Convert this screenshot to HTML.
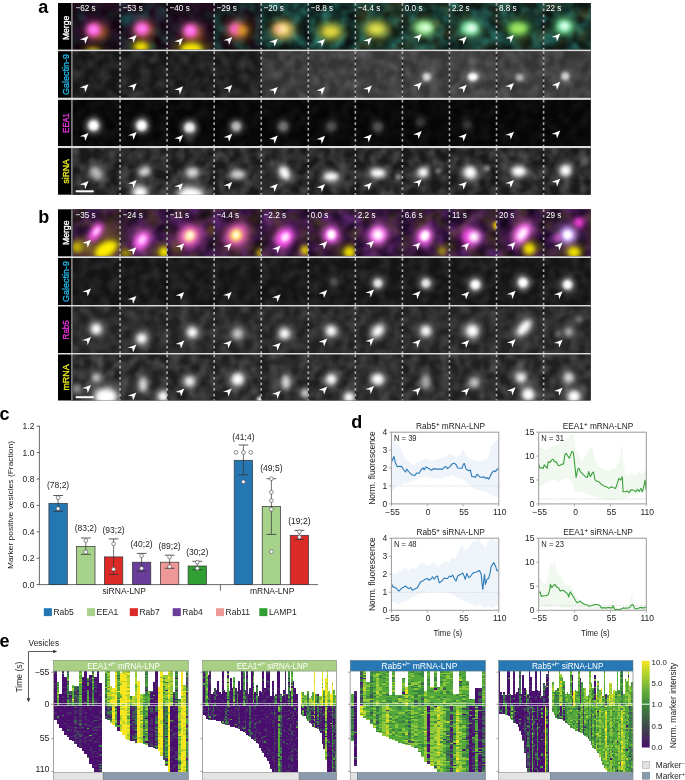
<!DOCTYPE html>
<html><head><meta charset="utf-8"><style>
html,body{margin:0;padding:0;background:#fff;width:685px;height:780px;overflow:hidden}
svg{display:block;font-family:"Liberation Sans",sans-serif;will-change:transform}
</style></head><body>
<svg width="685" height="780" viewBox="0 0 685 780">
<defs>
<filter id="mteal" x="0" y="0" width="100%" height="100%" color-interpolation-filters="sRGB"><feTurbulence type="fractalNoise" baseFrequency="0.09" numOctaves="2" seed="3"/><feGaussianBlur stdDeviation="1.0"/><feColorMatrix type="matrix" values="0 0 0 0 0.176 0 0 0 0 0.471 0 0 0 0 0.431 2.4 0 0 0 -0.75"/></filter>
<filter id="molive" x="0" y="0" width="100%" height="100%" color-interpolation-filters="sRGB"><feTurbulence type="fractalNoise" baseFrequency="0.07" numOctaves="2" seed="7"/><feGaussianBlur stdDeviation="1.0"/><feColorMatrix type="matrix" values="0 0 0 0 0.353 0 0 0 0 0.314 0 0 0 0 0.118 2.0 0 0 0 -0.8"/></filter>
<filter id="mpurp" x="0" y="0" width="100%" height="100%" color-interpolation-filters="sRGB"><feTurbulence type="fractalNoise" baseFrequency="0.08" numOctaves="2" seed="5"/><feGaussianBlur stdDeviation="1.0"/><feColorMatrix type="matrix" values="0 0 0 0 0.235 0 0 0 0 0.078 0 0 0 0 0.235 2.0 0 0 0 -0.7"/></filter>
<filter id="mpurp2" x="0" y="0" width="100%" height="100%" color-interpolation-filters="sRGB"><feTurbulence type="fractalNoise" baseFrequency="0.08" numOctaves="2" seed="4"/><feGaussianBlur stdDeviation="1.0"/><feColorMatrix type="matrix" values="0 0 0 0 0.392 0 0 0 0 0.165 0 0 0 0 0.463 2.2 0 0 0 -0.6"/></filter>
<filter id="mgray" x="0" y="0" width="100%" height="100%" color-interpolation-filters="sRGB"><feTurbulence type="fractalNoise" baseFrequency="0.1" numOctaves="2" seed="9"/><feGaussianBlur stdDeviation="0.8"/><feColorMatrix type="matrix" values="0 0 0 0 0.431 0 0 0 0 0.431 0 0 0 0 0.431 1.6 0 0 0 -0.55"/></filter>
<filter id="mdark" x="0" y="0" width="100%" height="100%" color-interpolation-filters="sRGB"><feTurbulence type="fractalNoise" baseFrequency="0.08" numOctaves="2" seed="11"/><feGaussianBlur stdDeviation="1.0"/><feColorMatrix type="matrix" values="0 0 0 0 0.000 0 0 0 0 0.000 0 0 0 0 0.000 2.0 0 0 0 -0.7"/></filter>
<filter id="bl8" x="-100%" y="-100%" width="300%" height="300%"><feGaussianBlur stdDeviation="0.8"/></filter>
<filter id="bl9" x="-100%" y="-100%" width="300%" height="300%"><feGaussianBlur stdDeviation="0.9"/></filter>
<filter id="bl10" x="-100%" y="-100%" width="300%" height="300%"><feGaussianBlur stdDeviation="1.0"/></filter>
<filter id="bl11" x="-100%" y="-100%" width="300%" height="300%"><feGaussianBlur stdDeviation="1.1"/></filter>
<filter id="bl12" x="-100%" y="-100%" width="300%" height="300%"><feGaussianBlur stdDeviation="1.2"/></filter>
<filter id="bl13" x="-100%" y="-100%" width="300%" height="300%"><feGaussianBlur stdDeviation="1.3"/></filter>
<filter id="bl14" x="-100%" y="-100%" width="300%" height="300%"><feGaussianBlur stdDeviation="1.4"/></filter>
<filter id="bl15" x="-100%" y="-100%" width="300%" height="300%"><feGaussianBlur stdDeviation="1.5"/></filter>
<filter id="bl16" x="-100%" y="-100%" width="300%" height="300%"><feGaussianBlur stdDeviation="1.6"/></filter>
<filter id="bl17" x="-100%" y="-100%" width="300%" height="300%"><feGaussianBlur stdDeviation="1.7"/></filter>
<filter id="bl18" x="-100%" y="-100%" width="300%" height="300%"><feGaussianBlur stdDeviation="1.8"/></filter>
<filter id="bl19" x="-100%" y="-100%" width="300%" height="300%"><feGaussianBlur stdDeviation="1.9"/></filter>
<filter id="bl20" x="-100%" y="-100%" width="300%" height="300%"><feGaussianBlur stdDeviation="2.0"/></filter>
<filter id="bl21" x="-100%" y="-100%" width="300%" height="300%"><feGaussianBlur stdDeviation="2.1"/></filter>
<filter id="bl22" x="-100%" y="-100%" width="300%" height="300%"><feGaussianBlur stdDeviation="2.2"/></filter>
<filter id="bl23" x="-100%" y="-100%" width="300%" height="300%"><feGaussianBlur stdDeviation="2.3"/></filter>
<filter id="bl24" x="-100%" y="-100%" width="300%" height="300%"><feGaussianBlur stdDeviation="2.4"/></filter>
<filter id="bl25" x="-100%" y="-100%" width="300%" height="300%"><feGaussianBlur stdDeviation="2.5"/></filter>
<filter id="bl26" x="-100%" y="-100%" width="300%" height="300%"><feGaussianBlur stdDeviation="2.6"/></filter>
<filter id="bl27" x="-100%" y="-100%" width="300%" height="300%"><feGaussianBlur stdDeviation="2.7"/></filter>
<filter id="bl28" x="-100%" y="-100%" width="300%" height="300%"><feGaussianBlur stdDeviation="2.8"/></filter>
<filter id="bl29" x="-100%" y="-100%" width="300%" height="300%"><feGaussianBlur stdDeviation="2.9"/></filter>
<filter id="bl30" x="-100%" y="-100%" width="300%" height="300%"><feGaussianBlur stdDeviation="3.0"/></filter>
<filter id="bl31" x="-100%" y="-100%" width="300%" height="300%"><feGaussianBlur stdDeviation="3.1"/></filter>
<filter id="bl32" x="-100%" y="-100%" width="300%" height="300%"><feGaussianBlur stdDeviation="3.2"/></filter>
<filter id="bl33" x="-100%" y="-100%" width="300%" height="300%"><feGaussianBlur stdDeviation="3.3"/></filter>
<filter id="bl34" x="-100%" y="-100%" width="300%" height="300%"><feGaussianBlur stdDeviation="3.4"/></filter>
<filter id="bl35" x="-100%" y="-100%" width="300%" height="300%"><feGaussianBlur stdDeviation="3.5"/></filter>
<filter id="bl36" x="-100%" y="-100%" width="300%" height="300%"><feGaussianBlur stdDeviation="3.6"/></filter>
<filter id="bl37" x="-100%" y="-100%" width="300%" height="300%"><feGaussianBlur stdDeviation="3.7"/></filter>
<filter id="bl38" x="-100%" y="-100%" width="300%" height="300%"><feGaussianBlur stdDeviation="3.8"/></filter>
<filter id="bl39" x="-100%" y="-100%" width="300%" height="300%"><feGaussianBlur stdDeviation="3.9"/></filter>
<filter id="bl40" x="-100%" y="-100%" width="300%" height="300%"><feGaussianBlur stdDeviation="4.0"/></filter>
<filter id="bl41" x="-100%" y="-100%" width="300%" height="300%"><feGaussianBlur stdDeviation="4.1"/></filter>
<filter id="bl42" x="-100%" y="-100%" width="300%" height="300%"><feGaussianBlur stdDeviation="4.2"/></filter>
<filter id="bl43" x="-100%" y="-100%" width="300%" height="300%"><feGaussianBlur stdDeviation="4.3"/></filter>
<filter id="bl44" x="-100%" y="-100%" width="300%" height="300%"><feGaussianBlur stdDeviation="4.4"/></filter>
<filter id="bl45" x="-100%" y="-100%" width="300%" height="300%"><feGaussianBlur stdDeviation="4.5"/></filter>
<filter id="bl46" x="-100%" y="-100%" width="300%" height="300%"><feGaussianBlur stdDeviation="4.6"/></filter>
<filter id="bl47" x="-100%" y="-100%" width="300%" height="300%"><feGaussianBlur stdDeviation="4.7"/></filter>
<filter id="bl48" x="-100%" y="-100%" width="300%" height="300%"><feGaussianBlur stdDeviation="4.8"/></filter>
<filter id="bl49" x="-100%" y="-100%" width="300%" height="300%"><feGaussianBlur stdDeviation="4.9"/></filter>
<filter id="bl50" x="-100%" y="-100%" width="300%" height="300%"><feGaussianBlur stdDeviation="5.0"/></filter>
</defs>

<text x="38.3" y="12.9" font-size="18" font-weight="bold">a</text>
<text x="38.3" y="222.7" font-size="18" font-weight="bold">b</text>
<text x="-0.6" y="420.4" font-size="18" font-weight="bold">c</text>
<text x="351.2" y="427.7" font-size="18" font-weight="bold">d</text>
<text x="-0.4" y="646.8" font-size="18" font-weight="bold">e</text>

<rect x="58.0" y="3.0" width="532.7" height="191.7" fill="#000"/>
<clipPath id="ca00"><rect x="73.00" y="3.00" width="47.06" height="46.60"/></clipPath>
<g clip-path="url(#ca00)">
<rect x="73.00" y="3.00" width="47.06" height="46.60" fill="#14060f"/>
<rect x="73.00" y="3.00" width="47.06" height="46.60" filter="url(#mteal)" opacity="0.18"/>
<rect x="73.00" y="3.00" width="47.06" height="46.60" filter="url(#mpurp)" opacity="0.60"/>
<ellipse cx="93.6" cy="29.8" rx="11.9" ry="11.049999999999999" fill="#ff5ae0" opacity="0.28" filter="url(#bl48)"/>
<ellipse cx="93.0" cy="52.0" rx="11.9" ry="6.8" fill="#d8c800" opacity="0.28" filter="url(#bl37)"/>
<ellipse cx="98.0" cy="32.0" rx="10" ry="8" fill="#b86a20" opacity="0.75" filter="url(#bl35)"/>
<ellipse cx="93.6" cy="29.8" rx="7" ry="6.5" fill="#ff5ae0" opacity="1" filter="url(#bl28)"/>
<ellipse cx="93.6" cy="29.5" rx="3.5" ry="3" fill="#ff9cff" opacity="0.8" filter="url(#bl20)"/>
<ellipse cx="93.0" cy="52.0" rx="7" ry="4" fill="#d8c800" opacity="0.9" filter="url(#bl22)"/>
<ellipse cx="81.0" cy="17.0" rx="4" ry="4" fill="#1a5a5a" opacity="0.5" filter="url(#bl25)"/>
<polygon points="88.5,36.0 79.8,39.4 84.4,39.9 85.2,44.1" fill="#fff"/>
</g>
<clipPath id="ca01"><rect x="120.06" y="3.00" width="47.06" height="46.60"/></clipPath>
<g clip-path="url(#ca01)">
<rect x="120.06" y="3.00" width="47.06" height="46.60" fill="#14060f"/>
<rect x="120.06" y="3.00" width="47.06" height="46.60" filter="url(#mteal)" opacity="0.45"/>
<rect x="120.06" y="3.00" width="47.06" height="46.60" filter="url(#mpurp)" opacity="0.50"/>
<ellipse cx="142.0" cy="28.7" rx="11.9" ry="11.049999999999999" fill="#ff5ae0" opacity="0.28" filter="url(#bl48)"/>
<ellipse cx="141.1" cy="47.0" rx="11.9" ry="8.5" fill="#f0e000" opacity="0.28" filter="url(#bl41)"/>
<ellipse cx="144.1" cy="30.0" rx="10" ry="8" fill="#b86a20" opacity="0.7" filter="url(#bl35)"/>
<ellipse cx="142.0" cy="28.7" rx="7" ry="6.5" fill="#ff5ae0" opacity="1" filter="url(#bl28)"/>
<ellipse cx="142.1" cy="28.5" rx="3.5" ry="3" fill="#ff9cff" opacity="0.8" filter="url(#bl20)"/>
<ellipse cx="141.1" cy="47.0" rx="7" ry="5" fill="#f0e000" opacity="1" filter="url(#bl24)"/>
<ellipse cx="126.7" cy="19.5" rx="6" ry="7" fill="#1a6060" opacity="0.7" filter="url(#bl30)"/>
<polygon points="136.7,35.0 128.0,38.4 132.6,38.9 133.4,43.1" fill="#fff"/>
</g>
<clipPath id="ca02"><rect x="167.12" y="3.00" width="47.06" height="46.60"/></clipPath>
<g clip-path="url(#ca02)">
<rect x="167.12" y="3.00" width="47.06" height="46.60" fill="#14060f"/>
<rect x="167.12" y="3.00" width="47.06" height="46.60" filter="url(#mteal)" opacity="0.22"/>
<rect x="167.12" y="3.00" width="47.06" height="46.60" filter="url(#mpurp)" opacity="0.50"/>
<ellipse cx="190.4" cy="30.8" rx="11.9" ry="11.049999999999999" fill="#ff5ae0" opacity="0.28" filter="url(#bl48)"/>
<ellipse cx="191.4" cy="49.0" rx="18.7" ry="10.2" fill="#f8e800" opacity="0.28" filter="url(#bl48)"/>
<ellipse cx="193.1" cy="33.0" rx="10" ry="8" fill="#b86a20" opacity="0.7" filter="url(#bl35)"/>
<ellipse cx="190.4" cy="30.8" rx="7" ry="6.5" fill="#ff5ae0" opacity="1" filter="url(#bl28)"/>
<ellipse cx="190.4" cy="30.5" rx="3.5" ry="3" fill="#ff9cff" opacity="0.8" filter="url(#bl20)"/>
<ellipse cx="191.4" cy="49.0" rx="11" ry="6" fill="#f8e800" opacity="1" filter="url(#bl28)"/>
<polygon points="183.1,38.1 174.4,41.5 179.0,42.0 179.8,46.2" fill="#fff"/>
</g>
<clipPath id="ca03"><rect x="214.18" y="3.00" width="47.06" height="46.60"/></clipPath>
<g clip-path="url(#ca03)">
<rect x="214.18" y="3.00" width="47.06" height="46.60" fill="#0e0a0c"/>
<rect x="214.18" y="3.00" width="47.06" height="46.60" filter="url(#mteal)" opacity="0.50"/>
<rect x="214.18" y="3.00" width="47.06" height="46.60" filter="url(#mpurp)" opacity="0.35"/>
<ellipse cx="239.2" cy="30.5" rx="15.299999999999999" ry="11.9" fill="#c07820" opacity="0.28" filter="url(#bl50)"/>
<ellipse cx="235.2" cy="29.0" rx="9.35" ry="9.35" fill="#ff60d0" opacity="0.28" filter="url(#bl42)"/>
<ellipse cx="239.2" cy="30.5" rx="9" ry="7" fill="#c07820" opacity="0.85" filter="url(#bl30)"/>
<ellipse cx="235.2" cy="29.0" rx="5.5" ry="5.5" fill="#ff60d0" opacity="1" filter="url(#bl25)"/>
<ellipse cx="241.6" cy="30.4" rx="4.5" ry="4.5" fill="#e0a020" opacity="0.8" filter="url(#bl22)"/>
<polygon points="232.3,36.9 223.6,40.3 228.2,40.8 229.0,45.0" fill="#fff"/>
</g>
<clipPath id="ca04"><rect x="261.24" y="3.00" width="47.06" height="46.60"/></clipPath>
<g clip-path="url(#ca04)">
<rect x="261.24" y="3.00" width="47.06" height="46.60" fill="#10201e"/>
<rect x="261.24" y="3.00" width="47.06" height="46.60" filter="url(#mteal)" opacity="0.90"/>
<rect x="261.24" y="3.00" width="47.06" height="46.60" filter="url(#mdark)" opacity="0.60"/>
<ellipse cx="282.7" cy="29.5" rx="14.45" ry="11.049999999999999" fill="#f8d870" opacity="0.28" filter="url(#bl50)"/>
<ellipse cx="283.2" cy="30.0" rx="11" ry="9" fill="#a08030" opacity="0.7" filter="url(#bl35)"/>
<ellipse cx="282.7" cy="29.5" rx="8.5" ry="6.5" fill="#f8d870" opacity="1" filter="url(#bl30)"/>
<ellipse cx="282.2" cy="29.0" rx="4" ry="3.5" fill="#fff0c0" opacity="0.8" filter="url(#bl20)"/>
<ellipse cx="278.2" cy="29.0" rx="4" ry="4" fill="#ffa0a0" opacity="0.5" filter="url(#bl22)"/>
<polygon points="277.8,38.7 269.1,42.1 273.7,42.6 274.5,46.8" fill="#fff"/>
</g>
<clipPath id="ca05"><rect x="308.30" y="3.00" width="47.06" height="46.60"/></clipPath>
<g clip-path="url(#ca05)">
<rect x="308.30" y="3.00" width="47.06" height="46.60" fill="#10201e"/>
<rect x="308.30" y="3.00" width="47.06" height="46.60" filter="url(#mteal)" opacity="0.90"/>
<rect x="308.30" y="3.00" width="47.06" height="46.60" filter="url(#mdark)" opacity="0.60"/>
<ellipse cx="330.8" cy="31.5" rx="15.299999999999999" ry="9.35" fill="#f0e040" opacity="0.28" filter="url(#bl50)"/>
<ellipse cx="330.8" cy="31.5" rx="12" ry="8" fill="#708a30" opacity="0.7" filter="url(#bl35)"/>
<ellipse cx="330.8" cy="31.5" rx="9" ry="5.5" fill="#f0e040" opacity="1" filter="url(#bl30)"/>
<polygon points="325.1,38.9 316.4,42.3 321.0,42.8 321.8,47.0" fill="#fff"/>
</g>
<clipPath id="ca06"><rect x="355.36" y="3.00" width="47.06" height="46.60"/></clipPath>
<g clip-path="url(#ca06)">
<rect x="355.36" y="3.00" width="47.06" height="46.60" fill="#14221a"/>
<rect x="355.36" y="3.00" width="47.06" height="46.60" filter="url(#mteal)" opacity="0.80"/>
<rect x="355.36" y="3.00" width="47.06" height="46.60" filter="url(#molive)" opacity="0.60"/>
<rect x="355.36" y="3.00" width="47.06" height="46.60" filter="url(#mdark)" opacity="0.50"/>
<ellipse cx="376.1" cy="29.0" rx="15.299999999999999" ry="9.35" fill="#e8e850" opacity="0.28" filter="url(#bl50)"/>
<ellipse cx="376.4" cy="29.0" rx="12" ry="8" fill="#809030" opacity="0.7" filter="url(#bl35)"/>
<ellipse cx="376.1" cy="29.0" rx="9" ry="5.5" fill="#e8e850" opacity="1" filter="url(#bl30)"/>
<polygon points="371.9,37.4 363.2,40.8 367.8,41.3 368.6,45.5" fill="#fff"/>
</g>
<clipPath id="ca07"><rect x="402.42" y="3.00" width="47.06" height="46.60"/></clipPath>
<g clip-path="url(#ca07)">
<rect x="402.42" y="3.00" width="47.06" height="46.60" fill="#10201e"/>
<rect x="402.42" y="3.00" width="47.06" height="46.60" filter="url(#mteal)" opacity="0.90"/>
<rect x="402.42" y="3.00" width="47.06" height="46.60" filter="url(#molive)" opacity="0.50"/>
<rect x="402.42" y="3.00" width="47.06" height="46.60" filter="url(#mdark)" opacity="0.50"/>
<ellipse cx="424.4" cy="27.8" rx="15.299999999999999" ry="10.2" fill="#a8f0a0" opacity="0.28" filter="url(#bl48)"/>
<ellipse cx="425.4" cy="27.5" rx="7.6499999999999995" ry="5.1" fill="#e8fff0" opacity="0.28" filter="url(#bl34)"/>
<ellipse cx="424.4" cy="28.0" rx="11" ry="8" fill="#50a040" opacity="0.7" filter="url(#bl35)"/>
<ellipse cx="424.4" cy="27.8" rx="9" ry="6" fill="#a8f0a0" opacity="1" filter="url(#bl28)"/>
<ellipse cx="425.4" cy="27.5" rx="4.5" ry="3" fill="#e8fff0" opacity="0.9" filter="url(#bl20)"/>
<ellipse cx="436.4" cy="23.0" rx="3" ry="3" fill="#807020" opacity="0.5" filter="url(#bl20)"/>
<polygon points="421.8,34.1 413.1,37.5 417.7,38.0 418.5,42.2" fill="#fff"/>
</g>
<clipPath id="ca08"><rect x="449.48" y="3.00" width="47.06" height="46.60"/></clipPath>
<g clip-path="url(#ca08)">
<rect x="449.48" y="3.00" width="47.06" height="46.60" fill="#10201e"/>
<rect x="449.48" y="3.00" width="47.06" height="46.60" filter="url(#mteal)" opacity="0.90"/>
<rect x="449.48" y="3.00" width="47.06" height="46.60" filter="url(#molive)" opacity="0.40"/>
<rect x="449.48" y="3.00" width="47.06" height="46.60" filter="url(#mdark)" opacity="0.50"/>
<ellipse cx="470.1" cy="28.4" rx="13.6" ry="10.2" fill="#90f0b0" opacity="0.28" filter="url(#bl48)"/>
<ellipse cx="471.5" cy="28.0" rx="7.6499999999999995" ry="5.95" fill="#f0fffc" opacity="0.28" filter="url(#bl34)"/>
<ellipse cx="470.1" cy="28.4" rx="11" ry="8" fill="#40a060" opacity="0.7" filter="url(#bl35)"/>
<ellipse cx="470.1" cy="28.4" rx="8" ry="6" fill="#90f0b0" opacity="1" filter="url(#bl28)"/>
<ellipse cx="471.5" cy="28.0" rx="4.5" ry="3.5" fill="#f0fffc" opacity="1" filter="url(#bl20)"/>
<polygon points="466.8,36.6 458.1,40.0 462.7,40.5 463.5,44.7" fill="#fff"/>
</g>
<clipPath id="ca09"><rect x="496.54" y="3.00" width="47.06" height="46.60"/></clipPath>
<g clip-path="url(#ca09)">
<rect x="496.54" y="3.00" width="47.06" height="46.60" fill="#10201e"/>
<rect x="496.54" y="3.00" width="47.06" height="46.60" filter="url(#mteal)" opacity="0.90"/>
<rect x="496.54" y="3.00" width="47.06" height="46.60" filter="url(#molive)" opacity="0.50"/>
<rect x="496.54" y="3.00" width="47.06" height="46.60" filter="url(#mdark)" opacity="0.50"/>
<ellipse cx="518.3" cy="28.4" rx="14.45" ry="9.35" fill="#a0e860" opacity="0.28" filter="url(#bl48)"/>
<ellipse cx="518.3" cy="28.4" rx="11" ry="7" fill="#40a040" opacity="0.7" filter="url(#bl35)"/>
<ellipse cx="518.3" cy="28.4" rx="8.5" ry="5.5" fill="#a0e860" opacity="1" filter="url(#bl28)"/>
<polygon points="514.0,34.8 505.3,38.2 509.9,38.7 510.7,42.9" fill="#fff"/>
</g>
<clipPath id="ca010"><rect x="543.60" y="3.00" width="47.06" height="46.60"/></clipPath>
<g clip-path="url(#ca010)">
<rect x="543.60" y="3.00" width="47.06" height="46.60" fill="#10201e"/>
<rect x="543.60" y="3.00" width="47.06" height="46.60" filter="url(#mteal)" opacity="0.90"/>
<rect x="543.60" y="3.00" width="47.06" height="46.60" filter="url(#molive)" opacity="0.50"/>
<rect x="543.60" y="3.00" width="47.06" height="46.60" filter="url(#mdark)" opacity="0.50"/>
<ellipse cx="563.9" cy="26.5" rx="11.9" ry="10.2" fill="#80f0b0" opacity="0.28" filter="url(#bl44)"/>
<ellipse cx="564.6" cy="26.0" rx="6.8" ry="5.95" fill="#f0fffc" opacity="0.28" filter="url(#bl34)"/>
<ellipse cx="563.9" cy="26.5" rx="10" ry="8" fill="#40a050" opacity="0.7" filter="url(#bl35)"/>
<ellipse cx="563.9" cy="26.5" rx="7" ry="6" fill="#80f0b0" opacity="1" filter="url(#bl26)"/>
<ellipse cx="564.6" cy="26.0" rx="4" ry="3.5" fill="#f0fffc" opacity="1" filter="url(#bl20)"/>
<ellipse cx="583.6" cy="15.0" rx="4" ry="4" fill="#806020" opacity="0.5" filter="url(#bl25)"/>
<polygon points="560.3,33.6 551.6,37.0 556.2,37.5 557.0,41.7" fill="#fff"/>
</g>
<text transform="translate(68.8 27.9) rotate(-90)" text-anchor="middle" font-size="9.6" fill="#ffffff" stroke="#ffffff" stroke-width="0.35" textLength="24.3" lengthAdjust="spacingAndGlyphs">Merge</text>
<clipPath id="ca10"><rect x="73.00" y="51.20" width="47.06" height="46.50"/></clipPath>
<g clip-path="url(#ca10)">
<rect x="73.00" y="51.20" width="47.06" height="46.50" fill="#161616"/>
<rect x="73.00" y="51.20" width="47.06" height="46.50" filter="url(#mgray)" opacity="0.47"/>
<polygon points="88.5,84.2 79.8,87.6 84.4,88.1 85.2,92.3" fill="#fff"/>
</g>
<clipPath id="ca11"><rect x="120.06" y="51.20" width="47.06" height="46.50"/></clipPath>
<g clip-path="url(#ca11)">
<rect x="120.06" y="51.20" width="47.06" height="46.50" fill="#181818"/>
<rect x="120.06" y="51.20" width="47.06" height="46.50" filter="url(#mgray)" opacity="0.50"/>
<polygon points="136.7,83.2 128.0,86.6 132.6,87.1 133.4,91.3" fill="#fff"/>
</g>
<clipPath id="ca12"><rect x="167.12" y="51.20" width="47.06" height="46.50"/></clipPath>
<g clip-path="url(#ca12)">
<rect x="167.12" y="51.20" width="47.06" height="46.50" fill="#171717"/>
<rect x="167.12" y="51.20" width="47.06" height="46.50" filter="url(#mgray)" opacity="0.49"/>
<polygon points="183.1,86.3 174.4,89.7 179.0,90.2 179.8,94.4" fill="#fff"/>
</g>
<clipPath id="ca13"><rect x="214.18" y="51.20" width="47.06" height="46.50"/></clipPath>
<g clip-path="url(#ca13)">
<rect x="214.18" y="51.20" width="47.06" height="46.50" fill="#181818"/>
<rect x="214.18" y="51.20" width="47.06" height="46.50" filter="url(#mgray)" opacity="0.50"/>
<polygon points="232.3,85.1 223.6,88.5 228.2,89.0 229.0,93.2" fill="#fff"/>
</g>
<clipPath id="ca14"><rect x="261.24" y="51.20" width="47.06" height="46.50"/></clipPath>
<g clip-path="url(#ca14)">
<rect x="261.24" y="51.20" width="47.06" height="46.50" fill="#323232"/>
<rect x="261.24" y="51.20" width="47.06" height="46.50" filter="url(#mgray)" opacity="0.77"/>
<polygon points="277.8,86.9 269.1,90.3 273.7,90.8 274.5,95.0" fill="#fff"/>
</g>
<clipPath id="ca15"><rect x="308.30" y="51.20" width="47.06" height="46.50"/></clipPath>
<g clip-path="url(#ca15)">
<rect x="308.30" y="51.20" width="47.06" height="46.50" fill="#353535"/>
<rect x="308.30" y="51.20" width="47.06" height="46.50" filter="url(#mgray)" opacity="0.80"/>
<polygon points="325.1,87.1 316.4,90.5 321.0,91.0 321.8,95.2" fill="#fff"/>
</g>
<clipPath id="ca16"><rect x="355.36" y="51.20" width="47.06" height="46.50"/></clipPath>
<g clip-path="url(#ca16)">
<rect x="355.36" y="51.20" width="47.06" height="46.50" fill="#373737"/>
<rect x="355.36" y="51.20" width="47.06" height="46.50" filter="url(#mgray)" opacity="0.82"/>
<polygon points="371.9,85.6 363.2,89.0 367.8,89.5 368.6,93.7" fill="#fff"/>
</g>
<clipPath id="ca17"><rect x="402.42" y="51.20" width="47.06" height="46.50"/></clipPath>
<g clip-path="url(#ca17)">
<rect x="402.42" y="51.20" width="47.06" height="46.50" fill="#373737"/>
<rect x="402.42" y="51.20" width="47.06" height="46.50" filter="url(#mgray)" opacity="0.82"/>
<ellipse cx="426.7" cy="76.9" rx="6.8" ry="6.8" fill="#d8d8d8" opacity="0.28" filter="url(#bl31)"/>
<ellipse cx="426.7" cy="76.9" rx="4" ry="4" fill="#d8d8d8" opacity="1" filter="url(#bl18)"/>
<polygon points="421.8,82.3 413.1,85.7 417.7,86.2 418.5,90.4" fill="#fff"/>
</g>
<clipPath id="ca18"><rect x="449.48" y="51.20" width="47.06" height="46.50"/></clipPath>
<g clip-path="url(#ca18)">
<rect x="449.48" y="51.20" width="47.06" height="46.50" fill="#373737"/>
<rect x="449.48" y="51.20" width="47.06" height="46.50" filter="url(#mgray)" opacity="0.82"/>
<ellipse cx="472.8" cy="76.9" rx="8.5" ry="6.8" fill="#ffffff" opacity="0.28" filter="url(#bl31)"/>
<ellipse cx="472.8" cy="76.9" rx="5" ry="4" fill="#ffffff" opacity="1" filter="url(#bl18)"/>
<ellipse cx="471.4" cy="61.2" rx="3" ry="3" fill="#888" opacity="0.7" filter="url(#bl20)"/>
<polygon points="466.8,84.8 458.1,88.2 462.7,88.7 463.5,92.9" fill="#fff"/>
</g>
<clipPath id="ca19"><rect x="496.54" y="51.20" width="47.06" height="46.50"/></clipPath>
<g clip-path="url(#ca19)">
<rect x="496.54" y="51.20" width="47.06" height="46.50" fill="#363636"/>
<rect x="496.54" y="51.20" width="47.06" height="46.50" filter="url(#mgray)" opacity="0.81"/>
<ellipse cx="519.7" cy="77.4" rx="6.8" ry="5.95" fill="#b0b0b0" opacity="0.28" filter="url(#bl31)"/>
<ellipse cx="519.7" cy="77.4" rx="4" ry="3.5" fill="#b0b0b0" opacity="1" filter="url(#bl18)"/>
<polygon points="514.0,83.0 505.3,86.4 509.9,86.9 510.7,91.1" fill="#fff"/>
</g>
<clipPath id="ca110"><rect x="543.60" y="51.20" width="47.06" height="46.50"/></clipPath>
<g clip-path="url(#ca110)">
<rect x="543.60" y="51.20" width="47.06" height="46.50" fill="#353535"/>
<rect x="543.60" y="51.20" width="47.06" height="46.50" filter="url(#mgray)" opacity="0.80"/>
<ellipse cx="565.3" cy="76.2" rx="6.8" ry="6.8" fill="#d0d0d0" opacity="0.28" filter="url(#bl31)"/>
<ellipse cx="565.3" cy="76.2" rx="4" ry="4" fill="#d0d0d0" opacity="1" filter="url(#bl18)"/>
<polygon points="560.3,81.8 551.6,85.2 556.2,85.7 557.0,89.9" fill="#fff"/>
</g>
<text transform="translate(68.8 74.5) rotate(-90)" text-anchor="middle" font-size="9.6" fill="#22b8e8" stroke="#22b8e8" stroke-width="0.35" textLength="41" lengthAdjust="spacingAndGlyphs">Galectin-9</text>
<clipPath id="ca20"><rect x="73.00" y="99.90" width="47.06" height="46.10"/></clipPath>
<g clip-path="url(#ca20)">
<rect x="73.00" y="99.90" width="47.06" height="46.10" fill="#060606"/>
<rect x="73.00" y="99.90" width="47.06" height="46.10" filter="url(#mgray)" opacity="0.18"/>
<ellipse cx="93.6" cy="125.6" rx="8.5" ry="8.5" fill="#ffffff" opacity="0.28" filter="url(#bl31)"/>
<ellipse cx="93.6" cy="125.6" rx="7" ry="7" fill="#ffffff" opacity="0.35" filter="url(#bl25)"/>
<ellipse cx="93.6" cy="125.6" rx="5" ry="5" fill="#ffffff" opacity="1" filter="url(#bl18)"/>
<polygon points="88.5,132.9 79.8,136.3 84.4,136.8 85.2,141.0" fill="#fff"/>
</g>
<clipPath id="ca21"><rect x="120.06" y="99.90" width="47.06" height="46.10"/></clipPath>
<g clip-path="url(#ca21)">
<rect x="120.06" y="99.90" width="47.06" height="46.10" fill="#060606"/>
<rect x="120.06" y="99.90" width="47.06" height="46.10" filter="url(#mgray)" opacity="0.18"/>
<ellipse cx="141.6" cy="125.6" rx="8.5" ry="8.5" fill="#ffffff" opacity="0.28" filter="url(#bl31)"/>
<ellipse cx="141.6" cy="125.6" rx="7" ry="7" fill="#ffffff" opacity="0.35" filter="url(#bl25)"/>
<ellipse cx="141.6" cy="125.6" rx="5" ry="5" fill="#ffffff" opacity="1" filter="url(#bl18)"/>
<polygon points="136.7,131.9 128.0,135.3 132.6,135.8 133.4,140.0" fill="#fff"/>
</g>
<clipPath id="ca22"><rect x="167.12" y="99.90" width="47.06" height="46.10"/></clipPath>
<g clip-path="url(#ca22)">
<rect x="167.12" y="99.90" width="47.06" height="46.10" fill="#060606"/>
<rect x="167.12" y="99.90" width="47.06" height="46.10" filter="url(#mgray)" opacity="0.18"/>
<ellipse cx="189.6" cy="127.8" rx="8.5" ry="8.5" fill="#f0f0f0" opacity="0.28" filter="url(#bl31)"/>
<ellipse cx="189.6" cy="127.8" rx="7" ry="7" fill="#f0f0f0" opacity="0.35" filter="url(#bl25)"/>
<ellipse cx="189.6" cy="127.8" rx="5" ry="5" fill="#f0f0f0" opacity="1" filter="url(#bl18)"/>
<ellipse cx="189.1" cy="137.9" rx="3" ry="5" fill="#505050" opacity="0.8" filter="url(#bl25)"/>
<polygon points="183.1,135.0 174.4,138.4 179.0,138.9 179.8,143.1" fill="#fff"/>
</g>
<clipPath id="ca23"><rect x="214.18" y="99.90" width="47.06" height="46.10"/></clipPath>
<g clip-path="url(#ca23)">
<rect x="214.18" y="99.90" width="47.06" height="46.10" fill="#060606"/>
<rect x="214.18" y="99.90" width="47.06" height="46.10" filter="url(#mgray)" opacity="0.18"/>
<ellipse cx="236.3" cy="126.4" rx="7.6499999999999995" ry="7.6499999999999995" fill="#b8b8b8" opacity="0.28" filter="url(#bl31)"/>
<ellipse cx="236.3" cy="126.4" rx="6.5" ry="6.5" fill="#b8b8b8" opacity="0.35" filter="url(#bl25)"/>
<ellipse cx="236.3" cy="126.4" rx="4.5" ry="4.5" fill="#b8b8b8" opacity="1" filter="url(#bl18)"/>
<polygon points="232.3,133.8 223.6,137.2 228.2,137.7 229.0,141.9" fill="#fff"/>
</g>
<clipPath id="ca24"><rect x="261.24" y="99.90" width="47.06" height="46.10"/></clipPath>
<g clip-path="url(#ca24)">
<rect x="261.24" y="99.90" width="47.06" height="46.10" fill="#060606"/>
<rect x="261.24" y="99.90" width="47.06" height="46.10" filter="url(#mgray)" opacity="0.18"/>
<ellipse cx="283.2" cy="126.4" rx="7.6499999999999995" ry="7.6499999999999995" fill="#707070" opacity="0.28" filter="url(#bl31)"/>
<ellipse cx="283.2" cy="126.4" rx="6.5" ry="6.5" fill="#707070" opacity="0.35" filter="url(#bl25)"/>
<ellipse cx="283.2" cy="126.4" rx="4.5" ry="4.5" fill="#707070" opacity="1" filter="url(#bl18)"/>
<polygon points="277.8,135.6 269.1,139.0 273.7,139.5 274.5,143.7" fill="#fff"/>
</g>
<clipPath id="ca25"><rect x="308.30" y="99.90" width="47.06" height="46.10"/></clipPath>
<g clip-path="url(#ca25)">
<rect x="308.30" y="99.90" width="47.06" height="46.10" fill="#060606"/>
<rect x="308.30" y="99.90" width="47.06" height="46.10" filter="url(#mgray)" opacity="0.18"/>
<ellipse cx="331.3" cy="126.4" rx="7.6499999999999995" ry="7.6499999999999995" fill="#505050" opacity="0.28" filter="url(#bl31)"/>
<ellipse cx="331.3" cy="126.4" rx="6.5" ry="6.5" fill="#505050" opacity="0.35" filter="url(#bl25)"/>
<ellipse cx="331.3" cy="126.4" rx="4.5" ry="4.5" fill="#505050" opacity="1" filter="url(#bl18)"/>
<polygon points="325.1,135.8 316.4,139.2 321.0,139.7 321.8,143.9" fill="#fff"/>
</g>
<clipPath id="ca26"><rect x="355.36" y="99.90" width="47.06" height="46.10"/></clipPath>
<g clip-path="url(#ca26)">
<rect x="355.36" y="99.90" width="47.06" height="46.10" fill="#060606"/>
<rect x="355.36" y="99.90" width="47.06" height="46.10" filter="url(#mgray)" opacity="0.18"/>
<ellipse cx="377.9" cy="126.9" rx="7.6499999999999995" ry="7.6499999999999995" fill="#505050" opacity="0.28" filter="url(#bl31)"/>
<ellipse cx="377.9" cy="126.9" rx="6.5" ry="6.5" fill="#505050" opacity="0.35" filter="url(#bl25)"/>
<ellipse cx="377.9" cy="126.9" rx="4.5" ry="4.5" fill="#505050" opacity="1" filter="url(#bl18)"/>
<polygon points="371.9,134.3 363.2,137.7 367.8,138.2 368.6,142.4" fill="#fff"/>
</g>
<clipPath id="ca27"><rect x="402.42" y="99.90" width="47.06" height="46.10"/></clipPath>
<g clip-path="url(#ca27)">
<rect x="402.42" y="99.90" width="47.06" height="46.10" fill="#060606"/>
<rect x="402.42" y="99.90" width="47.06" height="46.10" filter="url(#mgray)" opacity="0.18"/>
<ellipse cx="420.4" cy="122.3" rx="6.8" ry="6.8" fill="#363636" opacity="0.28" filter="url(#bl31)"/>
<ellipse cx="420.4" cy="122.3" rx="6" ry="6" fill="#363636" opacity="0.35" filter="url(#bl25)"/>
<ellipse cx="420.4" cy="122.3" rx="4" ry="4" fill="#363636" opacity="1" filter="url(#bl18)"/>
<polygon points="421.8,131.0 413.1,134.4 417.7,134.9 418.5,139.1" fill="#fff"/>
</g>
<clipPath id="ca28"><rect x="449.48" y="99.90" width="47.06" height="46.10"/></clipPath>
<g clip-path="url(#ca28)">
<rect x="449.48" y="99.90" width="47.06" height="46.10" fill="#060606"/>
<rect x="449.48" y="99.90" width="47.06" height="46.10" filter="url(#mgray)" opacity="0.18"/>
<ellipse cx="467.1" cy="124.9" rx="6.8" ry="6.8" fill="#363636" opacity="0.28" filter="url(#bl31)"/>
<ellipse cx="467.1" cy="124.9" rx="6" ry="6" fill="#363636" opacity="0.35" filter="url(#bl25)"/>
<ellipse cx="467.1" cy="124.9" rx="4" ry="4" fill="#363636" opacity="1" filter="url(#bl18)"/>
<polygon points="466.8,133.5 458.1,136.9 462.7,137.4 463.5,141.6" fill="#fff"/>
</g>
<clipPath id="ca29"><rect x="496.54" y="99.90" width="47.06" height="46.10"/></clipPath>
<g clip-path="url(#ca29)">
<rect x="496.54" y="99.90" width="47.06" height="46.10" fill="#060606"/>
<rect x="496.54" y="99.90" width="47.06" height="46.10" filter="url(#mgray)" opacity="0.18"/>
<polygon points="514.0,131.7 505.3,135.1 509.9,135.6 510.7,139.8" fill="#fff"/>
</g>
<clipPath id="ca210"><rect x="543.60" y="99.90" width="47.06" height="46.10"/></clipPath>
<g clip-path="url(#ca210)">
<rect x="543.60" y="99.90" width="47.06" height="46.10" fill="#060606"/>
<rect x="543.60" y="99.90" width="47.06" height="46.10" filter="url(#mgray)" opacity="0.18"/>
<polygon points="560.3,130.5 551.6,133.9 556.2,134.4 557.0,138.6" fill="#fff"/>
</g>
<text transform="translate(68.8 123.0) rotate(-90)" text-anchor="middle" font-size="9.6" fill="#ec34e4" stroke="#ec34e4" stroke-width="0.35" textLength="19.3" lengthAdjust="spacingAndGlyphs">EEA1</text>
<clipPath id="ca30"><rect x="73.00" y="148.10" width="47.06" height="46.60"/></clipPath>
<g clip-path="url(#ca30)">
<rect x="73.00" y="148.10" width="47.06" height="46.60" fill="#1a1a1a"/>
<rect x="73.00" y="148.10" width="47.06" height="46.60" filter="url(#mgray)" opacity="0.80"/>
<ellipse cx="96.3" cy="173.1" rx="8.5" ry="11.9" fill="#b8b8b8" opacity="0.28" filter="url(#bl39)" transform="rotate(-35 96.3 173.1)"/>
<ellipse cx="96.3" cy="173.1" rx="5" ry="7" fill="#b8b8b8" opacity="1" filter="url(#bl23)" transform="rotate(-35 96.3 173.1)"/>
<ellipse cx="79.0" cy="178.1" rx="4" ry="4" fill="#555" opacity="0.7" filter="url(#bl25)"/>
<ellipse cx="103.0" cy="158.1" rx="5" ry="4" fill="#404040" opacity="0.6" filter="url(#bl30)"/>
<polygon points="88.5,181.1 79.8,184.5 84.4,185.0 85.2,189.2" fill="#fff"/>
</g>
<clipPath id="ca31"><rect x="120.06" y="148.10" width="47.06" height="46.60"/></clipPath>
<g clip-path="url(#ca31)">
<rect x="120.06" y="148.10" width="47.06" height="46.60" fill="#1a1a1a"/>
<rect x="120.06" y="148.10" width="47.06" height="46.60" filter="url(#mgray)" opacity="0.80"/>
<ellipse cx="144.4" cy="171.7" rx="10.2" ry="6.8" fill="#d8d8d8" opacity="0.28" filter="url(#bl37)" transform="rotate(-20 144.4 171.7)"/>
<ellipse cx="140.3" cy="192.6" rx="11.9" ry="10.2" fill="#ffffff" opacity="0.28" filter="url(#bl41)"/>
<ellipse cx="144.4" cy="171.7" rx="6" ry="4" fill="#d8d8d8" opacity="1" filter="url(#bl22)" transform="rotate(-20 144.4 171.7)"/>
<ellipse cx="140.3" cy="192.6" rx="7" ry="6" fill="#ffffff" opacity="1" filter="url(#bl24)"/>
<ellipse cx="128.1" cy="158.1" rx="5" ry="4" fill="#3a3a3a" opacity="0.6" filter="url(#bl30)"/>
<polygon points="136.7,180.1 128.0,183.5 132.6,184.0 133.4,188.2" fill="#fff"/>
</g>
<clipPath id="ca32"><rect x="167.12" y="148.10" width="47.06" height="46.60"/></clipPath>
<g clip-path="url(#ca32)">
<rect x="167.12" y="148.10" width="47.06" height="46.60" fill="#1a1a1a"/>
<rect x="167.12" y="148.10" width="47.06" height="46.60" filter="url(#mgray)" opacity="0.80"/>
<ellipse cx="192.3" cy="172.5" rx="10.2" ry="7.6499999999999995" fill="#d8d8d8" opacity="0.28" filter="url(#bl37)"/>
<ellipse cx="190.6" cy="195.6" rx="20.4" ry="13.6" fill="#ffffff" opacity="0.28" filter="url(#bl44)"/>
<ellipse cx="192.3" cy="172.5" rx="6" ry="4.5" fill="#d8d8d8" opacity="1" filter="url(#bl22)"/>
<ellipse cx="190.6" cy="195.6" rx="12" ry="8" fill="#ffffff" opacity="1" filter="url(#bl26)"/>
<polygon points="183.1,183.2 174.4,186.6 179.0,187.1 179.8,191.3" fill="#fff"/>
</g>
<clipPath id="ca33"><rect x="214.18" y="148.10" width="47.06" height="46.60"/></clipPath>
<g clip-path="url(#ca33)">
<rect x="214.18" y="148.10" width="47.06" height="46.60" fill="#1a1a1a"/>
<rect x="214.18" y="148.10" width="47.06" height="46.60" filter="url(#mgray)" opacity="0.80"/>
<ellipse cx="237.7" cy="174.4" rx="11.9" ry="6.8" fill="#d0d0d0" opacity="0.28" filter="url(#bl37)"/>
<ellipse cx="237.7" cy="174.4" rx="7" ry="4" fill="#d0d0d0" opacity="1" filter="url(#bl22)"/>
<polygon points="232.3,182.0 223.6,185.4 228.2,185.9 229.0,190.1" fill="#fff"/>
</g>
<clipPath id="ca34"><rect x="261.24" y="148.10" width="47.06" height="46.60"/></clipPath>
<g clip-path="url(#ca34)">
<rect x="261.24" y="148.10" width="47.06" height="46.60" fill="#1a1a1a"/>
<rect x="261.24" y="148.10" width="47.06" height="46.60" filter="url(#mgray)" opacity="0.80"/>
<ellipse cx="284.5" cy="173.1" rx="7.6499999999999995" ry="11.9" fill="#ffffff" opacity="0.28" filter="url(#bl37)" transform="rotate(-30 284.5 173.1)"/>
<ellipse cx="284.5" cy="173.1" rx="4.5" ry="7" fill="#ffffff" opacity="1" filter="url(#bl22)" transform="rotate(-30 284.5 173.1)"/>
<ellipse cx="296.2" cy="160.1" rx="4" ry="4" fill="#404040" opacity="0.6" filter="url(#bl30)"/>
<polygon points="277.8,183.8 269.1,187.2 273.7,187.7 274.5,191.9" fill="#fff"/>
</g>
<clipPath id="ca35"><rect x="308.30" y="148.10" width="47.06" height="46.60"/></clipPath>
<g clip-path="url(#ca35)">
<rect x="308.30" y="148.10" width="47.06" height="46.60" fill="#1a1a1a"/>
<rect x="308.30" y="148.10" width="47.06" height="46.60" filter="url(#mgray)" opacity="0.80"/>
<ellipse cx="331.2" cy="176.6" rx="12.75" ry="6.8" fill="#ffffff" opacity="0.28" filter="url(#bl37)"/>
<ellipse cx="331.2" cy="176.6" rx="7.5" ry="4" fill="#ffffff" opacity="1" filter="url(#bl22)"/>
<ellipse cx="338.3" cy="156.1" rx="5" ry="4" fill="#404040" opacity="0.6" filter="url(#bl30)"/>
<polygon points="325.1,184.0 316.4,187.4 321.0,187.9 321.8,192.1" fill="#fff"/>
</g>
<clipPath id="ca36"><rect x="355.36" y="148.10" width="47.06" height="46.60"/></clipPath>
<g clip-path="url(#ca36)">
<rect x="355.36" y="148.10" width="47.06" height="46.60" fill="#1a1a1a"/>
<rect x="355.36" y="148.10" width="47.06" height="46.60" filter="url(#mgray)" opacity="0.80"/>
<ellipse cx="377.9" cy="173.1" rx="12.75" ry="6.8" fill="#ffffff" opacity="0.28" filter="url(#bl37)"/>
<ellipse cx="377.9" cy="173.1" rx="7.5" ry="4" fill="#ffffff" opacity="1" filter="url(#bl22)"/>
<ellipse cx="398.4" cy="177.1" rx="3" ry="3" fill="#888888" opacity="1" filter="url(#bl18)"/>
<polygon points="371.9,182.5 363.2,185.9 367.8,186.4 368.6,190.6" fill="#fff"/>
</g>
<clipPath id="ca37"><rect x="402.42" y="148.10" width="47.06" height="46.60"/></clipPath>
<g clip-path="url(#ca37)">
<rect x="402.42" y="148.10" width="47.06" height="46.60" fill="#1a1a1a"/>
<rect x="402.42" y="148.10" width="47.06" height="46.60" filter="url(#mgray)" opacity="0.80"/>
<ellipse cx="423.1" cy="172.5" rx="8.5" ry="7.6499999999999995" fill="#ffffff" opacity="0.28" filter="url(#bl37)"/>
<ellipse cx="423.1" cy="172.5" rx="5" ry="4.5" fill="#ffffff" opacity="1" filter="url(#bl22)"/>
<ellipse cx="438.2" cy="170.9" rx="3" ry="3" fill="#777777" opacity="1" filter="url(#bl18)"/>
<polygon points="421.8,179.2 413.1,182.6 417.7,183.1 418.5,187.3" fill="#fff"/>
</g>
<clipPath id="ca38"><rect x="449.48" y="148.10" width="47.06" height="46.60"/></clipPath>
<g clip-path="url(#ca38)">
<rect x="449.48" y="148.10" width="47.06" height="46.60" fill="#1a1a1a"/>
<rect x="449.48" y="148.10" width="47.06" height="46.60" filter="url(#mgray)" opacity="0.80"/>
<ellipse cx="470.2" cy="172.6" rx="10.2" ry="10.2" fill="#ffffff" opacity="0.28" filter="url(#bl39)"/>
<ellipse cx="470.2" cy="172.6" rx="6" ry="6" fill="#ffffff" opacity="1" filter="url(#bl23)"/>
<ellipse cx="486.8" cy="168.4" rx="3" ry="3" fill="#888888" opacity="1" filter="url(#bl18)"/>
<polygon points="466.8,181.7 458.1,185.1 462.7,185.6 463.5,189.8" fill="#fff"/>
</g>
<clipPath id="ca39"><rect x="496.54" y="148.10" width="47.06" height="46.60"/></clipPath>
<g clip-path="url(#ca39)">
<rect x="496.54" y="148.10" width="47.06" height="46.60" fill="#1a1a1a"/>
<rect x="496.54" y="148.10" width="47.06" height="46.60" filter="url(#mgray)" opacity="0.80"/>
<ellipse cx="518.9" cy="171.5" rx="11.9" ry="8.5" fill="#ffffff" opacity="0.28" filter="url(#bl39)"/>
<ellipse cx="518.9" cy="171.5" rx="7" ry="5" fill="#ffffff" opacity="1" filter="url(#bl23)"/>
<polygon points="514.0,179.9 505.3,183.3 509.9,183.8 510.7,188.0" fill="#fff"/>
</g>
<clipPath id="ca310"><rect x="543.60" y="148.10" width="47.06" height="46.60"/></clipPath>
<g clip-path="url(#ca310)">
<rect x="543.60" y="148.10" width="47.06" height="46.60" fill="#1a1a1a"/>
<rect x="543.60" y="148.10" width="47.06" height="46.60" filter="url(#mgray)" opacity="0.80"/>
<ellipse cx="565.6" cy="170.5" rx="9.35" ry="9.35" fill="#ffffff" opacity="0.28" filter="url(#bl37)"/>
<ellipse cx="584.2" cy="161.1" rx="5.95" ry="5.95" fill="#666666" opacity="0.28" filter="url(#bl34)"/>
<ellipse cx="565.6" cy="170.5" rx="5.5" ry="5.5" fill="#ffffff" opacity="1" filter="url(#bl22)"/>
<ellipse cx="584.2" cy="161.1" rx="3.5" ry="3.5" fill="#666666" opacity="1" filter="url(#bl20)"/>
<polygon points="560.3,178.7 551.6,182.1 556.2,182.6 557.0,186.8" fill="#fff"/>
</g>
<text transform="translate(68.8 171.4) rotate(-90)" text-anchor="middle" font-size="9.6" fill="#e6e61e" stroke="#e6e61e" stroke-width="0.35" textLength="24.4" lengthAdjust="spacingAndGlyphs">siRNA</text>
<line x1="120.06" y1="3.0" x2="120.06" y2="49.6" stroke="#aaaaaa" stroke-width="1.6" stroke-dasharray="2.7 2.9"/>
<line x1="120.06" y1="51.2" x2="120.06" y2="97.7" stroke="#aaaaaa" stroke-width="1.6" stroke-dasharray="2.7 2.9"/>
<line x1="120.06" y1="99.9" x2="120.06" y2="146.0" stroke="#aaaaaa" stroke-width="1.6" stroke-dasharray="2.7 2.9"/>
<line x1="120.06" y1="148.1" x2="120.06" y2="194.7" stroke="#aaaaaa" stroke-width="1.6" stroke-dasharray="2.7 2.9"/>
<line x1="167.12" y1="3.0" x2="167.12" y2="49.6" stroke="#aaaaaa" stroke-width="1.6" stroke-dasharray="2.7 2.9"/>
<line x1="167.12" y1="51.2" x2="167.12" y2="97.7" stroke="#aaaaaa" stroke-width="1.6" stroke-dasharray="2.7 2.9"/>
<line x1="167.12" y1="99.9" x2="167.12" y2="146.0" stroke="#aaaaaa" stroke-width="1.6" stroke-dasharray="2.7 2.9"/>
<line x1="167.12" y1="148.1" x2="167.12" y2="194.7" stroke="#aaaaaa" stroke-width="1.6" stroke-dasharray="2.7 2.9"/>
<line x1="214.18" y1="3.0" x2="214.18" y2="49.6" stroke="#aaaaaa" stroke-width="1.6" stroke-dasharray="2.7 2.9"/>
<line x1="214.18" y1="51.2" x2="214.18" y2="97.7" stroke="#aaaaaa" stroke-width="1.6" stroke-dasharray="2.7 2.9"/>
<line x1="214.18" y1="99.9" x2="214.18" y2="146.0" stroke="#aaaaaa" stroke-width="1.6" stroke-dasharray="2.7 2.9"/>
<line x1="214.18" y1="148.1" x2="214.18" y2="194.7" stroke="#aaaaaa" stroke-width="1.6" stroke-dasharray="2.7 2.9"/>
<line x1="261.24" y1="3.0" x2="261.24" y2="49.6" stroke="#aaaaaa" stroke-width="1.6" stroke-dasharray="2.7 2.9"/>
<line x1="261.24" y1="51.2" x2="261.24" y2="97.7" stroke="#aaaaaa" stroke-width="1.6" stroke-dasharray="2.7 2.9"/>
<line x1="261.24" y1="99.9" x2="261.24" y2="146.0" stroke="#aaaaaa" stroke-width="1.6" stroke-dasharray="2.7 2.9"/>
<line x1="261.24" y1="148.1" x2="261.24" y2="194.7" stroke="#aaaaaa" stroke-width="1.6" stroke-dasharray="2.7 2.9"/>
<line x1="308.30" y1="3.0" x2="308.30" y2="49.6" stroke="#aaaaaa" stroke-width="1.6" stroke-dasharray="2.7 2.9"/>
<line x1="308.30" y1="51.2" x2="308.30" y2="97.7" stroke="#aaaaaa" stroke-width="1.6" stroke-dasharray="2.7 2.9"/>
<line x1="308.30" y1="99.9" x2="308.30" y2="146.0" stroke="#aaaaaa" stroke-width="1.6" stroke-dasharray="2.7 2.9"/>
<line x1="308.30" y1="148.1" x2="308.30" y2="194.7" stroke="#aaaaaa" stroke-width="1.6" stroke-dasharray="2.7 2.9"/>
<line x1="355.36" y1="3.0" x2="355.36" y2="49.6" stroke="#aaaaaa" stroke-width="1.6" stroke-dasharray="2.7 2.9"/>
<line x1="355.36" y1="51.2" x2="355.36" y2="97.7" stroke="#aaaaaa" stroke-width="1.6" stroke-dasharray="2.7 2.9"/>
<line x1="355.36" y1="99.9" x2="355.36" y2="146.0" stroke="#aaaaaa" stroke-width="1.6" stroke-dasharray="2.7 2.9"/>
<line x1="355.36" y1="148.1" x2="355.36" y2="194.7" stroke="#aaaaaa" stroke-width="1.6" stroke-dasharray="2.7 2.9"/>
<line x1="402.42" y1="3.0" x2="402.42" y2="49.6" stroke="#aaaaaa" stroke-width="1.6" stroke-dasharray="2.7 2.9"/>
<line x1="402.42" y1="51.2" x2="402.42" y2="97.7" stroke="#aaaaaa" stroke-width="1.6" stroke-dasharray="2.7 2.9"/>
<line x1="402.42" y1="99.9" x2="402.42" y2="146.0" stroke="#aaaaaa" stroke-width="1.6" stroke-dasharray="2.7 2.9"/>
<line x1="402.42" y1="148.1" x2="402.42" y2="194.7" stroke="#aaaaaa" stroke-width="1.6" stroke-dasharray="2.7 2.9"/>
<line x1="449.48" y1="3.0" x2="449.48" y2="49.6" stroke="#aaaaaa" stroke-width="1.6" stroke-dasharray="2.7 2.9"/>
<line x1="449.48" y1="51.2" x2="449.48" y2="97.7" stroke="#aaaaaa" stroke-width="1.6" stroke-dasharray="2.7 2.9"/>
<line x1="449.48" y1="99.9" x2="449.48" y2="146.0" stroke="#aaaaaa" stroke-width="1.6" stroke-dasharray="2.7 2.9"/>
<line x1="449.48" y1="148.1" x2="449.48" y2="194.7" stroke="#aaaaaa" stroke-width="1.6" stroke-dasharray="2.7 2.9"/>
<line x1="496.54" y1="3.0" x2="496.54" y2="49.6" stroke="#aaaaaa" stroke-width="1.6" stroke-dasharray="2.7 2.9"/>
<line x1="496.54" y1="51.2" x2="496.54" y2="97.7" stroke="#aaaaaa" stroke-width="1.6" stroke-dasharray="2.7 2.9"/>
<line x1="496.54" y1="99.9" x2="496.54" y2="146.0" stroke="#aaaaaa" stroke-width="1.6" stroke-dasharray="2.7 2.9"/>
<line x1="496.54" y1="148.1" x2="496.54" y2="194.7" stroke="#aaaaaa" stroke-width="1.6" stroke-dasharray="2.7 2.9"/>
<line x1="543.60" y1="3.0" x2="543.60" y2="49.6" stroke="#aaaaaa" stroke-width="1.6" stroke-dasharray="2.7 2.9"/>
<line x1="543.60" y1="51.2" x2="543.60" y2="97.7" stroke="#aaaaaa" stroke-width="1.6" stroke-dasharray="2.7 2.9"/>
<line x1="543.60" y1="99.9" x2="543.60" y2="146.0" stroke="#aaaaaa" stroke-width="1.6" stroke-dasharray="2.7 2.9"/>
<line x1="543.60" y1="148.1" x2="543.60" y2="194.7" stroke="#aaaaaa" stroke-width="1.6" stroke-dasharray="2.7 2.9"/>
<rect x="71" y="3.0" width="1.8" height="191.7" fill="#7a7a7a"/>
<rect x="58.0" y="49.60" width="532.7" height="1.60" fill="#dedede"/>
<rect x="58.0" y="97.70" width="532.7" height="2.20" fill="#dedede"/>
<rect x="58.0" y="146.00" width="532.7" height="2.10" fill="#dedede"/>
<text transform="translate(75.4 11.4) scale(0.9 1)" font-size="9.1" fill="#fff">−62 s</text>
<text transform="translate(122.5 11.4) scale(0.9 1)" font-size="9.1" fill="#fff">−53 s</text>
<text transform="translate(169.5 11.4) scale(0.9 1)" font-size="9.1" fill="#fff">−40 s</text>
<text transform="translate(216.6 11.4) scale(0.9 1)" font-size="9.1" fill="#fff">−29 s</text>
<text transform="translate(263.6 11.4) scale(0.9 1)" font-size="9.1" fill="#fff">−20 s</text>
<text transform="translate(310.7 11.4) scale(0.9 1)" font-size="9.1" fill="#fff">−8.8 s</text>
<text transform="translate(357.8 11.4) scale(0.9 1)" font-size="9.1" fill="#fff">−4.4 s</text>
<text transform="translate(404.8 11.4) scale(0.9 1)" font-size="9.1" fill="#fff">0.0 s</text>
<text transform="translate(451.9 11.4) scale(0.9 1)" font-size="9.1" fill="#fff">2.2 s</text>
<text transform="translate(498.9 11.4) scale(0.9 1)" font-size="9.1" fill="#fff">8.8 s</text>
<text transform="translate(546.0 11.4) scale(0.9 1)" font-size="9.1" fill="#fff">22 s</text>
<rect x="58.0" y="209.3" width="532.7" height="191.2" fill="#000"/>
<clipPath id="cb00"><rect x="73.00" y="209.30" width="47.06" height="47.00"/></clipPath>
<g clip-path="url(#cb00)">
<rect x="73.00" y="209.30" width="47.06" height="47.00" fill="#1e0c2a"/>
<rect x="73.00" y="209.30" width="47.06" height="47.00" filter="url(#mpurp2)" opacity="0.90"/>
<rect x="73.00" y="209.30" width="47.06" height="47.00" filter="url(#molive)" opacity="0.75"/>
<rect x="73.00" y="209.30" width="47.06" height="47.00" filter="url(#mdark)" opacity="0.50"/>
<ellipse cx="95.7" cy="232.2" rx="8.5" ry="17.0" fill="#ff60f0" opacity="0.28" filter="url(#bl44)" transform="rotate(35 95.7 232.2)"/>
<ellipse cx="106.0" cy="249.3" rx="20.4" ry="11.9" fill="#ffee00" opacity="0.28" filter="url(#bl48)" transform="rotate(-30 106.0 249.3)"/>
<ellipse cx="82.0" cy="246.3" rx="12" ry="8" fill="#a09010" opacity="0.6" filter="url(#bl40)"/>
<ellipse cx="109.0" cy="227.3" rx="6" ry="14" fill="#706010" opacity="0.5" filter="url(#bl40)" transform="rotate(30 109.0 227.3)"/>
<ellipse cx="95.7" cy="232.2" rx="5" ry="10" fill="#ff60f0" opacity="1" filter="url(#bl26)" transform="rotate(35 95.7 232.2)"/>
<ellipse cx="96.5" cy="231.3" rx="2.5" ry="4.5" fill="#ffc8ff" opacity="0.9" filter="url(#bl18)" transform="rotate(35 96.5 231.3)"/>
<ellipse cx="106.0" cy="249.3" rx="12" ry="7" fill="#ffee00" opacity="1" filter="url(#bl28)" transform="rotate(-30 106.0 249.3)"/>
<ellipse cx="77.0" cy="247.3" rx="5" ry="5" fill="#e0d000" opacity="0.8" filter="url(#bl25)"/>
<polygon points="91.0,239.7 82.3,243.1 86.9,243.6 87.7,247.8" fill="#fff"/>
</g>
<clipPath id="cb01"><rect x="120.06" y="209.30" width="47.06" height="47.00"/></clipPath>
<g clip-path="url(#cb01)">
<rect x="120.06" y="209.30" width="47.06" height="47.00" fill="#1e0c2a"/>
<rect x="120.06" y="209.30" width="47.06" height="47.00" filter="url(#mpurp2)" opacity="0.90"/>
<rect x="120.06" y="209.30" width="47.06" height="47.00" filter="url(#molive)" opacity="0.75"/>
<rect x="120.06" y="209.30" width="47.06" height="47.00" filter="url(#mdark)" opacity="0.50"/>
<ellipse cx="141.6" cy="240.6" rx="11.9" ry="17.0" fill="#ff60f0" opacity="0.28" filter="url(#bl48)" transform="rotate(35 141.6 240.6)"/>
<ellipse cx="142.1" cy="239.8" rx="5.95" ry="8.5" fill="#ffc8ff" opacity="0.28" filter="url(#bl31)" transform="rotate(35 142.1 239.8)"/>
<ellipse cx="164.1" cy="252.3" rx="8.5" ry="8.5" fill="#f0e000" opacity="0.28" filter="url(#bl37)"/>
<ellipse cx="141.6" cy="240.6" rx="7" ry="10" fill="#ff60f0" opacity="1" filter="url(#bl28)" transform="rotate(35 141.6 240.6)"/>
<ellipse cx="142.1" cy="239.8" rx="3.5" ry="5" fill="#ffc8ff" opacity="0.95" filter="url(#bl18)" transform="rotate(35 142.1 239.8)"/>
<ellipse cx="164.1" cy="252.3" rx="5" ry="5" fill="#f0e000" opacity="1" filter="url(#bl22)"/>
<ellipse cx="126.1" cy="253.3" rx="6" ry="4" fill="#c0b000" opacity="0.8" filter="url(#bl25)"/>
<ellipse cx="150.1" cy="221.3" rx="6" ry="5" fill="#504010" opacity="0.5" filter="url(#bl30)"/>
<polygon points="136.4,247.2 127.7,250.6 132.3,251.1 133.1,255.3" fill="#fff"/>
</g>
<clipPath id="cb02"><rect x="167.12" y="209.30" width="47.06" height="47.00"/></clipPath>
<g clip-path="url(#cb02)">
<rect x="167.12" y="209.30" width="47.06" height="47.00" fill="#1e0c2a"/>
<rect x="167.12" y="209.30" width="47.06" height="47.00" filter="url(#mpurp2)" opacity="0.90"/>
<rect x="167.12" y="209.30" width="47.06" height="47.00" filter="url(#molive)" opacity="0.75"/>
<rect x="167.12" y="209.30" width="47.06" height="47.00" filter="url(#mdark)" opacity="0.50"/>
<ellipse cx="189.6" cy="235.9" rx="15.299999999999999" ry="17.849999999999998" fill="#ff50e0" opacity="0.28" filter="url(#bl50)" transform="rotate(40 189.6 235.9)"/>
<ellipse cx="189.6" cy="235.9" rx="9.35" ry="11.049999999999999" fill="#ffe090" opacity="0.28" filter="url(#bl37)" transform="rotate(40 189.6 235.9)"/>
<ellipse cx="189.6" cy="235.9" rx="9" ry="10.5" fill="#ff50e0" opacity="0.9" filter="url(#bl30)" transform="rotate(40 189.6 235.9)"/>
<ellipse cx="189.6" cy="235.9" rx="5.5" ry="6.5" fill="#ffe090" opacity="1" filter="url(#bl22)" transform="rotate(40 189.6 235.9)"/>
<ellipse cx="190.1" cy="235.3" rx="3" ry="3.5" fill="#fffae0" opacity="1" filter="url(#bl16)"/>
<ellipse cx="211.1" cy="229.3" rx="3" ry="6" fill="#806010" opacity="0.6" filter="url(#bl25)"/>
<ellipse cx="177.1" cy="249.3" rx="6" ry="5" fill="#706010" opacity="0.6" filter="url(#bl30)"/>
<polygon points="184.3,243.3 175.6,246.7 180.2,247.2 181.0,251.4" fill="#fff"/>
</g>
<clipPath id="cb03"><rect x="214.18" y="209.30" width="47.06" height="47.00"/></clipPath>
<g clip-path="url(#cb03)">
<rect x="214.18" y="209.30" width="47.06" height="47.00" fill="#1e0c2a"/>
<rect x="214.18" y="209.30" width="47.06" height="47.00" filter="url(#mpurp2)" opacity="0.90"/>
<rect x="214.18" y="209.30" width="47.06" height="47.00" filter="url(#molive)" opacity="0.75"/>
<rect x="214.18" y="209.30" width="47.06" height="47.00" filter="url(#mdark)" opacity="0.50"/>
<ellipse cx="236.2" cy="235.1" rx="15.299999999999999" ry="17.849999999999998" fill="#ff50e0" opacity="0.28" filter="url(#bl50)" transform="rotate(40 236.2 235.1)"/>
<ellipse cx="236.2" cy="235.1" rx="10.2" ry="11.049999999999999" fill="#ffe850" opacity="0.28" filter="url(#bl37)" transform="rotate(40 236.2 235.1)"/>
<ellipse cx="236.2" cy="235.1" rx="9" ry="10.5" fill="#ff50e0" opacity="0.85" filter="url(#bl30)" transform="rotate(40 236.2 235.1)"/>
<ellipse cx="236.2" cy="235.1" rx="6" ry="6.5" fill="#ffe850" opacity="1" filter="url(#bl22)" transform="rotate(40 236.2 235.1)"/>
<ellipse cx="236.2" cy="234.8" rx="3" ry="3.5" fill="#fffae0" opacity="1" filter="url(#bl16)"/>
<ellipse cx="260.2" cy="253.3" rx="4" ry="4" fill="#d0c000" opacity="0.8" filter="url(#bl20)"/>
<ellipse cx="254.2" cy="219.3" rx="5" ry="5" fill="#605010" opacity="0.5" filter="url(#bl30)"/>
<polygon points="231.7,243.2 223.0,246.6 227.6,247.1 228.4,251.3" fill="#fff"/>
</g>
<clipPath id="cb04"><rect x="261.24" y="209.30" width="47.06" height="47.00"/></clipPath>
<g clip-path="url(#cb04)">
<rect x="261.24" y="209.30" width="47.06" height="47.00" fill="#1e0c2a"/>
<rect x="261.24" y="209.30" width="47.06" height="47.00" filter="url(#mpurp2)" opacity="0.90"/>
<rect x="261.24" y="209.30" width="47.06" height="47.00" filter="url(#molive)" opacity="0.75"/>
<rect x="261.24" y="209.30" width="47.06" height="47.00" filter="url(#mdark)" opacity="0.50"/>
<ellipse cx="284.5" cy="237.8" rx="13.6" ry="17.0" fill="#ff50f0" opacity="0.28" filter="url(#bl48)" transform="rotate(35 284.5 237.8)"/>
<ellipse cx="285.2" cy="237.3" rx="6.8" ry="8.5" fill="#ffe8ff" opacity="0.28" filter="url(#bl31)" transform="rotate(35 285.2 237.3)"/>
<ellipse cx="305.2" cy="250.3" rx="6.8" ry="6.8" fill="#e0d000" opacity="0.28" filter="url(#bl34)"/>
<ellipse cx="284.5" cy="237.8" rx="8" ry="10" fill="#ff50f0" opacity="1" filter="url(#bl28)" transform="rotate(35 284.5 237.8)"/>
<ellipse cx="285.2" cy="237.3" rx="4" ry="5" fill="#ffe8ff" opacity="0.95" filter="url(#bl18)" transform="rotate(35 285.2 237.3)"/>
<ellipse cx="305.2" cy="250.3" rx="4" ry="4" fill="#e0d000" opacity="1" filter="url(#bl20)"/>
<polygon points="280.7,245.5 272.0,248.9 276.6,249.4 277.4,253.6" fill="#fff"/>
</g>
<clipPath id="cb05"><rect x="308.30" y="209.30" width="47.06" height="47.00"/></clipPath>
<g clip-path="url(#cb05)">
<rect x="308.30" y="209.30" width="47.06" height="47.00" fill="#1e0c2a"/>
<rect x="308.30" y="209.30" width="47.06" height="47.00" filter="url(#mpurp2)" opacity="0.90"/>
<rect x="308.30" y="209.30" width="47.06" height="47.00" filter="url(#molive)" opacity="0.75"/>
<rect x="308.30" y="209.30" width="47.06" height="47.00" filter="url(#mdark)" opacity="0.50"/>
<ellipse cx="331.2" cy="235.1" rx="11.9" ry="12.75" fill="#ff50f0" opacity="0.28" filter="url(#bl44)" transform="rotate(35 331.2 235.1)"/>
<ellipse cx="331.3" cy="234.8" rx="7.6499999999999995" ry="8.5" fill="#ffffff" opacity="0.28" filter="url(#bl31)"/>
<ellipse cx="349.3" cy="252.3" rx="8.5" ry="8.5" fill="#f0e000" opacity="0.28" filter="url(#bl34)"/>
<ellipse cx="331.2" cy="235.1" rx="7" ry="7.5" fill="#ff50f0" opacity="1" filter="url(#bl26)" transform="rotate(35 331.2 235.1)"/>
<ellipse cx="331.3" cy="234.8" rx="4.5" ry="5" fill="#ffffff" opacity="1" filter="url(#bl18)"/>
<ellipse cx="349.3" cy="252.3" rx="5" ry="5" fill="#f0e000" opacity="1" filter="url(#bl20)"/>
<polygon points="327.3,241.3 318.6,244.7 323.2,245.2 324.0,249.4" fill="#fff"/>
</g>
<clipPath id="cb06"><rect x="355.36" y="209.30" width="47.06" height="47.00"/></clipPath>
<g clip-path="url(#cb06)">
<rect x="355.36" y="209.30" width="47.06" height="47.00" fill="#1e0c2a"/>
<rect x="355.36" y="209.30" width="47.06" height="47.00" filter="url(#mpurp2)" opacity="0.90"/>
<rect x="355.36" y="209.30" width="47.06" height="47.00" filter="url(#molive)" opacity="0.75"/>
<rect x="355.36" y="209.30" width="47.06" height="47.00" filter="url(#mdark)" opacity="0.50"/>
<ellipse cx="377.9" cy="235.1" rx="14.45" ry="14.45" fill="#ff50f0" opacity="0.28" filter="url(#bl44)"/>
<ellipse cx="377.9" cy="234.8" rx="9.35" ry="9.35" fill="#ffffff" opacity="0.28" filter="url(#bl32)"/>
<ellipse cx="377.9" cy="235.1" rx="8.5" ry="8.5" fill="#ff50f0" opacity="1" filter="url(#bl26)"/>
<ellipse cx="377.9" cy="234.8" rx="5.5" ry="5.5" fill="#ffffff" opacity="1" filter="url(#bl19)"/>
<polygon points="374.0,240.7 365.3,244.1 369.9,244.6 370.7,248.8" fill="#fff"/>
</g>
<clipPath id="cb07"><rect x="402.42" y="209.30" width="47.06" height="47.00"/></clipPath>
<g clip-path="url(#cb07)">
<rect x="402.42" y="209.30" width="47.06" height="47.00" fill="#1e0c2a"/>
<rect x="402.42" y="209.30" width="47.06" height="47.00" filter="url(#mpurp2)" opacity="0.90"/>
<rect x="402.42" y="209.30" width="47.06" height="47.00" filter="url(#molive)" opacity="0.75"/>
<rect x="402.42" y="209.30" width="47.06" height="47.00" filter="url(#mdark)" opacity="0.50"/>
<ellipse cx="424.5" cy="236.4" rx="11.9" ry="13.6" fill="#ff50f0" opacity="0.28" filter="url(#bl44)" transform="rotate(30 424.5 236.4)"/>
<ellipse cx="424.9" cy="235.8" rx="7.6499999999999995" ry="9.35" fill="#ffffff" opacity="0.28" filter="url(#bl31)" transform="rotate(30 424.9 235.8)"/>
<ellipse cx="424.5" cy="236.4" rx="7" ry="8" fill="#ff50f0" opacity="1" filter="url(#bl26)" transform="rotate(30 424.5 236.4)"/>
<ellipse cx="424.9" cy="235.8" rx="4.5" ry="5.5" fill="#ffffff" opacity="1" filter="url(#bl18)" transform="rotate(30 424.9 235.8)"/>
<ellipse cx="442.4" cy="251.3" rx="4" ry="4" fill="#c0b000" opacity="0.7" filter="url(#bl22)"/>
<polygon points="420.6,242.4 411.9,245.8 416.5,246.3 417.3,250.5" fill="#fff"/>
</g>
<clipPath id="cb08"><rect x="449.48" y="209.30" width="47.06" height="47.00"/></clipPath>
<g clip-path="url(#cb08)">
<rect x="449.48" y="209.30" width="47.06" height="47.00" fill="#1e0c2a"/>
<rect x="449.48" y="209.30" width="47.06" height="47.00" filter="url(#mpurp2)" opacity="0.90"/>
<rect x="449.48" y="209.30" width="47.06" height="47.00" filter="url(#molive)" opacity="0.75"/>
<rect x="449.48" y="209.30" width="47.06" height="47.00" filter="url(#mdark)" opacity="0.50"/>
<ellipse cx="470.5" cy="237.0" rx="13.6" ry="13.6" fill="#ff40f0" opacity="0.28" filter="url(#bl44)"/>
<ellipse cx="473.8" cy="237.0" rx="8.5" ry="8.5" fill="#ffffff" opacity="0.28" filter="url(#bl32)"/>
<ellipse cx="470.5" cy="237.0" rx="8" ry="8" fill="#ff40f0" opacity="0.9" filter="url(#bl26)"/>
<ellipse cx="473.8" cy="237.0" rx="5" ry="5" fill="#ffffff" opacity="1" filter="url(#bl19)"/>
<ellipse cx="496.1" cy="225.6" rx="3" ry="4" fill="#e0c000" opacity="1" filter="url(#bl18)"/>
<polygon points="469.3,242.8 460.6,246.2 465.2,246.7 466.0,250.9" fill="#fff"/>
</g>
<clipPath id="cb09"><rect x="496.54" y="209.30" width="47.06" height="47.00"/></clipPath>
<g clip-path="url(#cb09)">
<rect x="496.54" y="209.30" width="47.06" height="47.00" fill="#1e0c2a"/>
<rect x="496.54" y="209.30" width="47.06" height="47.00" filter="url(#mpurp2)" opacity="0.90"/>
<rect x="496.54" y="209.30" width="47.06" height="47.00" filter="url(#molive)" opacity="0.75"/>
<rect x="496.54" y="209.30" width="47.06" height="47.00" filter="url(#mdark)" opacity="0.50"/>
<ellipse cx="522.0" cy="233.3" rx="18.7" ry="11.049999999999999" fill="#ff50f0" opacity="0.28" filter="url(#bl48)" transform="rotate(-55 522.0 233.3)"/>
<ellipse cx="522.3" cy="233.8" rx="12.75" ry="6.8" fill="#ffffff" opacity="0.28" filter="url(#bl34)" transform="rotate(-55 522.3 233.8)"/>
<ellipse cx="529.3" cy="248.8" rx="9.35" ry="9.35" fill="#f0e000" opacity="0.28" filter="url(#bl34)"/>
<ellipse cx="522.0" cy="233.3" rx="11" ry="6.5" fill="#ff50f0" opacity="1" filter="url(#bl28)" transform="rotate(-55 522.0 233.3)"/>
<ellipse cx="522.3" cy="233.8" rx="7.5" ry="4" fill="#ffffff" opacity="1" filter="url(#bl20)" transform="rotate(-55 522.3 233.8)"/>
<ellipse cx="529.3" cy="248.8" rx="5.5" ry="5.5" fill="#f0e000" opacity="1" filter="url(#bl20)"/>
<polygon points="515.6,242.1 506.9,245.5 511.5,246.0 512.3,250.2" fill="#fff"/>
</g>
<clipPath id="cb010"><rect x="543.60" y="209.30" width="47.06" height="47.00"/></clipPath>
<g clip-path="url(#cb010)">
<rect x="543.60" y="209.30" width="47.06" height="47.00" fill="#1e0c2a"/>
<rect x="543.60" y="209.30" width="47.06" height="47.00" filter="url(#mpurp2)" opacity="0.90"/>
<rect x="543.60" y="209.30" width="47.06" height="47.00" filter="url(#molive)" opacity="0.75"/>
<rect x="543.60" y="209.30" width="47.06" height="47.00" filter="url(#mdark)" opacity="0.50"/>
<ellipse cx="567.6" cy="234.9" rx="12.75" ry="12.75" fill="#d0a0ff" opacity="0.28" filter="url(#bl41)"/>
<ellipse cx="567.6" cy="234.9" rx="7.6499999999999995" ry="7.6499999999999995" fill="#ffffff" opacity="0.28" filter="url(#bl31)"/>
<ellipse cx="579.0" cy="222.5" rx="7.6499999999999995" ry="7.6499999999999995" fill="#ff40e0" opacity="0.28" filter="url(#bl37)"/>
<ellipse cx="573.9" cy="252.3" rx="10.2" ry="8.5" fill="#f0e000" opacity="0.28" filter="url(#bl34)"/>
<ellipse cx="567.6" cy="234.9" rx="7.5" ry="7.5" fill="#d0a0ff" opacity="1" filter="url(#bl24)"/>
<ellipse cx="567.6" cy="234.9" rx="4.5" ry="4.5" fill="#ffffff" opacity="1" filter="url(#bl18)"/>
<ellipse cx="579.0" cy="222.5" rx="4.5" ry="4.5" fill="#ff40e0" opacity="0.9" filter="url(#bl22)"/>
<ellipse cx="573.9" cy="252.3" rx="6" ry="5" fill="#f0e000" opacity="1" filter="url(#bl20)"/>
<ellipse cx="557.3" cy="238.0" rx="3.5" ry="3.5" fill="#ff60f0" opacity="0.7" filter="url(#bl20)"/>
<polygon points="562.6,242.5 553.9,245.9 558.5,246.4 559.3,250.6" fill="#fff"/>
</g>
<text transform="translate(68.8 232.8) rotate(-90)" text-anchor="middle" font-size="9.6" fill="#ffffff" stroke="#ffffff" stroke-width="0.35" textLength="24.5" lengthAdjust="spacingAndGlyphs">Merge</text>
<clipPath id="cb10"><rect x="73.00" y="258.00" width="47.06" height="47.00"/></clipPath>
<g clip-path="url(#cb10)">
<rect x="73.00" y="258.00" width="47.06" height="47.00" fill="#141414"/>
<rect x="73.00" y="258.00" width="47.06" height="47.00" filter="url(#mgray)" opacity="0.35"/>
<polygon points="91.0,288.4 82.3,291.8 86.9,292.3 87.7,296.5" fill="#fff"/>
</g>
<clipPath id="cb11"><rect x="120.06" y="258.00" width="47.06" height="47.00"/></clipPath>
<g clip-path="url(#cb11)">
<rect x="120.06" y="258.00" width="47.06" height="47.00" fill="#141414"/>
<rect x="120.06" y="258.00" width="47.06" height="47.00" filter="url(#mgray)" opacity="0.35"/>
<polygon points="136.4,295.9 127.7,299.3 132.3,299.8 133.1,304.0" fill="#fff"/>
</g>
<clipPath id="cb12"><rect x="167.12" y="258.00" width="47.06" height="47.00"/></clipPath>
<g clip-path="url(#cb12)">
<rect x="167.12" y="258.00" width="47.06" height="47.00" fill="#141414"/>
<rect x="167.12" y="258.00" width="47.06" height="47.00" filter="url(#mgray)" opacity="0.35"/>
<polygon points="184.3,292.0 175.6,295.4 180.2,295.9 181.0,300.1" fill="#fff"/>
</g>
<clipPath id="cb13"><rect x="214.18" y="258.00" width="47.06" height="47.00"/></clipPath>
<g clip-path="url(#cb13)">
<rect x="214.18" y="258.00" width="47.06" height="47.00" fill="#141414"/>
<rect x="214.18" y="258.00" width="47.06" height="47.00" filter="url(#mgray)" opacity="0.35"/>
<polygon points="231.7,291.9 223.0,295.3 227.6,295.8 228.4,300.0" fill="#fff"/>
</g>
<clipPath id="cb14"><rect x="261.24" y="258.00" width="47.06" height="47.00"/></clipPath>
<g clip-path="url(#cb14)">
<rect x="261.24" y="258.00" width="47.06" height="47.00" fill="#141414"/>
<rect x="261.24" y="258.00" width="47.06" height="47.00" filter="url(#mgray)" opacity="0.35"/>
<polygon points="280.7,294.2 272.0,297.6 276.6,298.1 277.4,302.3" fill="#fff"/>
</g>
<clipPath id="cb15"><rect x="308.30" y="258.00" width="47.06" height="47.00"/></clipPath>
<g clip-path="url(#cb15)">
<rect x="308.30" y="258.00" width="47.06" height="47.00" fill="#141414"/>
<rect x="308.30" y="258.00" width="47.06" height="47.00" filter="url(#mgray)" opacity="0.35"/>
<ellipse cx="334.0" cy="281.9" rx="6.46" ry="6.46" fill="#505050" opacity="0.28" filter="url(#bl31)"/>
<ellipse cx="334.0" cy="281.9" rx="6.3" ry="6.3" fill="#505050" opacity="0.25" filter="url(#bl25)"/>
<ellipse cx="334.0" cy="281.9" rx="3.8" ry="3.8" fill="#505050" opacity="1" filter="url(#bl18)"/>
<polygon points="327.3,290.0 318.6,293.4 323.2,293.9 324.0,298.1" fill="#fff"/>
</g>
<clipPath id="cb16"><rect x="355.36" y="258.00" width="47.06" height="47.00"/></clipPath>
<g clip-path="url(#cb16)">
<rect x="355.36" y="258.00" width="47.06" height="47.00" fill="#141414"/>
<rect x="355.36" y="258.00" width="47.06" height="47.00" filter="url(#mgray)" opacity="0.35"/>
<ellipse cx="377.9" cy="283.2" rx="7.31" ry="7.31" fill="#e8e8e8" opacity="0.28" filter="url(#bl31)"/>
<ellipse cx="377.9" cy="283.2" rx="6.8" ry="6.8" fill="#e8e8e8" opacity="0.25" filter="url(#bl25)"/>
<ellipse cx="377.9" cy="283.2" rx="4.3" ry="4.3" fill="#e8e8e8" opacity="1" filter="url(#bl18)"/>
<polygon points="374.0,289.4 365.3,292.8 369.9,293.3 370.7,297.5" fill="#fff"/>
</g>
<clipPath id="cb17"><rect x="402.42" y="258.00" width="47.06" height="47.00"/></clipPath>
<g clip-path="url(#cb17)">
<rect x="402.42" y="258.00" width="47.06" height="47.00" fill="#141414"/>
<rect x="402.42" y="258.00" width="47.06" height="47.00" filter="url(#mgray)" opacity="0.35"/>
<ellipse cx="425.9" cy="283.2" rx="7.31" ry="7.31" fill="#e8e8e8" opacity="0.28" filter="url(#bl31)"/>
<ellipse cx="425.9" cy="283.2" rx="6.8" ry="6.8" fill="#e8e8e8" opacity="0.25" filter="url(#bl25)"/>
<ellipse cx="425.9" cy="283.2" rx="4.3" ry="4.3" fill="#e8e8e8" opacity="1" filter="url(#bl18)"/>
<polygon points="420.6,291.1 411.9,294.5 416.5,295.0 417.3,299.2" fill="#fff"/>
</g>
<clipPath id="cb18"><rect x="449.48" y="258.00" width="47.06" height="47.00"/></clipPath>
<g clip-path="url(#cb18)">
<rect x="449.48" y="258.00" width="47.06" height="47.00" fill="#141414"/>
<rect x="449.48" y="258.00" width="47.06" height="47.00" filter="url(#mgray)" opacity="0.35"/>
<ellipse cx="475.4" cy="284.7" rx="8.16" ry="8.16" fill="#ffffff" opacity="0.28" filter="url(#bl31)"/>
<ellipse cx="475.4" cy="284.7" rx="7.3" ry="7.3" fill="#ffffff" opacity="0.25" filter="url(#bl25)"/>
<ellipse cx="475.4" cy="284.7" rx="4.8" ry="4.8" fill="#ffffff" opacity="1" filter="url(#bl18)"/>
<polygon points="469.3,291.5 460.6,294.9 465.2,295.4 466.0,299.6" fill="#fff"/>
</g>
<clipPath id="cb19"><rect x="496.54" y="258.00" width="47.06" height="47.00"/></clipPath>
<g clip-path="url(#cb19)">
<rect x="496.54" y="258.00" width="47.06" height="47.00" fill="#141414"/>
<rect x="496.54" y="258.00" width="47.06" height="47.00" filter="url(#mgray)" opacity="0.35"/>
<ellipse cx="523.0" cy="282.7" rx="8.16" ry="8.16" fill="#ffffff" opacity="0.28" filter="url(#bl31)"/>
<ellipse cx="523.0" cy="282.7" rx="7.3" ry="7.3" fill="#ffffff" opacity="0.25" filter="url(#bl25)"/>
<ellipse cx="523.0" cy="282.7" rx="4.8" ry="4.8" fill="#ffffff" opacity="1" filter="url(#bl18)"/>
<polygon points="515.6,290.8 506.9,294.2 511.5,294.7 512.3,298.9" fill="#fff"/>
</g>
<clipPath id="cb110"><rect x="543.60" y="258.00" width="47.06" height="47.00"/></clipPath>
<g clip-path="url(#cb110)">
<rect x="543.60" y="258.00" width="47.06" height="47.00" fill="#141414"/>
<rect x="543.60" y="258.00" width="47.06" height="47.00" filter="url(#mgray)" opacity="0.35"/>
<ellipse cx="567.6" cy="284.7" rx="7.819999999999999" ry="7.819999999999999" fill="#ffffff" opacity="0.28" filter="url(#bl31)"/>
<ellipse cx="567.6" cy="284.7" rx="7.1" ry="7.1" fill="#ffffff" opacity="0.25" filter="url(#bl25)"/>
<ellipse cx="567.6" cy="284.7" rx="4.6" ry="4.6" fill="#ffffff" opacity="1" filter="url(#bl18)"/>
<polygon points="562.6,291.2 553.9,294.6 558.5,295.1 559.3,299.3" fill="#fff"/>
</g>
<text transform="translate(68.8 281.5) rotate(-90)" text-anchor="middle" font-size="9.6" fill="#22b8e8" stroke="#22b8e8" stroke-width="0.35" textLength="41" lengthAdjust="spacingAndGlyphs">Galectin-9</text>
<clipPath id="cb20"><rect x="73.00" y="306.50" width="47.06" height="46.50"/></clipPath>
<g clip-path="url(#cb20)">
<rect x="73.00" y="306.50" width="47.06" height="46.50" fill="#222222"/>
<rect x="73.00" y="306.50" width="47.06" height="46.50" filter="url(#mgray)" opacity="0.60"/>
<ellipse cx="96.3" cy="329.1" rx="8.5" ry="8.5" fill="#ffffff" opacity="0.28" filter="url(#bl34)"/>
<ellipse cx="96.3" cy="329.1" rx="8" ry="8" fill="#666" opacity="0.5" filter="url(#bl30)"/>
<ellipse cx="96.3" cy="329.1" rx="5" ry="5" fill="#ffffff" opacity="1" filter="url(#bl20)"/>
<polygon points="91.0,336.9 82.3,340.3 86.9,340.8 87.7,345.0" fill="#fff"/>
</g>
<clipPath id="cb21"><rect x="120.06" y="306.50" width="47.06" height="46.50"/></clipPath>
<g clip-path="url(#cb21)">
<rect x="120.06" y="306.50" width="47.06" height="46.50" fill="#222222"/>
<rect x="120.06" y="306.50" width="47.06" height="46.50" filter="url(#mgray)" opacity="0.60"/>
<ellipse cx="141.6" cy="338.5" rx="8.5" ry="8.5" fill="#ffffff" opacity="0.28" filter="url(#bl34)"/>
<ellipse cx="141.6" cy="338.5" rx="8" ry="8" fill="#666" opacity="0.5" filter="url(#bl30)"/>
<ellipse cx="141.6" cy="338.5" rx="5" ry="5" fill="#ffffff" opacity="1" filter="url(#bl20)"/>
<polygon points="136.4,344.4 127.7,347.8 132.3,348.3 133.1,352.5" fill="#fff"/>
</g>
<clipPath id="cb22"><rect x="167.12" y="306.50" width="47.06" height="46.50"/></clipPath>
<g clip-path="url(#cb22)">
<rect x="167.12" y="306.50" width="47.06" height="46.50" fill="#222222"/>
<rect x="167.12" y="306.50" width="47.06" height="46.50" filter="url(#mgray)" opacity="0.60"/>
<ellipse cx="192.3" cy="332.4" rx="8.5" ry="8.5" fill="#ffffff" opacity="0.28" filter="url(#bl34)"/>
<ellipse cx="192.3" cy="332.4" rx="8" ry="8" fill="#666" opacity="0.5" filter="url(#bl30)"/>
<ellipse cx="192.3" cy="332.4" rx="5" ry="5" fill="#ffffff" opacity="1" filter="url(#bl20)"/>
<polygon points="184.3,340.5 175.6,343.9 180.2,344.4 181.0,348.6" fill="#fff"/>
</g>
<clipPath id="cb23"><rect x="214.18" y="306.50" width="47.06" height="46.50"/></clipPath>
<g clip-path="url(#cb23)">
<rect x="214.18" y="306.50" width="47.06" height="46.50" fill="#222222"/>
<rect x="214.18" y="306.50" width="47.06" height="46.50" filter="url(#mgray)" opacity="0.60"/>
<ellipse cx="237.7" cy="333.8" rx="8.5" ry="8.5" fill="#c8c8c8" opacity="0.28" filter="url(#bl34)"/>
<ellipse cx="237.7" cy="333.8" rx="8" ry="8" fill="#666" opacity="0.5" filter="url(#bl30)"/>
<ellipse cx="237.7" cy="333.8" rx="5" ry="5" fill="#c8c8c8" opacity="1" filter="url(#bl20)"/>
<polygon points="231.7,340.4 223.0,343.8 227.6,344.3 228.4,348.5" fill="#fff"/>
</g>
<clipPath id="cb24"><rect x="261.24" y="306.50" width="47.06" height="46.50"/></clipPath>
<g clip-path="url(#cb24)">
<rect x="261.24" y="306.50" width="47.06" height="46.50" fill="#222222"/>
<rect x="261.24" y="306.50" width="47.06" height="46.50" filter="url(#mgray)" opacity="0.60"/>
<ellipse cx="284.5" cy="333.8" rx="8.5" ry="8.5" fill="#ffffff" opacity="0.28" filter="url(#bl34)"/>
<ellipse cx="284.5" cy="333.8" rx="8" ry="8" fill="#666" opacity="0.5" filter="url(#bl30)"/>
<ellipse cx="284.5" cy="333.8" rx="5" ry="5" fill="#ffffff" opacity="1" filter="url(#bl20)"/>
<polygon points="280.7,342.7 272.0,346.1 276.6,346.6 277.4,350.8" fill="#fff"/>
</g>
<clipPath id="cb25"><rect x="308.30" y="306.50" width="47.06" height="46.50"/></clipPath>
<g clip-path="url(#cb25)">
<rect x="308.30" y="306.50" width="47.06" height="46.50" fill="#222222"/>
<rect x="308.30" y="306.50" width="47.06" height="46.50" filter="url(#mgray)" opacity="0.60"/>
<ellipse cx="331.2" cy="331.1" rx="8.5" ry="8.5" fill="#ffffff" opacity="0.28" filter="url(#bl34)"/>
<ellipse cx="331.2" cy="331.1" rx="8" ry="8" fill="#666" opacity="0.5" filter="url(#bl30)"/>
<ellipse cx="331.2" cy="331.1" rx="5" ry="5" fill="#ffffff" opacity="1" filter="url(#bl20)"/>
<polygon points="327.3,338.5 318.6,341.9 323.2,342.4 324.0,346.6" fill="#fff"/>
</g>
<clipPath id="cb26"><rect x="355.36" y="306.50" width="47.06" height="46.50"/></clipPath>
<g clip-path="url(#cb26)">
<rect x="355.36" y="306.50" width="47.06" height="46.50" fill="#222222"/>
<rect x="355.36" y="306.50" width="47.06" height="46.50" filter="url(#mgray)" opacity="0.60"/>
<ellipse cx="377.9" cy="331.1" rx="7.6499999999999995" ry="11.049999999999999" fill="#ffffff" opacity="0.28" filter="url(#bl34)" transform="rotate(45 377.9 331.1)"/>
<ellipse cx="377.9" cy="331.1" rx="8" ry="8" fill="#666" opacity="0.5" filter="url(#bl30)"/>
<ellipse cx="377.9" cy="331.1" rx="4.5" ry="6.5" fill="#ffffff" opacity="1" filter="url(#bl20)" transform="rotate(45 377.9 331.1)"/>
<polygon points="374.0,337.9 365.3,341.3 369.9,341.8 370.7,346.0" fill="#fff"/>
</g>
<clipPath id="cb27"><rect x="402.42" y="306.50" width="47.06" height="46.50"/></clipPath>
<g clip-path="url(#cb27)">
<rect x="402.42" y="306.50" width="47.06" height="46.50" fill="#222222"/>
<rect x="402.42" y="306.50" width="47.06" height="46.50" filter="url(#mgray)" opacity="0.60"/>
<ellipse cx="425.9" cy="331.1" rx="8.5" ry="8.5" fill="#ffffff" opacity="0.28" filter="url(#bl34)"/>
<ellipse cx="425.9" cy="331.1" rx="8" ry="8" fill="#666" opacity="0.5" filter="url(#bl30)"/>
<ellipse cx="425.9" cy="331.1" rx="5" ry="5" fill="#ffffff" opacity="1" filter="url(#bl20)"/>
<polygon points="420.6,339.6 411.9,343.0 416.5,343.5 417.3,347.7" fill="#fff"/>
</g>
<clipPath id="cb28"><rect x="449.48" y="306.50" width="47.06" height="46.50"/></clipPath>
<g clip-path="url(#cb28)">
<rect x="449.48" y="306.50" width="47.06" height="46.50" fill="#222222"/>
<rect x="449.48" y="306.50" width="47.06" height="46.50" filter="url(#mgray)" opacity="0.60"/>
<ellipse cx="472.3" cy="330.9" rx="10.2" ry="10.2" fill="#ffffff" opacity="0.28" filter="url(#bl34)"/>
<ellipse cx="472.3" cy="330.9" rx="9" ry="9" fill="#666" opacity="0.5" filter="url(#bl30)"/>
<ellipse cx="472.3" cy="330.9" rx="6" ry="6" fill="#ffffff" opacity="1" filter="url(#bl20)"/>
<polygon points="469.3,340.0 460.6,343.4 465.2,343.9 466.0,348.1" fill="#fff"/>
</g>
<clipPath id="cb29"><rect x="496.54" y="306.50" width="47.06" height="46.50"/></clipPath>
<g clip-path="url(#cb29)">
<rect x="496.54" y="306.50" width="47.06" height="46.50" fill="#222222"/>
<rect x="496.54" y="306.50" width="47.06" height="46.50" filter="url(#mgray)" opacity="0.60"/>
<ellipse cx="524.1" cy="327.8" rx="7.6499999999999995" ry="15.299999999999999" fill="#ffffff" opacity="0.28" filter="url(#bl34)" transform="rotate(40 524.1 327.8)"/>
<ellipse cx="524.1" cy="327.8" rx="9" ry="9" fill="#666" opacity="0.5" filter="url(#bl30)"/>
<ellipse cx="524.1" cy="327.8" rx="4.5" ry="9" fill="#ffffff" opacity="1" filter="url(#bl20)" transform="rotate(40 524.1 327.8)"/>
<polygon points="515.6,339.3 506.9,342.7 511.5,343.2 512.3,347.4" fill="#fff"/>
</g>
<clipPath id="cb210"><rect x="543.60" y="306.50" width="47.06" height="46.50"/></clipPath>
<g clip-path="url(#cb210)">
<rect x="543.60" y="306.50" width="47.06" height="46.50" fill="#222222"/>
<rect x="543.60" y="306.50" width="47.06" height="46.50" filter="url(#mgray)" opacity="0.60"/>
<ellipse cx="568.7" cy="332.0" rx="6.8" ry="6.8" fill="#b0b0b0" opacity="0.28" filter="url(#bl34)"/>
<ellipse cx="568.6" cy="326.5" rx="6" ry="14" fill="#505050" opacity="0.6" filter="url(#bl30)" transform="rotate(45 568.6 326.5)"/>
<ellipse cx="568.7" cy="332.0" rx="4" ry="4" fill="#b0b0b0" opacity="1" filter="url(#bl20)"/>
<ellipse cx="579.0" cy="319.5" rx="3" ry="3" fill="#909090" opacity="1" filter="url(#bl20)"/>
<ellipse cx="558.3" cy="334.0" rx="3" ry="3" fill="#808080" opacity="1" filter="url(#bl20)"/>
<polygon points="562.6,339.7 553.9,343.1 558.5,343.6 559.3,347.8" fill="#fff"/>
</g>
<text transform="translate(68.8 329.8) rotate(-90)" text-anchor="middle" font-size="9.6" fill="#ec34e4" stroke="#ec34e4" stroke-width="0.35" textLength="19.2" lengthAdjust="spacingAndGlyphs">Rab5</text>
<clipPath id="cb30"><rect x="73.00" y="354.50" width="47.06" height="46.00"/></clipPath>
<g clip-path="url(#cb30)">
<rect x="73.00" y="354.50" width="47.06" height="46.00" fill="#202020"/>
<rect x="73.00" y="354.50" width="47.06" height="46.00" filter="url(#mgray)" opacity="0.75"/>
<ellipse cx="96.3" cy="377.8" rx="6.8" ry="6.8" fill="#c8c8c8" opacity="0.28" filter="url(#bl34)"/>
<ellipse cx="106.0" cy="396.5" rx="18.7" ry="13.6" fill="#ffffff" opacity="0.28" filter="url(#bl42)"/>
<ellipse cx="77.0" cy="388.5" rx="6.8" ry="6.8" fill="#909090" opacity="0.28" filter="url(#bl37)"/>
<ellipse cx="96.3" cy="377.8" rx="4" ry="4" fill="#c8c8c8" opacity="1" filter="url(#bl20)"/>
<ellipse cx="106.0" cy="396.5" rx="11" ry="8" fill="#ffffff" opacity="1" filter="url(#bl25)"/>
<ellipse cx="77.0" cy="388.5" rx="4" ry="4" fill="#909090" opacity="1" filter="url(#bl22)"/>
<ellipse cx="100.0" cy="362.5" rx="3" ry="7" fill="#707070" opacity="0.8" filter="url(#bl25)"/>
<polygon points="91.0,384.9 82.3,388.3 86.9,388.8 87.7,393.0" fill="#fff"/>
</g>
<clipPath id="cb31"><rect x="120.06" y="354.50" width="47.06" height="46.00"/></clipPath>
<g clip-path="url(#cb31)">
<rect x="120.06" y="354.50" width="47.06" height="46.00" fill="#202020"/>
<rect x="120.06" y="354.50" width="47.06" height="46.00" filter="url(#mgray)" opacity="0.75"/>
<ellipse cx="143.0" cy="384.7" rx="6.8" ry="11.9" fill="#d8d8d8" opacity="0.28" filter="url(#bl37)"/>
<ellipse cx="163.1" cy="396.5" rx="8.5" ry="8.5" fill="#ffffff" opacity="0.28" filter="url(#bl34)"/>
<ellipse cx="143.0" cy="384.7" rx="4" ry="7" fill="#d8d8d8" opacity="1" filter="url(#bl22)"/>
<ellipse cx="163.1" cy="396.5" rx="5" ry="5" fill="#ffffff" opacity="1" filter="url(#bl20)"/>
<polygon points="136.4,392.4 127.7,395.8 132.3,396.3 133.1,400.5" fill="#fff"/>
</g>
<clipPath id="cb32"><rect x="167.12" y="354.50" width="47.06" height="46.00"/></clipPath>
<g clip-path="url(#cb32)">
<rect x="167.12" y="354.50" width="47.06" height="46.00" fill="#202020"/>
<rect x="167.12" y="354.50" width="47.06" height="46.00" filter="url(#mgray)" opacity="0.75"/>
<ellipse cx="189.6" cy="381.4" rx="8.5" ry="8.5" fill="#eeeeee" opacity="0.28" filter="url(#bl34)"/>
<ellipse cx="189.6" cy="381.4" rx="8" ry="8" fill="#606060" opacity="0.6" filter="url(#bl30)"/>
<ellipse cx="189.6" cy="381.4" rx="5" ry="5" fill="#eeeeee" opacity="1" filter="url(#bl20)"/>
<polygon points="184.3,388.5 175.6,391.9 180.2,392.4 181.0,396.6" fill="#fff"/>
</g>
<clipPath id="cb33"><rect x="214.18" y="354.50" width="47.06" height="46.00"/></clipPath>
<g clip-path="url(#cb33)">
<rect x="214.18" y="354.50" width="47.06" height="46.00" fill="#202020"/>
<rect x="214.18" y="354.50" width="47.06" height="46.00" filter="url(#mgray)" opacity="0.75"/>
<ellipse cx="237.7" cy="379.2" rx="10.2" ry="10.2" fill="#ffffff" opacity="0.28" filter="url(#bl37)"/>
<ellipse cx="237.7" cy="379.2" rx="6" ry="6" fill="#ffffff" opacity="1" filter="url(#bl22)"/>
<ellipse cx="260.2" cy="399.5" rx="3" ry="3" fill="#ffffff" opacity="1" filter="url(#bl18)"/>
<polygon points="231.7,388.4 223.0,391.8 227.6,392.3 228.4,396.5" fill="#fff"/>
</g>
<clipPath id="cb34"><rect x="261.24" y="354.50" width="47.06" height="46.00"/></clipPath>
<g clip-path="url(#cb34)">
<rect x="261.24" y="354.50" width="47.06" height="46.00" fill="#202020"/>
<rect x="261.24" y="354.50" width="47.06" height="46.00" filter="url(#mgray)" opacity="0.75"/>
<ellipse cx="285.9" cy="381.9" rx="6.8" ry="11.9" fill="#d8d8d8" opacity="0.28" filter="url(#bl37)"/>
<ellipse cx="305.2" cy="392.9" rx="6.8" ry="6.8" fill="#d0d0d0" opacity="0.28" filter="url(#bl34)"/>
<ellipse cx="285.9" cy="381.9" rx="4" ry="7" fill="#d8d8d8" opacity="1" filter="url(#bl22)"/>
<ellipse cx="305.2" cy="392.9" rx="4" ry="4" fill="#d0d0d0" opacity="1" filter="url(#bl20)"/>
<polygon points="280.7,390.7 272.0,394.1 276.6,394.6 277.4,398.8" fill="#fff"/>
</g>
<clipPath id="cb35"><rect x="308.30" y="354.50" width="47.06" height="46.00"/></clipPath>
<g clip-path="url(#cb35)">
<rect x="308.30" y="354.50" width="47.06" height="46.00" fill="#202020"/>
<rect x="308.30" y="354.50" width="47.06" height="46.00" filter="url(#mgray)" opacity="0.75"/>
<ellipse cx="331.2" cy="379.2" rx="8.5" ry="8.5" fill="#ffffff" opacity="0.28" filter="url(#bl34)"/>
<ellipse cx="349.1" cy="397.5" rx="8.5" ry="8.5" fill="#ffffff" opacity="0.28" filter="url(#bl34)"/>
<ellipse cx="331.2" cy="379.2" rx="5" ry="5" fill="#ffffff" opacity="1" filter="url(#bl20)"/>
<ellipse cx="349.1" cy="397.5" rx="5" ry="5" fill="#ffffff" opacity="1" filter="url(#bl20)"/>
<polygon points="327.3,386.5 318.6,389.9 323.2,390.4 324.0,394.6" fill="#fff"/>
</g>
<clipPath id="cb36"><rect x="355.36" y="354.50" width="47.06" height="46.00"/></clipPath>
<g clip-path="url(#cb36)">
<rect x="355.36" y="354.50" width="47.06" height="46.00" fill="#202020"/>
<rect x="355.36" y="354.50" width="47.06" height="46.00" filter="url(#mgray)" opacity="0.75"/>
<ellipse cx="377.9" cy="379.2" rx="10.2" ry="9.35" fill="#ffffff" opacity="0.28" filter="url(#bl37)"/>
<ellipse cx="377.9" cy="379.2" rx="6" ry="5.5" fill="#ffffff" opacity="1" filter="url(#bl22)"/>
<polygon points="374.0,385.9 365.3,389.3 369.9,389.8 370.7,394.0" fill="#fff"/>
</g>
<clipPath id="cb37"><rect x="402.42" y="354.50" width="47.06" height="46.00"/></clipPath>
<g clip-path="url(#cb37)">
<rect x="402.42" y="354.50" width="47.06" height="46.00" fill="#202020"/>
<rect x="402.42" y="354.50" width="47.06" height="46.00" filter="url(#mgray)" opacity="0.75"/>
<ellipse cx="425.9" cy="381.9" rx="6.8" ry="11.9" fill="#a8a8a8" opacity="0.28" filter="url(#bl39)"/>
<ellipse cx="425.9" cy="381.9" rx="4" ry="7" fill="#a8a8a8" opacity="1" filter="url(#bl23)"/>
<polygon points="420.6,387.6 411.9,391.0 416.5,391.5 417.3,395.7" fill="#fff"/>
</g>
<clipPath id="cb38"><rect x="449.48" y="354.50" width="47.06" height="46.00"/></clipPath>
<g clip-path="url(#cb38)">
<rect x="449.48" y="354.50" width="47.06" height="46.00" fill="#202020"/>
<rect x="449.48" y="354.50" width="47.06" height="46.00" filter="url(#mgray)" opacity="0.75"/>
<ellipse cx="474.4" cy="382.7" rx="8.5" ry="8.5" fill="#c0c0c0" opacity="0.28" filter="url(#bl37)"/>
<ellipse cx="474.4" cy="382.7" rx="5" ry="5" fill="#c0c0c0" opacity="1" filter="url(#bl22)"/>
<ellipse cx="493.5" cy="369.5" rx="3" ry="4" fill="#606060" opacity="0.8" filter="url(#bl20)"/>
<polygon points="469.3,388.0 460.6,391.4 465.2,391.9 466.0,396.1" fill="#fff"/>
</g>
<clipPath id="cb39"><rect x="496.54" y="354.50" width="47.06" height="46.00"/></clipPath>
<g clip-path="url(#cb39)">
<rect x="496.54" y="354.50" width="47.06" height="46.00" fill="#202020"/>
<rect x="496.54" y="354.50" width="47.06" height="46.00" filter="url(#mgray)" opacity="0.75"/>
<ellipse cx="521.0" cy="377.5" rx="8.5" ry="8.5" fill="#eeeeee" opacity="0.28" filter="url(#bl34)"/>
<ellipse cx="528.2" cy="394.5" rx="10.2" ry="10.2" fill="#ffffff" opacity="0.28" filter="url(#bl37)"/>
<ellipse cx="521.0" cy="377.5" rx="5" ry="5" fill="#eeeeee" opacity="1" filter="url(#bl20)"/>
<ellipse cx="528.2" cy="394.5" rx="6" ry="6" fill="#ffffff" opacity="1" filter="url(#bl22)"/>
<ellipse cx="520.5" cy="366.5" rx="3" ry="6" fill="#707070" opacity="0.8" filter="url(#bl20)"/>
<polygon points="515.6,387.3 506.9,390.7 511.5,391.2 512.3,395.4" fill="#fff"/>
</g>
<clipPath id="cb310"><rect x="543.60" y="354.50" width="47.06" height="46.00"/></clipPath>
<g clip-path="url(#cb310)">
<rect x="543.60" y="354.50" width="47.06" height="46.00" fill="#202020"/>
<rect x="543.60" y="354.50" width="47.06" height="46.00" filter="url(#mgray)" opacity="0.75"/>
<ellipse cx="568.7" cy="377.5" rx="8.5" ry="8.5" fill="#d8d8d8" opacity="0.28" filter="url(#bl34)"/>
<ellipse cx="573.9" cy="396.5" rx="10.2" ry="10.2" fill="#ffffff" opacity="0.28" filter="url(#bl37)"/>
<ellipse cx="568.7" cy="377.5" rx="5" ry="5" fill="#d8d8d8" opacity="1" filter="url(#bl20)"/>
<ellipse cx="573.9" cy="396.5" rx="6" ry="6" fill="#ffffff" opacity="1" filter="url(#bl22)"/>
<polygon points="562.6,387.7 553.9,391.1 558.5,391.6 559.3,395.8" fill="#fff"/>
</g>
<text transform="translate(68.8 377.5) rotate(-90)" text-anchor="middle" font-size="9.6" fill="#e6e61e" stroke="#e6e61e" stroke-width="0.35" textLength="26.2" lengthAdjust="spacingAndGlyphs">mRNA</text>
<line x1="120.06" y1="209.3" x2="120.06" y2="256.3" stroke="#aaaaaa" stroke-width="1.6" stroke-dasharray="2.7 2.9"/>
<line x1="120.06" y1="258.0" x2="120.06" y2="305.0" stroke="#aaaaaa" stroke-width="1.6" stroke-dasharray="2.7 2.9"/>
<line x1="120.06" y1="306.5" x2="120.06" y2="353.0" stroke="#aaaaaa" stroke-width="1.6" stroke-dasharray="2.7 2.9"/>
<line x1="120.06" y1="354.5" x2="120.06" y2="400.5" stroke="#aaaaaa" stroke-width="1.6" stroke-dasharray="2.7 2.9"/>
<line x1="167.12" y1="209.3" x2="167.12" y2="256.3" stroke="#aaaaaa" stroke-width="1.6" stroke-dasharray="2.7 2.9"/>
<line x1="167.12" y1="258.0" x2="167.12" y2="305.0" stroke="#aaaaaa" stroke-width="1.6" stroke-dasharray="2.7 2.9"/>
<line x1="167.12" y1="306.5" x2="167.12" y2="353.0" stroke="#aaaaaa" stroke-width="1.6" stroke-dasharray="2.7 2.9"/>
<line x1="167.12" y1="354.5" x2="167.12" y2="400.5" stroke="#aaaaaa" stroke-width="1.6" stroke-dasharray="2.7 2.9"/>
<line x1="214.18" y1="209.3" x2="214.18" y2="256.3" stroke="#aaaaaa" stroke-width="1.6" stroke-dasharray="2.7 2.9"/>
<line x1="214.18" y1="258.0" x2="214.18" y2="305.0" stroke="#aaaaaa" stroke-width="1.6" stroke-dasharray="2.7 2.9"/>
<line x1="214.18" y1="306.5" x2="214.18" y2="353.0" stroke="#aaaaaa" stroke-width="1.6" stroke-dasharray="2.7 2.9"/>
<line x1="214.18" y1="354.5" x2="214.18" y2="400.5" stroke="#aaaaaa" stroke-width="1.6" stroke-dasharray="2.7 2.9"/>
<line x1="261.24" y1="209.3" x2="261.24" y2="256.3" stroke="#aaaaaa" stroke-width="1.6" stroke-dasharray="2.7 2.9"/>
<line x1="261.24" y1="258.0" x2="261.24" y2="305.0" stroke="#aaaaaa" stroke-width="1.6" stroke-dasharray="2.7 2.9"/>
<line x1="261.24" y1="306.5" x2="261.24" y2="353.0" stroke="#aaaaaa" stroke-width="1.6" stroke-dasharray="2.7 2.9"/>
<line x1="261.24" y1="354.5" x2="261.24" y2="400.5" stroke="#aaaaaa" stroke-width="1.6" stroke-dasharray="2.7 2.9"/>
<line x1="308.30" y1="209.3" x2="308.30" y2="256.3" stroke="#aaaaaa" stroke-width="1.6" stroke-dasharray="2.7 2.9"/>
<line x1="308.30" y1="258.0" x2="308.30" y2="305.0" stroke="#aaaaaa" stroke-width="1.6" stroke-dasharray="2.7 2.9"/>
<line x1="308.30" y1="306.5" x2="308.30" y2="353.0" stroke="#aaaaaa" stroke-width="1.6" stroke-dasharray="2.7 2.9"/>
<line x1="308.30" y1="354.5" x2="308.30" y2="400.5" stroke="#aaaaaa" stroke-width="1.6" stroke-dasharray="2.7 2.9"/>
<line x1="355.36" y1="209.3" x2="355.36" y2="256.3" stroke="#aaaaaa" stroke-width="1.6" stroke-dasharray="2.7 2.9"/>
<line x1="355.36" y1="258.0" x2="355.36" y2="305.0" stroke="#aaaaaa" stroke-width="1.6" stroke-dasharray="2.7 2.9"/>
<line x1="355.36" y1="306.5" x2="355.36" y2="353.0" stroke="#aaaaaa" stroke-width="1.6" stroke-dasharray="2.7 2.9"/>
<line x1="355.36" y1="354.5" x2="355.36" y2="400.5" stroke="#aaaaaa" stroke-width="1.6" stroke-dasharray="2.7 2.9"/>
<line x1="402.42" y1="209.3" x2="402.42" y2="256.3" stroke="#aaaaaa" stroke-width="1.6" stroke-dasharray="2.7 2.9"/>
<line x1="402.42" y1="258.0" x2="402.42" y2="305.0" stroke="#aaaaaa" stroke-width="1.6" stroke-dasharray="2.7 2.9"/>
<line x1="402.42" y1="306.5" x2="402.42" y2="353.0" stroke="#aaaaaa" stroke-width="1.6" stroke-dasharray="2.7 2.9"/>
<line x1="402.42" y1="354.5" x2="402.42" y2="400.5" stroke="#aaaaaa" stroke-width="1.6" stroke-dasharray="2.7 2.9"/>
<line x1="449.48" y1="209.3" x2="449.48" y2="256.3" stroke="#aaaaaa" stroke-width="1.6" stroke-dasharray="2.7 2.9"/>
<line x1="449.48" y1="258.0" x2="449.48" y2="305.0" stroke="#aaaaaa" stroke-width="1.6" stroke-dasharray="2.7 2.9"/>
<line x1="449.48" y1="306.5" x2="449.48" y2="353.0" stroke="#aaaaaa" stroke-width="1.6" stroke-dasharray="2.7 2.9"/>
<line x1="449.48" y1="354.5" x2="449.48" y2="400.5" stroke="#aaaaaa" stroke-width="1.6" stroke-dasharray="2.7 2.9"/>
<line x1="496.54" y1="209.3" x2="496.54" y2="256.3" stroke="#aaaaaa" stroke-width="1.6" stroke-dasharray="2.7 2.9"/>
<line x1="496.54" y1="258.0" x2="496.54" y2="305.0" stroke="#aaaaaa" stroke-width="1.6" stroke-dasharray="2.7 2.9"/>
<line x1="496.54" y1="306.5" x2="496.54" y2="353.0" stroke="#aaaaaa" stroke-width="1.6" stroke-dasharray="2.7 2.9"/>
<line x1="496.54" y1="354.5" x2="496.54" y2="400.5" stroke="#aaaaaa" stroke-width="1.6" stroke-dasharray="2.7 2.9"/>
<line x1="543.60" y1="209.3" x2="543.60" y2="256.3" stroke="#aaaaaa" stroke-width="1.6" stroke-dasharray="2.7 2.9"/>
<line x1="543.60" y1="258.0" x2="543.60" y2="305.0" stroke="#aaaaaa" stroke-width="1.6" stroke-dasharray="2.7 2.9"/>
<line x1="543.60" y1="306.5" x2="543.60" y2="353.0" stroke="#aaaaaa" stroke-width="1.6" stroke-dasharray="2.7 2.9"/>
<line x1="543.60" y1="354.5" x2="543.60" y2="400.5" stroke="#aaaaaa" stroke-width="1.6" stroke-dasharray="2.7 2.9"/>
<rect x="71" y="209.3" width="1.8" height="191.2" fill="#7a7a7a"/>
<rect x="58.0" y="256.30" width="532.7" height="1.70" fill="#dedede"/>
<rect x="58.0" y="305.00" width="532.7" height="1.50" fill="#dedede"/>
<rect x="58.0" y="353.00" width="532.7" height="1.50" fill="#dedede"/>
<text transform="translate(75.4 217.7) scale(0.9 1)" font-size="9.1" fill="#fff">−35 s</text>
<text transform="translate(122.5 217.7) scale(0.9 1)" font-size="9.1" fill="#fff">−24 s</text>
<text transform="translate(169.5 217.7) scale(0.9 1)" font-size="9.1" fill="#fff">−11 s</text>
<text transform="translate(216.6 217.7) scale(0.9 1)" font-size="9.1" fill="#fff">−4.4 s</text>
<text transform="translate(263.6 217.7) scale(0.9 1)" font-size="9.1" fill="#fff">−2.2 s</text>
<text transform="translate(310.7 217.7) scale(0.9 1)" font-size="9.1" fill="#fff">0.0 s</text>
<text transform="translate(357.8 217.7) scale(0.9 1)" font-size="9.1" fill="#fff">2.2 s</text>
<text transform="translate(404.8 217.7) scale(0.9 1)" font-size="9.1" fill="#fff">6.6 s</text>
<text transform="translate(451.9 217.7) scale(0.9 1)" font-size="9.1" fill="#fff">11 s</text>
<text transform="translate(498.9 217.7) scale(0.9 1)" font-size="9.1" fill="#fff">20 s</text>
<text transform="translate(546.0 217.7) scale(0.9 1)" font-size="9.1" fill="#fff">29 s</text>
<rect x="75.7" y="190.3" width="18" height="2" fill="#fff"/>
<rect x="75.7" y="396.2" width="18" height="2" fill="#fff"/>
<line x1="39.4" y1="425.6" x2="39.4" y2="584.6" stroke="#444" stroke-width="0.8"/>
<line x1="39.0" y1="584.6" x2="318.1" y2="584.6" stroke="#444" stroke-width="0.8"/>
<line x1="220.4" y1="584.6" x2="220.4" y2="590.6" stroke="#444" stroke-width="0.8"/>
<line x1="36.6" y1="584.6" x2="39.4" y2="584.6" stroke="#444" stroke-width="0.8"/>
<text x="34.4" y="587.6" font-size="8.5" text-anchor="end" fill="#222">0.0</text>
<line x1="36.6" y1="558.2" x2="39.4" y2="558.2" stroke="#444" stroke-width="0.8"/>
<text x="34.4" y="561.2" font-size="8.5" text-anchor="end" fill="#222">0.2</text>
<line x1="36.6" y1="531.8" x2="39.4" y2="531.8" stroke="#444" stroke-width="0.8"/>
<text x="34.4" y="534.8" font-size="8.5" text-anchor="end" fill="#222">0.4</text>
<line x1="36.6" y1="505.4" x2="39.4" y2="505.4" stroke="#444" stroke-width="0.8"/>
<text x="34.4" y="508.4" font-size="8.5" text-anchor="end" fill="#222">0.6</text>
<line x1="36.6" y1="479.0" x2="39.4" y2="479.0" stroke="#444" stroke-width="0.8"/>
<text x="34.4" y="482.0" font-size="8.5" text-anchor="end" fill="#222">0.8</text>
<line x1="36.6" y1="452.6" x2="39.4" y2="452.6" stroke="#444" stroke-width="0.8"/>
<text x="34.4" y="455.6" font-size="8.5" text-anchor="end" fill="#222">1.0</text>
<line x1="36.6" y1="426.2" x2="39.4" y2="426.2" stroke="#444" stroke-width="0.8"/>
<text x="34.4" y="429.2" font-size="8.5" text-anchor="end" fill="#222">1.2</text>
<text transform="translate(12.6 505) rotate(-90)" font-size="8" text-anchor="middle" fill="#222" textLength="128" lengthAdjust="spacingAndGlyphs">Marker positive vesicles (Fraction)</text>
<rect x="48.9" y="503.3" width="18.4" height="81.3" fill="#2477b3" stroke="#333" stroke-width="0.7"/>
<line x1="58.1" y1="495.5" x2="58.1" y2="511.4" stroke="#333" stroke-width="0.7"/>
<line x1="53.2" y1="495.5" x2="63.0" y2="495.5" stroke="#333" stroke-width="0.8"/>
<line x1="53.2" y1="511.4" x2="63.0" y2="511.4" stroke="#333" stroke-width="0.8"/>
<circle cx="58.1" cy="497.6" r="1.9" fill="#fff" stroke="#444" stroke-width="0.6"/>
<circle cx="58.1" cy="508.6" r="1.9" fill="#fff" stroke="#444" stroke-width="0.6"/>
<text x="58.1" y="488.0" font-size="8.5" text-anchor="middle" fill="#222">(78;2)</text>
<rect x="76.6" y="546.4" width="18.4" height="38.2" fill="#a6d28c" stroke="#333" stroke-width="0.7"/>
<line x1="85.8" y1="538.0" x2="85.8" y2="554.3" stroke="#333" stroke-width="0.7"/>
<line x1="80.9" y1="538.0" x2="90.7" y2="538.0" stroke="#333" stroke-width="0.8"/>
<line x1="80.9" y1="554.3" x2="90.7" y2="554.3" stroke="#333" stroke-width="0.8"/>
<circle cx="85.8" cy="540.5" r="1.9" fill="#fff" stroke="#444" stroke-width="0.6"/>
<circle cx="85.8" cy="552.0" r="1.9" fill="#fff" stroke="#444" stroke-width="0.6"/>
<text x="85.8" y="531.0" font-size="8.5" text-anchor="middle" fill="#222">(83;2)</text>
<rect x="104.4" y="556.9" width="18.4" height="27.7" fill="#dc2a28" stroke="#333" stroke-width="0.7"/>
<line x1="113.6" y1="538.9" x2="113.6" y2="574.5" stroke="#333" stroke-width="0.7"/>
<line x1="108.7" y1="538.9" x2="118.5" y2="538.9" stroke="#333" stroke-width="0.8"/>
<line x1="108.7" y1="574.5" x2="118.5" y2="574.5" stroke="#333" stroke-width="0.8"/>
<circle cx="113.6" cy="543.8" r="1.9" fill="#fff" stroke="#444" stroke-width="0.6"/>
<circle cx="113.6" cy="569.2" r="1.9" fill="#fff" stroke="#444" stroke-width="0.6"/>
<text x="113.6" y="532.8" font-size="8.5" text-anchor="middle" fill="#222">(93;2)</text>
<rect x="132.4" y="562.2" width="18.4" height="22.4" fill="#6a3d9a" stroke="#333" stroke-width="0.7"/>
<line x1="141.6" y1="553.4" x2="141.6" y2="571.3" stroke="#333" stroke-width="0.7"/>
<line x1="136.7" y1="553.4" x2="146.5" y2="553.4" stroke="#333" stroke-width="0.8"/>
<line x1="136.7" y1="571.3" x2="146.5" y2="571.3" stroke="#333" stroke-width="0.8"/>
<circle cx="141.6" cy="555.7" r="1.9" fill="#fff" stroke="#444" stroke-width="0.6"/>
<circle cx="141.6" cy="568.3" r="1.9" fill="#fff" stroke="#444" stroke-width="0.6"/>
<text x="141.6" y="546.8" font-size="8.5" text-anchor="middle" fill="#222">(40;2)</text>
<rect x="160.4" y="562.2" width="18.4" height="22.4" fill="#ee9898" stroke="#333" stroke-width="0.7"/>
<line x1="169.6" y1="555.2" x2="169.6" y2="568.3" stroke="#333" stroke-width="0.7"/>
<line x1="164.7" y1="555.2" x2="174.5" y2="555.2" stroke="#333" stroke-width="0.8"/>
<line x1="164.7" y1="568.3" x2="174.5" y2="568.3" stroke="#333" stroke-width="0.8"/>
<circle cx="169.6" cy="557.0" r="1.9" fill="#fff" stroke="#444" stroke-width="0.6"/>
<circle cx="169.6" cy="566.6" r="1.9" fill="#fff" stroke="#444" stroke-width="0.6"/>
<text x="169.6" y="549.4" font-size="8.5" text-anchor="middle" fill="#222">(89;2)</text>
<rect x="188.1" y="566.0" width="18.4" height="18.6" fill="#30a035" stroke="#333" stroke-width="0.7"/>
<line x1="197.3" y1="561.3" x2="197.3" y2="569.7" stroke="#333" stroke-width="0.7"/>
<line x1="192.4" y1="561.3" x2="202.2" y2="561.3" stroke="#333" stroke-width="0.8"/>
<line x1="192.4" y1="569.7" x2="202.2" y2="569.7" stroke="#333" stroke-width="0.8"/>
<circle cx="197.3" cy="562.2" r="1.9" fill="#fff" stroke="#444" stroke-width="0.6"/>
<circle cx="197.3" cy="568.3" r="1.9" fill="#fff" stroke="#444" stroke-width="0.6"/>
<text x="197.3" y="555.0" font-size="8.5" text-anchor="middle" fill="#222">(30;2)</text>
<rect x="234.2" y="460.3" width="18.4" height="124.3" fill="#2477b3" stroke="#333" stroke-width="0.7"/>
<line x1="243.4" y1="445.0" x2="243.4" y2="474.8" stroke="#333" stroke-width="0.7"/>
<line x1="238.5" y1="445.0" x2="248.3" y2="445.0" stroke="#333" stroke-width="0.8"/>
<line x1="238.5" y1="474.8" x2="248.3" y2="474.8" stroke="#333" stroke-width="0.8"/>
<circle cx="236.0" cy="452.4" r="1.9" fill="#fff" stroke="#444" stroke-width="0.6"/>
<circle cx="243.4" cy="452.4" r="1.9" fill="#fff" stroke="#444" stroke-width="0.6"/>
<circle cx="250.8" cy="452.4" r="1.9" fill="#fff" stroke="#444" stroke-width="0.6"/>
<circle cx="243.4" cy="481.8" r="1.9" fill="#fff" stroke="#444" stroke-width="0.6"/>
<text x="243.4" y="440.0" font-size="8.5" text-anchor="middle" fill="#222">(41;4)</text>
<rect x="262.2" y="506.4" width="18.4" height="78.2" fill="#a6d28c" stroke="#333" stroke-width="0.7"/>
<line x1="271.4" y1="478.7" x2="271.4" y2="534.4" stroke="#333" stroke-width="0.7"/>
<line x1="266.5" y1="478.7" x2="276.3" y2="478.7" stroke="#333" stroke-width="0.8"/>
<line x1="266.5" y1="534.4" x2="276.3" y2="534.4" stroke="#333" stroke-width="0.8"/>
<circle cx="271.4" cy="478.7" r="1.9" fill="#fff" stroke="#444" stroke-width="0.6"/>
<circle cx="271.4" cy="492.2" r="1.9" fill="#fff" stroke="#444" stroke-width="0.6"/>
<circle cx="271.4" cy="500.6" r="1.9" fill="#fff" stroke="#444" stroke-width="0.6"/>
<circle cx="271.4" cy="509.3" r="1.9" fill="#fff" stroke="#444" stroke-width="0.6"/>
<circle cx="271.4" cy="551.7" r="1.9" fill="#fff" stroke="#444" stroke-width="0.6"/>
<text x="271.4" y="470.7" font-size="8.5" text-anchor="middle" fill="#222">(49;5)</text>
<rect x="290.2" y="535.3" width="18.4" height="49.3" fill="#dc2a28" stroke="#333" stroke-width="0.7"/>
<line x1="299.4" y1="530.4" x2="299.4" y2="539.5" stroke="#333" stroke-width="0.7"/>
<line x1="294.5" y1="530.4" x2="304.3" y2="530.4" stroke="#333" stroke-width="0.8"/>
<line x1="294.5" y1="539.5" x2="304.3" y2="539.5" stroke="#333" stroke-width="0.8"/>
<circle cx="299.4" cy="531.8" r="1.9" fill="#fff" stroke="#444" stroke-width="0.6"/>
<circle cx="299.4" cy="537.0" r="1.9" fill="#fff" stroke="#444" stroke-width="0.6"/>
<text x="299.4" y="524.3" font-size="8.5" text-anchor="middle" fill="#222">(19;2)</text>
<text x="124.2" y="594.4" font-size="8.5" text-anchor="middle" fill="#222">siRNA-LNP</text>
<text x="272.2" y="593.5" font-size="8.5" text-anchor="middle" fill="#222">mRNA-LNP</text>
<rect x="43.8" y="608.2" width="8.1" height="7.9" fill="#2477b3"/>
<text x="53.4" y="615.4" font-size="8.5" fill="#222">Rab5</text>
<rect x="87.0" y="608.2" width="8.1" height="7.9" fill="#a6d28c"/>
<text x="96.6" y="615.4" font-size="8.5" fill="#222">EEA1</text>
<rect x="129.8" y="608.2" width="8.1" height="7.9" fill="#dc2a28"/>
<text x="139.4" y="615.4" font-size="8.5" fill="#222">Rab7</text>
<rect x="172.7" y="608.2" width="8.1" height="7.9" fill="#6a3d9a"/>
<text x="182.3" y="615.4" font-size="8.5" fill="#222">Rab4</text>
<rect x="216.0" y="608.2" width="8.1" height="7.9" fill="#ee9898"/>
<text x="225.6" y="615.4" font-size="8.5" fill="#222">Rab11</text>
<rect x="259.3" y="608.2" width="8.1" height="7.9" fill="#30a035"/>
<text x="268.9" y="615.4" font-size="8.5" fill="#222">LAMP1</text>
<clipPath id="cp391432"><rect x="391.4" y="432.2" width="107.4" height="71.7"/></clipPath>
<g clip-path="url(#cp391432)">
<polygon points="391.4,438.1 394.7,441.4 398.1,444.8 401.4,449.8 404.8,458.2 408.1,461.6 411.5,464.1 414.9,464.9 418.2,461.6 421.6,459.9 426.6,458.2 431.6,460.7 436.7,459.1 441.7,458.2 446.8,456.5 450.1,453.2 453.5,455.7 456.8,457.4 460.2,454.0 463.5,449.8 465.2,454.9 468.6,457.4 471.9,459.9 475.3,460.7 478.6,461.6 482.0,461.6 485.4,459.1 488.7,458.2 490.4,449.8 492.1,444.8 495.4,441.4 498.8,438.1 498.8,497.7 493.8,496.0 490.4,494.3 487.0,492.6 483.7,491.0 480.3,491.0 477.0,490.1 473.6,488.4 470.3,485.1 466.9,483.4 463.5,479.2 460.2,478.4 455.1,476.7 451.8,475.0 446.8,476.7 441.7,478.4 436.7,478.4 431.6,478.4 426.6,476.7 421.6,477.5 418.2,478.4 414.9,480.0 411.5,481.7 408.1,483.4 404.8,483.4 401.4,485.1 398.1,485.1 394.7,488.4 391.4,491.8" fill="#eef4fa"/>
<line x1="391.4" y1="486.0" x2="498.8" y2="486.0" stroke="#c8c8c8" stroke-width="0.7" stroke-dasharray="1.5 1.5"/>
<polyline points="391.4,462.4 393.9,456.5 395.6,463.3 397.2,466.6 401.4,466.3 403.9,470.0 405.6,472.0 406.8,469.1 409.0,472.0 411.5,474.7 414.9,475.5 416.5,473.0 419.1,473.3 421.6,469.1 423.3,468.0 424.1,470.0 425.8,466.9 428.3,468.3 431.6,470.3 433.3,468.6 436.7,469.1 440.0,469.1 442.6,469.1 444.2,467.4 445.9,466.6 447.6,468.6 450.1,466.6 451.8,464.1 454.3,463.3 456.0,464.6 457.7,468.0 460.2,468.3 461.9,468.3 463.5,464.1 464.4,463.6 466.1,469.1 468.6,470.8 470.3,470.0 471.9,476.7 474.5,476.7 475.3,477.5 477.0,474.2 479.5,476.7 482.0,477.5 483.7,476.7 485.4,478.4 487.0,477.5 488.7,479.2 490.4,475.8 492.1,472.5 493.8,470.8 495.4,471.6 497.1,469.1 498.8,469.1" fill="none" stroke="#2a7ab8" stroke-width="1.1" stroke-linejoin="round"/>
</g>
<rect x="391.4" y="432.2" width="107.4" height="71.7" fill="none" stroke="#9a9a9a" stroke-width="1"/>
<line x1="388.9" y1="503.9" x2="391.4" y2="503.9" stroke="#9a9a9a" stroke-width="0.8"/>
<text x="387.2" y="507.0" font-size="8.5" text-anchor="end" fill="#222">0</text>
<line x1="388.9" y1="486.0" x2="391.4" y2="486.0" stroke="#9a9a9a" stroke-width="0.8"/>
<text x="387.2" y="489.1" font-size="8.5" text-anchor="end" fill="#222">1</text>
<line x1="388.9" y1="468.0" x2="391.4" y2="468.0" stroke="#9a9a9a" stroke-width="0.8"/>
<text x="387.2" y="471.1" font-size="8.5" text-anchor="end" fill="#222">2</text>
<line x1="388.9" y1="450.1" x2="391.4" y2="450.1" stroke="#9a9a9a" stroke-width="0.8"/>
<text x="387.2" y="453.2" font-size="8.5" text-anchor="end" fill="#222">3</text>
<line x1="388.9" y1="432.2" x2="391.4" y2="432.2" stroke="#9a9a9a" stroke-width="0.8"/>
<text x="387.2" y="435.3" font-size="8.5" text-anchor="end" fill="#222">4</text>
<line x1="391.4" y1="503.9" x2="391.4" y2="506.4" stroke="#9a9a9a" stroke-width="0.8"/>
<text x="392.4" y="515.0" font-size="8.5" text-anchor="middle" fill="#222">−55</text>
<line x1="427.2" y1="503.9" x2="427.2" y2="506.4" stroke="#9a9a9a" stroke-width="0.8"/>
<text x="428.2" y="515.0" font-size="8.5" text-anchor="middle" fill="#222">0</text>
<line x1="463.0" y1="503.9" x2="463.0" y2="506.4" stroke="#9a9a9a" stroke-width="0.8"/>
<text x="464.0" y="515.0" font-size="8.5" text-anchor="middle" fill="#222">55</text>
<line x1="498.8" y1="503.9" x2="498.8" y2="506.4" stroke="#9a9a9a" stroke-width="0.8"/>
<text x="499.8" y="515.0" font-size="8.5" text-anchor="middle" fill="#222">110</text>
<text x="450.6" y="429.4" font-size="8.3" text-anchor="middle" fill="#222">Rab5<tspan dy="-3.2" font-size="6.2" font-weight="bold">+</tspan><tspan dy="3.2"> mRNA-LNP</tspan></text>
<text x="394.0" y="441.2" font-size="8.3" fill="#222" textLength="22.6" lengthAdjust="spacingAndGlyphs">N = 39</text>
<text transform="translate(374.9 468.0) rotate(-90)" font-size="8.5" text-anchor="middle" fill="#222">Norm. fluorescence</text>
<clipPath id="cp538432"><rect x="538.7" y="432.2" width="107.6" height="71.7"/></clipPath>
<g clip-path="url(#cp538432)">
<polygon points="538.7,444.8 541.7,448.1 545.1,449.8 548.4,449.8 551.8,446.5 556.8,444.8 561.9,441.4 566.9,438.1 570.3,434.7 573.6,434.7 575.3,446.5 578.6,454.9 582.0,461.6 585.4,454.9 588.7,449.8 592.1,446.5 595.4,461.6 598.8,466.6 602.1,468.3 605.5,470.0 608.9,471.6 612.2,468.3 615.6,468.3 618.9,461.6 620.6,453.2 622.3,441.4 623.1,461.6 625.6,475.0 629.0,475.0 632.4,473.3 635.7,475.0 639.1,471.6 642.4,475.0 646.3,466.6 646.3,491.8 642.4,492.6 635.7,495.1 629.0,496.8 622.3,498.5 615.6,500.2 608.9,500.2 602.1,498.5 595.4,496.8 588.7,494.3 585.4,493.5 582.0,491.8 578.6,491.0 575.3,491.8 571.9,481.7 568.6,478.4 565.2,478.4 561.9,480.0 558.5,481.7 555.1,480.0 551.8,480.0 548.4,481.7 545.1,483.4 541.7,485.1 538.7,486.8" fill="#f1f8ef"/>
<line x1="538.7" y1="499.1" x2="646.3" y2="499.1" stroke="#c8c8c8" stroke-width="0.7" stroke-dasharray="1.5 1.5"/>
<polyline points="538.7,464.1 540.0,468.3 541.7,467.4 543.4,468.3 544.2,464.9 545.9,466.6 547.1,468.3 548.4,461.6 550.1,462.4 551.8,459.9 553.1,459.1 554.3,461.6 556.0,461.6 558.5,465.8 560.2,465.3 561.9,464.1 563.5,464.1 564.9,454.9 566.1,453.2 567.7,455.7 569.4,458.2 570.6,454.9 571.9,451.5 573.3,452.3 574.4,461.6 576.1,477.5 577.8,469.1 579.0,468.3 580.3,471.6 582.8,474.2 585.4,476.7 587.4,477.5 588.7,471.6 589.6,475.0 590.4,476.7 592.1,473.3 593.4,472.0 595.1,480.0 597.1,481.4 598.8,481.7 601.3,484.2 603.8,485.9 606.3,486.8 608.9,488.4 611.4,486.8 613.1,487.6 615.6,488.4 617.3,483.4 618.9,478.4 620.6,480.0 622.3,476.7 623.1,491.8 625.6,491.8 627.3,491.0 629.0,492.6 630.7,490.1 632.4,489.8 634.0,490.4 635.7,491.8 637.4,489.3 639.1,491.5 640.8,488.4 642.4,491.8 644.1,485.1 645.1,480.0 646.3,490.1" fill="none" stroke="#3aa03a" stroke-width="1.1" stroke-linejoin="round"/>
</g>
<rect x="538.7" y="432.2" width="107.6" height="71.7" fill="none" stroke="#9a9a9a" stroke-width="1"/>
<line x1="536.2" y1="503.9" x2="538.7" y2="503.9" stroke="#9a9a9a" stroke-width="0.8"/>
<text x="534.5" y="507.0" font-size="8.5" text-anchor="end" fill="#222">0</text>
<line x1="536.2" y1="480.0" x2="538.7" y2="480.0" stroke="#9a9a9a" stroke-width="0.8"/>
<text x="534.5" y="483.1" font-size="8.5" text-anchor="end" fill="#222">5</text>
<line x1="536.2" y1="456.1" x2="538.7" y2="456.1" stroke="#9a9a9a" stroke-width="0.8"/>
<text x="534.5" y="459.2" font-size="8.5" text-anchor="end" fill="#222">10</text>
<line x1="536.2" y1="432.2" x2="538.7" y2="432.2" stroke="#9a9a9a" stroke-width="0.8"/>
<text x="534.5" y="435.3" font-size="8.5" text-anchor="end" fill="#222">15</text>
<line x1="538.7" y1="503.9" x2="538.7" y2="506.4" stroke="#9a9a9a" stroke-width="0.8"/>
<text x="539.7" y="515.0" font-size="8.5" text-anchor="middle" fill="#222">−55</text>
<line x1="574.6" y1="503.9" x2="574.6" y2="506.4" stroke="#9a9a9a" stroke-width="0.8"/>
<text x="575.6" y="515.0" font-size="8.5" text-anchor="middle" fill="#222">0</text>
<line x1="610.4" y1="503.9" x2="610.4" y2="506.4" stroke="#9a9a9a" stroke-width="0.8"/>
<text x="611.4" y="515.0" font-size="8.5" text-anchor="middle" fill="#222">55</text>
<line x1="646.3" y1="503.9" x2="646.3" y2="506.4" stroke="#9a9a9a" stroke-width="0.8"/>
<text x="647.3" y="515.0" font-size="8.5" text-anchor="middle" fill="#222">110</text>
<text x="598.0" y="429.4" font-size="8.3" text-anchor="middle" fill="#222">EEA1<tspan dy="-3.2" font-size="6.2" font-weight="bold">+</tspan><tspan dy="3.2"> mRNA-LNP</tspan></text>
<text x="541.3" y="441.2" font-size="8.3" fill="#222" textLength="22.6" lengthAdjust="spacingAndGlyphs">N = 31</text>
<clipPath id="cp391538"><rect x="391.4" y="538.2" width="107.4" height="72.1"/></clipPath>
<g clip-path="url(#cp391538)">
<polygon points="391.4,572.6 394.7,574.3 398.1,572.6 401.4,570.9 404.8,567.6 408.1,570.9 411.5,567.6 414.9,569.3 418.2,565.9 421.6,562.5 424.9,564.2 428.3,565.9 431.6,562.5 435.0,562.5 438.4,567.6 441.7,564.2 445.1,560.9 448.4,562.5 451.8,557.5 455.1,559.2 458.5,550.8 461.9,544.1 465.2,550.8 468.6,547.4 471.9,542.4 475.3,540.7 478.6,539.0 482.0,544.1 485.4,547.4 488.7,540.7 492.1,539.0 498.8,540.7 498.8,604.5 492.1,607.9 488.7,606.2 485.4,607.9 482.0,606.2 478.6,604.5 475.3,606.2 471.9,604.5 468.6,602.8 465.2,601.1 461.9,599.5 458.5,597.8 455.1,596.1 451.8,594.4 448.4,592.8 445.1,591.1 441.7,592.8 438.4,591.9 435.0,591.1 431.6,592.8 428.3,591.1 424.9,591.9 421.6,592.8 418.2,594.4 414.9,596.1 411.5,597.8 408.1,600.3 404.8,601.1 401.4,602.8 398.1,604.5 394.7,602.8 391.4,601.1" fill="#eef4fa"/>
<line x1="391.4" y1="592.3" x2="498.8" y2="592.3" stroke="#c8c8c8" stroke-width="0.7" stroke-dasharray="1.5 1.5"/>
<polyline points="391.4,583.5 393.0,586.9 395.6,587.7 397.2,589.4 398.9,591.1 400.6,589.4 402.3,587.7 403.9,586.9 405.6,586.0 407.3,587.7 409.0,588.6 410.7,587.4 412.3,590.2 414.0,589.4 415.7,588.6 417.4,587.7 419.1,584.4 420.7,581.8 423.3,580.7 424.9,579.3 427.4,578.5 429.1,580.2 430.8,579.3 432.5,576.8 434.2,579.3 435.8,576.8 437.5,576.0 439.2,582.7 440.9,581.8 442.6,580.2 444.2,578.0 445.9,578.5 447.6,578.5 449.3,576.0 451.0,576.8 452.6,575.1 454.3,578.5 456.0,581.0 457.7,576.0 459.3,575.1 461.0,574.3 462.7,572.9 464.4,576.8 465.2,579.3 466.9,573.4 468.6,577.6 470.3,576.8 471.9,574.3 473.6,572.6 475.3,572.3 477.0,571.8 479.5,570.6 481.2,574.3 482.0,582.7 482.8,589.4 484.5,574.3 485.4,584.4 487.0,579.3 488.7,578.5 490.1,572.6 491.2,566.7 492.1,565.1 493.8,562.5 495.4,565.9 497.1,570.9 498.8,570.1" fill="none" stroke="#2a7ab8" stroke-width="1.1" stroke-linejoin="round"/>
</g>
<rect x="391.4" y="538.2" width="107.4" height="72.1" fill="none" stroke="#9a9a9a" stroke-width="1"/>
<line x1="388.9" y1="610.3" x2="391.4" y2="610.3" stroke="#9a9a9a" stroke-width="0.8"/>
<text x="387.2" y="613.4" font-size="8.5" text-anchor="end" fill="#222">0</text>
<line x1="388.9" y1="592.3" x2="391.4" y2="592.3" stroke="#9a9a9a" stroke-width="0.8"/>
<text x="387.2" y="595.4" font-size="8.5" text-anchor="end" fill="#222">1</text>
<line x1="388.9" y1="574.2" x2="391.4" y2="574.2" stroke="#9a9a9a" stroke-width="0.8"/>
<text x="387.2" y="577.4" font-size="8.5" text-anchor="end" fill="#222">2</text>
<line x1="388.9" y1="556.2" x2="391.4" y2="556.2" stroke="#9a9a9a" stroke-width="0.8"/>
<text x="387.2" y="559.3" font-size="8.5" text-anchor="end" fill="#222">3</text>
<line x1="388.9" y1="538.2" x2="391.4" y2="538.2" stroke="#9a9a9a" stroke-width="0.8"/>
<text x="387.2" y="541.3" font-size="8.5" text-anchor="end" fill="#222">4</text>
<line x1="391.4" y1="610.3" x2="391.4" y2="612.8" stroke="#9a9a9a" stroke-width="0.8"/>
<text x="392.4" y="621.4" font-size="8.5" text-anchor="middle" fill="#222">−55</text>
<line x1="427.2" y1="610.3" x2="427.2" y2="612.8" stroke="#9a9a9a" stroke-width="0.8"/>
<text x="428.2" y="621.4" font-size="8.5" text-anchor="middle" fill="#222">0</text>
<line x1="463.0" y1="610.3" x2="463.0" y2="612.8" stroke="#9a9a9a" stroke-width="0.8"/>
<text x="464.0" y="621.4" font-size="8.5" text-anchor="middle" fill="#222">55</text>
<line x1="498.8" y1="610.3" x2="498.8" y2="612.8" stroke="#9a9a9a" stroke-width="0.8"/>
<text x="499.8" y="621.4" font-size="8.5" text-anchor="middle" fill="#222">110</text>
<text x="450.6" y="535.4" font-size="8.3" text-anchor="middle" fill="#222">Rab5<tspan dy="-3.2" font-size="6.2" font-weight="bold">+</tspan><tspan dy="3.2"> siRNA-LNP</tspan></text>
<text x="394.0" y="547.2" font-size="8.3" fill="#222" textLength="22.6" lengthAdjust="spacingAndGlyphs">N = 48</text>
<text transform="translate(374.9 574.2) rotate(-90)" font-size="8.5" text-anchor="middle" fill="#222">Norm. fluorescence</text>
<text x="447.9" y="636.3" font-size="8.5" text-anchor="middle" fill="#222" textLength="28.7" lengthAdjust="spacingAndGlyphs">Time (s)</text>
<clipPath id="cp538538"><rect x="538.7" y="538.2" width="107.6" height="72.1"/></clipPath>
<g clip-path="url(#cp538538)">
<polygon points="538.7,576.0 541.7,581.0 545.1,584.4 548.4,576.0 550.1,560.9 551.8,564.2 554.3,560.9 556.0,567.6 558.5,574.3 561.9,577.6 565.2,584.4 568.6,586.0 571.1,584.4 573.6,592.8 577.0,597.8 580.3,601.1 583.7,602.8 587.0,603.7 590.4,602.8 593.8,602.8 597.1,604.5 600.5,606.2 605.5,606.2 610.5,604.5 613.1,599.5 613.9,606.2 618.9,607.9 624.0,607.0 629.0,604.5 632.0,592.8 634.0,604.5 639.1,606.2 646.3,605.3 646.3,609.9 582.0,609.5 575.3,609.5 568.6,607.9 561.9,607.9 558.5,606.2 555.1,604.5 551.8,606.2 548.4,607.9 543.4,606.2 538.7,604.5" fill="#f1f8ef"/>
<line x1="538.7" y1="605.5" x2="646.3" y2="605.5" stroke="#c8c8c8" stroke-width="0.7" stroke-dasharray="1.5 1.5"/>
<polyline points="538.7,592.8 540.0,591.9 541.4,596.4 543.4,595.8 545.9,595.8 548.4,594.4 549.8,589.4 550.4,584.4 551.8,587.7 553.5,585.2 554.8,584.4 556.5,586.9 558.5,587.7 560.2,591.1 562.7,590.2 564.4,591.1 566.1,592.8 567.7,593.6 568.6,597.0 570.3,591.9 571.9,594.4 573.6,597.0 575.3,600.3 577.0,602.8 578.6,602.0 580.3,601.1 582.0,602.8 584.5,604.5 587.0,604.8 588.7,606.2 591.2,605.8 592.9,605.3 594.6,604.5 597.1,604.5 599.6,605.3 601.3,607.9 603.8,607.9 606.3,607.9 608.9,607.5 610.5,607.9 612.2,607.9 613.1,605.8 614.7,609.5 617.3,609.5 619.8,609.5 621.5,608.7 623.1,607.9 625.6,608.2 628.2,607.9 629.8,607.5 632.0,604.5 633.2,605.3 634.9,608.7 637.4,608.7 639.1,607.9 640.8,607.5 642.4,607.9 644.1,607.9 646.3,607.0" fill="none" stroke="#3aa03a" stroke-width="1.1" stroke-linejoin="round"/>
</g>
<rect x="538.7" y="538.2" width="107.6" height="72.1" fill="none" stroke="#9a9a9a" stroke-width="1"/>
<line x1="536.2" y1="610.3" x2="538.7" y2="610.3" stroke="#9a9a9a" stroke-width="0.8"/>
<text x="534.5" y="613.4" font-size="8.5" text-anchor="end" fill="#222">0</text>
<line x1="536.2" y1="586.3" x2="538.7" y2="586.3" stroke="#9a9a9a" stroke-width="0.8"/>
<text x="534.5" y="589.4" font-size="8.5" text-anchor="end" fill="#222">5</text>
<line x1="536.2" y1="562.2" x2="538.7" y2="562.2" stroke="#9a9a9a" stroke-width="0.8"/>
<text x="534.5" y="565.3" font-size="8.5" text-anchor="end" fill="#222">10</text>
<line x1="536.2" y1="538.2" x2="538.7" y2="538.2" stroke="#9a9a9a" stroke-width="0.8"/>
<text x="534.5" y="541.3" font-size="8.5" text-anchor="end" fill="#222">15</text>
<line x1="538.7" y1="610.3" x2="538.7" y2="612.8" stroke="#9a9a9a" stroke-width="0.8"/>
<text x="539.7" y="621.4" font-size="8.5" text-anchor="middle" fill="#222">−55</text>
<line x1="574.6" y1="610.3" x2="574.6" y2="612.8" stroke="#9a9a9a" stroke-width="0.8"/>
<text x="575.6" y="621.4" font-size="8.5" text-anchor="middle" fill="#222">0</text>
<line x1="610.4" y1="610.3" x2="610.4" y2="612.8" stroke="#9a9a9a" stroke-width="0.8"/>
<text x="611.4" y="621.4" font-size="8.5" text-anchor="middle" fill="#222">55</text>
<line x1="646.3" y1="610.3" x2="646.3" y2="612.8" stroke="#9a9a9a" stroke-width="0.8"/>
<text x="647.3" y="621.4" font-size="8.5" text-anchor="middle" fill="#222">110</text>
<text x="598.0" y="535.4" font-size="8.3" text-anchor="middle" fill="#222">EEA1<tspan dy="-3.2" font-size="6.2" font-weight="bold">+</tspan><tspan dy="3.2"> siRNA-LNP</tspan></text>
<text x="541.3" y="547.2" font-size="8.3" fill="#222" textLength="22.6" lengthAdjust="spacingAndGlyphs">N = 23</text>
<text x="595.3" y="636.3" font-size="8.5" text-anchor="middle" fill="#222" textLength="28.7" lengthAdjust="spacingAndGlyphs">Time (s)</text>
<path fill="#4a0f6e" d="M54.00 671.30h2.52v48.84h-2.52zM56.52 681.86h2.52v42.24h-2.52zM59.04 693.74h2.52v34.32h-2.52zM61.56 671.30h2.52v59.40h-2.52zM64.08 676.58h2.52v58.08h-2.52zM66.60 671.30h2.52v66.00h-2.52zM69.12 691.10h2.52v48.84h-2.52zM71.64 684.50h2.52v56.76h-2.52zM74.16 685.82h2.52v58.08h-2.52zM76.68 685.82h2.52v60.72h-2.52zM79.20 671.30h2.52v76.56h-2.52zM81.72 676.58h2.52v73.92h-2.52zM84.24 671.30h2.52v83.16h-2.52zM86.76 677.90h2.52v80.52h-2.52zM89.28 675.26h2.52v88.44h-2.52zM91.80 671.30h2.52v96.36h-2.52zM94.32 676.58h2.52v95.72h-2.52zM96.84 671.30h2.52v101.00h-2.52zM99.36 683.18h2.52v89.12h-2.52zM104.60 671.30h2.53v47.52h-2.53zM107.13 671.30h2.53v48.84h-2.53zM109.66 685.82h2.53v36.96h-2.53zM112.19 688.46h2.53v36.96h-2.53zM114.72 671.30h2.53v55.44h-2.53zM117.25 671.30h2.53v59.40h-2.53zM119.78 672.62h2.53v59.40h-2.53zM122.31 671.30h2.53v63.36h-2.53zM124.84 671.30h2.53v67.32h-2.53zM127.37 671.30h2.53v68.64h-2.53zM129.90 696.38h2.53v44.88h-2.53zM132.43 696.38h2.53v44.88h-2.53zM134.96 671.30h2.53v71.28h-2.53zM137.49 680.54h2.53v62.04h-2.53zM140.02 693.74h2.53v48.84h-2.53zM142.55 693.74h2.53v50.16h-2.53zM145.08 671.30h2.53v73.92h-2.53zM147.61 691.10h2.53v55.44h-2.53zM150.14 691.10h2.53v55.44h-2.53zM152.67 681.86h2.53v66.00h-2.53zM155.20 671.30h2.53v77.88h-2.53zM157.73 687.14h2.53v63.36h-2.53zM160.26 671.30h2.53v84.48h-2.53zM162.79 675.26h2.53v84.48h-2.53zM165.32 675.26h2.53v91.08h-2.53zM167.85 671.30h2.53v101.00h-2.53zM170.38 671.30h2.53v101.00h-2.53zM172.91 692.42h2.53v79.88h-2.53zM175.44 671.30h2.53v101.00h-2.53zM177.97 699.02h2.53v73.28h-2.53zM180.50 671.30h2.53v101.00h-2.53zM183.03 684.50h2.53v87.80h-2.53zM185.56 671.30h2.53v101.00h-2.53zM203.00 671.30h1.60v43.56h-1.60zM204.60 671.30h1.60v44.88h-1.60zM206.21 671.30h1.60v47.52h-1.60zM207.81 675.26h1.60v44.88h-1.60zM209.41 671.30h1.60v48.84h-1.60zM211.01 693.74h1.60v26.40h-1.60zM212.62 692.42h1.60v27.72h-1.60zM214.22 688.46h1.60v31.68h-1.60zM215.82 689.78h1.60v31.68h-1.60zM217.43 680.54h1.60v40.92h-1.60zM219.03 692.42h1.60v29.04h-1.60zM220.63 693.74h1.60v29.04h-1.60zM222.24 671.30h1.60v52.80h-1.60zM223.84 689.78h1.60v34.32h-1.60zM225.44 692.42h1.60v33.00h-1.60zM227.04 671.30h1.60v54.12h-1.60zM228.65 691.10h1.60v34.32h-1.60zM230.25 677.90h1.60v48.84h-1.60zM231.85 688.46h1.60v38.28h-1.60zM233.46 676.58h1.60v50.16h-1.60zM235.06 688.46h1.60v39.60h-1.60zM236.66 691.10h1.60v36.96h-1.60zM238.27 680.54h1.60v48.84h-1.60zM239.87 689.78h1.60v40.92h-1.60zM241.47 671.30h1.60v59.40h-1.60zM243.07 671.30h1.60v60.72h-1.60zM244.68 689.78h1.60v43.56h-1.60zM246.28 671.30h1.60v63.36h-1.60zM247.88 693.74h1.60v42.24h-1.60zM249.49 688.46h1.60v48.84h-1.60zM251.09 671.30h1.60v67.32h-1.60zM252.69 671.30h1.60v68.64h-1.60zM254.30 692.42h1.60v48.84h-1.60zM255.90 684.50h1.60v58.08h-1.60zM257.50 696.38h1.60v47.52h-1.60zM259.11 691.10h1.60v56.76h-1.60zM260.71 692.42h1.60v58.08h-1.60zM262.31 671.30h1.60v81.84h-1.60zM263.91 688.46h1.60v68.64h-1.60zM265.52 671.30h1.60v87.12h-1.60zM267.12 671.30h1.60v89.76h-1.60zM268.72 671.30h1.60v92.40h-1.60zM270.33 696.38h1.60v72.60h-1.60zM271.93 680.54h1.60v91.76h-1.60zM273.53 696.38h1.60v75.92h-1.60zM275.13 693.74h1.60v78.56h-1.60zM276.74 671.30h1.60v101.00h-1.60zM278.34 671.30h1.60v101.00h-1.60zM279.94 693.74h1.60v78.56h-1.60zM281.55 696.38h1.60v75.92h-1.60zM283.15 689.78h1.60v82.52h-1.60zM284.75 671.30h1.60v101.00h-1.60zM286.36 693.74h1.60v78.56h-1.60zM287.96 671.30h1.60v101.00h-1.60zM289.56 691.10h1.60v81.20h-1.60zM291.16 671.30h1.60v101.00h-1.60zM292.77 680.54h1.60v91.76h-1.60zM294.37 688.46h1.60v83.84h-1.60zM295.97 693.74h1.60v78.56h-1.60zM300.80 692.42h1.62v22.44h-1.62zM302.42 692.42h1.62v23.76h-1.62zM304.04 695.06h1.62v21.12h-1.62zM305.66 695.06h1.62v23.76h-1.62zM307.28 691.10h1.62v30.36h-1.62zM308.90 697.70h1.62v25.08h-1.62zM310.52 696.38h1.62v27.72h-1.62zM312.14 692.42h1.62v34.32h-1.62zM313.76 671.30h1.62v56.76h-1.62zM315.38 693.74h1.62v34.32h-1.62zM317.00 693.74h1.62v35.64h-1.62zM318.62 696.38h1.62v34.32h-1.62zM320.24 696.38h1.62v36.96h-1.62zM321.86 671.30h1.62v72.60h-1.62zM323.48 689.78h1.62v59.40h-1.62zM325.10 677.90h1.62v81.84h-1.62zM326.72 671.30h1.62v100.32h-1.62zM328.34 691.10h1.62v81.20h-1.62zM329.96 693.74h1.62v78.56h-1.62zM331.58 681.86h1.62v90.44h-1.62zM333.20 689.78h1.62v82.52h-1.62zM334.82 695.06h1.62v77.24h-1.62zM350.60 693.74h3.10v47.52h-3.10zM353.90 691.10h3.30v75.24h-3.30zM360.00 671.30h3.20v44.88h-3.20zM363.20 671.30h3.20v46.20h-3.20zM366.40 681.86h3.20v38.28h-3.20zM369.60 671.30h3.20v52.80h-3.20zM372.80 671.30h3.20v56.76h-3.20zM376.00 671.30h3.20v60.72h-3.20zM379.20 671.30h3.20v62.04h-3.20zM382.40 671.30h3.20v64.68h-3.20zM385.60 671.30h3.20v66.00h-3.20zM388.80 695.06h3.20v43.56h-3.20zM392.00 671.30h3.20v68.64h-3.20zM395.20 695.06h3.20v46.20h-3.20zM398.40 695.06h3.20v47.52h-3.20zM401.60 677.90h3.20v66.00h-3.20zM404.80 687.14h3.20v58.08h-3.20zM408.00 671.30h3.20v73.92h-3.20zM411.20 671.30h3.20v75.24h-3.20zM414.40 671.30h3.20v76.56h-3.20zM417.60 671.30h3.20v80.52h-3.20zM420.80 671.30h3.20v85.80h-3.20zM424.00 691.10h3.20v71.28h-3.20zM427.20 671.30h3.20v92.40h-3.20zM430.40 687.14h3.20v79.20h-3.20zM433.60 671.30h3.20v97.68h-3.20zM436.80 687.14h3.20v85.16h-3.20zM440.00 671.30h3.20v101.00h-3.20zM443.20 671.30h3.20v101.00h-3.20zM446.40 671.30h3.20v101.00h-3.20zM449.60 671.30h3.20v101.00h-3.20zM452.80 693.74h3.20v78.56h-3.20zM456.00 693.74h3.20v78.56h-3.20zM459.20 671.30h3.20v101.00h-3.20zM462.40 671.30h3.20v101.00h-3.20zM465.60 680.54h3.20v91.76h-3.20zM468.80 699.02h3.20v73.28h-3.20zM472.00 699.02h3.20v73.28h-3.20zM475.20 688.46h3.20v83.84h-3.20zM478.40 688.46h3.20v83.84h-3.20zM481.60 671.30h3.20v101.00h-3.20zM498.70 671.30h1.58v42.24h-1.58zM500.28 692.42h1.58v21.12h-1.58zM501.86 695.06h1.58v18.48h-1.58zM503.44 692.42h1.58v21.12h-1.58zM505.02 695.06h1.58v19.80h-1.58zM506.60 671.30h1.58v43.56h-1.58zM508.18 671.30h1.58v44.88h-1.58zM509.76 693.74h1.58v25.08h-1.58zM511.34 695.06h1.58v25.08h-1.58zM512.92 671.30h1.58v51.48h-1.58zM514.50 693.74h1.58v29.04h-1.58zM516.08 692.42h1.58v31.68h-1.58zM517.66 688.46h1.58v38.28h-1.58zM519.24 671.30h1.58v59.40h-1.58zM520.82 693.74h1.58v40.92h-1.58zM522.40 675.26h1.58v66.00h-1.58zM523.98 688.46h1.58v64.68h-1.58zM525.56 689.78h1.58v77.88h-1.58zM527.14 693.74h1.58v78.56h-1.58zM528.72 671.30h1.58v101.00h-1.58zM530.30 676.58h1.58v95.72h-1.58zM531.88 691.10h1.58v81.20h-1.58zM533.46 691.10h1.58v81.20h-1.58zM535.04 671.30h1.58v101.00h-1.58zM536.62 689.78h1.58v82.52h-1.58zM538.20 691.10h1.58v81.20h-1.58zM539.78 671.30h1.58v101.00h-1.58zM541.36 696.38h1.58v75.92h-1.58zM542.94 683.18h1.58v89.12h-1.58zM544.52 685.82h1.58v86.48h-1.58zM546.10 673.94h1.58v98.36h-1.58zM547.68 671.30h1.58v101.00h-1.58zM552.20 681.86h1.61v30.36h-1.61zM553.81 691.10h1.61v23.76h-1.61zM555.42 689.78h1.61v27.72h-1.61zM557.03 688.46h1.61v30.36h-1.61zM558.64 671.30h1.61v47.52h-1.61zM560.25 673.94h1.61v44.88h-1.61zM561.86 676.58h1.61v43.56h-1.61zM563.47 680.54h1.61v40.92h-1.61zM565.08 693.74h1.61v29.04h-1.61zM566.69 692.42h1.61v31.68h-1.61zM568.30 693.74h1.61v31.68h-1.61zM569.91 671.30h1.61v56.76h-1.61zM571.52 675.26h1.61v52.80h-1.61zM573.13 691.10h1.61v38.28h-1.61zM574.74 689.78h1.61v40.92h-1.61zM576.35 691.10h1.61v39.60h-1.61zM577.96 671.30h1.61v60.72h-1.61zM579.57 677.90h1.61v55.44h-1.61zM581.18 681.86h1.61v51.48h-1.61zM582.79 688.46h1.61v46.20h-1.61zM584.40 688.46h1.61v47.52h-1.61zM586.01 696.38h1.61v40.92h-1.61zM587.62 695.06h1.61v43.56h-1.61zM589.23 671.30h1.61v69.96h-1.61zM590.84 683.18h1.61v62.04h-1.61zM592.45 688.46h1.61v59.40h-1.61zM594.06 675.26h1.61v73.92h-1.61zM595.67 693.74h1.61v56.76h-1.61zM597.28 680.54h1.61v72.60h-1.61zM598.89 689.78h1.61v67.32h-1.61zM600.50 688.46h1.61v72.60h-1.61zM602.11 696.38h1.61v68.64h-1.61zM603.72 671.30h1.61v96.36h-1.61zM605.33 693.74h1.61v76.56h-1.61zM606.94 695.06h1.61v77.24h-1.61zM608.55 683.18h1.61v89.12h-1.61zM610.16 683.18h1.61v89.12h-1.61zM611.77 693.74h1.61v78.56h-1.61zM613.38 689.78h1.61v82.52h-1.61zM614.99 691.10h1.61v81.20h-1.61zM616.60 671.30h1.61v101.00h-1.61zM618.21 689.78h1.61v82.52h-1.61zM619.82 671.30h1.61v101.00h-1.61zM621.43 671.30h1.61v101.00h-1.61zM623.04 693.74h1.61v78.56h-1.61zM624.65 679.22h1.61v93.08h-1.61zM626.26 680.54h1.61v91.76h-1.61zM627.87 671.30h1.61v101.00h-1.61zM629.48 685.82h1.61v86.48h-1.61zM631.09 681.86h1.61v90.44h-1.61z" shape-rendering="crispEdges"/>
<path fill="#4c2c68" d="M54.00 671.30h2.52v2.64h-2.52zM54.00 683.18h2.52v1.32h-2.52zM54.00 687.14h2.52v1.32h-2.52zM54.00 695.06h2.52v1.32h-2.52zM54.00 699.02h2.52v1.32h-2.52zM54.00 702.98h2.52v1.32h-2.52zM54.00 705.62h2.52v1.32h-2.52zM54.00 712.22h2.52v1.32h-2.52zM54.00 717.50h2.52v1.32h-2.52zM59.04 702.98h2.52v2.64h-2.52zM59.04 709.58h2.52v1.32h-2.52zM61.56 681.86h2.52v1.32h-2.52zM61.56 687.14h2.52v1.32h-2.52zM61.56 696.38h2.52v1.32h-2.52zM61.56 700.34h2.52v1.32h-2.52zM64.08 676.58h2.52v1.32h-2.52zM64.08 687.14h2.52v1.32h-2.52zM64.08 691.10h2.52v2.64h-2.52zM64.08 699.02h2.52v1.32h-2.52zM64.08 705.62h2.52v1.32h-2.52zM64.08 722.78h2.52v1.32h-2.52zM64.08 732.02h2.52v1.32h-2.52zM66.60 712.22h2.52v2.64h-2.52zM66.60 720.14h2.52v1.32h-2.52zM66.60 725.42h2.52v1.32h-2.52zM66.60 734.66h2.52v1.32h-2.52zM69.12 699.02h2.52v1.32h-2.52zM69.12 712.22h2.52v1.32h-2.52zM69.12 726.74h2.52v1.32h-2.52zM69.12 729.38h2.52v1.32h-2.52zM69.12 735.98h2.52v1.32h-2.52zM71.64 735.98h2.52v1.32h-2.52zM74.16 692.42h2.52v2.64h-2.52zM74.16 697.70h2.52v1.32h-2.52zM74.16 700.34h2.52v1.32h-2.52zM74.16 705.62h2.52v1.32h-2.52zM74.16 709.58h2.52v3.96h-2.52zM74.16 716.18h2.52v3.96h-2.52zM74.16 722.78h2.52v2.64h-2.52zM74.16 728.06h2.52v5.28h-2.52zM74.16 735.98h2.52v2.64h-2.52zM74.16 739.94h2.52v3.96h-2.52zM76.68 687.14h2.52v1.32h-2.52zM76.68 689.78h2.52v1.32h-2.52zM76.68 709.58h2.52v1.32h-2.52zM76.68 722.78h2.52v1.32h-2.52zM76.68 737.30h2.52v1.32h-2.52zM79.20 706.94h2.52v6.60h-2.52zM79.20 716.18h2.52v1.32h-2.52zM79.20 718.82h2.52v1.32h-2.52zM79.20 721.46h2.52v1.32h-2.52zM79.20 725.42h2.52v3.96h-2.52zM79.20 730.70h2.52v1.32h-2.52zM79.20 733.34h2.52v1.32h-2.52zM79.20 738.62h2.52v3.96h-2.52zM79.20 743.90h2.52v2.64h-2.52zM81.72 676.58h2.52v1.32h-2.52zM81.72 691.10h2.52v1.32h-2.52zM81.72 700.34h2.52v1.32h-2.52zM81.72 706.94h2.52v1.32h-2.52zM81.72 709.58h2.52v1.32h-2.52zM81.72 732.02h2.52v1.32h-2.52zM81.72 734.66h2.52v1.32h-2.52zM84.24 691.10h2.52v1.32h-2.52zM84.24 712.22h2.52v1.32h-2.52zM84.24 716.18h2.52v1.32h-2.52zM84.24 718.82h2.52v1.32h-2.52zM84.24 722.78h2.52v1.32h-2.52zM84.24 730.70h2.52v1.32h-2.52zM84.24 737.30h2.52v1.32h-2.52zM84.24 739.94h2.52v2.64h-2.52zM86.76 706.94h2.52v1.32h-2.52zM86.76 720.14h2.52v1.32h-2.52zM86.76 725.42h2.52v1.32h-2.52zM86.76 732.02h2.52v1.32h-2.52zM86.76 735.98h2.52v1.32h-2.52zM86.76 743.90h2.52v1.32h-2.52zM89.28 677.90h2.52v2.64h-2.52zM89.28 681.86h2.52v1.32h-2.52zM89.28 697.70h2.52v1.32h-2.52zM89.28 700.34h2.52v1.32h-2.52zM89.28 702.98h2.52v2.64h-2.52zM89.28 708.26h2.52v1.32h-2.52zM89.28 725.42h2.52v1.32h-2.52zM89.28 746.54h2.52v1.32h-2.52zM89.28 749.18h2.52v1.32h-2.52zM91.80 713.54h2.52v1.32h-2.52zM91.80 721.46h2.52v1.32h-2.52zM91.80 728.06h2.52v2.64h-2.52zM91.80 733.34h2.52v1.32h-2.52zM91.80 737.30h2.52v1.32h-2.52zM91.80 750.50h2.52v3.96h-2.52zM91.80 755.78h2.52v1.32h-2.52zM91.80 765.02h2.52v1.32h-2.52zM94.32 677.90h2.52v1.32h-2.52zM94.32 680.54h2.52v1.32h-2.52zM94.32 683.18h2.52v2.64h-2.52zM94.32 689.78h2.52v1.32h-2.52zM94.32 699.02h2.52v2.64h-2.52zM94.32 704.30h2.52v1.32h-2.52zM94.32 716.18h2.52v1.32h-2.52zM94.32 729.38h2.52v1.32h-2.52zM94.32 733.34h2.52v1.32h-2.52zM94.32 741.26h2.52v1.32h-2.52zM94.32 750.50h2.52v1.32h-2.52zM94.32 755.78h2.52v1.32h-2.52zM94.32 765.02h2.52v1.32h-2.52zM94.32 768.98h2.52v1.32h-2.52zM96.84 672.62h2.52v1.32h-2.52zM96.84 699.02h2.52v1.32h-2.52zM96.84 716.18h2.52v1.32h-2.52zM96.84 720.14h2.52v1.32h-2.52zM96.84 725.42h2.52v2.64h-2.52zM96.84 729.38h2.52v1.32h-2.52zM96.84 738.62h2.52v1.32h-2.52zM96.84 741.26h2.52v1.32h-2.52zM96.84 753.14h2.52v1.32h-2.52zM96.84 755.78h2.52v1.32h-2.52zM96.84 759.74h2.52v1.32h-2.52zM96.84 763.70h2.52v1.32h-2.52zM99.36 691.10h2.52v1.32h-2.52zM99.36 693.74h2.52v2.64h-2.52zM99.36 705.62h2.52v1.32h-2.52zM99.36 710.90h2.52v2.64h-2.52zM99.36 717.50h2.52v2.64h-2.52zM99.36 722.78h2.52v1.32h-2.52zM99.36 725.42h2.52v2.64h-2.52zM99.36 735.98h2.52v1.32h-2.52zM99.36 749.18h2.52v1.32h-2.52zM99.36 761.06h2.52v1.32h-2.52zM99.36 770.30h2.52v1.32h-2.52zM104.60 706.94h2.53v1.32h-2.53zM104.60 709.58h2.53v3.96h-2.53zM104.60 714.86h2.53v1.32h-2.53zM104.60 717.50h2.53v1.32h-2.53zM107.13 709.58h2.53v1.32h-2.53zM107.13 714.86h2.53v2.64h-2.53zM109.66 708.26h2.53v1.32h-2.53zM109.66 716.18h2.53v1.32h-2.53zM117.25 706.94h2.53v1.32h-2.53zM117.25 720.14h2.53v2.64h-2.53zM129.90 706.94h2.53v2.64h-2.53zM129.90 713.54h2.53v1.32h-2.53zM129.90 716.18h2.53v1.32h-2.53zM129.90 718.82h2.53v1.32h-2.53zM129.90 734.66h2.53v1.32h-2.53zM132.43 705.62h2.53v1.32h-2.53zM132.43 708.26h2.53v2.64h-2.53zM132.43 713.54h2.53v1.32h-2.53zM132.43 717.50h2.53v1.32h-2.53zM132.43 722.78h2.53v3.96h-2.53zM132.43 728.06h2.53v2.64h-2.53zM132.43 733.34h2.53v2.64h-2.53zM132.43 738.62h2.53v2.64h-2.53zM134.96 725.42h2.53v1.32h-2.53zM142.55 725.42h2.53v1.32h-2.53zM147.61 706.94h2.53v2.64h-2.53zM147.61 710.90h2.53v1.32h-2.53zM147.61 720.14h2.53v1.32h-2.53zM147.61 722.78h2.53v1.32h-2.53zM147.61 726.74h2.53v2.64h-2.53zM147.61 733.34h2.53v1.32h-2.53zM147.61 735.98h2.53v1.32h-2.53zM147.61 742.58h2.53v1.32h-2.53zM147.61 745.22h2.53v1.32h-2.53zM150.14 693.74h2.53v1.32h-2.53zM150.14 705.62h2.53v2.64h-2.53zM150.14 712.22h2.53v1.32h-2.53zM150.14 717.50h2.53v7.92h-2.53zM150.14 726.74h2.53v3.96h-2.53zM150.14 733.34h2.53v3.96h-2.53zM150.14 738.62h2.53v5.28h-2.53zM150.14 745.22h2.53v1.32h-2.53zM152.67 688.46h2.53v1.32h-2.53zM152.67 699.02h2.53v1.32h-2.53zM152.67 710.90h2.53v2.64h-2.53zM152.67 729.38h2.53v1.32h-2.53zM152.67 745.22h2.53v1.32h-2.53zM155.20 677.90h2.53v1.32h-2.53zM155.20 683.18h2.53v1.32h-2.53zM155.20 685.82h2.53v1.32h-2.53zM155.20 700.34h2.53v1.32h-2.53zM155.20 714.86h2.53v1.32h-2.53zM155.20 724.10h2.53v2.64h-2.53zM155.20 729.38h2.53v1.32h-2.53zM155.20 732.02h2.53v1.32h-2.53zM155.20 735.98h2.53v1.32h-2.53zM155.20 741.26h2.53v1.32h-2.53zM162.79 710.90h2.53v1.32h-2.53zM162.79 720.14h2.53v1.32h-2.53zM162.79 739.94h2.53v1.32h-2.53zM162.79 743.90h2.53v1.32h-2.53zM162.79 753.14h2.53v1.32h-2.53zM162.79 757.10h2.53v1.32h-2.53zM165.32 689.78h2.53v1.32h-2.53zM165.32 758.42h2.53v1.32h-2.53zM170.38 721.46h2.53v1.32h-2.53zM170.38 729.38h2.53v2.64h-2.53zM170.38 734.66h2.53v1.32h-2.53zM170.38 737.30h2.53v1.32h-2.53zM170.38 739.94h2.53v1.32h-2.53zM170.38 746.54h2.53v1.32h-2.53zM170.38 749.18h2.53v1.32h-2.53zM170.38 757.10h2.53v1.32h-2.53zM170.38 761.06h2.53v1.32h-2.53zM170.38 767.66h2.53v1.32h-2.53zM172.91 693.74h2.53v3.96h-2.53zM172.91 699.02h2.53v3.96h-2.53zM172.91 706.94h2.53v2.64h-2.53zM172.91 720.14h2.53v2.64h-2.53zM172.91 725.42h2.53v1.32h-2.53zM172.91 734.66h2.53v2.64h-2.53zM172.91 747.86h2.53v1.32h-2.53zM172.91 765.02h2.53v2.64h-2.53zM175.44 701.66h2.53v1.32h-2.53zM175.44 706.94h2.53v1.32h-2.53zM175.44 709.58h2.53v1.32h-2.53zM175.44 714.86h2.53v2.64h-2.53zM175.44 725.42h2.53v2.64h-2.53zM175.44 732.02h2.53v2.64h-2.53zM175.44 737.30h2.53v1.32h-2.53zM175.44 750.50h2.53v5.28h-2.53zM175.44 765.02h2.53v1.32h-2.53zM185.56 677.90h2.53v1.32h-2.53zM185.56 681.86h2.53v2.64h-2.53zM185.56 692.42h2.53v2.64h-2.53zM185.56 732.02h2.53v1.32h-2.53zM203.00 671.30h1.60v1.32h-1.60zM203.00 675.26h1.60v1.32h-1.60zM203.00 685.82h1.60v1.32h-1.60zM203.00 701.66h1.60v2.64h-1.60zM203.00 708.26h1.60v1.32h-1.60zM203.00 710.90h1.60v1.32h-1.60zM206.21 710.90h1.60v1.32h-1.60zM206.21 713.54h1.60v2.64h-1.60zM207.81 680.54h1.60v1.32h-1.60zM207.81 683.18h1.60v1.32h-1.60zM207.81 689.78h1.60v1.32h-1.60zM207.81 699.02h1.60v1.32h-1.60zM207.81 701.66h1.60v1.32h-1.60zM207.81 710.90h1.60v1.32h-1.60zM209.41 671.30h1.60v3.96h-1.60zM209.41 676.58h1.60v2.64h-1.60zM209.41 680.54h1.60v3.96h-1.60zM209.41 685.82h1.60v1.32h-1.60zM209.41 691.10h1.60v2.64h-1.60zM209.41 695.06h1.60v2.64h-1.60zM209.41 700.34h1.60v3.96h-1.60zM209.41 708.26h1.60v1.32h-1.60zM209.41 713.54h1.60v1.32h-1.60zM211.01 702.98h1.60v2.64h-1.60zM211.01 709.58h1.60v6.60h-1.60zM211.01 717.50h1.60v1.32h-1.60zM212.62 692.42h1.60v1.32h-1.60zM212.62 704.30h1.60v1.32h-1.60zM212.62 712.22h1.60v1.32h-1.60zM212.62 714.86h1.60v1.32h-1.60zM214.22 689.78h1.60v1.32h-1.60zM214.22 705.62h1.60v1.32h-1.60zM214.22 709.58h1.60v1.32h-1.60zM215.82 691.10h1.60v1.32h-1.60zM215.82 693.74h1.60v1.32h-1.60zM215.82 699.02h1.60v1.32h-1.60zM215.82 714.86h1.60v1.32h-1.60zM217.43 693.74h1.60v1.32h-1.60zM217.43 708.26h1.60v1.32h-1.60zM217.43 713.54h1.60v1.32h-1.60zM219.03 699.02h1.60v1.32h-1.60zM219.03 709.58h1.60v1.32h-1.60zM220.63 697.70h1.60v1.32h-1.60zM220.63 706.94h1.60v1.32h-1.60zM220.63 717.50h1.60v1.32h-1.60zM222.24 677.90h1.60v2.64h-1.60zM222.24 683.18h1.60v1.32h-1.60zM222.24 700.34h1.60v1.32h-1.60zM222.24 722.78h1.60v1.32h-1.60zM223.84 691.10h1.60v1.32h-1.60zM223.84 702.98h1.60v1.32h-1.60zM223.84 709.58h1.60v1.32h-1.60zM223.84 714.86h1.60v1.32h-1.60zM223.84 717.50h1.60v1.32h-1.60zM225.44 695.06h1.60v3.96h-1.60zM225.44 702.98h1.60v1.32h-1.60zM225.44 705.62h1.60v1.32h-1.60zM225.44 717.50h1.60v1.32h-1.60zM227.04 681.86h1.60v1.32h-1.60zM227.04 713.54h1.60v2.64h-1.60zM227.04 718.82h1.60v2.64h-1.60zM227.04 724.10h1.60v1.32h-1.60zM228.65 691.10h1.60v1.32h-1.60zM228.65 701.66h1.60v1.32h-1.60zM228.65 710.90h1.60v1.32h-1.60zM228.65 724.10h1.60v1.32h-1.60zM230.25 681.86h1.60v1.32h-1.60zM230.25 689.78h1.60v1.32h-1.60zM230.25 695.06h1.60v1.32h-1.60zM230.25 699.02h1.60v1.32h-1.60zM230.25 702.98h1.60v1.32h-1.60zM230.25 709.58h1.60v1.32h-1.60zM230.25 713.54h1.60v1.32h-1.60zM231.85 696.38h1.60v1.32h-1.60zM231.85 701.66h1.60v2.64h-1.60zM231.85 709.58h1.60v1.32h-1.60zM231.85 722.78h1.60v1.32h-1.60zM233.46 712.22h1.60v1.32h-1.60zM233.46 714.86h1.60v1.32h-1.60zM233.46 725.42h1.60v1.32h-1.60zM235.06 688.46h1.60v6.60h-1.60zM235.06 697.70h1.60v1.32h-1.60zM235.06 700.34h1.60v3.96h-1.60zM235.06 706.94h1.60v2.64h-1.60zM235.06 714.86h1.60v1.32h-1.60zM235.06 720.14h1.60v1.32h-1.60zM235.06 726.74h1.60v1.32h-1.60zM236.66 692.42h1.60v1.32h-1.60zM236.66 708.26h1.60v2.64h-1.60zM236.66 722.78h1.60v1.32h-1.60zM238.27 680.54h1.60v1.32h-1.60zM238.27 685.82h1.60v1.32h-1.60zM238.27 691.10h1.60v1.32h-1.60zM238.27 693.74h1.60v1.32h-1.60zM238.27 706.94h1.60v3.96h-1.60zM238.27 712.22h1.60v5.28h-1.60zM238.27 718.82h1.60v2.64h-1.60zM238.27 722.78h1.60v1.32h-1.60zM238.27 725.42h1.60v1.32h-1.60zM238.27 728.06h1.60v1.32h-1.60zM239.87 692.42h1.60v1.32h-1.60zM239.87 722.78h1.60v1.32h-1.60zM239.87 728.06h1.60v1.32h-1.60zM241.47 675.26h1.60v1.32h-1.60zM241.47 677.90h1.60v1.32h-1.60zM241.47 725.42h1.60v3.96h-1.60zM243.07 699.02h1.60v1.32h-1.60zM243.07 721.46h1.60v1.32h-1.60zM243.07 730.70h1.60v1.32h-1.60zM244.68 693.74h1.60v1.32h-1.60zM244.68 701.66h1.60v1.32h-1.60zM244.68 705.62h1.60v2.64h-1.60zM244.68 709.58h1.60v3.96h-1.60zM244.68 716.18h1.60v2.64h-1.60zM244.68 720.14h1.60v1.32h-1.60zM244.68 724.10h1.60v1.32h-1.60zM244.68 729.38h1.60v1.32h-1.60zM244.68 732.02h1.60v1.32h-1.60zM246.28 671.30h1.60v2.64h-1.60zM246.28 677.90h1.60v1.32h-1.60zM246.28 683.18h1.60v1.32h-1.60zM246.28 685.82h1.60v7.92h-1.60zM246.28 695.06h1.60v2.64h-1.60zM246.28 699.02h1.60v1.32h-1.60zM246.28 701.66h1.60v1.32h-1.60zM246.28 708.26h1.60v3.96h-1.60zM247.88 705.62h1.60v1.32h-1.60zM247.88 724.10h1.60v1.32h-1.60zM249.49 688.46h1.60v1.32h-1.60zM249.49 691.10h1.60v1.32h-1.60zM249.49 695.06h1.60v1.32h-1.60zM249.49 697.70h1.60v2.64h-1.60zM249.49 702.98h1.60v1.32h-1.60zM249.49 720.14h1.60v1.32h-1.60zM251.09 681.86h1.60v1.32h-1.60zM251.09 697.70h1.60v1.32h-1.60zM251.09 701.66h1.60v2.64h-1.60zM251.09 710.90h1.60v1.32h-1.60zM251.09 717.50h1.60v1.32h-1.60zM251.09 720.14h1.60v2.64h-1.60zM251.09 728.06h1.60v1.32h-1.60zM252.69 702.98h1.60v1.32h-1.60zM252.69 705.62h1.60v1.32h-1.60zM252.69 714.86h1.60v1.32h-1.60zM252.69 720.14h1.60v1.32h-1.60zM254.30 704.30h1.60v1.32h-1.60zM254.30 706.94h1.60v2.64h-1.60zM254.30 714.86h1.60v1.32h-1.60zM254.30 717.50h1.60v2.64h-1.60zM254.30 724.10h1.60v2.64h-1.60zM254.30 728.06h1.60v1.32h-1.60zM254.30 730.70h1.60v1.32h-1.60zM254.30 733.34h1.60v5.28h-1.60zM254.30 739.94h1.60v1.32h-1.60zM255.90 714.86h1.60v1.32h-1.60zM255.90 721.46h1.60v2.64h-1.60zM255.90 729.38h1.60v1.32h-1.60zM255.90 732.02h1.60v1.32h-1.60zM255.90 737.30h1.60v1.32h-1.60zM255.90 739.94h1.60v1.32h-1.60zM257.50 696.38h1.60v1.32h-1.60zM257.50 701.66h1.60v2.64h-1.60zM257.50 714.86h1.60v1.32h-1.60zM257.50 722.78h1.60v1.32h-1.60zM257.50 732.02h1.60v1.32h-1.60zM259.11 701.66h1.60v1.32h-1.60zM259.11 705.62h1.60v1.32h-1.60zM259.11 720.14h1.60v1.32h-1.60zM259.11 732.02h1.60v2.64h-1.60zM259.11 739.94h1.60v2.64h-1.60zM260.71 696.38h1.60v1.32h-1.60zM260.71 701.66h1.60v1.32h-1.60zM260.71 718.82h1.60v1.32h-1.60zM260.71 745.22h1.60v1.32h-1.60zM260.71 747.86h1.60v2.64h-1.60zM262.31 685.82h1.60v1.32h-1.60zM262.31 692.42h1.60v2.64h-1.60zM262.31 700.34h1.60v1.32h-1.60zM262.31 709.58h1.60v1.32h-1.60zM262.31 717.50h1.60v1.32h-1.60zM262.31 735.98h1.60v2.64h-1.60zM262.31 739.94h1.60v2.64h-1.60zM262.31 751.82h1.60v1.32h-1.60zM263.91 689.78h1.60v2.64h-1.60zM263.91 699.02h1.60v2.64h-1.60zM263.91 704.30h1.60v1.32h-1.60zM263.91 706.94h1.60v1.32h-1.60zM263.91 713.54h1.60v1.32h-1.60zM263.91 718.82h1.60v1.32h-1.60zM263.91 728.06h1.60v2.64h-1.60zM263.91 739.94h1.60v1.32h-1.60zM263.91 750.50h1.60v1.32h-1.60zM265.52 673.94h1.60v1.32h-1.60zM265.52 677.90h1.60v3.96h-1.60zM265.52 689.78h1.60v1.32h-1.60zM265.52 695.06h1.60v2.64h-1.60zM265.52 699.02h1.60v1.32h-1.60zM265.52 704.30h1.60v2.64h-1.60zM265.52 710.90h1.60v1.32h-1.60zM265.52 721.46h1.60v1.32h-1.60zM265.52 729.38h1.60v2.64h-1.60zM265.52 733.34h1.60v3.96h-1.60zM265.52 746.54h1.60v1.32h-1.60zM267.12 672.62h1.60v1.32h-1.60zM267.12 681.86h1.60v2.64h-1.60zM267.12 688.46h1.60v1.32h-1.60zM267.12 696.38h1.60v1.32h-1.60zM267.12 713.54h1.60v1.32h-1.60zM267.12 716.18h1.60v1.32h-1.60zM267.12 730.70h1.60v1.32h-1.60zM267.12 738.62h1.60v1.32h-1.60zM267.12 746.54h1.60v1.32h-1.60zM267.12 749.18h1.60v1.32h-1.60zM267.12 759.74h1.60v1.32h-1.60zM268.72 680.54h1.60v1.32h-1.60zM268.72 684.50h1.60v1.32h-1.60zM268.72 689.78h1.60v2.64h-1.60zM268.72 699.02h1.60v1.32h-1.60zM268.72 701.66h1.60v2.64h-1.60zM268.72 706.94h1.60v1.32h-1.60zM268.72 714.86h1.60v1.32h-1.60zM268.72 721.46h1.60v2.64h-1.60zM268.72 734.66h1.60v1.32h-1.60zM268.72 743.90h1.60v1.32h-1.60zM268.72 749.18h1.60v2.64h-1.60zM268.72 757.10h1.60v1.32h-1.60zM270.33 702.98h1.60v1.32h-1.60zM270.33 709.58h1.60v1.32h-1.60zM270.33 712.22h1.60v1.32h-1.60zM270.33 718.82h1.60v1.32h-1.60zM270.33 732.02h1.60v1.32h-1.60zM270.33 753.14h1.60v1.32h-1.60zM270.33 767.66h1.60v1.32h-1.60zM271.93 687.14h1.60v1.32h-1.60zM271.93 691.10h1.60v1.32h-1.60zM271.93 693.74h1.60v1.32h-1.60zM271.93 700.34h1.60v1.32h-1.60zM271.93 712.22h1.60v2.64h-1.60zM271.93 720.14h1.60v3.96h-1.60zM271.93 725.42h1.60v1.32h-1.60zM271.93 735.98h1.60v1.32h-1.60zM271.93 746.54h1.60v1.32h-1.60zM271.93 751.82h1.60v1.32h-1.60zM271.93 755.78h1.60v5.28h-1.60zM273.53 705.62h1.60v3.96h-1.60zM273.53 710.90h1.60v1.32h-1.60zM273.53 716.18h1.60v7.92h-1.60zM273.53 725.42h1.60v5.28h-1.60zM273.53 737.30h1.60v5.28h-1.60zM273.53 745.22h1.60v5.28h-1.60zM273.53 751.82h1.60v5.28h-1.60zM273.53 761.06h1.60v2.64h-1.60zM273.53 768.98h1.60v2.64h-1.60zM275.13 706.94h1.60v1.32h-1.60zM275.13 712.22h1.60v1.32h-1.60zM275.13 716.18h1.60v1.32h-1.60zM275.13 738.62h1.60v1.32h-1.60zM275.13 742.58h1.60v1.32h-1.60zM275.13 759.74h1.60v1.32h-1.60zM275.13 770.30h1.60v2.00h-1.60zM276.74 724.10h1.60v1.32h-1.60zM276.74 734.66h1.60v2.64h-1.60zM276.74 741.26h1.60v1.32h-1.60zM276.74 745.22h1.60v1.32h-1.60zM276.74 755.78h1.60v1.32h-1.60zM276.74 766.34h1.60v1.32h-1.60zM278.34 677.90h1.60v1.32h-1.60zM278.34 688.46h1.60v1.32h-1.60zM278.34 695.06h1.60v2.64h-1.60zM278.34 704.30h1.60v1.32h-1.60zM278.34 726.74h1.60v1.32h-1.60zM279.94 712.22h1.60v2.64h-1.60zM279.94 726.74h1.60v1.32h-1.60zM279.94 730.70h1.60v1.32h-1.60zM279.94 734.66h1.60v1.32h-1.60zM279.94 739.94h1.60v6.60h-1.60zM279.94 754.46h1.60v1.32h-1.60zM281.55 696.38h1.60v1.32h-1.60zM281.55 705.62h1.60v2.64h-1.60zM281.55 718.82h1.60v1.32h-1.60zM281.55 722.78h1.60v3.96h-1.60zM281.55 735.98h1.60v1.32h-1.60zM281.55 739.94h1.60v1.32h-1.60zM281.55 742.58h1.60v1.32h-1.60zM281.55 771.62h1.60v0.68h-1.60zM283.15 710.90h1.60v1.32h-1.60zM283.15 714.86h1.60v2.64h-1.60zM283.15 726.74h1.60v1.32h-1.60zM283.15 729.38h1.60v2.64h-1.60zM283.15 768.98h1.60v1.32h-1.60zM284.75 671.30h1.60v1.32h-1.60zM284.75 673.94h1.60v1.32h-1.60zM284.75 676.58h1.60v2.64h-1.60zM284.75 683.18h1.60v1.32h-1.60zM284.75 685.82h1.60v2.64h-1.60zM284.75 689.78h1.60v1.32h-1.60zM284.75 692.42h1.60v2.64h-1.60zM284.75 697.70h1.60v2.64h-1.60zM284.75 702.98h1.60v1.32h-1.60zM284.75 709.58h1.60v1.32h-1.60zM284.75 713.54h1.60v1.32h-1.60zM284.75 734.66h1.60v1.32h-1.60zM284.75 753.14h1.60v1.32h-1.60zM284.75 755.78h1.60v1.32h-1.60zM284.75 766.34h1.60v1.32h-1.60zM286.36 693.74h1.60v1.32h-1.60zM286.36 700.34h1.60v1.32h-1.60zM286.36 710.90h1.60v1.32h-1.60zM286.36 714.86h1.60v1.32h-1.60zM286.36 718.82h1.60v1.32h-1.60zM286.36 722.78h1.60v1.32h-1.60zM286.36 730.70h1.60v1.32h-1.60zM286.36 735.98h1.60v1.32h-1.60zM286.36 738.62h1.60v1.32h-1.60zM286.36 743.90h1.60v1.32h-1.60zM286.36 770.30h1.60v1.32h-1.60zM287.96 677.90h1.60v1.32h-1.60zM287.96 683.18h1.60v1.32h-1.60zM287.96 713.54h1.60v1.32h-1.60zM287.96 728.06h1.60v2.64h-1.60zM287.96 733.34h1.60v1.32h-1.60zM287.96 738.62h1.60v1.32h-1.60zM287.96 743.90h1.60v1.32h-1.60zM287.96 747.86h1.60v1.32h-1.60zM287.96 751.82h1.60v1.32h-1.60zM287.96 755.78h1.60v3.96h-1.60zM287.96 763.70h1.60v3.96h-1.60zM287.96 770.30h1.60v1.32h-1.60zM289.56 693.74h1.60v1.32h-1.60zM289.56 712.22h1.60v1.32h-1.60zM289.56 726.74h1.60v1.32h-1.60zM289.56 735.98h1.60v1.32h-1.60zM289.56 741.26h1.60v2.64h-1.60zM289.56 754.46h1.60v2.64h-1.60zM289.56 758.42h1.60v1.32h-1.60zM289.56 763.70h1.60v1.32h-1.60zM291.16 710.90h1.60v2.64h-1.60zM291.16 716.18h1.60v5.28h-1.60zM291.16 724.10h1.60v1.32h-1.60zM291.16 726.74h1.60v1.32h-1.60zM291.16 732.02h1.60v1.32h-1.60zM291.16 737.30h1.60v3.96h-1.60zM291.16 745.22h1.60v1.32h-1.60zM291.16 747.86h1.60v2.64h-1.60zM291.16 751.82h1.60v1.32h-1.60zM291.16 754.46h1.60v3.96h-1.60zM291.16 761.06h1.60v1.32h-1.60zM291.16 765.02h1.60v5.28h-1.60zM291.16 771.62h1.60v0.68h-1.60zM292.77 685.82h1.60v1.32h-1.60zM292.77 688.46h1.60v2.64h-1.60zM292.77 702.98h1.60v1.32h-1.60zM292.77 706.94h1.60v1.32h-1.60zM292.77 712.22h1.60v1.32h-1.60zM292.77 721.46h1.60v2.64h-1.60zM292.77 730.70h1.60v2.64h-1.60zM292.77 742.58h1.60v1.32h-1.60zM292.77 745.22h1.60v1.32h-1.60zM292.77 747.86h1.60v2.64h-1.60zM292.77 754.46h1.60v1.32h-1.60zM292.77 757.10h1.60v1.32h-1.60zM292.77 761.06h1.60v1.32h-1.60zM292.77 765.02h1.60v1.32h-1.60zM294.37 693.74h1.60v1.32h-1.60zM294.37 702.98h1.60v1.32h-1.60zM294.37 706.94h1.60v1.32h-1.60zM294.37 710.90h1.60v1.32h-1.60zM294.37 717.50h1.60v1.32h-1.60zM294.37 730.70h1.60v1.32h-1.60zM294.37 738.62h1.60v1.32h-1.60zM294.37 743.90h1.60v1.32h-1.60zM294.37 747.86h1.60v2.64h-1.60zM295.97 700.34h1.60v1.32h-1.60zM295.97 712.22h1.60v1.32h-1.60zM295.97 737.30h1.60v1.32h-1.60zM295.97 749.18h1.60v2.64h-1.60zM295.97 754.46h1.60v1.32h-1.60zM295.97 758.42h1.60v1.32h-1.60zM295.97 768.98h1.60v1.32h-1.60zM295.97 771.62h1.60v0.68h-1.60zM300.80 709.58h1.62v1.32h-1.62zM304.04 705.62h1.62v1.32h-1.62zM304.04 708.26h1.62v1.32h-1.62zM305.66 708.26h1.62v1.32h-1.62zM305.66 714.86h1.62v1.32h-1.62zM308.90 709.58h1.62v1.32h-1.62zM308.90 721.46h1.62v1.32h-1.62zM310.52 716.18h1.62v1.32h-1.62zM310.52 721.46h1.62v1.32h-1.62zM312.14 705.62h1.62v1.32h-1.62zM312.14 710.90h1.62v1.32h-1.62zM312.14 717.50h1.62v1.32h-1.62zM312.14 724.10h1.62v2.64h-1.62zM315.38 718.82h1.62v1.32h-1.62zM315.38 724.10h1.62v1.32h-1.62zM317.00 693.74h1.62v2.64h-1.62zM318.62 708.26h1.62v1.32h-1.62zM318.62 720.14h1.62v3.96h-1.62zM318.62 729.38h1.62v1.32h-1.62zM320.24 709.58h1.62v2.64h-1.62zM320.24 714.86h1.62v5.28h-1.62zM320.24 721.46h1.62v2.64h-1.62zM320.24 725.42h1.62v1.32h-1.62zM320.24 728.06h1.62v1.32h-1.62zM320.24 732.02h1.62v1.32h-1.62zM321.86 708.26h1.62v1.32h-1.62zM321.86 714.86h1.62v2.64h-1.62zM321.86 722.78h1.62v1.32h-1.62zM321.86 742.58h1.62v1.32h-1.62zM323.48 710.90h1.62v2.64h-1.62zM323.48 714.86h1.62v1.32h-1.62zM323.48 718.82h1.62v1.32h-1.62zM323.48 724.10h1.62v1.32h-1.62zM323.48 730.70h1.62v1.32h-1.62zM323.48 742.58h1.62v1.32h-1.62zM323.48 745.22h1.62v3.96h-1.62zM326.72 708.26h1.62v1.32h-1.62zM326.72 724.10h1.62v1.32h-1.62zM326.72 726.74h1.62v1.32h-1.62zM326.72 737.30h1.62v2.64h-1.62zM326.72 746.54h1.62v1.32h-1.62zM326.72 751.82h1.62v1.32h-1.62zM326.72 762.38h1.62v1.32h-1.62zM326.72 767.66h1.62v1.32h-1.62zM328.34 738.62h1.62v1.32h-1.62zM328.34 745.22h1.62v1.32h-1.62zM328.34 751.82h1.62v1.32h-1.62zM328.34 754.46h1.62v1.32h-1.62zM328.34 767.66h1.62v1.32h-1.62zM329.96 705.62h1.62v2.64h-1.62zM329.96 710.90h1.62v1.32h-1.62zM329.96 718.82h1.62v1.32h-1.62zM329.96 725.42h1.62v1.32h-1.62zM329.96 728.06h1.62v1.32h-1.62zM329.96 730.70h1.62v1.32h-1.62zM329.96 738.62h1.62v1.32h-1.62zM329.96 745.22h1.62v1.32h-1.62zM329.96 759.74h1.62v1.32h-1.62zM331.58 753.14h1.62v1.32h-1.62zM333.20 705.62h1.62v3.96h-1.62zM333.20 710.90h1.62v2.64h-1.62zM333.20 714.86h1.62v1.32h-1.62zM333.20 717.50h1.62v1.32h-1.62zM333.20 722.78h1.62v1.32h-1.62zM333.20 725.42h1.62v3.96h-1.62zM333.20 732.02h1.62v1.32h-1.62zM333.20 735.98h1.62v1.32h-1.62zM333.20 738.62h1.62v1.32h-1.62zM333.20 743.90h1.62v2.64h-1.62zM333.20 747.86h1.62v2.64h-1.62zM333.20 753.14h1.62v3.96h-1.62zM333.20 761.06h1.62v2.64h-1.62zM333.20 767.66h1.62v4.64h-1.62zM334.82 718.82h1.62v1.32h-1.62zM334.82 741.26h1.62v3.96h-1.62zM334.82 746.54h1.62v1.32h-1.62zM334.82 749.18h1.62v1.32h-1.62zM334.82 753.14h1.62v1.32h-1.62zM334.82 768.98h1.62v1.32h-1.62zM353.90 691.10h3.30v2.64h-3.30zM353.90 695.06h3.30v1.32h-3.30zM353.90 701.66h3.30v1.32h-3.30zM353.90 706.94h3.30v1.32h-3.30zM353.90 712.22h3.30v1.32h-3.30zM353.90 714.86h3.30v1.32h-3.30zM353.90 717.50h3.30v1.32h-3.30zM353.90 730.70h3.30v1.32h-3.30zM353.90 739.94h3.30v1.32h-3.30zM353.90 743.90h3.30v2.64h-3.30zM353.90 758.42h3.30v1.32h-3.30zM353.90 763.70h3.30v1.32h-3.30zM360.00 676.58h3.20v2.64h-3.20zM360.00 683.18h3.20v1.32h-3.20zM360.00 685.82h3.20v1.32h-3.20zM360.00 691.10h3.20v1.32h-3.20zM360.00 697.70h3.20v1.32h-3.20zM360.00 704.30h3.20v1.32h-3.20zM363.20 677.90h3.20v1.32h-3.20zM385.60 709.58h3.20v1.32h-3.20zM427.20 709.58h3.20v1.32h-3.20zM427.20 726.74h3.20v1.32h-3.20zM427.20 729.38h3.20v1.32h-3.20zM427.20 735.98h3.20v1.32h-3.20zM427.20 746.54h3.20v1.32h-3.20zM427.20 762.38h3.20v1.32h-3.20zM443.20 738.62h3.20v1.32h-3.20zM449.60 705.62h3.20v3.96h-3.20zM449.60 713.54h3.20v6.60h-3.20zM449.60 721.46h3.20v1.32h-3.20zM449.60 724.10h3.20v1.32h-3.20zM449.60 726.74h3.20v2.64h-3.20zM449.60 730.70h3.20v1.32h-3.20zM449.60 733.34h3.20v5.28h-3.20zM449.60 739.94h3.20v1.32h-3.20zM449.60 745.22h3.20v1.32h-3.20zM449.60 747.86h3.20v1.32h-3.20zM449.60 750.50h3.20v1.32h-3.20zM449.60 754.46h3.20v3.96h-3.20zM449.60 761.06h3.20v3.96h-3.20zM449.60 770.30h3.20v1.32h-3.20zM459.20 680.54h3.20v1.32h-3.20zM462.40 749.18h3.20v1.32h-3.20zM465.60 737.30h3.20v1.32h-3.20zM468.80 713.54h3.20v1.32h-3.20zM468.80 720.14h3.20v2.64h-3.20zM468.80 726.74h3.20v1.32h-3.20zM468.80 733.34h3.20v1.32h-3.20zM468.80 738.62h3.20v1.32h-3.20zM468.80 743.90h3.20v1.32h-3.20zM468.80 746.54h3.20v2.64h-3.20zM468.80 750.50h3.20v1.32h-3.20zM468.80 765.02h3.20v1.32h-3.20zM472.00 706.94h3.20v1.32h-3.20zM472.00 709.58h3.20v2.64h-3.20zM472.00 713.54h3.20v2.64h-3.20zM472.00 720.14h3.20v13.20h-3.20zM472.00 735.98h3.20v1.32h-3.20zM472.00 738.62h3.20v1.32h-3.20zM472.00 742.58h3.20v1.32h-3.20zM472.00 745.22h3.20v2.64h-3.20zM472.00 749.18h3.20v1.32h-3.20zM472.00 751.82h3.20v1.32h-3.20zM472.00 755.78h3.20v1.32h-3.20zM472.00 758.42h3.20v6.60h-3.20zM472.00 766.34h3.20v1.32h-3.20zM472.00 768.98h3.20v1.32h-3.20zM472.00 771.62h3.20v0.68h-3.20zM478.40 688.46h3.20v1.32h-3.20zM478.40 691.10h3.20v1.32h-3.20zM478.40 701.66h3.20v2.64h-3.20zM478.40 718.82h3.20v1.32h-3.20zM478.40 729.38h3.20v2.64h-3.20zM478.40 738.62h3.20v1.32h-3.20zM478.40 754.46h3.20v1.32h-3.20zM478.40 762.38h3.20v3.96h-3.20zM478.40 767.66h3.20v1.32h-3.20zM481.60 720.14h3.20v1.32h-3.20zM481.60 733.34h3.20v1.32h-3.20zM481.60 737.30h3.20v1.32h-3.20zM481.60 742.58h3.20v1.32h-3.20zM481.60 745.22h3.20v1.32h-3.20zM498.70 684.50h1.58v2.64h-1.58zM498.70 693.74h1.58v1.32h-1.58zM498.70 696.38h1.58v1.32h-1.58zM498.70 706.94h1.58v1.32h-1.58zM498.70 709.58h1.58v1.32h-1.58zM500.28 700.34h1.58v1.32h-1.58zM503.44 705.62h1.58v1.32h-1.58zM505.02 696.38h1.58v1.32h-1.58zM505.02 700.34h1.58v1.32h-1.58zM506.60 673.94h1.58v1.32h-1.58zM506.60 687.14h1.58v1.32h-1.58zM506.60 699.02h1.58v1.32h-1.58zM508.18 676.58h1.58v1.32h-1.58zM509.76 702.98h1.58v1.32h-1.58zM512.92 671.30h1.58v1.32h-1.58zM512.92 677.90h1.58v2.64h-1.58zM512.92 684.50h1.58v1.32h-1.58zM512.92 716.18h1.58v1.32h-1.58zM514.50 695.06h1.58v1.32h-1.58zM514.50 701.66h1.58v1.32h-1.58zM514.50 713.54h1.58v1.32h-1.58zM516.08 701.66h1.58v1.32h-1.58zM516.08 706.94h1.58v1.32h-1.58zM516.08 710.90h1.58v1.32h-1.58zM516.08 717.50h1.58v1.32h-1.58zM517.66 692.42h1.58v1.32h-1.58zM517.66 695.06h1.58v1.32h-1.58zM517.66 701.66h1.58v1.32h-1.58zM517.66 705.62h1.58v2.64h-1.58zM517.66 712.22h1.58v1.32h-1.58zM519.24 675.26h1.58v1.32h-1.58zM519.24 680.54h1.58v1.32h-1.58zM519.24 721.46h1.58v1.32h-1.58zM520.82 701.66h1.58v1.32h-1.58zM520.82 714.86h1.58v1.32h-1.58zM520.82 725.42h1.58v1.32h-1.58zM520.82 729.38h1.58v1.32h-1.58zM520.82 733.34h1.58v1.32h-1.58zM522.40 691.10h1.58v1.32h-1.58zM522.40 702.98h1.58v1.32h-1.58zM522.40 708.26h1.58v1.32h-1.58zM522.40 728.06h1.58v1.32h-1.58zM522.40 734.66h1.58v1.32h-1.58zM523.98 691.10h1.58v1.32h-1.58zM523.98 699.02h1.58v1.32h-1.58zM523.98 704.30h1.58v1.32h-1.58zM523.98 706.94h1.58v1.32h-1.58zM523.98 709.58h1.58v2.64h-1.58zM523.98 713.54h1.58v1.32h-1.58zM523.98 716.18h1.58v2.64h-1.58zM523.98 720.14h1.58v2.64h-1.58zM523.98 724.10h1.58v1.32h-1.58zM523.98 726.74h1.58v1.32h-1.58zM523.98 730.70h1.58v9.24h-1.58zM523.98 741.26h1.58v1.32h-1.58zM523.98 743.90h1.58v1.32h-1.58zM523.98 746.54h1.58v2.64h-1.58zM525.56 697.70h1.58v1.32h-1.58zM525.56 708.26h1.58v2.64h-1.58zM525.56 714.86h1.58v2.64h-1.58zM525.56 725.42h1.58v1.32h-1.58zM525.56 733.34h1.58v1.32h-1.58zM525.56 747.86h1.58v1.32h-1.58zM525.56 758.42h1.58v1.32h-1.58zM525.56 761.06h1.58v1.32h-1.58zM525.56 765.02h1.58v2.64h-1.58zM527.14 695.06h1.58v1.32h-1.58zM527.14 702.98h1.58v2.64h-1.58zM527.14 712.22h1.58v2.64h-1.58zM527.14 728.06h1.58v1.32h-1.58zM527.14 730.70h1.58v1.32h-1.58zM527.14 735.98h1.58v1.32h-1.58zM527.14 758.42h1.58v1.32h-1.58zM527.14 761.06h1.58v1.32h-1.58zM527.14 768.98h1.58v1.32h-1.58zM528.72 677.90h1.58v1.32h-1.58zM528.72 695.06h1.58v1.32h-1.58zM528.72 700.34h1.58v1.32h-1.58zM528.72 708.26h1.58v3.96h-1.58zM528.72 713.54h1.58v1.32h-1.58zM528.72 728.06h1.58v1.32h-1.58zM528.72 734.66h1.58v1.32h-1.58zM528.72 742.58h1.58v1.32h-1.58zM528.72 751.82h1.58v1.32h-1.58zM528.72 761.06h1.58v1.32h-1.58zM530.30 680.54h1.58v1.32h-1.58zM530.30 685.82h1.58v1.32h-1.58zM530.30 688.46h1.58v1.32h-1.58zM530.30 691.10h1.58v1.32h-1.58zM530.30 696.38h1.58v1.32h-1.58zM530.30 700.34h1.58v2.64h-1.58zM530.30 708.26h1.58v1.32h-1.58zM530.30 710.90h1.58v2.64h-1.58zM530.30 714.86h1.58v1.32h-1.58zM530.30 718.82h1.58v1.32h-1.58zM530.30 724.10h1.58v1.32h-1.58zM530.30 728.06h1.58v1.32h-1.58zM530.30 733.34h1.58v1.32h-1.58zM530.30 750.50h1.58v1.32h-1.58zM530.30 761.06h1.58v1.32h-1.58zM530.30 763.70h1.58v1.32h-1.58zM531.88 695.06h1.58v1.32h-1.58zM531.88 721.46h1.58v1.32h-1.58zM533.46 702.98h1.58v1.32h-1.58zM533.46 714.86h1.58v2.64h-1.58zM533.46 718.82h1.58v2.64h-1.58zM533.46 722.78h1.58v1.32h-1.58zM533.46 726.74h1.58v5.28h-1.58zM533.46 734.66h1.58v1.32h-1.58zM533.46 738.62h1.58v2.64h-1.58zM533.46 742.58h1.58v1.32h-1.58zM533.46 747.86h1.58v6.60h-1.58zM533.46 757.10h1.58v1.32h-1.58zM533.46 759.74h1.58v7.92h-1.58zM533.46 768.98h1.58v1.32h-1.58zM535.04 673.94h1.58v1.32h-1.58zM535.04 679.22h1.58v1.32h-1.58zM535.04 681.86h1.58v1.32h-1.58zM535.04 684.50h1.58v1.32h-1.58zM535.04 688.46h1.58v1.32h-1.58zM535.04 696.38h1.58v3.96h-1.58zM535.04 710.90h1.58v1.32h-1.58zM535.04 728.06h1.58v2.64h-1.58zM535.04 738.62h1.58v1.32h-1.58zM535.04 743.90h1.58v1.32h-1.58zM535.04 751.82h1.58v2.64h-1.58zM535.04 758.42h1.58v1.32h-1.58zM535.04 771.62h1.58v0.68h-1.58zM536.62 695.06h1.58v1.32h-1.58zM538.20 692.42h1.58v1.32h-1.58zM538.20 695.06h1.58v1.32h-1.58zM538.20 701.66h1.58v1.32h-1.58zM538.20 708.26h1.58v1.32h-1.58zM538.20 712.22h1.58v1.32h-1.58zM538.20 718.82h1.58v2.64h-1.58zM538.20 728.06h1.58v1.32h-1.58zM538.20 730.70h1.58v1.32h-1.58zM538.20 739.94h1.58v2.64h-1.58zM538.20 747.86h1.58v1.32h-1.58zM538.20 755.78h1.58v1.32h-1.58zM538.20 771.62h1.58v0.68h-1.58zM539.78 675.26h1.58v2.64h-1.58zM539.78 679.22h1.58v1.32h-1.58zM539.78 695.06h1.58v1.32h-1.58zM539.78 709.58h1.58v1.32h-1.58zM539.78 718.82h1.58v1.32h-1.58zM539.78 724.10h1.58v1.32h-1.58zM539.78 729.38h1.58v1.32h-1.58zM539.78 735.98h1.58v1.32h-1.58zM539.78 742.58h1.58v3.96h-1.58zM539.78 753.14h1.58v1.32h-1.58zM539.78 755.78h1.58v1.32h-1.58zM539.78 767.66h1.58v1.32h-1.58zM539.78 771.62h1.58v0.68h-1.58zM541.36 696.38h1.58v1.32h-1.58zM541.36 699.02h1.58v1.32h-1.58zM541.36 702.98h1.58v1.32h-1.58zM541.36 733.34h1.58v2.64h-1.58zM541.36 747.86h1.58v1.32h-1.58zM541.36 771.62h1.58v0.68h-1.58zM542.94 701.66h1.58v1.32h-1.58zM542.94 729.38h1.58v1.32h-1.58zM542.94 738.62h1.58v1.32h-1.58zM542.94 741.26h1.58v1.32h-1.58zM542.94 743.90h1.58v1.32h-1.58zM542.94 754.46h1.58v1.32h-1.58zM542.94 757.10h1.58v1.32h-1.58zM542.94 763.70h1.58v1.32h-1.58zM542.94 767.66h1.58v1.32h-1.58zM544.52 688.46h1.58v1.32h-1.58zM544.52 702.98h1.58v2.64h-1.58zM546.10 677.90h1.58v1.32h-1.58zM546.10 684.50h1.58v1.32h-1.58zM546.10 697.70h1.58v1.32h-1.58zM546.10 701.66h1.58v2.64h-1.58zM546.10 706.94h1.58v1.32h-1.58zM546.10 726.74h1.58v1.32h-1.58zM547.68 675.26h1.58v2.64h-1.58zM547.68 679.22h1.58v1.32h-1.58zM547.68 681.86h1.58v7.92h-1.58zM547.68 691.10h1.58v2.64h-1.58zM547.68 695.06h1.58v1.32h-1.58zM547.68 697.70h1.58v5.28h-1.58zM547.68 704.30h1.58v1.32h-1.58zM547.68 709.58h1.58v2.64h-1.58zM547.68 713.54h1.58v1.32h-1.58zM547.68 717.50h1.58v1.32h-1.58zM547.68 739.94h1.58v1.32h-1.58zM547.68 746.54h1.58v1.32h-1.58zM547.68 750.50h1.58v2.64h-1.58zM547.68 754.46h1.58v1.32h-1.58zM547.68 758.42h1.58v1.32h-1.58zM547.68 763.70h1.58v1.32h-1.58zM547.68 770.30h1.58v1.32h-1.58zM560.25 706.94h1.61v1.32h-1.61zM560.25 712.22h1.61v2.64h-1.61zM563.47 709.58h1.61v3.96h-1.61zM563.47 714.86h1.61v2.64h-1.61zM571.52 689.78h1.61v1.32h-1.61zM571.52 695.06h1.61v1.32h-1.61zM571.52 702.98h1.61v1.32h-1.61zM577.96 708.26h1.61v1.32h-1.61zM577.96 713.54h1.61v1.32h-1.61zM577.96 722.78h1.61v1.32h-1.61zM577.96 729.38h1.61v1.32h-1.61zM579.57 677.90h1.61v1.32h-1.61zM579.57 680.54h1.61v1.32h-1.61zM579.57 683.18h1.61v5.28h-1.61zM579.57 692.42h1.61v1.32h-1.61zM579.57 695.06h1.61v2.64h-1.61zM579.57 699.02h1.61v3.96h-1.61zM582.79 705.62h1.61v2.64h-1.61zM582.79 710.90h1.61v1.32h-1.61zM582.79 713.54h1.61v2.64h-1.61zM582.79 717.50h1.61v1.32h-1.61zM582.79 720.14h1.61v3.96h-1.61zM582.79 725.42h1.61v2.64h-1.61zM582.79 729.38h1.61v1.32h-1.61zM582.79 732.02h1.61v1.32h-1.61zM590.84 713.54h1.61v1.32h-1.61zM590.84 720.14h1.61v1.32h-1.61zM590.84 728.06h1.61v1.32h-1.61zM590.84 730.70h1.61v1.32h-1.61zM594.06 677.90h1.61v1.32h-1.61zM594.06 684.50h1.61v1.32h-1.61zM594.06 689.78h1.61v1.32h-1.61zM594.06 695.06h1.61v2.64h-1.61zM594.06 699.02h1.61v1.32h-1.61zM605.33 695.06h1.61v2.64h-1.61zM605.33 701.66h1.61v1.32h-1.61zM611.77 726.74h1.61v1.32h-1.61zM611.77 741.26h1.61v1.32h-1.61zM616.60 770.30h1.61v1.32h-1.61zM619.82 763.70h1.61v1.32h-1.61zM626.26 749.18h1.61v1.32h-1.61z" shape-rendering="crispEdges"/>
<path fill="#3a8444" d="M56.52 681.86h2.52v1.32h-2.52zM56.52 684.50h2.52v1.32h-2.52zM56.52 687.14h2.52v1.32h-2.52zM56.52 691.10h2.52v1.32h-2.52zM56.52 716.18h2.52v1.32h-2.52zM61.56 714.86h2.52v1.32h-2.52zM66.60 675.26h2.52v1.32h-2.52zM66.60 681.86h2.52v1.32h-2.52zM66.60 685.82h2.52v6.60h-2.52zM66.60 696.38h2.52v1.32h-2.52zM66.60 699.02h2.52v1.32h-2.52zM66.60 701.66h2.52v1.32h-2.52zM66.60 704.30h2.52v1.32h-2.52zM69.12 693.74h2.52v1.32h-2.52zM69.12 702.98h2.52v1.32h-2.52zM74.16 685.82h2.52v1.32h-2.52zM74.16 695.06h2.52v1.32h-2.52zM74.16 702.98h2.52v1.32h-2.52zM76.68 685.82h2.52v1.32h-2.52zM79.20 693.74h2.52v1.32h-2.52zM79.20 724.10h2.52v1.32h-2.52zM84.24 701.66h2.52v1.32h-2.52zM86.76 679.22h2.52v1.32h-2.52zM86.76 691.10h2.52v1.32h-2.52zM86.76 693.74h2.52v1.32h-2.52zM86.76 701.66h2.52v1.32h-2.52zM91.80 672.62h2.52v1.32h-2.52zM91.80 676.58h2.52v1.32h-2.52zM91.80 679.22h2.52v1.32h-2.52zM91.80 683.18h2.52v1.32h-2.52zM91.80 685.82h2.52v1.32h-2.52zM91.80 692.42h2.52v5.28h-2.52zM91.80 699.02h2.52v1.32h-2.52zM91.80 701.66h2.52v1.32h-2.52zM91.80 704.30h2.52v1.32h-2.52zM99.36 745.22h2.52v1.32h-2.52zM99.36 763.70h2.52v1.32h-2.52zM99.36 768.98h2.52v1.32h-2.52zM104.60 672.62h2.53v11.88h-2.53zM104.60 685.82h2.53v1.32h-2.53zM104.60 691.10h2.53v1.32h-2.53zM104.60 695.06h2.53v1.32h-2.53zM104.60 700.34h2.53v1.32h-2.53zM104.60 704.30h2.53v1.32h-2.53zM107.13 712.22h2.53v1.32h-2.53zM109.66 705.62h2.53v1.32h-2.53zM109.66 712.22h2.53v1.32h-2.53zM109.66 720.14h2.53v1.32h-2.53zM114.72 709.58h2.53v1.32h-2.53zM114.72 722.78h2.53v2.64h-2.53zM117.25 675.26h2.53v1.32h-2.53zM117.25 684.50h2.53v1.32h-2.53zM117.25 700.34h2.53v2.64h-2.53zM129.90 696.38h2.53v1.32h-2.53zM129.90 724.10h2.53v1.32h-2.53zM134.96 709.58h2.53v1.32h-2.53zM134.96 717.50h2.53v1.32h-2.53zM134.96 720.14h2.53v1.32h-2.53zM134.96 722.78h2.53v1.32h-2.53zM134.96 729.38h2.53v1.32h-2.53zM134.96 737.30h2.53v1.32h-2.53zM142.55 699.02h2.53v1.32h-2.53zM142.55 701.66h2.53v1.32h-2.53zM142.55 704.30h2.53v10.56h-2.53zM142.55 716.18h2.53v9.24h-2.53zM142.55 726.74h2.53v1.32h-2.53zM142.55 730.70h2.53v3.96h-2.53zM142.55 739.94h2.53v3.96h-2.53zM145.08 671.30h2.53v2.64h-2.53zM145.08 679.22h2.53v1.32h-2.53zM145.08 681.86h2.53v1.32h-2.53zM145.08 685.82h2.53v1.32h-2.53zM145.08 691.10h2.53v5.28h-2.53zM145.08 699.02h2.53v1.32h-2.53zM145.08 701.66h2.53v3.96h-2.53zM145.08 710.90h2.53v1.32h-2.53zM145.08 716.18h2.53v1.32h-2.53zM145.08 733.34h2.53v1.32h-2.53zM145.08 735.98h2.53v1.32h-2.53zM147.61 693.74h2.53v1.32h-2.53zM150.14 691.10h2.53v1.32h-2.53zM150.14 697.70h2.53v1.32h-2.53zM155.20 705.62h2.53v1.32h-2.53zM155.20 708.26h2.53v1.32h-2.53zM155.20 721.46h2.53v2.64h-2.53zM155.20 726.74h2.53v2.64h-2.53zM155.20 730.70h2.53v1.32h-2.53zM155.20 745.22h2.53v1.32h-2.53zM162.79 677.90h2.53v1.32h-2.53zM162.79 680.54h2.53v1.32h-2.53zM162.79 685.82h2.53v1.32h-2.53zM162.79 692.42h2.53v1.32h-2.53zM162.79 697.70h2.53v1.32h-2.53zM162.79 702.98h2.53v1.32h-2.53zM162.79 716.18h2.53v1.32h-2.53zM162.79 722.78h2.53v2.64h-2.53zM162.79 732.02h2.53v1.32h-2.53zM162.79 734.66h2.53v1.32h-2.53zM162.79 738.62h2.53v1.32h-2.53zM162.79 750.50h2.53v1.32h-2.53zM165.32 681.86h2.53v1.32h-2.53zM165.32 705.62h2.53v1.32h-2.53zM165.32 708.26h2.53v1.32h-2.53zM165.32 710.90h2.53v2.64h-2.53zM165.32 717.50h2.53v5.28h-2.53zM165.32 724.10h2.53v3.96h-2.53zM165.32 729.38h2.53v5.28h-2.53zM165.32 737.30h2.53v2.64h-2.53zM165.32 741.26h2.53v2.64h-2.53zM165.32 747.86h2.53v2.64h-2.53zM165.32 753.14h2.53v1.32h-2.53zM165.32 761.06h2.53v1.32h-2.53zM175.44 671.30h2.53v1.32h-2.53zM175.44 675.26h2.53v2.64h-2.53zM175.44 680.54h2.53v5.28h-2.53zM175.44 687.14h2.53v2.64h-2.53zM175.44 691.10h2.53v7.92h-2.53zM175.44 700.34h2.53v1.32h-2.53zM177.97 699.02h2.53v1.32h-2.53zM177.97 761.06h2.53v1.32h-2.53zM177.97 768.98h2.53v1.32h-2.53zM185.56 688.46h2.53v1.32h-2.53zM185.56 705.62h2.53v2.64h-2.53zM185.56 709.58h2.53v3.96h-2.53zM185.56 722.78h2.53v2.64h-2.53zM185.56 729.38h2.53v2.64h-2.53zM185.56 734.66h2.53v3.96h-2.53zM185.56 743.90h2.53v1.32h-2.53zM185.56 746.54h2.53v1.32h-2.53zM185.56 749.18h2.53v1.32h-2.53zM185.56 751.82h2.53v5.28h-2.53zM185.56 761.06h2.53v6.60h-2.53zM185.56 768.98h2.53v3.32h-2.53zM203.00 676.58h1.60v1.32h-1.60zM204.60 672.62h1.60v1.32h-1.60zM204.60 677.90h1.60v1.32h-1.60zM204.60 680.54h1.60v5.28h-1.60zM204.60 687.14h1.60v2.64h-1.60zM204.60 691.10h1.60v6.60h-1.60zM204.60 699.02h1.60v6.60h-1.60zM206.21 676.58h1.60v1.32h-1.60zM206.21 680.54h1.60v1.32h-1.60zM206.21 684.50h1.60v1.32h-1.60zM206.21 693.74h1.60v1.32h-1.60zM206.21 699.02h1.60v2.64h-1.60zM207.81 708.26h1.60v1.32h-1.60zM209.41 718.82h1.60v1.32h-1.60zM212.62 708.26h1.60v1.32h-1.60zM214.22 704.30h1.60v1.32h-1.60zM223.84 718.82h1.60v1.32h-1.60zM225.44 710.90h1.60v1.32h-1.60zM225.44 716.18h1.60v1.32h-1.60zM225.44 721.46h1.60v2.64h-1.60zM227.04 672.62h1.60v1.32h-1.60zM227.04 696.38h1.60v1.32h-1.60zM227.04 709.58h1.60v1.32h-1.60zM228.65 702.98h1.60v1.32h-1.60zM233.46 695.06h1.60v1.32h-1.60zM236.66 693.74h1.60v7.92h-1.60zM236.66 702.98h1.60v2.64h-1.60zM243.07 672.62h1.60v3.96h-1.60zM243.07 677.90h1.60v1.32h-1.60zM243.07 681.86h1.60v2.64h-1.60zM243.07 685.82h1.60v1.32h-1.60zM243.07 688.46h1.60v1.32h-1.60zM243.07 693.74h1.60v1.32h-1.60zM243.07 697.70h1.60v1.32h-1.60zM243.07 702.98h1.60v1.32h-1.60zM244.68 689.78h1.60v1.32h-1.60zM244.68 696.38h1.60v2.64h-1.60zM244.68 704.30h1.60v1.32h-1.60zM246.28 680.54h1.60v1.32h-1.60zM247.88 729.38h1.60v1.32h-1.60zM249.49 705.62h1.60v1.32h-1.60zM249.49 713.54h1.60v1.32h-1.60zM249.49 722.78h1.60v1.32h-1.60zM249.49 730.70h1.60v1.32h-1.60zM252.69 671.30h1.60v1.32h-1.60zM252.69 683.18h1.60v1.32h-1.60zM252.69 691.10h1.60v1.32h-1.60zM252.69 693.74h1.60v1.32h-1.60zM252.69 696.38h1.60v2.64h-1.60zM252.69 701.66h1.60v1.32h-1.60zM254.30 722.78h1.60v1.32h-1.60zM255.90 684.50h1.60v1.32h-1.60zM255.90 687.14h1.60v6.60h-1.60zM255.90 695.06h1.60v1.32h-1.60zM255.90 697.70h1.60v3.96h-1.60zM255.90 702.98h1.60v1.32h-1.60zM263.91 741.26h1.60v1.32h-1.60zM267.12 680.54h1.60v1.32h-1.60zM268.72 704.30h1.60v1.32h-1.60zM273.53 702.98h1.60v1.32h-1.60zM273.53 713.54h1.60v1.32h-1.60zM275.13 693.74h1.60v1.32h-1.60zM275.13 700.34h1.60v1.32h-1.60zM275.13 702.98h1.60v1.32h-1.60zM278.34 705.62h1.60v1.32h-1.60zM278.34 722.78h1.60v1.32h-1.60zM278.34 751.82h1.60v1.32h-1.60zM278.34 759.74h1.60v1.32h-1.60zM278.34 766.34h1.60v2.64h-1.60zM279.94 696.38h1.60v3.96h-1.60zM279.94 704.30h1.60v1.32h-1.60zM279.94 708.26h1.60v1.32h-1.60zM279.94 714.86h1.60v2.64h-1.60zM279.94 733.34h1.60v1.32h-1.60zM279.94 747.86h1.60v1.32h-1.60zM279.94 750.50h1.60v2.64h-1.60zM279.94 757.10h1.60v2.64h-1.60zM279.94 765.02h1.60v1.32h-1.60zM287.96 671.30h1.60v6.60h-1.60zM287.96 679.22h1.60v2.64h-1.60zM287.96 684.50h1.60v1.32h-1.60zM287.96 687.14h1.60v2.64h-1.60zM287.96 692.42h1.60v2.64h-1.60zM287.96 697.70h1.60v1.32h-1.60zM287.96 700.34h1.60v1.32h-1.60zM287.96 717.50h1.60v1.32h-1.60zM289.56 724.10h1.60v1.32h-1.60zM291.16 672.62h1.60v1.32h-1.60zM291.16 681.86h1.60v1.32h-1.60zM291.16 696.38h1.60v2.64h-1.60zM291.16 701.66h1.60v2.64h-1.60zM291.16 705.62h1.60v1.32h-1.60zM294.37 708.26h1.60v1.32h-1.60zM300.80 713.54h1.62v1.32h-1.62zM302.42 697.70h1.62v1.32h-1.62zM302.42 702.98h1.62v1.32h-1.62zM302.42 714.86h1.62v1.32h-1.62zM305.66 705.62h1.62v1.32h-1.62zM305.66 709.58h1.62v1.32h-1.62zM305.66 712.22h1.62v1.32h-1.62zM305.66 716.18h1.62v1.32h-1.62zM307.28 695.06h1.62v2.64h-1.62zM307.28 699.02h1.62v2.64h-1.62zM307.28 704.30h1.62v6.60h-1.62zM307.28 713.54h1.62v1.32h-1.62zM307.28 716.18h1.62v3.96h-1.62zM308.90 710.90h1.62v5.28h-1.62zM308.90 717.50h1.62v2.64h-1.62zM310.52 708.26h1.62v1.32h-1.62zM315.38 695.06h1.62v1.32h-1.62zM315.38 700.34h1.62v1.32h-1.62zM317.00 696.38h1.62v1.32h-1.62zM317.00 699.02h1.62v1.32h-1.62zM317.00 701.66h1.62v1.32h-1.62zM317.00 706.94h1.62v5.28h-1.62zM317.00 713.54h1.62v1.32h-1.62zM317.00 716.18h1.62v1.32h-1.62zM317.00 718.82h1.62v1.32h-1.62zM317.00 721.46h1.62v1.32h-1.62zM317.00 724.10h1.62v1.32h-1.62zM317.00 726.74h1.62v2.64h-1.62zM321.86 687.14h1.62v1.32h-1.62zM323.48 696.38h1.62v1.32h-1.62zM323.48 700.34h1.62v1.32h-1.62zM323.48 702.98h1.62v1.32h-1.62zM323.48 713.54h1.62v1.32h-1.62zM325.10 705.62h1.62v1.32h-1.62zM325.10 757.10h1.62v1.32h-1.62zM326.72 728.06h1.62v1.32h-1.62zM328.34 741.26h1.62v1.32h-1.62zM331.58 705.62h1.62v1.32h-1.62zM331.58 709.58h1.62v1.32h-1.62zM331.58 713.54h1.62v2.64h-1.62zM331.58 721.46h1.62v1.32h-1.62zM331.58 728.06h1.62v1.32h-1.62zM331.58 730.70h1.62v1.32h-1.62zM331.58 734.66h1.62v3.96h-1.62zM331.58 739.94h1.62v1.32h-1.62zM331.58 743.90h1.62v3.96h-1.62zM331.58 754.46h1.62v3.96h-1.62zM331.58 759.74h1.62v2.64h-1.62zM331.58 763.70h1.62v2.64h-1.62zM331.58 768.98h1.62v2.64h-1.62zM334.82 709.58h1.62v1.32h-1.62zM334.82 714.86h1.62v1.32h-1.62zM334.82 717.50h1.62v1.32h-1.62zM334.82 724.10h1.62v2.64h-1.62zM334.82 728.06h1.62v1.32h-1.62zM334.82 734.66h1.62v2.64h-1.62zM334.82 747.86h1.62v1.32h-1.62zM334.82 751.82h1.62v1.32h-1.62zM334.82 754.46h1.62v1.32h-1.62zM334.82 757.10h1.62v1.32h-1.62zM334.82 762.38h1.62v2.64h-1.62zM334.82 767.66h1.62v1.32h-1.62zM350.60 708.26h3.10v6.60h-3.10zM350.60 721.46h3.10v1.32h-3.10zM350.60 724.10h3.10v5.28h-3.10zM350.60 732.02h3.10v1.32h-3.10zM350.60 734.66h3.10v1.32h-3.10zM350.60 737.30h3.10v2.64h-3.10zM360.00 675.26h3.20v1.32h-3.20zM360.00 679.22h3.20v2.64h-3.20zM360.00 688.46h3.20v2.64h-3.20zM360.00 702.98h3.20v1.32h-3.20zM363.20 675.26h3.20v1.32h-3.20zM363.20 701.66h3.20v1.32h-3.20zM366.40 696.38h3.20v1.32h-3.20zM366.40 706.94h3.20v1.32h-3.20zM366.40 714.86h3.20v1.32h-3.20zM369.60 671.30h3.20v2.64h-3.20zM369.60 675.26h3.20v1.32h-3.20zM369.60 677.90h3.20v2.64h-3.20zM369.60 681.86h3.20v1.32h-3.20zM369.60 684.50h3.20v1.32h-3.20zM369.60 688.46h3.20v5.28h-3.20zM369.60 697.70h3.20v1.32h-3.20zM369.60 702.98h3.20v2.64h-3.20zM369.60 709.58h3.20v2.64h-3.20zM369.60 713.54h3.20v2.64h-3.20zM369.60 718.82h3.20v1.32h-3.20zM369.60 721.46h3.20v1.32h-3.20zM372.80 671.30h3.20v1.32h-3.20zM372.80 680.54h3.20v1.32h-3.20zM372.80 687.14h3.20v1.32h-3.20zM372.80 692.42h3.20v1.32h-3.20zM372.80 696.38h3.20v1.32h-3.20zM372.80 709.58h3.20v1.32h-3.20zM372.80 724.10h3.20v1.32h-3.20zM376.00 671.30h3.20v1.32h-3.20zM376.00 705.62h3.20v1.32h-3.20zM376.00 708.26h3.20v3.96h-3.20zM376.00 713.54h3.20v1.32h-3.20zM376.00 716.18h3.20v1.32h-3.20zM376.00 720.14h3.20v1.32h-3.20zM376.00 724.10h3.20v1.32h-3.20zM376.00 726.74h3.20v2.64h-3.20zM376.00 730.70h3.20v1.32h-3.20zM379.20 675.26h3.20v2.64h-3.20zM379.20 691.10h3.20v1.32h-3.20zM379.20 705.62h3.20v1.32h-3.20zM379.20 713.54h3.20v1.32h-3.20zM379.20 730.70h3.20v1.32h-3.20zM382.40 673.94h3.20v1.32h-3.20zM382.40 677.90h3.20v1.32h-3.20zM382.40 681.86h3.20v1.32h-3.20zM382.40 693.74h3.20v1.32h-3.20zM382.40 701.66h3.20v1.32h-3.20zM385.60 671.30h3.20v1.32h-3.20zM385.60 687.14h3.20v1.32h-3.20zM385.60 695.06h3.20v1.32h-3.20zM385.60 697.70h3.20v1.32h-3.20zM385.60 700.34h3.20v1.32h-3.20zM385.60 722.78h3.20v1.32h-3.20zM388.80 697.70h3.20v1.32h-3.20zM388.80 700.34h3.20v2.64h-3.20zM388.80 705.62h3.20v1.32h-3.20zM388.80 713.54h3.20v1.32h-3.20zM388.80 717.50h3.20v2.64h-3.20zM388.80 722.78h3.20v1.32h-3.20zM388.80 726.74h3.20v1.32h-3.20zM388.80 732.02h3.20v1.32h-3.20zM392.00 676.58h3.20v2.64h-3.20zM392.00 680.54h3.20v1.32h-3.20zM392.00 695.06h3.20v1.32h-3.20zM392.00 722.78h3.20v1.32h-3.20zM392.00 729.38h3.20v1.32h-3.20zM392.00 734.66h3.20v1.32h-3.20zM395.20 700.34h3.20v1.32h-3.20zM395.20 706.94h3.20v1.32h-3.20zM395.20 713.54h3.20v1.32h-3.20zM395.20 718.82h3.20v2.64h-3.20zM395.20 732.02h3.20v1.32h-3.20zM398.40 696.38h3.20v1.32h-3.20zM398.40 701.66h3.20v1.32h-3.20zM398.40 705.62h3.20v3.96h-3.20zM398.40 717.50h3.20v1.32h-3.20zM398.40 721.46h3.20v1.32h-3.20zM398.40 729.38h3.20v1.32h-3.20zM401.60 677.90h3.20v1.32h-3.20zM401.60 691.10h3.20v1.32h-3.20zM401.60 716.18h3.20v1.32h-3.20zM401.60 720.14h3.20v2.64h-3.20zM401.60 733.34h3.20v2.64h-3.20zM404.80 693.74h3.20v1.32h-3.20zM404.80 697.70h3.20v1.32h-3.20zM404.80 712.22h3.20v1.32h-3.20zM404.80 717.50h3.20v1.32h-3.20zM404.80 725.42h3.20v1.32h-3.20zM404.80 738.62h3.20v1.32h-3.20zM404.80 742.58h3.20v1.32h-3.20zM408.00 683.18h3.20v1.32h-3.20zM408.00 705.62h3.20v3.96h-3.20zM408.00 710.90h3.20v1.32h-3.20zM408.00 713.54h3.20v2.64h-3.20zM408.00 717.50h3.20v2.64h-3.20zM408.00 722.78h3.20v1.32h-3.20zM408.00 726.74h3.20v1.32h-3.20zM408.00 729.38h3.20v3.96h-3.20zM408.00 734.66h3.20v3.96h-3.20zM411.20 671.30h3.20v1.32h-3.20zM411.20 680.54h3.20v1.32h-3.20zM411.20 685.82h3.20v2.64h-3.20zM411.20 691.10h3.20v1.32h-3.20zM411.20 714.86h3.20v1.32h-3.20zM411.20 717.50h3.20v1.32h-3.20zM414.40 672.62h3.20v1.32h-3.20zM414.40 684.50h3.20v1.32h-3.20zM414.40 687.14h3.20v1.32h-3.20zM414.40 689.78h3.20v2.64h-3.20zM414.40 693.74h3.20v3.96h-3.20zM414.40 702.98h3.20v1.32h-3.20zM414.40 713.54h3.20v1.32h-3.20zM414.40 717.50h3.20v1.32h-3.20zM414.40 735.98h3.20v1.32h-3.20zM414.40 746.54h3.20v1.32h-3.20zM417.60 672.62h3.20v2.64h-3.20zM417.60 689.78h3.20v5.28h-3.20zM417.60 702.98h3.20v1.32h-3.20zM417.60 705.62h3.20v1.32h-3.20zM417.60 716.18h3.20v1.32h-3.20zM417.60 722.78h3.20v1.32h-3.20zM417.60 728.06h3.20v1.32h-3.20zM417.60 741.26h3.20v1.32h-3.20zM417.60 743.90h3.20v1.32h-3.20zM417.60 750.50h3.20v1.32h-3.20zM420.80 671.30h3.20v5.28h-3.20zM420.80 681.86h3.20v1.32h-3.20zM420.80 685.82h3.20v1.32h-3.20zM420.80 688.46h3.20v5.28h-3.20zM420.80 696.38h3.20v1.32h-3.20zM420.80 700.34h3.20v2.64h-3.20zM420.80 712.22h3.20v1.32h-3.20zM420.80 732.02h3.20v1.32h-3.20zM420.80 743.90h3.20v2.64h-3.20zM427.20 679.22h3.20v1.32h-3.20zM427.20 683.18h3.20v1.32h-3.20zM427.20 689.78h3.20v1.32h-3.20zM427.20 712.22h3.20v1.32h-3.20zM427.20 758.42h3.20v1.32h-3.20zM430.40 691.10h3.20v1.32h-3.20zM430.40 701.66h3.20v1.32h-3.20zM430.40 704.30h3.20v1.32h-3.20zM430.40 708.26h3.20v1.32h-3.20zM433.60 672.62h3.20v1.32h-3.20zM433.60 676.58h3.20v3.96h-3.20zM433.60 721.46h3.20v1.32h-3.20zM436.80 687.14h3.20v1.32h-3.20zM436.80 696.38h3.20v1.32h-3.20zM436.80 720.14h3.20v1.32h-3.20zM440.00 671.30h3.20v1.32h-3.20zM440.00 676.58h3.20v1.32h-3.20zM440.00 680.54h3.20v2.64h-3.20zM440.00 692.42h3.20v1.32h-3.20zM440.00 699.02h3.20v1.32h-3.20zM440.00 741.26h3.20v1.32h-3.20zM443.20 673.94h3.20v1.32h-3.20zM443.20 677.90h3.20v1.32h-3.20zM443.20 687.14h3.20v1.32h-3.20zM443.20 696.38h3.20v1.32h-3.20zM443.20 704.30h3.20v1.32h-3.20zM443.20 706.94h3.20v1.32h-3.20zM443.20 709.58h3.20v1.32h-3.20zM443.20 730.70h3.20v1.32h-3.20zM443.20 742.58h3.20v1.32h-3.20zM443.20 751.82h3.20v1.32h-3.20zM443.20 771.62h3.20v0.68h-3.20zM446.40 691.10h3.20v2.64h-3.20zM446.40 701.66h3.20v1.32h-3.20zM446.40 705.62h3.20v1.32h-3.20zM446.40 710.90h3.20v10.56h-3.20zM446.40 722.78h3.20v1.32h-3.20zM446.40 725.42h3.20v2.64h-3.20zM446.40 732.02h3.20v1.32h-3.20zM446.40 737.30h3.20v1.32h-3.20zM446.40 742.58h3.20v2.64h-3.20zM446.40 746.54h3.20v3.96h-3.20zM446.40 751.82h3.20v1.32h-3.20zM446.40 755.78h3.20v3.96h-3.20zM446.40 766.34h3.20v1.32h-3.20zM446.40 770.30h3.20v1.32h-3.20zM449.60 681.86h3.20v1.32h-3.20zM449.60 693.74h3.20v1.32h-3.20zM449.60 753.14h3.20v1.32h-3.20zM449.60 766.34h3.20v1.32h-3.20zM452.80 700.34h3.20v1.32h-3.20zM452.80 709.58h3.20v2.64h-3.20zM452.80 714.86h3.20v1.32h-3.20zM452.80 717.50h3.20v1.32h-3.20zM452.80 721.46h3.20v1.32h-3.20zM452.80 738.62h3.20v1.32h-3.20zM452.80 743.90h3.20v1.32h-3.20zM452.80 753.14h3.20v1.32h-3.20zM452.80 758.42h3.20v1.32h-3.20zM452.80 767.66h3.20v1.32h-3.20zM456.00 695.06h3.20v1.32h-3.20zM459.20 673.94h3.20v1.32h-3.20zM459.20 681.86h3.20v2.64h-3.20zM459.20 689.78h3.20v1.32h-3.20zM459.20 693.74h3.20v1.32h-3.20zM459.20 697.70h3.20v1.32h-3.20zM459.20 724.10h3.20v1.32h-3.20zM462.40 676.58h3.20v1.32h-3.20zM462.40 693.74h3.20v1.32h-3.20zM462.40 696.38h3.20v1.32h-3.20zM462.40 700.34h3.20v1.32h-3.20zM462.40 714.86h3.20v2.64h-3.20zM462.40 718.82h3.20v1.32h-3.20zM462.40 724.10h3.20v1.32h-3.20zM462.40 730.70h3.20v1.32h-3.20zM462.40 754.46h3.20v2.64h-3.20zM462.40 765.02h3.20v1.32h-3.20zM462.40 771.62h3.20v0.68h-3.20zM465.60 683.18h3.20v1.32h-3.20zM465.60 695.06h3.20v1.32h-3.20zM465.60 702.98h3.20v2.64h-3.20zM465.60 706.94h3.20v1.32h-3.20zM465.60 709.58h3.20v2.64h-3.20zM465.60 713.54h3.20v1.32h-3.20zM465.60 716.18h3.20v1.32h-3.20zM465.60 718.82h3.20v3.96h-3.20zM465.60 724.10h3.20v1.32h-3.20zM465.60 728.06h3.20v1.32h-3.20zM465.60 732.02h3.20v2.64h-3.20zM465.60 741.26h3.20v1.32h-3.20zM465.60 743.90h3.20v1.32h-3.20zM465.60 750.50h3.20v1.32h-3.20zM465.60 753.14h3.20v5.28h-3.20zM465.60 759.74h3.20v6.60h-3.20zM465.60 770.30h3.20v1.32h-3.20zM468.80 699.02h3.20v1.32h-3.20zM468.80 704.30h3.20v1.32h-3.20zM472.00 739.94h3.20v1.32h-3.20zM472.00 750.50h3.20v1.32h-3.20zM475.20 705.62h3.20v1.32h-3.20zM475.20 721.46h3.20v1.32h-3.20zM475.20 733.34h3.20v1.32h-3.20zM475.20 762.38h3.20v1.32h-3.20zM475.20 766.34h3.20v1.32h-3.20zM478.40 704.30h3.20v1.32h-3.20zM481.60 676.58h3.20v1.32h-3.20zM481.60 685.82h3.20v2.64h-3.20zM481.60 705.62h3.20v1.32h-3.20zM481.60 709.58h3.20v1.32h-3.20zM481.60 738.62h3.20v3.96h-3.20zM481.60 747.86h3.20v2.64h-3.20zM481.60 754.46h3.20v1.32h-3.20zM481.60 758.42h3.20v1.32h-3.20zM481.60 761.06h3.20v1.32h-3.20zM481.60 770.30h3.20v1.32h-3.20zM498.70 705.62h1.58v1.32h-1.58zM500.28 709.58h1.58v2.64h-1.58zM501.86 705.62h1.58v1.32h-1.58zM501.86 708.26h1.58v1.32h-1.58zM503.44 693.74h1.58v5.28h-1.58zM503.44 700.34h1.58v2.64h-1.58zM503.44 704.30h1.58v1.32h-1.58zM505.02 701.66h1.58v1.32h-1.58zM505.02 709.58h1.58v1.32h-1.58zM508.18 693.74h1.58v1.32h-1.58zM509.76 697.70h1.58v2.64h-1.58zM509.76 704.30h1.58v2.64h-1.58zM509.76 709.58h1.58v3.96h-1.58zM509.76 714.86h1.58v2.64h-1.58zM511.34 717.50h1.58v1.32h-1.58zM512.92 697.70h1.58v1.32h-1.58zM512.92 702.98h1.58v1.32h-1.58zM512.92 710.90h1.58v1.32h-1.58zM519.24 679.22h1.58v1.32h-1.58zM519.24 685.82h1.58v1.32h-1.58zM519.24 689.78h1.58v3.96h-1.58zM519.24 696.38h1.58v2.64h-1.58zM519.24 700.34h1.58v1.32h-1.58zM520.82 700.34h1.58v1.32h-1.58zM523.98 695.06h1.58v1.32h-1.58zM525.56 699.02h1.58v3.96h-1.58zM525.56 704.30h1.58v1.32h-1.58zM525.56 730.70h1.58v1.32h-1.58zM525.56 745.22h1.58v1.32h-1.58zM527.14 693.74h1.58v1.32h-1.58zM527.14 708.26h1.58v1.32h-1.58zM527.14 710.90h1.58v1.32h-1.58zM527.14 725.42h1.58v1.32h-1.58zM527.14 732.02h1.58v2.64h-1.58zM527.14 737.30h1.58v1.32h-1.58zM527.14 741.26h1.58v5.28h-1.58zM527.14 755.78h1.58v2.64h-1.58zM527.14 767.66h1.58v1.32h-1.58zM528.72 712.22h1.58v1.32h-1.58zM528.72 718.82h1.58v1.32h-1.58zM528.72 726.74h1.58v1.32h-1.58zM528.72 730.70h1.58v1.32h-1.58zM528.72 745.22h1.58v1.32h-1.58zM528.72 755.78h1.58v1.32h-1.58zM528.72 762.38h1.58v1.32h-1.58zM528.72 767.66h1.58v1.32h-1.58zM531.88 708.26h1.58v1.32h-1.58zM531.88 712.22h1.58v1.32h-1.58zM531.88 720.14h1.58v1.32h-1.58zM531.88 726.74h1.58v1.32h-1.58zM531.88 729.38h1.58v1.32h-1.58zM531.88 734.66h1.58v1.32h-1.58zM531.88 747.86h1.58v1.32h-1.58zM531.88 753.14h1.58v1.32h-1.58zM531.88 755.78h1.58v1.32h-1.58zM531.88 759.74h1.58v1.32h-1.58zM531.88 770.30h1.58v2.00h-1.58zM533.46 721.46h1.58v1.32h-1.58zM535.04 718.82h1.58v1.32h-1.58zM535.04 754.46h1.58v1.32h-1.58zM535.04 757.10h1.58v1.32h-1.58zM535.04 767.66h1.58v1.32h-1.58zM536.62 705.62h1.58v6.60h-1.58zM536.62 713.54h1.58v3.96h-1.58zM536.62 718.82h1.58v1.32h-1.58zM536.62 724.10h1.58v2.64h-1.58zM536.62 729.38h1.58v1.32h-1.58zM536.62 737.30h1.58v5.28h-1.58zM536.62 743.90h1.58v5.28h-1.58zM536.62 751.82h1.58v1.32h-1.58zM536.62 754.46h1.58v3.96h-1.58zM536.62 761.06h1.58v2.64h-1.58zM536.62 765.02h1.58v1.32h-1.58zM536.62 768.98h1.58v2.64h-1.58zM538.20 726.74h1.58v1.32h-1.58zM539.78 684.50h1.58v1.32h-1.58zM539.78 766.34h1.58v1.32h-1.58zM541.36 753.14h1.58v1.32h-1.58zM542.94 688.46h1.58v2.64h-1.58zM542.94 730.70h1.58v1.32h-1.58zM546.10 681.86h1.58v1.32h-1.58zM546.10 708.26h1.58v2.64h-1.58zM546.10 712.22h1.58v3.96h-1.58zM546.10 728.06h1.58v2.64h-1.58zM546.10 732.02h1.58v1.32h-1.58zM546.10 735.98h1.58v3.96h-1.58zM546.10 742.58h1.58v9.24h-1.58zM546.10 757.10h1.58v1.32h-1.58zM546.10 759.74h1.58v2.64h-1.58zM546.10 763.70h1.58v6.60h-1.58zM546.10 771.62h1.58v0.68h-1.58zM547.68 673.94h1.58v1.32h-1.58zM552.20 705.62h1.61v1.32h-1.61zM552.20 708.26h1.61v1.32h-1.61zM553.81 692.42h1.61v2.64h-1.61zM553.81 697.70h1.61v10.56h-1.61zM555.42 689.78h1.61v1.32h-1.61zM555.42 692.42h1.61v2.64h-1.61zM555.42 696.38h1.61v9.24h-1.61zM555.42 713.54h1.61v1.32h-1.61zM555.42 716.18h1.61v1.32h-1.61zM557.03 688.46h1.61v1.32h-1.61zM557.03 692.42h1.61v1.32h-1.61zM557.03 696.38h1.61v6.60h-1.61zM557.03 705.62h1.61v6.60h-1.61zM557.03 713.54h1.61v1.32h-1.61zM557.03 717.50h1.61v1.32h-1.61zM558.64 705.62h1.61v5.28h-1.61zM558.64 716.18h1.61v1.32h-1.61zM560.25 701.66h1.61v1.32h-1.61zM561.86 687.14h1.61v1.32h-1.61zM561.86 691.10h1.61v2.64h-1.61zM561.86 699.02h1.61v1.32h-1.61zM561.86 704.30h1.61v1.32h-1.61zM561.86 706.94h1.61v1.32h-1.61zM561.86 712.22h1.61v1.32h-1.61zM561.86 714.86h1.61v1.32h-1.61zM563.47 684.50h1.61v2.64h-1.61zM563.47 688.46h1.61v1.32h-1.61zM563.47 692.42h1.61v6.60h-1.61zM563.47 700.34h1.61v1.32h-1.61zM563.47 702.98h1.61v1.32h-1.61zM565.08 701.66h1.61v1.32h-1.61zM565.08 705.62h1.61v14.52h-1.61zM566.69 701.66h1.61v3.96h-1.61zM566.69 714.86h1.61v1.32h-1.61zM566.69 717.50h1.61v1.32h-1.61zM568.30 708.26h1.61v1.32h-1.61zM568.30 724.10h1.61v1.32h-1.61zM569.91 675.26h1.61v1.32h-1.61zM569.91 683.18h1.61v2.64h-1.61zM569.91 691.10h1.61v1.32h-1.61zM569.91 696.38h1.61v1.32h-1.61zM569.91 704.30h1.61v1.32h-1.61zM569.91 712.22h1.61v1.32h-1.61zM569.91 725.42h1.61v1.32h-1.61zM571.52 699.02h1.61v2.64h-1.61zM571.52 710.90h1.61v1.32h-1.61zM571.52 714.86h1.61v1.32h-1.61zM571.52 721.46h1.61v1.32h-1.61zM571.52 726.74h1.61v1.32h-1.61zM573.13 708.26h1.61v1.32h-1.61zM573.13 717.50h1.61v1.32h-1.61zM573.13 720.14h1.61v1.32h-1.61zM573.13 722.78h1.61v2.64h-1.61zM574.74 689.78h1.61v1.32h-1.61zM574.74 697.70h1.61v1.32h-1.61zM574.74 705.62h1.61v1.32h-1.61zM574.74 708.26h1.61v1.32h-1.61zM574.74 721.46h1.61v1.32h-1.61zM576.35 695.06h1.61v1.32h-1.61zM576.35 705.62h1.61v1.32h-1.61zM576.35 708.26h1.61v1.32h-1.61zM576.35 722.78h1.61v1.32h-1.61zM576.35 726.74h1.61v1.32h-1.61zM577.96 680.54h1.61v1.32h-1.61zM577.96 684.50h1.61v1.32h-1.61zM577.96 692.42h1.61v3.96h-1.61zM577.96 704.30h1.61v1.32h-1.61zM577.96 709.58h1.61v2.64h-1.61zM577.96 714.86h1.61v1.32h-1.61zM577.96 730.70h1.61v1.32h-1.61zM579.57 706.94h1.61v2.64h-1.61zM579.57 716.18h1.61v1.32h-1.61zM579.57 728.06h1.61v1.32h-1.61zM581.18 683.18h1.61v1.32h-1.61zM581.18 685.82h1.61v1.32h-1.61zM581.18 689.78h1.61v1.32h-1.61zM581.18 695.06h1.61v1.32h-1.61zM581.18 706.94h1.61v1.32h-1.61zM581.18 714.86h1.61v1.32h-1.61zM582.79 693.74h1.61v1.32h-1.61zM582.79 699.02h1.61v1.32h-1.61zM582.79 702.98h1.61v2.64h-1.61zM582.79 718.82h1.61v1.32h-1.61zM584.40 713.54h1.61v1.32h-1.61zM584.40 725.42h1.61v1.32h-1.61zM584.40 729.38h1.61v1.32h-1.61zM584.40 733.34h1.61v1.32h-1.61zM586.01 720.14h1.61v1.32h-1.61zM586.01 724.10h1.61v5.28h-1.61zM586.01 733.34h1.61v1.32h-1.61zM587.62 699.02h1.61v1.32h-1.61zM587.62 705.62h1.61v3.96h-1.61zM587.62 710.90h1.61v1.32h-1.61zM587.62 713.54h1.61v1.32h-1.61zM587.62 717.50h1.61v2.64h-1.61zM587.62 724.10h1.61v3.96h-1.61zM587.62 732.02h1.61v1.32h-1.61zM587.62 734.66h1.61v1.32h-1.61zM589.23 718.82h1.61v1.32h-1.61zM589.23 724.10h1.61v1.32h-1.61zM589.23 728.06h1.61v1.32h-1.61zM589.23 739.94h1.61v1.32h-1.61zM590.84 684.50h1.61v1.32h-1.61zM590.84 700.34h1.61v1.32h-1.61zM590.84 702.98h1.61v1.32h-1.61zM590.84 705.62h1.61v1.32h-1.61zM590.84 708.26h1.61v1.32h-1.61zM590.84 718.82h1.61v1.32h-1.61zM590.84 738.62h1.61v1.32h-1.61zM590.84 742.58h1.61v2.64h-1.61zM592.45 689.78h1.61v5.28h-1.61zM592.45 702.98h1.61v1.32h-1.61zM592.45 709.58h1.61v3.96h-1.61zM592.45 737.30h1.61v1.32h-1.61zM594.06 693.74h1.61v1.32h-1.61zM594.06 705.62h1.61v1.32h-1.61zM594.06 708.26h1.61v1.32h-1.61zM594.06 713.54h1.61v2.64h-1.61zM594.06 720.14h1.61v2.64h-1.61zM594.06 724.10h1.61v1.32h-1.61zM594.06 726.74h1.61v1.32h-1.61zM594.06 729.38h1.61v3.96h-1.61zM594.06 734.66h1.61v1.32h-1.61zM594.06 737.30h1.61v5.28h-1.61zM594.06 743.90h1.61v1.32h-1.61zM594.06 746.54h1.61v2.64h-1.61zM597.28 689.78h1.61v1.32h-1.61zM597.28 712.22h1.61v1.32h-1.61zM597.28 714.86h1.61v1.32h-1.61zM597.28 722.78h1.61v1.32h-1.61zM597.28 729.38h1.61v1.32h-1.61zM597.28 739.94h1.61v2.64h-1.61zM597.28 745.22h1.61v2.64h-1.61zM597.28 751.82h1.61v1.32h-1.61zM600.50 706.94h1.61v1.32h-1.61zM600.50 713.54h1.61v1.32h-1.61zM600.50 737.30h1.61v1.32h-1.61zM600.50 741.26h1.61v1.32h-1.61zM600.50 745.22h1.61v1.32h-1.61zM600.50 758.42h1.61v2.64h-1.61zM602.11 696.38h1.61v1.32h-1.61zM602.11 699.02h1.61v1.32h-1.61zM602.11 714.86h1.61v1.32h-1.61zM602.11 729.38h1.61v1.32h-1.61zM602.11 732.02h1.61v1.32h-1.61zM602.11 734.66h1.61v1.32h-1.61zM602.11 738.62h1.61v1.32h-1.61zM602.11 741.26h1.61v1.32h-1.61zM603.72 671.30h1.61v1.32h-1.61zM603.72 685.82h1.61v1.32h-1.61zM603.72 695.06h1.61v1.32h-1.61zM603.72 702.98h1.61v2.64h-1.61zM603.72 709.58h1.61v1.32h-1.61zM603.72 722.78h1.61v1.32h-1.61zM603.72 726.74h1.61v1.32h-1.61zM603.72 737.30h1.61v1.32h-1.61zM603.72 742.58h1.61v1.32h-1.61zM603.72 751.82h1.61v1.32h-1.61zM603.72 754.46h1.61v1.32h-1.61zM605.33 699.02h1.61v2.64h-1.61zM605.33 706.94h1.61v1.32h-1.61zM606.94 702.98h1.61v1.32h-1.61zM606.94 710.90h1.61v1.32h-1.61zM606.94 722.78h1.61v2.64h-1.61zM606.94 729.38h1.61v2.64h-1.61zM606.94 738.62h1.61v3.96h-1.61zM606.94 743.90h1.61v1.32h-1.61zM606.94 765.02h1.61v1.32h-1.61zM608.55 713.54h1.61v1.32h-1.61zM608.55 721.46h1.61v1.32h-1.61zM608.55 728.06h1.61v1.32h-1.61zM608.55 730.70h1.61v1.32h-1.61zM608.55 735.98h1.61v2.64h-1.61zM608.55 741.26h1.61v1.32h-1.61zM608.55 746.54h1.61v1.32h-1.61zM608.55 749.18h1.61v2.64h-1.61zM608.55 755.78h1.61v1.32h-1.61zM608.55 762.38h1.61v1.32h-1.61zM611.77 705.62h1.61v1.32h-1.61zM611.77 710.90h1.61v1.32h-1.61zM611.77 716.18h1.61v1.32h-1.61zM611.77 718.82h1.61v1.32h-1.61zM611.77 730.70h1.61v1.32h-1.61zM611.77 738.62h1.61v1.32h-1.61zM611.77 747.86h1.61v1.32h-1.61zM611.77 754.46h1.61v1.32h-1.61zM611.77 767.66h1.61v2.64h-1.61zM613.38 710.90h1.61v1.32h-1.61zM613.38 728.06h1.61v3.96h-1.61zM613.38 737.30h1.61v1.32h-1.61zM613.38 746.54h1.61v1.32h-1.61zM613.38 754.46h1.61v2.64h-1.61zM613.38 765.02h1.61v1.32h-1.61zM614.99 693.74h1.61v1.32h-1.61zM614.99 696.38h1.61v1.32h-1.61zM614.99 702.98h1.61v1.32h-1.61zM614.99 713.54h1.61v1.32h-1.61zM614.99 720.14h1.61v1.32h-1.61zM614.99 724.10h1.61v2.64h-1.61zM614.99 732.02h1.61v1.32h-1.61zM614.99 751.82h1.61v1.32h-1.61zM614.99 757.10h1.61v1.32h-1.61zM614.99 761.06h1.61v1.32h-1.61zM614.99 766.34h1.61v2.64h-1.61zM614.99 770.30h1.61v1.32h-1.61zM616.60 684.50h1.61v1.32h-1.61zM616.60 693.74h1.61v1.32h-1.61zM616.60 704.30h1.61v1.32h-1.61zM616.60 720.14h1.61v1.32h-1.61zM616.60 726.74h1.61v1.32h-1.61zM616.60 743.90h1.61v1.32h-1.61zM616.60 761.06h1.61v2.64h-1.61zM616.60 771.62h1.61v0.68h-1.61zM618.21 691.10h1.61v2.64h-1.61zM619.82 675.26h1.61v1.32h-1.61zM619.82 687.14h1.61v2.64h-1.61zM619.82 710.90h1.61v1.32h-1.61zM619.82 721.46h1.61v1.32h-1.61zM619.82 730.70h1.61v1.32h-1.61zM619.82 734.66h1.61v1.32h-1.61zM619.82 745.22h1.61v2.64h-1.61zM619.82 770.30h1.61v1.32h-1.61zM621.43 672.62h1.61v2.64h-1.61zM621.43 677.90h1.61v2.64h-1.61zM621.43 681.86h1.61v1.32h-1.61zM621.43 688.46h1.61v1.32h-1.61zM621.43 695.06h1.61v3.96h-1.61zM621.43 700.34h1.61v3.96h-1.61zM621.43 708.26h1.61v1.32h-1.61zM621.43 770.30h1.61v1.32h-1.61zM623.04 704.30h1.61v1.32h-1.61zM623.04 710.90h1.61v1.32h-1.61zM624.65 706.94h1.61v1.32h-1.61zM624.65 717.50h1.61v1.32h-1.61zM624.65 734.66h1.61v1.32h-1.61zM624.65 737.30h1.61v1.32h-1.61zM624.65 749.18h1.61v2.64h-1.61zM624.65 759.74h1.61v1.32h-1.61zM624.65 768.98h1.61v1.32h-1.61zM626.26 702.98h1.61v1.32h-1.61zM626.26 710.90h1.61v1.32h-1.61zM626.26 721.46h1.61v1.32h-1.61zM626.26 726.74h1.61v1.32h-1.61zM626.26 757.10h1.61v1.32h-1.61zM626.26 762.38h1.61v1.32h-1.61zM626.26 766.34h1.61v1.32h-1.61zM627.87 706.94h1.61v1.32h-1.61zM627.87 712.22h1.61v2.64h-1.61zM627.87 718.82h1.61v1.32h-1.61zM627.87 724.10h1.61v2.64h-1.61zM627.87 733.34h1.61v1.32h-1.61zM627.87 738.62h1.61v1.32h-1.61zM627.87 742.58h1.61v1.32h-1.61zM627.87 745.22h1.61v1.32h-1.61zM627.87 747.86h1.61v1.32h-1.61zM627.87 754.46h1.61v2.64h-1.61zM627.87 761.06h1.61v1.32h-1.61zM627.87 766.34h1.61v1.32h-1.61zM627.87 770.30h1.61v1.32h-1.61zM629.48 706.94h1.61v1.32h-1.61zM629.48 709.58h1.61v2.64h-1.61zM629.48 713.54h1.61v3.96h-1.61zM629.48 718.82h1.61v1.32h-1.61zM629.48 721.46h1.61v6.60h-1.61zM629.48 730.70h1.61v5.28h-1.61zM629.48 737.30h1.61v2.64h-1.61zM629.48 741.26h1.61v1.32h-1.61zM629.48 747.86h1.61v5.28h-1.61zM629.48 754.46h1.61v1.32h-1.61zM629.48 761.06h1.61v3.96h-1.61zM629.48 766.34h1.61v3.96h-1.61zM629.48 771.62h1.61v0.68h-1.61zM631.09 683.18h1.61v1.32h-1.61zM631.09 685.82h1.61v1.32h-1.61zM631.09 696.38h1.61v1.32h-1.61zM631.09 700.34h1.61v2.64h-1.61zM631.09 706.94h1.61v3.96h-1.61zM631.09 713.54h1.61v3.96h-1.61zM631.09 718.82h1.61v5.28h-1.61zM631.09 725.42h1.61v1.32h-1.61zM631.09 729.38h1.61v1.32h-1.61zM631.09 733.34h1.61v2.64h-1.61zM631.09 737.30h1.61v1.32h-1.61zM631.09 739.94h1.61v3.96h-1.61zM631.09 746.54h1.61v1.32h-1.61zM631.09 750.50h1.61v2.64h-1.61zM631.09 754.46h1.61v3.96h-1.61zM631.09 759.74h1.61v1.32h-1.61zM631.09 763.70h1.61v1.32h-1.61zM631.09 767.66h1.61v2.64h-1.61zM631.09 771.62h1.61v0.68h-1.61z" shape-rendering="crispEdges"/>
<path fill="#52a83a" d="M56.52 683.18h2.52v1.32h-2.52zM56.52 688.46h2.52v1.32h-2.52zM56.52 693.74h2.52v2.64h-2.52zM56.52 697.70h2.52v5.28h-2.52zM56.52 704.30h2.52v1.32h-2.52zM61.56 672.62h2.52v1.32h-2.52zM66.60 672.62h2.52v1.32h-2.52zM66.60 676.58h2.52v2.64h-2.52zM66.60 684.50h2.52v1.32h-2.52zM66.60 693.74h2.52v1.32h-2.52zM66.60 700.34h2.52v1.32h-2.52zM71.64 685.82h2.52v2.64h-2.52zM71.64 691.10h2.52v7.92h-2.52zM71.64 701.66h2.52v3.96h-2.52zM79.20 671.30h2.52v1.32h-2.52zM79.20 675.26h2.52v3.96h-2.52zM79.20 680.54h2.52v1.32h-2.52zM79.20 683.18h2.52v10.56h-2.52zM79.20 696.38h2.52v1.32h-2.52zM79.20 699.02h2.52v6.60h-2.52zM86.76 677.90h2.52v1.32h-2.52zM86.76 681.86h2.52v3.96h-2.52zM86.76 689.78h2.52v1.32h-2.52zM86.76 692.42h2.52v1.32h-2.52zM86.76 695.06h2.52v6.60h-2.52zM86.76 702.98h2.52v2.64h-2.52zM86.76 728.06h2.52v1.32h-2.52zM86.76 757.10h2.52v1.32h-2.52zM89.28 734.66h2.52v1.32h-2.52zM91.80 680.54h2.52v1.32h-2.52zM91.80 684.50h2.52v1.32h-2.52zM91.80 687.14h2.52v2.64h-2.52zM91.80 697.70h2.52v1.32h-2.52zM91.80 700.34h2.52v1.32h-2.52zM91.80 702.98h2.52v1.32h-2.52zM104.60 689.78h2.53v1.32h-2.53zM104.60 692.42h2.53v1.32h-2.53zM104.60 697.70h2.53v1.32h-2.53zM104.60 701.66h2.53v1.32h-2.53zM107.13 671.30h2.53v1.32h-2.53zM107.13 676.58h2.53v1.32h-2.53zM107.13 679.22h2.53v1.32h-2.53zM107.13 687.14h2.53v1.32h-2.53zM107.13 689.78h2.53v2.64h-2.53zM107.13 699.02h2.53v1.32h-2.53zM107.13 701.66h2.53v1.32h-2.53zM109.66 710.90h2.53v1.32h-2.53zM114.72 705.62h2.53v1.32h-2.53zM114.72 708.26h2.53v1.32h-2.53zM114.72 710.90h2.53v1.32h-2.53zM114.72 713.54h2.53v6.60h-2.53zM114.72 725.42h2.53v1.32h-2.53zM117.25 671.30h2.53v3.96h-2.53zM117.25 676.58h2.53v1.32h-2.53zM117.25 679.22h2.53v1.32h-2.53zM117.25 681.86h2.53v2.64h-2.53zM117.25 687.14h2.53v3.96h-2.53zM117.25 692.42h2.53v5.28h-2.53zM117.25 702.98h2.53v2.64h-2.53zM117.25 725.42h2.53v1.32h-2.53zM119.78 696.38h2.53v1.32h-2.53zM127.37 702.98h2.53v1.32h-2.53zM127.37 716.18h2.53v2.64h-2.53zM129.90 697.70h2.53v2.64h-2.53zM129.90 701.66h2.53v3.96h-2.53zM134.96 684.50h2.53v1.32h-2.53zM134.96 687.14h2.53v1.32h-2.53zM140.02 702.98h2.53v1.32h-2.53zM140.02 710.90h2.53v1.32h-2.53zM140.02 720.14h2.53v1.32h-2.53zM142.55 693.74h2.53v3.96h-2.53zM142.55 702.98h2.53v1.32h-2.53zM142.55 714.86h2.53v1.32h-2.53zM142.55 729.38h2.53v1.32h-2.53zM142.55 734.66h2.53v1.32h-2.53zM142.55 738.62h2.53v1.32h-2.53zM145.08 675.26h2.53v1.32h-2.53zM145.08 677.90h2.53v1.32h-2.53zM145.08 680.54h2.53v1.32h-2.53zM145.08 683.18h2.53v2.64h-2.53zM145.08 696.38h2.53v2.64h-2.53zM145.08 700.34h2.53v1.32h-2.53zM145.08 706.94h2.53v1.32h-2.53zM145.08 709.58h2.53v1.32h-2.53zM145.08 712.22h2.53v3.96h-2.53zM145.08 718.82h2.53v2.64h-2.53zM145.08 722.78h2.53v6.60h-2.53zM145.08 734.66h2.53v1.32h-2.53zM145.08 737.30h2.53v1.32h-2.53zM145.08 739.94h2.53v1.32h-2.53zM145.08 742.58h2.53v1.32h-2.53zM147.61 691.10h2.53v1.32h-2.53zM147.61 695.06h2.53v3.96h-2.53zM147.61 700.34h2.53v3.96h-2.53zM152.67 695.06h2.53v1.32h-2.53zM162.79 681.86h2.53v1.32h-2.53zM162.79 687.14h2.53v3.96h-2.53zM162.79 695.06h2.53v1.32h-2.53zM162.79 700.34h2.53v2.64h-2.53zM162.79 704.30h2.53v1.32h-2.53zM165.32 693.74h2.53v1.32h-2.53zM165.32 697.70h2.53v2.64h-2.53zM165.32 713.54h2.53v1.32h-2.53zM165.32 734.66h2.53v1.32h-2.53zM165.32 739.94h2.53v1.32h-2.53zM165.32 743.90h2.53v2.64h-2.53zM165.32 750.50h2.53v2.64h-2.53zM165.32 754.46h2.53v1.32h-2.53zM165.32 757.10h2.53v1.32h-2.53zM165.32 762.38h2.53v1.32h-2.53zM165.32 765.02h2.53v1.32h-2.53zM170.38 680.54h2.53v1.32h-2.53zM170.38 693.74h2.53v1.32h-2.53zM170.38 697.70h2.53v1.32h-2.53zM170.38 700.34h2.53v1.32h-2.53zM170.38 720.14h2.53v1.32h-2.53zM175.44 673.94h2.53v1.32h-2.53zM175.44 679.22h2.53v1.32h-2.53zM175.44 704.30h2.53v1.32h-2.53zM177.97 700.34h2.53v1.32h-2.53zM177.97 704.30h2.53v1.32h-2.53zM177.97 710.90h2.53v1.32h-2.53zM177.97 721.46h2.53v1.32h-2.53zM177.97 729.38h2.53v1.32h-2.53zM177.97 735.98h2.53v1.32h-2.53zM177.97 738.62h2.53v1.32h-2.53zM177.97 743.90h2.53v1.32h-2.53zM177.97 753.14h2.53v1.32h-2.53zM177.97 759.74h2.53v1.32h-2.53zM177.97 763.70h2.53v1.32h-2.53zM185.56 671.30h2.53v1.32h-2.53zM185.56 675.26h2.53v1.32h-2.53zM185.56 708.26h2.53v1.32h-2.53zM185.56 713.54h2.53v2.64h-2.53zM185.56 717.50h2.53v5.28h-2.53zM185.56 728.06h2.53v1.32h-2.53zM185.56 741.26h2.53v2.64h-2.53zM185.56 745.22h2.53v1.32h-2.53zM185.56 747.86h2.53v1.32h-2.53zM185.56 750.50h2.53v1.32h-2.53zM185.56 757.10h2.53v1.32h-2.53zM185.56 767.66h2.53v1.32h-2.53zM203.00 683.18h1.60v1.32h-1.60zM204.60 671.30h1.60v1.32h-1.60zM204.60 676.58h1.60v1.32h-1.60zM204.60 685.82h1.60v1.32h-1.60zM204.60 697.70h1.60v1.32h-1.60zM206.21 671.30h1.60v2.64h-1.60zM206.21 677.90h1.60v1.32h-1.60zM206.21 683.18h1.60v1.32h-1.60zM206.21 685.82h1.60v2.64h-1.60zM206.21 691.10h1.60v2.64h-1.60zM206.21 695.06h1.60v1.32h-1.60zM206.21 697.70h1.60v1.32h-1.60zM206.21 701.66h1.60v2.64h-1.60zM207.81 697.70h1.60v1.32h-1.60zM207.81 704.30h1.60v1.32h-1.60zM209.41 716.18h1.60v1.32h-1.60zM214.22 714.86h1.60v1.32h-1.60zM215.82 695.06h1.60v1.32h-1.60zM222.24 721.46h1.60v1.32h-1.60zM227.04 677.90h1.60v1.32h-1.60zM227.04 685.82h1.60v1.32h-1.60zM227.04 688.46h1.60v7.92h-1.60zM227.04 697.70h1.60v1.32h-1.60zM227.04 700.34h1.60v1.32h-1.60zM227.04 702.98h1.60v2.64h-1.60zM228.65 705.62h1.60v1.32h-1.60zM230.25 718.82h1.60v1.32h-1.60zM233.46 676.58h1.60v3.96h-1.60zM233.46 681.86h1.60v5.28h-1.60zM233.46 688.46h1.60v1.32h-1.60zM233.46 691.10h1.60v3.96h-1.60zM233.46 696.38h1.60v2.64h-1.60zM233.46 702.98h1.60v2.64h-1.60zM235.06 724.10h1.60v1.32h-1.60zM236.66 701.66h1.60v1.32h-1.60zM243.07 671.30h1.60v1.32h-1.60zM243.07 679.22h1.60v2.64h-1.60zM243.07 684.50h1.60v1.32h-1.60zM243.07 687.14h1.60v1.32h-1.60zM243.07 692.42h1.60v1.32h-1.60zM243.07 696.38h1.60v1.32h-1.60zM243.07 700.34h1.60v2.64h-1.60zM243.07 704.30h1.60v1.32h-1.60zM243.07 728.06h1.60v1.32h-1.60zM249.49 735.98h1.60v1.32h-1.60zM252.69 672.62h1.60v1.32h-1.60zM252.69 675.26h1.60v1.32h-1.60zM252.69 677.90h1.60v1.32h-1.60zM252.69 681.86h1.60v1.32h-1.60zM252.69 684.50h1.60v2.64h-1.60zM252.69 688.46h1.60v2.64h-1.60zM252.69 695.06h1.60v1.32h-1.60zM252.69 699.02h1.60v1.32h-1.60zM254.30 738.62h1.60v1.32h-1.60zM255.90 696.38h1.60v1.32h-1.60zM275.13 696.38h1.60v1.32h-1.60zM275.13 701.66h1.60v1.32h-1.60zM278.34 709.58h1.60v2.64h-1.60zM278.34 714.86h1.60v5.28h-1.60zM278.34 725.42h1.60v1.32h-1.60zM278.34 728.06h1.60v3.96h-1.60zM278.34 733.34h1.60v18.48h-1.60zM278.34 753.14h1.60v3.96h-1.60zM278.34 758.42h1.60v1.32h-1.60zM278.34 761.06h1.60v2.64h-1.60zM278.34 765.02h1.60v1.32h-1.60zM278.34 768.98h1.60v3.32h-1.60zM279.94 695.06h1.60v1.32h-1.60zM279.94 700.34h1.60v1.32h-1.60zM279.94 755.78h1.60v1.32h-1.60zM283.15 693.74h1.60v1.32h-1.60zM287.96 696.38h1.60v1.32h-1.60zM287.96 702.98h1.60v1.32h-1.60zM291.16 671.30h1.60v1.32h-1.60zM291.16 673.94h1.60v2.64h-1.60zM291.16 679.22h1.60v2.64h-1.60zM291.16 689.78h1.60v3.96h-1.60zM291.16 699.02h1.60v1.32h-1.60zM291.16 704.30h1.60v1.32h-1.60zM292.77 714.86h1.60v1.32h-1.60zM295.97 726.74h1.60v1.32h-1.60zM302.42 692.42h1.62v3.96h-1.62zM302.42 700.34h1.62v2.64h-1.62zM302.42 705.62h1.62v2.64h-1.62zM302.42 709.58h1.62v1.32h-1.62zM302.42 712.22h1.62v2.64h-1.62zM304.04 696.38h1.62v1.32h-1.62zM304.04 699.02h1.62v1.32h-1.62zM304.04 702.98h1.62v2.64h-1.62zM305.66 697.70h1.62v1.32h-1.62zM307.28 691.10h1.62v2.64h-1.62zM307.28 701.66h1.62v1.32h-1.62zM307.28 714.86h1.62v1.32h-1.62zM307.28 720.14h1.62v1.32h-1.62zM310.52 696.38h1.62v1.32h-1.62zM312.14 692.42h1.62v7.92h-1.62zM312.14 714.86h1.62v1.32h-1.62zM313.76 706.94h1.62v1.32h-1.62zM313.76 722.78h1.62v2.64h-1.62zM315.38 693.74h1.62v1.32h-1.62zM315.38 696.38h1.62v3.96h-1.62zM315.38 701.66h1.62v1.32h-1.62zM315.38 704.30h1.62v1.32h-1.62zM317.00 714.86h1.62v1.32h-1.62zM318.62 699.02h1.62v1.32h-1.62zM318.62 701.66h1.62v1.32h-1.62zM320.24 697.70h1.62v1.32h-1.62zM323.48 691.10h1.62v5.28h-1.62zM323.48 699.02h1.62v1.32h-1.62zM323.48 701.66h1.62v1.32h-1.62zM323.48 704.30h1.62v1.32h-1.62zM325.10 717.50h1.62v1.32h-1.62zM325.10 722.78h1.62v2.64h-1.62zM325.10 729.38h1.62v1.32h-1.62zM325.10 733.34h1.62v1.32h-1.62zM325.10 742.58h1.62v1.32h-1.62zM325.10 751.82h1.62v1.32h-1.62zM326.72 706.94h1.62v1.32h-1.62zM326.72 739.94h1.62v1.32h-1.62zM328.34 700.34h1.62v1.32h-1.62zM328.34 704.30h1.62v1.32h-1.62zM331.58 706.94h1.62v1.32h-1.62zM331.58 710.90h1.62v1.32h-1.62zM331.58 725.42h1.62v2.64h-1.62zM331.58 733.34h1.62v1.32h-1.62zM331.58 742.58h1.62v1.32h-1.62zM331.58 749.18h1.62v1.32h-1.62zM331.58 762.38h1.62v1.32h-1.62zM331.58 766.34h1.62v1.32h-1.62zM333.20 689.78h1.62v3.96h-1.62zM333.20 695.06h1.62v7.92h-1.62zM333.20 704.30h1.62v1.32h-1.62zM333.20 758.42h1.62v1.32h-1.62zM334.82 696.38h1.62v1.32h-1.62zM334.82 702.98h1.62v2.64h-1.62zM334.82 755.78h1.62v1.32h-1.62zM334.82 761.06h1.62v1.32h-1.62zM350.60 693.74h3.10v10.56h-3.10zM350.60 714.86h3.10v1.32h-3.10zM350.60 717.50h3.10v1.32h-3.10zM350.60 730.70h3.10v1.32h-3.10zM350.60 733.34h3.10v1.32h-3.10zM350.60 739.94h3.10v1.32h-3.10zM353.90 732.02h3.30v1.32h-3.30zM353.90 757.10h3.30v1.32h-3.30zM360.00 693.74h3.20v1.32h-3.20zM360.00 713.54h3.20v1.32h-3.20zM363.20 672.62h3.20v1.32h-3.20zM363.20 695.06h3.20v1.32h-3.20zM363.20 697.70h3.20v1.32h-3.20zM363.20 702.98h3.20v1.32h-3.20zM363.20 708.26h3.20v1.32h-3.20zM363.20 716.18h3.20v1.32h-3.20zM366.40 681.86h3.20v2.64h-3.20zM366.40 687.14h3.20v2.64h-3.20zM366.40 691.10h3.20v5.28h-3.20zM366.40 697.70h3.20v1.32h-3.20zM366.40 701.66h3.20v5.28h-3.20zM366.40 708.26h3.20v2.64h-3.20zM366.40 712.22h3.20v2.64h-3.20zM366.40 716.18h3.20v2.64h-3.20zM369.60 673.94h3.20v1.32h-3.20zM369.60 683.18h3.20v1.32h-3.20zM369.60 685.82h3.20v1.32h-3.20zM369.60 701.66h3.20v1.32h-3.20zM369.60 706.94h3.20v2.64h-3.20zM369.60 716.18h3.20v2.64h-3.20zM369.60 722.78h3.20v1.32h-3.20zM372.80 672.62h3.20v2.64h-3.20zM372.80 676.58h3.20v3.96h-3.20zM372.80 681.86h3.20v5.28h-3.20zM372.80 688.46h3.20v2.64h-3.20zM372.80 693.74h3.20v2.64h-3.20zM372.80 697.70h3.20v3.96h-3.20zM372.80 702.98h3.20v5.28h-3.20zM372.80 712.22h3.20v1.32h-3.20zM372.80 716.18h3.20v2.64h-3.20zM372.80 722.78h3.20v1.32h-3.20zM376.00 676.58h3.20v1.32h-3.20zM376.00 695.06h3.20v1.32h-3.20zM376.00 697.70h3.20v2.64h-3.20zM376.00 712.22h3.20v1.32h-3.20zM376.00 718.82h3.20v1.32h-3.20zM376.00 725.42h3.20v1.32h-3.20zM376.00 729.38h3.20v1.32h-3.20zM379.20 671.30h3.20v2.64h-3.20zM379.20 677.90h3.20v9.24h-3.20zM379.20 692.42h3.20v1.32h-3.20zM379.20 696.38h3.20v9.24h-3.20zM379.20 706.94h3.20v6.60h-3.20zM379.20 714.86h3.20v2.64h-3.20zM379.20 718.82h3.20v5.28h-3.20zM379.20 725.42h3.20v1.32h-3.20zM379.20 728.06h3.20v2.64h-3.20zM382.40 671.30h3.20v2.64h-3.20zM382.40 675.26h3.20v2.64h-3.20zM382.40 679.22h3.20v2.64h-3.20zM382.40 684.50h3.20v7.92h-3.20zM382.40 695.06h3.20v5.28h-3.20zM382.40 702.98h3.20v2.64h-3.20zM382.40 712.22h3.20v1.32h-3.20zM382.40 717.50h3.20v1.32h-3.20zM382.40 720.14h3.20v1.32h-3.20zM382.40 732.02h3.20v1.32h-3.20zM385.60 673.94h3.20v2.64h-3.20zM385.60 677.90h3.20v2.64h-3.20zM385.60 681.86h3.20v3.96h-3.20zM385.60 688.46h3.20v5.28h-3.20zM385.60 696.38h3.20v1.32h-3.20zM385.60 699.02h3.20v1.32h-3.20zM385.60 701.66h3.20v2.64h-3.20zM388.80 695.06h3.20v2.64h-3.20zM388.80 699.02h3.20v1.32h-3.20zM388.80 702.98h3.20v2.64h-3.20zM388.80 706.94h3.20v1.32h-3.20zM388.80 710.90h3.20v2.64h-3.20zM388.80 714.86h3.20v1.32h-3.20zM388.80 721.46h3.20v1.32h-3.20zM388.80 724.10h3.20v2.64h-3.20zM388.80 729.38h3.20v2.64h-3.20zM388.80 734.66h3.20v3.96h-3.20zM392.00 671.30h3.20v3.96h-3.20zM392.00 679.22h3.20v1.32h-3.20zM392.00 683.18h3.20v1.32h-3.20zM392.00 685.82h3.20v1.32h-3.20zM392.00 688.46h3.20v1.32h-3.20zM392.00 692.42h3.20v2.64h-3.20zM392.00 696.38h3.20v5.28h-3.20zM392.00 702.98h3.20v6.60h-3.20zM392.00 710.90h3.20v6.60h-3.20zM392.00 718.82h3.20v2.64h-3.20zM392.00 724.10h3.20v5.28h-3.20zM392.00 730.70h3.20v1.32h-3.20zM392.00 733.34h3.20v1.32h-3.20zM392.00 735.98h3.20v2.64h-3.20zM395.20 695.06h3.20v5.28h-3.20zM395.20 704.30h3.20v2.64h-3.20zM395.20 708.26h3.20v5.28h-3.20zM395.20 714.86h3.20v1.32h-3.20zM395.20 717.50h3.20v1.32h-3.20zM395.20 721.46h3.20v2.64h-3.20zM395.20 728.06h3.20v3.96h-3.20zM395.20 733.34h3.20v1.32h-3.20zM395.20 735.98h3.20v5.28h-3.20zM398.40 695.06h3.20v1.32h-3.20zM398.40 702.98h3.20v2.64h-3.20zM398.40 709.58h3.20v2.64h-3.20zM398.40 713.54h3.20v3.96h-3.20zM398.40 718.82h3.20v2.64h-3.20zM398.40 722.78h3.20v6.60h-3.20zM398.40 730.70h3.20v1.32h-3.20zM398.40 733.34h3.20v2.64h-3.20zM398.40 737.30h3.20v5.28h-3.20zM401.60 679.22h3.20v3.96h-3.20zM401.60 685.82h3.20v1.32h-3.20zM401.60 688.46h3.20v2.64h-3.20zM401.60 693.74h3.20v1.32h-3.20zM401.60 696.38h3.20v3.96h-3.20zM401.60 704.30h3.20v7.92h-3.20zM401.60 713.54h3.20v2.64h-3.20zM401.60 717.50h3.20v2.64h-3.20zM401.60 722.78h3.20v5.28h-3.20zM401.60 730.70h3.20v1.32h-3.20zM401.60 735.98h3.20v3.96h-3.20zM401.60 741.26h3.20v2.64h-3.20zM404.80 705.62h3.20v3.96h-3.20zM404.80 710.90h3.20v1.32h-3.20zM404.80 713.54h3.20v3.96h-3.20zM404.80 718.82h3.20v1.32h-3.20zM404.80 721.46h3.20v3.96h-3.20zM404.80 726.74h3.20v3.96h-3.20zM404.80 734.66h3.20v3.96h-3.20zM408.00 671.30h3.20v2.64h-3.20zM408.00 675.26h3.20v2.64h-3.20zM408.00 679.22h3.20v3.96h-3.20zM408.00 685.82h3.20v9.24h-3.20zM408.00 696.38h3.20v3.96h-3.20zM408.00 701.66h3.20v3.96h-3.20zM408.00 712.22h3.20v1.32h-3.20zM408.00 716.18h3.20v1.32h-3.20zM408.00 720.14h3.20v1.32h-3.20zM408.00 724.10h3.20v1.32h-3.20zM408.00 728.06h3.20v1.32h-3.20zM408.00 738.62h3.20v1.32h-3.20zM408.00 743.90h3.20v1.32h-3.20zM411.20 673.94h3.20v1.32h-3.20zM411.20 676.58h3.20v3.96h-3.20zM411.20 688.46h3.20v2.64h-3.20zM411.20 692.42h3.20v3.96h-3.20zM411.20 697.70h3.20v3.96h-3.20zM411.20 702.98h3.20v2.64h-3.20zM411.20 708.26h3.20v1.32h-3.20zM411.20 720.14h3.20v3.96h-3.20zM411.20 726.74h3.20v1.32h-3.20zM411.20 729.38h3.20v1.32h-3.20zM411.20 733.34h3.20v2.64h-3.20zM411.20 737.30h3.20v1.32h-3.20zM414.40 671.30h3.20v1.32h-3.20zM414.40 673.94h3.20v7.92h-3.20zM414.40 685.82h3.20v1.32h-3.20zM414.40 692.42h3.20v1.32h-3.20zM414.40 697.70h3.20v2.64h-3.20zM414.40 706.94h3.20v5.28h-3.20zM414.40 714.86h3.20v2.64h-3.20zM414.40 721.46h3.20v1.32h-3.20zM414.40 724.10h3.20v1.32h-3.20zM414.40 728.06h3.20v1.32h-3.20zM414.40 730.70h3.20v2.64h-3.20zM414.40 737.30h3.20v2.64h-3.20zM414.40 741.26h3.20v1.32h-3.20zM414.40 745.22h3.20v1.32h-3.20zM417.60 671.30h3.20v1.32h-3.20zM417.60 675.26h3.20v5.28h-3.20zM417.60 683.18h3.20v1.32h-3.20zM417.60 687.14h3.20v2.64h-3.20zM417.60 696.38h3.20v6.60h-3.20zM417.60 704.30h3.20v1.32h-3.20zM417.60 706.94h3.20v1.32h-3.20zM417.60 709.58h3.20v6.60h-3.20zM417.60 717.50h3.20v5.28h-3.20zM417.60 724.10h3.20v3.96h-3.20zM417.60 729.38h3.20v2.64h-3.20zM417.60 733.34h3.20v6.60h-3.20zM417.60 745.22h3.20v3.96h-3.20zM420.80 676.58h3.20v5.28h-3.20zM420.80 684.50h3.20v1.32h-3.20zM420.80 687.14h3.20v1.32h-3.20zM420.80 693.74h3.20v2.64h-3.20zM420.80 705.62h3.20v6.60h-3.20zM420.80 714.86h3.20v11.88h-3.20zM420.80 728.06h3.20v2.64h-3.20zM420.80 733.34h3.20v10.56h-3.20zM420.80 746.54h3.20v9.24h-3.20zM424.00 696.38h3.20v2.64h-3.20zM424.00 702.98h3.20v3.96h-3.20zM424.00 709.58h3.20v1.32h-3.20zM424.00 729.38h3.20v1.32h-3.20zM424.00 735.98h3.20v1.32h-3.20zM424.00 739.94h3.20v1.32h-3.20zM424.00 743.90h3.20v2.64h-3.20zM427.20 671.30h3.20v2.64h-3.20zM427.20 675.26h3.20v3.96h-3.20zM427.20 680.54h3.20v2.64h-3.20zM427.20 684.50h3.20v5.28h-3.20zM427.20 691.10h3.20v9.24h-3.20zM427.20 701.66h3.20v3.96h-3.20zM427.20 742.58h3.20v1.32h-3.20zM427.20 751.82h3.20v2.64h-3.20zM427.20 759.74h3.20v1.32h-3.20zM430.40 688.46h3.20v2.64h-3.20zM430.40 692.42h3.20v3.96h-3.20zM430.40 697.70h3.20v3.96h-3.20zM430.40 702.98h3.20v1.32h-3.20zM430.40 706.94h3.20v1.32h-3.20zM430.40 710.90h3.20v1.32h-3.20zM430.40 716.18h3.20v1.32h-3.20zM430.40 721.46h3.20v1.32h-3.20zM430.40 725.42h3.20v1.32h-3.20zM430.40 733.34h3.20v1.32h-3.20zM430.40 737.30h3.20v1.32h-3.20zM430.40 745.22h3.20v1.32h-3.20zM430.40 751.82h3.20v1.32h-3.20zM430.40 755.78h3.20v1.32h-3.20zM430.40 761.06h3.20v1.32h-3.20zM433.60 673.94h3.20v2.64h-3.20zM433.60 680.54h3.20v1.32h-3.20zM433.60 683.18h3.20v5.28h-3.20zM433.60 692.42h3.20v13.20h-3.20zM433.60 706.94h3.20v1.32h-3.20zM433.60 714.86h3.20v3.96h-3.20zM433.60 732.02h3.20v1.32h-3.20zM433.60 741.26h3.20v1.32h-3.20zM433.60 743.90h3.20v1.32h-3.20zM433.60 749.18h3.20v1.32h-3.20zM433.60 757.10h3.20v1.32h-3.20zM433.60 762.38h3.20v1.32h-3.20zM433.60 765.02h3.20v1.32h-3.20zM436.80 688.46h3.20v1.32h-3.20zM436.80 691.10h3.20v5.28h-3.20zM436.80 697.70h3.20v1.32h-3.20zM436.80 700.34h3.20v5.28h-3.20zM436.80 725.42h3.20v1.32h-3.20zM436.80 755.78h3.20v2.64h-3.20zM436.80 765.02h3.20v1.32h-3.20zM436.80 768.98h3.20v2.64h-3.20zM440.00 673.94h3.20v2.64h-3.20zM440.00 677.90h3.20v2.64h-3.20zM440.00 683.18h3.20v2.64h-3.20zM440.00 689.78h3.20v2.64h-3.20zM440.00 693.74h3.20v5.28h-3.20zM440.00 700.34h3.20v2.64h-3.20zM440.00 704.30h3.20v1.32h-3.20zM440.00 714.86h3.20v1.32h-3.20zM440.00 734.66h3.20v1.32h-3.20zM440.00 737.30h3.20v1.32h-3.20zM440.00 750.50h3.20v1.32h-3.20zM440.00 754.46h3.20v2.64h-3.20zM440.00 766.34h3.20v1.32h-3.20zM443.20 671.30h3.20v1.32h-3.20zM443.20 675.26h3.20v2.64h-3.20zM443.20 680.54h3.20v1.32h-3.20zM443.20 685.82h3.20v1.32h-3.20zM443.20 691.10h3.20v1.32h-3.20zM443.20 693.74h3.20v2.64h-3.20zM443.20 699.02h3.20v1.32h-3.20zM443.20 705.62h3.20v1.32h-3.20zM443.20 713.54h3.20v1.32h-3.20zM443.20 716.18h3.20v3.96h-3.20zM443.20 722.78h3.20v5.28h-3.20zM443.20 732.02h3.20v1.32h-3.20zM443.20 734.66h3.20v3.96h-3.20zM443.20 739.94h3.20v2.64h-3.20zM443.20 743.90h3.20v1.32h-3.20zM443.20 746.54h3.20v5.28h-3.20zM443.20 753.14h3.20v1.32h-3.20zM443.20 755.78h3.20v1.32h-3.20zM443.20 759.74h3.20v1.32h-3.20zM443.20 762.38h3.20v1.32h-3.20zM443.20 766.34h3.20v5.28h-3.20zM446.40 671.30h3.20v1.32h-3.20zM446.40 673.94h3.20v1.32h-3.20zM446.40 679.22h3.20v2.64h-3.20zM446.40 683.18h3.20v7.92h-3.20zM446.40 693.74h3.20v5.28h-3.20zM446.40 700.34h3.20v1.32h-3.20zM446.40 704.30h3.20v1.32h-3.20zM446.40 708.26h3.20v2.64h-3.20zM446.40 724.10h3.20v1.32h-3.20zM446.40 728.06h3.20v2.64h-3.20zM446.40 738.62h3.20v1.32h-3.20zM446.40 745.22h3.20v1.32h-3.20zM446.40 762.38h3.20v3.96h-3.20zM446.40 768.98h3.20v1.32h-3.20zM446.40 771.62h3.20v0.68h-3.20zM449.60 672.62h3.20v5.28h-3.20zM449.60 679.22h3.20v2.64h-3.20zM449.60 683.18h3.20v6.60h-3.20zM449.60 691.10h3.20v2.64h-3.20zM449.60 695.06h3.20v9.24h-3.20zM449.60 712.22h3.20v1.32h-3.20zM449.60 720.14h3.20v1.32h-3.20zM449.60 725.42h3.20v1.32h-3.20zM452.80 695.06h3.20v5.28h-3.20zM452.80 702.98h3.20v6.60h-3.20zM452.80 712.22h3.20v2.64h-3.20zM452.80 716.18h3.20v1.32h-3.20zM452.80 718.82h3.20v2.64h-3.20zM452.80 722.78h3.20v1.32h-3.20zM452.80 725.42h3.20v1.32h-3.20zM452.80 728.06h3.20v5.28h-3.20zM452.80 734.66h3.20v3.96h-3.20zM452.80 739.94h3.20v1.32h-3.20zM452.80 745.22h3.20v7.92h-3.20zM452.80 755.78h3.20v2.64h-3.20zM452.80 759.74h3.20v3.96h-3.20zM452.80 768.98h3.20v2.64h-3.20zM456.00 693.74h3.20v1.32h-3.20zM456.00 696.38h3.20v3.96h-3.20zM456.00 701.66h3.20v3.96h-3.20zM456.00 714.86h3.20v1.32h-3.20zM456.00 745.22h3.20v1.32h-3.20zM456.00 763.70h3.20v2.64h-3.20zM459.20 671.30h3.20v2.64h-3.20zM459.20 675.26h3.20v1.32h-3.20zM459.20 677.90h3.20v1.32h-3.20zM459.20 685.82h3.20v2.64h-3.20zM459.20 696.38h3.20v1.32h-3.20zM459.20 699.02h3.20v2.64h-3.20zM459.20 702.98h3.20v2.64h-3.20zM459.20 708.26h3.20v1.32h-3.20zM459.20 710.90h3.20v1.32h-3.20zM459.20 714.86h3.20v2.64h-3.20zM459.20 718.82h3.20v1.32h-3.20zM459.20 722.78h3.20v1.32h-3.20zM459.20 725.42h3.20v1.32h-3.20zM459.20 729.38h3.20v1.32h-3.20zM459.20 735.98h3.20v1.32h-3.20zM459.20 739.94h3.20v2.64h-3.20zM459.20 745.22h3.20v1.32h-3.20zM459.20 747.86h3.20v1.32h-3.20zM459.20 750.50h3.20v1.32h-3.20zM459.20 753.14h3.20v1.32h-3.20zM459.20 759.74h3.20v1.32h-3.20zM459.20 771.62h3.20v0.68h-3.20zM462.40 671.30h3.20v5.28h-3.20zM462.40 677.90h3.20v7.92h-3.20zM462.40 689.78h3.20v3.96h-3.20zM462.40 702.98h3.20v2.64h-3.20zM462.40 706.94h3.20v1.32h-3.20zM462.40 709.58h3.20v3.96h-3.20zM462.40 717.50h3.20v1.32h-3.20zM462.40 720.14h3.20v3.96h-3.20zM462.40 728.06h3.20v2.64h-3.20zM462.40 732.02h3.20v1.32h-3.20zM462.40 734.66h3.20v1.32h-3.20zM462.40 737.30h3.20v1.32h-3.20zM462.40 741.26h3.20v7.92h-3.20zM462.40 750.50h3.20v3.96h-3.20zM462.40 759.74h3.20v2.64h-3.20zM462.40 763.70h3.20v1.32h-3.20zM462.40 766.34h3.20v1.32h-3.20zM462.40 770.30h3.20v1.32h-3.20zM465.60 680.54h3.20v2.64h-3.20zM465.60 684.50h3.20v1.32h-3.20zM465.60 687.14h3.20v1.32h-3.20zM465.60 689.78h3.20v5.28h-3.20zM465.60 696.38h3.20v6.60h-3.20zM465.60 712.22h3.20v1.32h-3.20zM465.60 722.78h3.20v1.32h-3.20zM465.60 726.74h3.20v1.32h-3.20zM465.60 739.94h3.20v1.32h-3.20zM465.60 742.58h3.20v1.32h-3.20zM465.60 749.18h3.20v1.32h-3.20zM465.60 751.82h3.20v1.32h-3.20zM465.60 766.34h3.20v3.96h-3.20zM468.80 700.34h3.20v3.96h-3.20zM468.80 709.58h3.20v1.32h-3.20zM468.80 714.86h3.20v1.32h-3.20zM468.80 722.78h3.20v1.32h-3.20zM472.00 699.02h3.20v6.60h-3.20zM472.00 717.50h3.20v1.32h-3.20zM472.00 737.30h3.20v1.32h-3.20zM475.20 712.22h3.20v2.64h-3.20zM475.20 716.18h3.20v1.32h-3.20zM475.20 720.14h3.20v1.32h-3.20zM475.20 722.78h3.20v7.92h-3.20zM475.20 732.02h3.20v1.32h-3.20zM475.20 735.98h3.20v2.64h-3.20zM475.20 739.94h3.20v9.24h-3.20zM475.20 750.50h3.20v1.32h-3.20zM475.20 753.14h3.20v6.60h-3.20zM475.20 761.06h3.20v1.32h-3.20zM475.20 763.70h3.20v2.64h-3.20zM475.20 767.66h3.20v1.32h-3.20zM475.20 770.30h3.20v2.00h-3.20zM478.40 709.58h3.20v1.32h-3.20zM478.40 747.86h3.20v1.32h-3.20zM478.40 750.50h3.20v1.32h-3.20zM478.40 753.14h3.20v1.32h-3.20zM481.60 671.30h3.20v2.64h-3.20zM481.60 675.26h3.20v1.32h-3.20zM481.60 679.22h3.20v5.28h-3.20zM481.60 688.46h3.20v2.64h-3.20zM481.60 692.42h3.20v1.32h-3.20zM481.60 695.06h3.20v1.32h-3.20zM481.60 697.70h3.20v1.32h-3.20zM481.60 700.34h3.20v5.28h-3.20zM481.60 763.70h3.20v1.32h-3.20zM503.44 702.98h1.58v1.32h-1.58zM505.02 704.30h1.58v5.28h-1.58zM505.02 710.90h1.58v3.96h-1.58zM506.60 709.58h1.58v1.32h-1.58zM508.18 677.90h1.58v1.32h-1.58zM509.76 706.94h1.58v1.32h-1.58zM509.76 717.50h1.58v1.32h-1.58zM511.34 705.62h1.58v2.64h-1.58zM511.34 709.58h1.58v1.32h-1.58zM511.34 713.54h1.58v1.32h-1.58zM511.34 718.82h1.58v1.32h-1.58zM514.50 710.90h1.58v1.32h-1.58zM519.24 673.94h1.58v1.32h-1.58zM519.24 718.82h1.58v1.32h-1.58zM519.24 722.78h1.58v1.32h-1.58zM522.40 739.94h1.58v1.32h-1.58zM525.56 689.78h1.58v1.32h-1.58zM525.56 692.42h1.58v1.32h-1.58zM525.56 695.06h1.58v2.64h-1.58zM525.56 702.98h1.58v1.32h-1.58zM527.14 699.02h1.58v1.32h-1.58zM527.14 717.50h1.58v1.32h-1.58zM528.72 684.50h1.58v1.32h-1.58zM528.72 696.38h1.58v1.32h-1.58zM530.30 706.94h1.58v1.32h-1.58zM531.88 706.94h1.58v1.32h-1.58zM531.88 709.58h1.58v2.64h-1.58zM531.88 714.86h1.58v3.96h-1.58zM531.88 724.10h1.58v2.64h-1.58zM531.88 728.06h1.58v1.32h-1.58zM531.88 732.02h1.58v1.32h-1.58zM531.88 735.98h1.58v2.64h-1.58zM531.88 739.94h1.58v1.32h-1.58zM531.88 742.58h1.58v1.32h-1.58zM531.88 745.22h1.58v2.64h-1.58zM531.88 749.18h1.58v3.96h-1.58zM531.88 754.46h1.58v1.32h-1.58zM531.88 757.10h1.58v2.64h-1.58zM531.88 761.06h1.58v3.96h-1.58zM531.88 766.34h1.58v1.32h-1.58zM531.88 768.98h1.58v1.32h-1.58zM533.46 710.90h1.58v1.32h-1.58zM536.62 722.78h1.58v1.32h-1.58zM536.62 726.74h1.58v2.64h-1.58zM536.62 732.02h1.58v3.96h-1.58zM536.62 749.18h1.58v1.32h-1.58zM536.62 753.14h1.58v1.32h-1.58zM536.62 758.42h1.58v1.32h-1.58zM536.62 763.70h1.58v1.32h-1.58zM539.78 696.38h1.58v1.32h-1.58zM541.36 708.26h1.58v1.32h-1.58zM541.36 712.22h1.58v2.64h-1.58zM541.36 716.18h1.58v1.32h-1.58zM541.36 738.62h1.58v1.32h-1.58zM541.36 754.46h1.58v1.32h-1.58zM541.36 766.34h1.58v1.32h-1.58zM544.52 687.14h1.58v1.32h-1.58zM546.10 710.90h1.58v1.32h-1.58zM546.10 718.82h1.58v1.32h-1.58zM546.10 721.46h1.58v2.64h-1.58zM546.10 730.70h1.58v1.32h-1.58zM546.10 741.26h1.58v1.32h-1.58zM546.10 754.46h1.58v1.32h-1.58zM546.10 758.42h1.58v1.32h-1.58zM546.10 762.38h1.58v1.32h-1.58zM547.68 696.38h1.58v1.32h-1.58zM552.20 681.86h1.61v2.64h-1.61zM552.20 692.42h1.61v1.32h-1.61zM552.20 695.06h1.61v1.32h-1.61zM552.20 700.34h1.61v1.32h-1.61zM552.20 709.58h1.61v2.64h-1.61zM553.81 695.06h1.61v2.64h-1.61zM553.81 708.26h1.61v6.60h-1.61zM555.42 691.10h1.61v1.32h-1.61zM555.42 705.62h1.61v7.92h-1.61zM555.42 714.86h1.61v1.32h-1.61zM557.03 693.74h1.61v1.32h-1.61zM557.03 712.22h1.61v1.32h-1.61zM558.64 671.30h1.61v1.32h-1.61zM558.64 676.58h1.61v2.64h-1.61zM558.64 680.54h1.61v2.64h-1.61zM558.64 684.50h1.61v1.32h-1.61zM558.64 692.42h1.61v1.32h-1.61zM558.64 701.66h1.61v1.32h-1.61zM558.64 714.86h1.61v1.32h-1.61zM560.25 677.90h1.61v2.64h-1.61zM560.25 695.06h1.61v1.32h-1.61zM560.25 716.18h1.61v1.32h-1.61zM561.86 676.58h1.61v10.56h-1.61zM561.86 688.46h1.61v2.64h-1.61zM561.86 693.74h1.61v3.96h-1.61zM561.86 700.34h1.61v1.32h-1.61zM561.86 702.98h1.61v1.32h-1.61zM561.86 705.62h1.61v1.32h-1.61zM561.86 709.58h1.61v2.64h-1.61zM561.86 713.54h1.61v1.32h-1.61zM561.86 716.18h1.61v2.64h-1.61zM563.47 680.54h1.61v3.96h-1.61zM563.47 689.78h1.61v2.64h-1.61zM565.08 693.74h1.61v1.32h-1.61zM565.08 696.38h1.61v2.64h-1.61zM565.08 700.34h1.61v1.32h-1.61zM565.08 702.98h1.61v2.64h-1.61zM565.08 720.14h1.61v1.32h-1.61zM566.69 692.42h1.61v5.28h-1.61zM566.69 705.62h1.61v6.60h-1.61zM566.69 713.54h1.61v1.32h-1.61zM566.69 716.18h1.61v1.32h-1.61zM566.69 718.82h1.61v5.28h-1.61zM568.30 693.74h1.61v14.52h-1.61zM568.30 710.90h1.61v6.60h-1.61zM568.30 718.82h1.61v3.96h-1.61zM569.91 671.30h1.61v1.32h-1.61zM569.91 673.94h1.61v1.32h-1.61zM569.91 676.58h1.61v3.96h-1.61zM569.91 685.82h1.61v5.28h-1.61zM569.91 692.42h1.61v2.64h-1.61zM569.91 697.70h1.61v3.96h-1.61zM569.91 702.98h1.61v1.32h-1.61zM569.91 705.62h1.61v3.96h-1.61zM569.91 713.54h1.61v6.60h-1.61zM569.91 721.46h1.61v3.96h-1.61zM569.91 726.74h1.61v1.32h-1.61zM571.52 706.94h1.61v3.96h-1.61zM571.52 712.22h1.61v2.64h-1.61zM571.52 716.18h1.61v3.96h-1.61zM571.52 722.78h1.61v2.64h-1.61zM573.13 705.62h1.61v1.32h-1.61zM573.13 709.58h1.61v7.92h-1.61zM573.13 721.46h1.61v1.32h-1.61zM573.13 725.42h1.61v3.96h-1.61zM574.74 691.10h1.61v1.32h-1.61zM574.74 693.74h1.61v3.96h-1.61zM574.74 699.02h1.61v2.64h-1.61zM574.74 702.98h1.61v1.32h-1.61zM574.74 706.94h1.61v1.32h-1.61zM574.74 709.58h1.61v11.88h-1.61zM574.74 722.78h1.61v1.32h-1.61zM574.74 725.42h1.61v1.32h-1.61zM574.74 728.06h1.61v2.64h-1.61zM576.35 691.10h1.61v2.64h-1.61zM576.35 696.38h1.61v1.32h-1.61zM576.35 699.02h1.61v3.96h-1.61zM576.35 704.30h1.61v1.32h-1.61zM576.35 706.94h1.61v1.32h-1.61zM576.35 710.90h1.61v3.96h-1.61zM576.35 716.18h1.61v5.28h-1.61zM576.35 724.10h1.61v2.64h-1.61zM576.35 729.38h1.61v1.32h-1.61zM577.96 671.30h1.61v2.64h-1.61zM577.96 676.58h1.61v2.64h-1.61zM577.96 681.86h1.61v2.64h-1.61zM577.96 685.82h1.61v6.60h-1.61zM577.96 696.38h1.61v2.64h-1.61zM577.96 700.34h1.61v3.96h-1.61zM577.96 712.22h1.61v1.32h-1.61zM577.96 718.82h1.61v1.32h-1.61zM579.57 704.30h1.61v2.64h-1.61zM579.57 709.58h1.61v2.64h-1.61zM579.57 713.54h1.61v1.32h-1.61zM579.57 720.14h1.61v3.96h-1.61zM579.57 725.42h1.61v2.64h-1.61zM579.57 730.70h1.61v1.32h-1.61zM581.18 681.86h1.61v1.32h-1.61zM581.18 684.50h1.61v1.32h-1.61zM581.18 687.14h1.61v2.64h-1.61zM581.18 691.10h1.61v3.96h-1.61zM581.18 696.38h1.61v7.92h-1.61zM581.18 709.58h1.61v1.32h-1.61zM581.18 712.22h1.61v2.64h-1.61zM581.18 717.50h1.61v6.60h-1.61zM581.18 725.42h1.61v2.64h-1.61zM581.18 729.38h1.61v3.96h-1.61zM582.79 688.46h1.61v1.32h-1.61zM582.79 691.10h1.61v2.64h-1.61zM582.79 695.06h1.61v2.64h-1.61zM582.79 700.34h1.61v1.32h-1.61zM584.40 699.02h1.61v1.32h-1.61zM584.40 701.66h1.61v1.32h-1.61zM584.40 705.62h1.61v1.32h-1.61zM584.40 708.26h1.61v3.96h-1.61zM584.40 714.86h1.61v5.28h-1.61zM584.40 722.78h1.61v2.64h-1.61zM584.40 728.06h1.61v1.32h-1.61zM584.40 730.70h1.61v2.64h-1.61zM584.40 734.66h1.61v1.32h-1.61zM586.01 700.34h1.61v1.32h-1.61zM586.01 706.94h1.61v3.96h-1.61zM586.01 712.22h1.61v3.96h-1.61zM586.01 717.50h1.61v2.64h-1.61zM586.01 721.46h1.61v2.64h-1.61zM586.01 729.38h1.61v3.96h-1.61zM586.01 734.66h1.61v2.64h-1.61zM587.62 695.06h1.61v3.96h-1.61zM587.62 700.34h1.61v1.32h-1.61zM587.62 702.98h1.61v2.64h-1.61zM587.62 709.58h1.61v1.32h-1.61zM587.62 712.22h1.61v1.32h-1.61zM587.62 714.86h1.61v2.64h-1.61zM587.62 728.06h1.61v1.32h-1.61zM587.62 730.70h1.61v1.32h-1.61zM587.62 733.34h1.61v1.32h-1.61zM589.23 671.30h1.61v1.32h-1.61zM589.23 675.26h1.61v1.32h-1.61zM589.23 681.86h1.61v1.32h-1.61zM589.23 689.78h1.61v2.64h-1.61zM589.23 693.74h1.61v1.32h-1.61zM589.23 696.38h1.61v1.32h-1.61zM589.23 705.62h1.61v1.32h-1.61zM589.23 708.26h1.61v6.60h-1.61zM589.23 716.18h1.61v2.64h-1.61zM589.23 720.14h1.61v3.96h-1.61zM589.23 725.42h1.61v2.64h-1.61zM589.23 729.38h1.61v10.56h-1.61zM590.84 683.18h1.61v1.32h-1.61zM590.84 685.82h1.61v1.32h-1.61zM590.84 688.46h1.61v2.64h-1.61zM590.84 692.42h1.61v3.96h-1.61zM590.84 697.70h1.61v2.64h-1.61zM590.84 701.66h1.61v1.32h-1.61zM590.84 704.30h1.61v1.32h-1.61zM590.84 706.94h1.61v1.32h-1.61zM590.84 712.22h1.61v1.32h-1.61zM590.84 726.74h1.61v1.32h-1.61zM590.84 739.94h1.61v1.32h-1.61zM592.45 688.46h1.61v1.32h-1.61zM592.45 695.06h1.61v2.64h-1.61zM592.45 700.34h1.61v2.64h-1.61zM592.45 704.30h1.61v1.32h-1.61zM592.45 706.94h1.61v2.64h-1.61zM592.45 714.86h1.61v9.24h-1.61zM592.45 726.74h1.61v3.96h-1.61zM592.45 732.02h1.61v2.64h-1.61zM592.45 735.98h1.61v1.32h-1.61zM592.45 738.62h1.61v2.64h-1.61zM592.45 742.58h1.61v1.32h-1.61zM592.45 745.22h1.61v2.64h-1.61zM594.06 687.14h1.61v1.32h-1.61zM594.06 701.66h1.61v1.32h-1.61zM594.06 704.30h1.61v1.32h-1.61zM594.06 709.58h1.61v3.96h-1.61zM594.06 717.50h1.61v1.32h-1.61zM594.06 725.42h1.61v1.32h-1.61zM594.06 733.34h1.61v1.32h-1.61zM594.06 742.58h1.61v1.32h-1.61zM594.06 745.22h1.61v1.32h-1.61zM595.67 708.26h1.61v1.32h-1.61zM595.67 714.86h1.61v1.32h-1.61zM595.67 717.50h1.61v2.64h-1.61zM595.67 726.74h1.61v1.32h-1.61zM595.67 729.38h1.61v1.32h-1.61zM595.67 732.02h1.61v1.32h-1.61zM595.67 734.66h1.61v3.96h-1.61zM595.67 741.26h1.61v1.32h-1.61zM597.28 680.54h1.61v2.64h-1.61zM597.28 684.50h1.61v2.64h-1.61zM597.28 688.46h1.61v1.32h-1.61zM597.28 692.42h1.61v1.32h-1.61zM597.28 695.06h1.61v2.64h-1.61zM597.28 699.02h1.61v2.64h-1.61zM597.28 704.30h1.61v2.64h-1.61zM597.28 708.26h1.61v2.64h-1.61zM597.28 713.54h1.61v1.32h-1.61zM597.28 716.18h1.61v3.96h-1.61zM597.28 721.46h1.61v1.32h-1.61zM597.28 724.10h1.61v1.32h-1.61zM597.28 726.74h1.61v2.64h-1.61zM597.28 730.70h1.61v2.64h-1.61zM597.28 737.30h1.61v2.64h-1.61zM597.28 743.90h1.61v1.32h-1.61zM597.28 749.18h1.61v2.64h-1.61zM598.89 689.78h1.61v1.32h-1.61zM598.89 693.74h1.61v1.32h-1.61zM598.89 704.30h1.61v5.28h-1.61zM598.89 717.50h1.61v1.32h-1.61zM598.89 724.10h1.61v1.32h-1.61zM598.89 728.06h1.61v1.32h-1.61zM598.89 733.34h1.61v1.32h-1.61zM598.89 737.30h1.61v1.32h-1.61zM598.89 739.94h1.61v1.32h-1.61zM598.89 745.22h1.61v2.64h-1.61zM598.89 749.18h1.61v1.32h-1.61zM598.89 753.14h1.61v1.32h-1.61zM600.50 692.42h1.61v1.32h-1.61zM600.50 705.62h1.61v1.32h-1.61zM600.50 709.58h1.61v1.32h-1.61zM600.50 712.22h1.61v1.32h-1.61zM600.50 714.86h1.61v6.60h-1.61zM600.50 722.78h1.61v1.32h-1.61zM600.50 725.42h1.61v11.88h-1.61zM600.50 739.94h1.61v1.32h-1.61zM600.50 742.58h1.61v1.32h-1.61zM600.50 747.86h1.61v7.92h-1.61zM600.50 757.10h1.61v1.32h-1.61zM602.11 700.34h1.61v1.32h-1.61zM602.11 702.98h1.61v2.64h-1.61zM602.11 706.94h1.61v3.96h-1.61zM602.11 712.22h1.61v2.64h-1.61zM602.11 717.50h1.61v5.28h-1.61zM602.11 724.10h1.61v1.32h-1.61zM602.11 728.06h1.61v1.32h-1.61zM602.11 730.70h1.61v1.32h-1.61zM602.11 733.34h1.61v1.32h-1.61zM602.11 735.98h1.61v2.64h-1.61zM602.11 739.94h1.61v1.32h-1.61zM602.11 743.90h1.61v5.28h-1.61zM602.11 750.50h1.61v2.64h-1.61zM602.11 754.46h1.61v3.96h-1.61zM602.11 759.74h1.61v1.32h-1.61zM602.11 762.38h1.61v2.64h-1.61zM603.72 672.62h1.61v1.32h-1.61zM603.72 675.26h1.61v2.64h-1.61zM603.72 680.54h1.61v5.28h-1.61zM603.72 687.14h1.61v6.60h-1.61zM603.72 697.70h1.61v3.96h-1.61zM603.72 705.62h1.61v3.96h-1.61zM603.72 710.90h1.61v2.64h-1.61zM603.72 716.18h1.61v6.60h-1.61zM603.72 724.10h1.61v2.64h-1.61zM603.72 728.06h1.61v1.32h-1.61zM603.72 730.70h1.61v6.60h-1.61zM603.72 739.94h1.61v2.64h-1.61zM603.72 743.90h1.61v2.64h-1.61zM603.72 747.86h1.61v1.32h-1.61zM603.72 750.50h1.61v1.32h-1.61zM603.72 753.14h1.61v1.32h-1.61zM603.72 755.78h1.61v2.64h-1.61zM603.72 759.74h1.61v7.92h-1.61zM605.33 708.26h1.61v1.32h-1.61zM605.33 749.18h1.61v1.32h-1.61zM605.33 761.06h1.61v1.32h-1.61zM605.33 763.70h1.61v2.64h-1.61zM606.94 695.06h1.61v2.64h-1.61zM606.94 704.30h1.61v6.60h-1.61zM606.94 712.22h1.61v7.92h-1.61zM606.94 721.46h1.61v1.32h-1.61zM606.94 725.42h1.61v3.96h-1.61zM606.94 732.02h1.61v6.60h-1.61zM606.94 742.58h1.61v1.32h-1.61zM606.94 746.54h1.61v1.32h-1.61zM606.94 750.50h1.61v2.64h-1.61zM606.94 754.46h1.61v7.92h-1.61zM606.94 763.70h1.61v1.32h-1.61zM606.94 766.34h1.61v1.32h-1.61zM606.94 768.98h1.61v1.32h-1.61zM608.55 705.62h1.61v1.32h-1.61zM608.55 708.26h1.61v5.28h-1.61zM608.55 716.18h1.61v3.96h-1.61zM608.55 724.10h1.61v3.96h-1.61zM608.55 729.38h1.61v1.32h-1.61zM608.55 733.34h1.61v2.64h-1.61zM608.55 738.62h1.61v2.64h-1.61zM608.55 742.58h1.61v1.32h-1.61zM608.55 745.22h1.61v1.32h-1.61zM608.55 754.46h1.61v1.32h-1.61zM608.55 757.10h1.61v5.28h-1.61zM608.55 763.70h1.61v1.32h-1.61zM608.55 767.66h1.61v3.96h-1.61zM610.16 697.70h1.61v1.32h-1.61zM610.16 706.94h1.61v2.64h-1.61zM610.16 716.18h1.61v1.32h-1.61zM610.16 720.14h1.61v1.32h-1.61zM610.16 728.06h1.61v1.32h-1.61zM610.16 735.98h1.61v2.64h-1.61zM610.16 739.94h1.61v5.28h-1.61zM610.16 746.54h1.61v1.32h-1.61zM610.16 749.18h1.61v1.32h-1.61zM610.16 751.82h1.61v1.32h-1.61zM610.16 755.78h1.61v1.32h-1.61zM611.77 706.94h1.61v3.96h-1.61zM611.77 712.22h1.61v3.96h-1.61zM611.77 717.50h1.61v1.32h-1.61zM611.77 721.46h1.61v3.96h-1.61zM611.77 728.06h1.61v1.32h-1.61zM611.77 732.02h1.61v1.32h-1.61zM611.77 734.66h1.61v3.96h-1.61zM611.77 739.94h1.61v1.32h-1.61zM611.77 742.58h1.61v2.64h-1.61zM611.77 746.54h1.61v1.32h-1.61zM611.77 749.18h1.61v1.32h-1.61zM611.77 751.82h1.61v1.32h-1.61zM611.77 758.42h1.61v6.60h-1.61zM611.77 770.30h1.61v1.32h-1.61zM613.38 705.62h1.61v2.64h-1.61zM613.38 709.58h1.61v1.32h-1.61zM613.38 712.22h1.61v5.28h-1.61zM613.38 718.82h1.61v1.32h-1.61zM613.38 721.46h1.61v6.60h-1.61zM613.38 733.34h1.61v3.96h-1.61zM613.38 738.62h1.61v3.96h-1.61zM613.38 743.90h1.61v2.64h-1.61zM613.38 747.86h1.61v6.60h-1.61zM613.38 757.10h1.61v3.96h-1.61zM613.38 762.38h1.61v1.32h-1.61zM613.38 766.34h1.61v1.32h-1.61zM613.38 771.62h1.61v0.68h-1.61zM614.99 691.10h1.61v2.64h-1.61zM614.99 695.06h1.61v1.32h-1.61zM614.99 697.70h1.61v5.28h-1.61zM614.99 704.30h1.61v5.28h-1.61zM614.99 710.90h1.61v2.64h-1.61zM614.99 714.86h1.61v5.28h-1.61zM614.99 721.46h1.61v2.64h-1.61zM614.99 726.74h1.61v5.28h-1.61zM614.99 733.34h1.61v6.60h-1.61zM614.99 742.58h1.61v2.64h-1.61zM614.99 747.86h1.61v3.96h-1.61zM614.99 755.78h1.61v1.32h-1.61zM614.99 758.42h1.61v2.64h-1.61zM614.99 762.38h1.61v3.96h-1.61zM614.99 768.98h1.61v1.32h-1.61zM616.60 671.30h1.61v3.96h-1.61zM616.60 676.58h1.61v5.28h-1.61zM616.60 683.18h1.61v1.32h-1.61zM616.60 687.14h1.61v6.60h-1.61zM616.60 696.38h1.61v3.96h-1.61zM616.60 701.66h1.61v2.64h-1.61zM616.60 705.62h1.61v10.56h-1.61zM616.60 718.82h1.61v1.32h-1.61zM616.60 724.10h1.61v2.64h-1.61zM616.60 728.06h1.61v2.64h-1.61zM616.60 732.02h1.61v6.60h-1.61zM616.60 739.94h1.61v1.32h-1.61zM616.60 742.58h1.61v1.32h-1.61zM616.60 745.22h1.61v1.32h-1.61zM616.60 749.18h1.61v2.64h-1.61zM616.60 753.14h1.61v7.92h-1.61zM616.60 763.70h1.61v3.96h-1.61zM618.21 689.78h1.61v1.32h-1.61zM618.21 696.38h1.61v7.92h-1.61zM618.21 710.90h1.61v1.32h-1.61zM618.21 716.18h1.61v1.32h-1.61zM618.21 718.82h1.61v3.96h-1.61zM618.21 730.70h1.61v1.32h-1.61zM618.21 734.66h1.61v1.32h-1.61zM618.21 738.62h1.61v1.32h-1.61zM618.21 741.26h1.61v3.96h-1.61zM618.21 757.10h1.61v1.32h-1.61zM618.21 759.74h1.61v2.64h-1.61zM618.21 763.70h1.61v2.64h-1.61zM618.21 770.30h1.61v1.32h-1.61zM619.82 671.30h1.61v3.96h-1.61zM619.82 677.90h1.61v9.24h-1.61zM619.82 689.78h1.61v5.28h-1.61zM619.82 696.38h1.61v1.32h-1.61zM619.82 699.02h1.61v5.28h-1.61zM619.82 705.62h1.61v1.32h-1.61zM619.82 708.26h1.61v2.64h-1.61zM619.82 712.22h1.61v3.96h-1.61zM619.82 718.82h1.61v1.32h-1.61zM619.82 722.78h1.61v2.64h-1.61zM619.82 726.74h1.61v3.96h-1.61zM619.82 732.02h1.61v2.64h-1.61zM619.82 735.98h1.61v5.28h-1.61zM619.82 742.58h1.61v2.64h-1.61zM619.82 747.86h1.61v9.24h-1.61zM619.82 758.42h1.61v3.96h-1.61zM619.82 765.02h1.61v1.32h-1.61zM619.82 771.62h1.61v0.68h-1.61zM621.43 676.58h1.61v1.32h-1.61zM621.43 683.18h1.61v2.64h-1.61zM621.43 687.14h1.61v1.32h-1.61zM621.43 689.78h1.61v1.32h-1.61zM621.43 699.02h1.61v1.32h-1.61zM621.43 728.06h1.61v1.32h-1.61zM621.43 759.74h1.61v1.32h-1.61zM623.04 693.74h1.61v10.56h-1.61zM623.04 705.62h1.61v1.32h-1.61zM623.04 713.54h1.61v2.64h-1.61zM623.04 717.50h1.61v2.64h-1.61zM623.04 721.46h1.61v2.64h-1.61zM623.04 729.38h1.61v1.32h-1.61zM623.04 749.18h1.61v1.32h-1.61zM623.04 753.14h1.61v1.32h-1.61zM624.65 679.22h1.61v1.32h-1.61zM624.65 696.38h1.61v1.32h-1.61zM624.65 701.66h1.61v5.28h-1.61zM624.65 708.26h1.61v7.92h-1.61zM624.65 720.14h1.61v5.28h-1.61zM624.65 726.74h1.61v1.32h-1.61zM624.65 729.38h1.61v1.32h-1.61zM624.65 732.02h1.61v2.64h-1.61zM624.65 735.98h1.61v1.32h-1.61zM624.65 738.62h1.61v1.32h-1.61zM624.65 741.26h1.61v1.32h-1.61zM624.65 743.90h1.61v5.28h-1.61zM624.65 751.82h1.61v3.96h-1.61zM624.65 758.42h1.61v1.32h-1.61zM624.65 761.06h1.61v1.32h-1.61zM624.65 763.70h1.61v2.64h-1.61zM624.65 767.66h1.61v1.32h-1.61zM624.65 770.30h1.61v2.00h-1.61zM626.26 681.86h1.61v10.56h-1.61zM626.26 696.38h1.61v2.64h-1.61zM626.26 700.34h1.61v2.64h-1.61zM626.26 705.62h1.61v5.28h-1.61zM626.26 712.22h1.61v2.64h-1.61zM626.26 716.18h1.61v3.96h-1.61zM626.26 722.78h1.61v2.64h-1.61zM626.26 730.70h1.61v9.24h-1.61zM626.26 741.26h1.61v1.32h-1.61zM626.26 743.90h1.61v5.28h-1.61zM626.26 750.50h1.61v6.60h-1.61zM626.26 759.74h1.61v2.64h-1.61zM626.26 763.70h1.61v2.64h-1.61zM626.26 767.66h1.61v4.64h-1.61zM627.87 676.58h1.61v1.32h-1.61zM627.87 685.82h1.61v1.32h-1.61zM627.87 689.78h1.61v2.64h-1.61zM627.87 705.62h1.61v1.32h-1.61zM627.87 708.26h1.61v2.64h-1.61zM627.87 716.18h1.61v2.64h-1.61zM627.87 720.14h1.61v1.32h-1.61zM627.87 722.78h1.61v1.32h-1.61zM627.87 726.74h1.61v2.64h-1.61zM627.87 730.70h1.61v2.64h-1.61zM627.87 734.66h1.61v2.64h-1.61zM627.87 739.94h1.61v2.64h-1.61zM627.87 743.90h1.61v1.32h-1.61zM627.87 746.54h1.61v1.32h-1.61zM627.87 749.18h1.61v1.32h-1.61zM627.87 751.82h1.61v2.64h-1.61zM627.87 757.10h1.61v3.96h-1.61zM627.87 762.38h1.61v2.64h-1.61zM627.87 767.66h1.61v2.64h-1.61zM627.87 771.62h1.61v0.68h-1.61zM629.48 692.42h1.61v1.32h-1.61zM629.48 728.06h1.61v1.32h-1.61zM629.48 742.58h1.61v3.96h-1.61zM629.48 757.10h1.61v2.64h-1.61zM629.48 765.02h1.61v1.32h-1.61zM629.48 770.30h1.61v1.32h-1.61zM631.09 681.86h1.61v1.32h-1.61zM631.09 684.50h1.61v1.32h-1.61zM631.09 687.14h1.61v2.64h-1.61zM631.09 691.10h1.61v2.64h-1.61zM631.09 695.06h1.61v1.32h-1.61zM631.09 697.70h1.61v2.64h-1.61zM631.09 705.62h1.61v1.32h-1.61zM631.09 710.90h1.61v1.32h-1.61zM631.09 730.70h1.61v2.64h-1.61zM631.09 735.98h1.61v1.32h-1.61zM631.09 738.62h1.61v1.32h-1.61zM631.09 745.22h1.61v1.32h-1.61zM631.09 747.86h1.61v1.32h-1.61zM631.09 753.14h1.61v1.32h-1.61zM631.09 761.06h1.61v2.64h-1.61zM631.09 765.02h1.61v1.32h-1.61z" shape-rendering="crispEdges"/>
<path fill="#8cc63a" d="M56.52 685.82h2.52v1.32h-2.52zM56.52 689.78h2.52v1.32h-2.52zM56.52 696.38h2.52v1.32h-2.52zM56.52 702.98h2.52v1.32h-2.52zM66.60 679.22h2.52v1.32h-2.52zM71.64 684.50h2.52v1.32h-2.52zM71.64 689.78h2.52v1.32h-2.52zM71.64 700.34h2.52v1.32h-2.52zM79.20 672.62h2.52v2.64h-2.52zM79.20 679.22h2.52v1.32h-2.52zM79.20 695.06h2.52v1.32h-2.52zM79.20 697.70h2.52v1.32h-2.52zM91.80 673.94h2.52v1.32h-2.52zM91.80 677.90h2.52v1.32h-2.52zM91.80 681.86h2.52v1.32h-2.52zM104.60 671.30h2.53v1.32h-2.53zM104.60 687.14h2.53v1.32h-2.53zM104.60 699.02h2.53v1.32h-2.53zM107.13 673.94h2.53v2.64h-2.53zM107.13 681.86h2.53v3.96h-2.53zM107.13 696.38h2.53v2.64h-2.53zM107.13 704.30h2.53v1.32h-2.53zM109.66 696.38h2.53v2.64h-2.53zM109.66 704.30h2.53v1.32h-2.53zM109.66 721.46h2.53v1.32h-2.53zM114.72 712.22h2.53v1.32h-2.53zM114.72 720.14h2.53v2.64h-2.53zM117.25 680.54h2.53v1.32h-2.53zM117.25 685.82h2.53v1.32h-2.53zM117.25 699.02h2.53v1.32h-2.53zM119.78 683.18h2.53v1.32h-2.53zM119.78 693.74h2.53v2.64h-2.53zM119.78 705.62h2.53v1.32h-2.53zM119.78 717.50h2.53v1.32h-2.53zM119.78 725.42h2.53v1.32h-2.53zM122.31 704.30h2.53v1.32h-2.53zM127.37 671.30h2.53v1.32h-2.53zM127.37 675.26h2.53v1.32h-2.53zM127.37 687.14h2.53v1.32h-2.53zM127.37 691.10h2.53v1.32h-2.53zM127.37 708.26h2.53v1.32h-2.53zM127.37 712.22h2.53v1.32h-2.53zM127.37 714.86h2.53v1.32h-2.53zM127.37 718.82h2.53v1.32h-2.53zM127.37 721.46h2.53v1.32h-2.53zM127.37 724.10h2.53v1.32h-2.53zM127.37 734.66h2.53v1.32h-2.53zM132.43 704.30h2.53v1.32h-2.53zM134.96 672.62h2.53v3.96h-2.53zM134.96 680.54h2.53v1.32h-2.53zM134.96 683.18h2.53v1.32h-2.53zM134.96 685.82h2.53v1.32h-2.53zM134.96 688.46h2.53v3.96h-2.53zM134.96 693.74h2.53v1.32h-2.53zM134.96 697.70h2.53v5.28h-2.53zM140.02 695.06h2.53v1.32h-2.53zM140.02 697.70h2.53v3.96h-2.53zM140.02 704.30h2.53v1.32h-2.53zM140.02 706.94h2.53v1.32h-2.53zM140.02 712.22h2.53v2.64h-2.53zM140.02 722.78h2.53v1.32h-2.53zM140.02 725.42h2.53v2.64h-2.53zM140.02 737.30h2.53v1.32h-2.53zM142.55 697.70h2.53v1.32h-2.53zM142.55 700.34h2.53v1.32h-2.53zM145.08 705.62h2.53v1.32h-2.53zM145.08 708.26h2.53v1.32h-2.53zM145.08 721.46h2.53v1.32h-2.53zM145.08 729.38h2.53v1.32h-2.53zM145.08 732.02h2.53v1.32h-2.53zM145.08 738.62h2.53v1.32h-2.53zM145.08 743.90h2.53v1.32h-2.53zM147.61 692.42h2.53v1.32h-2.53zM147.61 699.02h2.53v1.32h-2.53zM147.61 704.30h2.53v1.32h-2.53zM157.73 709.58h2.53v1.32h-2.53zM157.73 742.58h2.53v1.32h-2.53zM160.26 676.58h2.53v1.32h-2.53zM162.79 675.26h2.53v2.64h-2.53zM162.79 679.22h2.53v1.32h-2.53zM162.79 683.18h2.53v2.64h-2.53zM162.79 691.10h2.53v1.32h-2.53zM162.79 693.74h2.53v1.32h-2.53zM162.79 696.38h2.53v1.32h-2.53zM165.32 675.26h2.53v1.32h-2.53zM165.32 677.90h2.53v1.32h-2.53zM165.32 683.18h2.53v1.32h-2.53zM165.32 685.82h2.53v1.32h-2.53zM165.32 688.46h2.53v1.32h-2.53zM165.32 691.10h2.53v2.64h-2.53zM165.32 696.38h2.53v1.32h-2.53zM165.32 700.34h2.53v3.96h-2.53zM167.85 672.62h2.53v1.32h-2.53zM167.85 681.86h2.53v1.32h-2.53zM167.85 699.02h2.53v1.32h-2.53zM167.85 712.22h2.53v1.32h-2.53zM170.38 671.30h2.53v5.28h-2.53zM170.38 677.90h2.53v1.32h-2.53zM170.38 684.50h2.53v7.92h-2.53zM170.38 696.38h2.53v1.32h-2.53zM170.38 699.02h2.53v1.32h-2.53zM170.38 704.30h2.53v1.32h-2.53zM175.44 685.82h2.53v1.32h-2.53zM177.97 701.66h2.53v2.64h-2.53zM177.97 706.94h2.53v3.96h-2.53zM177.97 712.22h2.53v1.32h-2.53zM177.97 714.86h2.53v1.32h-2.53zM177.97 717.50h2.53v1.32h-2.53zM177.97 725.42h2.53v3.96h-2.53zM177.97 732.02h2.53v1.32h-2.53zM177.97 737.30h2.53v1.32h-2.53zM177.97 739.94h2.53v3.96h-2.53zM177.97 745.22h2.53v7.92h-2.53zM177.97 754.46h2.53v2.64h-2.53zM177.97 758.42h2.53v1.32h-2.53zM177.97 765.02h2.53v3.96h-2.53zM177.97 771.62h2.53v0.68h-2.53zM180.50 696.38h2.53v1.32h-2.53zM183.03 684.50h2.53v2.64h-2.53zM183.03 688.46h2.53v2.64h-2.53zM183.03 699.02h2.53v1.32h-2.53zM185.56 691.10h2.53v1.32h-2.53zM206.21 673.94h1.60v2.64h-1.60zM206.21 679.22h1.60v1.32h-1.60zM206.21 681.86h1.60v1.32h-1.60zM206.21 688.46h1.60v2.64h-1.60zM206.21 696.38h1.60v1.32h-1.60zM206.21 704.30h1.60v1.32h-1.60zM227.04 673.94h1.60v1.32h-1.60zM227.04 679.22h1.60v2.64h-1.60zM227.04 683.18h1.60v2.64h-1.60zM227.04 687.14h1.60v1.32h-1.60zM227.04 701.66h1.60v1.32h-1.60zM233.46 689.78h1.60v1.32h-1.60zM233.46 699.02h1.60v2.64h-1.60zM252.69 676.58h1.60v1.32h-1.60zM252.69 679.22h1.60v2.64h-1.60zM252.69 692.42h1.60v1.32h-1.60zM252.69 700.34h1.60v1.32h-1.60zM278.34 706.94h1.60v2.64h-1.60zM278.34 720.14h1.60v1.32h-1.60zM278.34 724.10h1.60v1.32h-1.60zM278.34 732.02h1.60v1.32h-1.60zM278.34 763.70h1.60v1.32h-1.60zM291.16 676.58h1.60v2.64h-1.60zM291.16 684.50h1.60v1.32h-1.60zM291.16 688.46h1.60v1.32h-1.60zM291.16 693.74h1.60v2.64h-1.60zM291.16 700.34h1.60v1.32h-1.60zM300.80 704.30h1.62v1.32h-1.62zM302.42 696.38h1.62v1.32h-1.62zM302.42 699.02h1.62v1.32h-1.62zM302.42 704.30h1.62v1.32h-1.62zM302.42 710.90h1.62v1.32h-1.62zM304.04 695.06h1.62v1.32h-1.62zM304.04 697.70h1.62v1.32h-1.62zM304.04 700.34h1.62v2.64h-1.62zM305.66 695.06h1.62v2.64h-1.62zM305.66 699.02h1.62v3.96h-1.62zM305.66 704.30h1.62v1.32h-1.62zM308.90 699.02h1.62v1.32h-1.62zM308.90 701.66h1.62v3.96h-1.62zM310.52 697.70h1.62v1.32h-1.62zM310.52 701.66h1.62v3.96h-1.62zM312.14 700.34h1.62v1.32h-1.62zM312.14 704.30h1.62v1.32h-1.62zM313.76 705.62h1.62v1.32h-1.62zM313.76 708.26h1.62v1.32h-1.62zM313.76 710.90h1.62v2.64h-1.62zM313.76 714.86h1.62v1.32h-1.62zM313.76 718.82h1.62v2.64h-1.62zM313.76 725.42h1.62v2.64h-1.62zM317.00 704.30h1.62v1.32h-1.62zM318.62 696.38h1.62v2.64h-1.62zM318.62 702.98h1.62v2.64h-1.62zM320.24 696.38h1.62v1.32h-1.62zM320.24 699.02h1.62v1.32h-1.62zM320.24 702.98h1.62v2.64h-1.62zM321.86 683.18h1.62v1.32h-1.62zM323.48 689.78h1.62v1.32h-1.62zM323.48 697.70h1.62v1.32h-1.62zM325.10 706.94h1.62v1.32h-1.62zM325.10 709.58h1.62v2.64h-1.62zM325.10 714.86h1.62v1.32h-1.62zM325.10 718.82h1.62v2.64h-1.62zM325.10 725.42h1.62v1.32h-1.62zM325.10 728.06h1.62v1.32h-1.62zM325.10 734.66h1.62v1.32h-1.62zM325.10 737.30h1.62v5.28h-1.62zM325.10 743.90h1.62v3.96h-1.62zM325.10 750.50h1.62v1.32h-1.62zM325.10 753.14h1.62v2.64h-1.62zM325.10 758.42h1.62v1.32h-1.62zM326.72 675.26h1.62v2.64h-1.62zM326.72 683.18h1.62v1.32h-1.62zM326.72 695.06h1.62v1.32h-1.62zM326.72 700.34h1.62v1.32h-1.62zM328.34 691.10h1.62v9.24h-1.62zM328.34 701.66h1.62v2.64h-1.62zM329.96 722.78h1.62v1.32h-1.62zM331.58 683.18h1.62v1.32h-1.62zM333.20 693.74h1.62v1.32h-1.62zM333.20 702.98h1.62v1.32h-1.62zM334.82 695.06h1.62v1.32h-1.62zM334.82 697.70h1.62v5.28h-1.62zM350.60 704.30h3.10v1.32h-3.10zM363.20 671.30h3.20v1.32h-3.20zM363.20 676.58h3.20v1.32h-3.20zM363.20 679.22h3.20v7.92h-3.20zM363.20 691.10h3.20v3.96h-3.20zM363.20 696.38h3.20v1.32h-3.20zM363.20 700.34h3.20v1.32h-3.20zM363.20 704.30h3.20v3.96h-3.20zM363.20 709.58h3.20v1.32h-3.20zM363.20 713.54h3.20v1.32h-3.20zM366.40 684.50h3.20v2.64h-3.20zM366.40 689.78h3.20v1.32h-3.20zM366.40 699.02h3.20v2.64h-3.20zM366.40 710.90h3.20v1.32h-3.20zM366.40 718.82h3.20v1.32h-3.20zM372.80 675.26h3.20v1.32h-3.20zM372.80 691.10h3.20v1.32h-3.20zM372.80 701.66h3.20v1.32h-3.20zM372.80 708.26h3.20v1.32h-3.20zM372.80 710.90h3.20v1.32h-3.20zM372.80 713.54h3.20v2.64h-3.20zM372.80 718.82h3.20v3.96h-3.20zM372.80 726.74h3.20v1.32h-3.20zM376.00 672.62h3.20v1.32h-3.20zM376.00 675.26h3.20v1.32h-3.20zM376.00 679.22h3.20v5.28h-3.20zM376.00 685.82h3.20v5.28h-3.20zM376.00 693.74h3.20v1.32h-3.20zM376.00 696.38h3.20v1.32h-3.20zM376.00 700.34h3.20v1.32h-3.20zM376.00 704.30h3.20v1.32h-3.20zM379.20 673.94h3.20v1.32h-3.20zM379.20 687.14h3.20v3.96h-3.20zM379.20 693.74h3.20v2.64h-3.20zM379.20 717.50h3.20v1.32h-3.20zM379.20 724.10h3.20v1.32h-3.20zM379.20 726.74h3.20v1.32h-3.20zM379.20 732.02h3.20v1.32h-3.20zM382.40 683.18h3.20v1.32h-3.20zM382.40 692.42h3.20v1.32h-3.20zM382.40 700.34h3.20v1.32h-3.20zM382.40 705.62h3.20v6.60h-3.20zM382.40 713.54h3.20v3.96h-3.20zM382.40 718.82h3.20v1.32h-3.20zM382.40 721.46h3.20v10.56h-3.20zM382.40 733.34h3.20v2.64h-3.20zM385.60 672.62h3.20v1.32h-3.20zM385.60 676.58h3.20v1.32h-3.20zM385.60 680.54h3.20v1.32h-3.20zM385.60 685.82h3.20v1.32h-3.20zM385.60 704.30h3.20v1.32h-3.20zM385.60 710.90h3.20v2.64h-3.20zM385.60 724.10h3.20v1.32h-3.20zM385.60 728.06h3.20v1.32h-3.20zM385.60 734.66h3.20v1.32h-3.20zM388.80 708.26h3.20v2.64h-3.20zM388.80 716.18h3.20v1.32h-3.20zM388.80 720.14h3.20v1.32h-3.20zM388.80 728.06h3.20v1.32h-3.20zM388.80 733.34h3.20v1.32h-3.20zM392.00 675.26h3.20v1.32h-3.20zM392.00 687.14h3.20v1.32h-3.20zM392.00 691.10h3.20v1.32h-3.20zM392.00 701.66h3.20v1.32h-3.20zM392.00 709.58h3.20v1.32h-3.20zM392.00 717.50h3.20v1.32h-3.20zM392.00 721.46h3.20v1.32h-3.20zM392.00 738.62h3.20v1.32h-3.20zM395.20 701.66h3.20v2.64h-3.20zM395.20 716.18h3.20v1.32h-3.20zM395.20 724.10h3.20v3.96h-3.20zM395.20 734.66h3.20v1.32h-3.20zM398.40 697.70h3.20v1.32h-3.20zM398.40 700.34h3.20v1.32h-3.20zM398.40 712.22h3.20v1.32h-3.20zM398.40 732.02h3.20v1.32h-3.20zM398.40 735.98h3.20v1.32h-3.20zM401.60 683.18h3.20v2.64h-3.20zM401.60 687.14h3.20v1.32h-3.20zM401.60 695.06h3.20v1.32h-3.20zM401.60 700.34h3.20v3.96h-3.20zM401.60 712.22h3.20v1.32h-3.20zM401.60 728.06h3.20v2.64h-3.20zM401.60 732.02h3.20v1.32h-3.20zM401.60 739.94h3.20v1.32h-3.20zM404.80 700.34h3.20v1.32h-3.20zM404.80 709.58h3.20v1.32h-3.20zM404.80 720.14h3.20v1.32h-3.20zM404.80 730.70h3.20v2.64h-3.20zM404.80 741.26h3.20v1.32h-3.20zM404.80 743.90h3.20v1.32h-3.20zM408.00 673.94h3.20v1.32h-3.20zM408.00 677.90h3.20v1.32h-3.20zM408.00 684.50h3.20v1.32h-3.20zM408.00 695.06h3.20v1.32h-3.20zM408.00 700.34h3.20v1.32h-3.20zM408.00 709.58h3.20v1.32h-3.20zM408.00 742.58h3.20v1.32h-3.20zM411.20 672.62h3.20v1.32h-3.20zM411.20 675.26h3.20v1.32h-3.20zM411.20 681.86h3.20v3.96h-3.20zM411.20 696.38h3.20v1.32h-3.20zM411.20 701.66h3.20v1.32h-3.20zM411.20 705.62h3.20v2.64h-3.20zM411.20 709.58h3.20v5.28h-3.20zM411.20 716.18h3.20v1.32h-3.20zM411.20 718.82h3.20v1.32h-3.20zM411.20 724.10h3.20v2.64h-3.20zM411.20 728.06h3.20v1.32h-3.20zM411.20 730.70h3.20v2.64h-3.20zM411.20 735.98h3.20v1.32h-3.20zM411.20 739.94h3.20v1.32h-3.20zM411.20 742.58h3.20v3.96h-3.20zM414.40 681.86h3.20v2.64h-3.20zM414.40 688.46h3.20v1.32h-3.20zM414.40 705.62h3.20v1.32h-3.20zM414.40 712.22h3.20v1.32h-3.20zM414.40 718.82h3.20v2.64h-3.20zM414.40 722.78h3.20v1.32h-3.20zM414.40 725.42h3.20v2.64h-3.20zM414.40 729.38h3.20v1.32h-3.20zM414.40 733.34h3.20v2.64h-3.20zM414.40 739.94h3.20v1.32h-3.20zM414.40 742.58h3.20v2.64h-3.20zM417.60 680.54h3.20v2.64h-3.20zM417.60 684.50h3.20v2.64h-3.20zM417.60 695.06h3.20v1.32h-3.20zM417.60 708.26h3.20v1.32h-3.20zM417.60 732.02h3.20v1.32h-3.20zM417.60 739.94h3.20v1.32h-3.20zM417.60 742.58h3.20v1.32h-3.20zM417.60 749.18h3.20v1.32h-3.20zM420.80 726.74h3.20v1.32h-3.20zM420.80 730.70h3.20v1.32h-3.20zM420.80 755.78h3.20v1.32h-3.20zM424.00 691.10h3.20v3.96h-3.20zM424.00 700.34h3.20v2.64h-3.20zM424.00 706.94h3.20v2.64h-3.20zM424.00 712.22h3.20v17.16h-3.20zM424.00 732.02h3.20v3.96h-3.20zM424.00 737.30h3.20v2.64h-3.20zM424.00 741.26h3.20v2.64h-3.20zM424.00 746.54h3.20v1.32h-3.20zM424.00 749.18h3.20v2.64h-3.20zM424.00 753.14h3.20v9.24h-3.20zM427.20 673.94h3.20v1.32h-3.20zM427.20 700.34h3.20v1.32h-3.20zM430.40 696.38h3.20v1.32h-3.20zM430.40 705.62h3.20v1.32h-3.20zM430.40 709.58h3.20v1.32h-3.20zM430.40 712.22h3.20v3.96h-3.20zM430.40 717.50h3.20v3.96h-3.20zM430.40 722.78h3.20v2.64h-3.20zM430.40 726.74h3.20v5.28h-3.20zM430.40 734.66h3.20v2.64h-3.20zM430.40 738.62h3.20v6.60h-3.20zM430.40 747.86h3.20v3.96h-3.20zM430.40 753.14h3.20v2.64h-3.20zM430.40 758.42h3.20v1.32h-3.20zM430.40 763.70h3.20v1.32h-3.20zM433.60 671.30h3.20v1.32h-3.20zM433.60 681.86h3.20v1.32h-3.20zM433.60 689.78h3.20v2.64h-3.20zM433.60 708.26h3.20v1.32h-3.20zM433.60 710.90h3.20v3.96h-3.20zM433.60 718.82h3.20v2.64h-3.20zM433.60 722.78h3.20v2.64h-3.20zM433.60 726.74h3.20v5.28h-3.20zM433.60 733.34h3.20v3.96h-3.20zM433.60 738.62h3.20v2.64h-3.20zM433.60 742.58h3.20v1.32h-3.20zM433.60 745.22h3.20v1.32h-3.20zM433.60 747.86h3.20v1.32h-3.20zM433.60 750.50h3.20v6.60h-3.20zM433.60 758.42h3.20v3.96h-3.20zM433.60 763.70h3.20v1.32h-3.20zM433.60 767.66h3.20v1.32h-3.20zM436.80 689.78h3.20v1.32h-3.20zM436.80 699.02h3.20v1.32h-3.20zM436.80 705.62h3.20v1.32h-3.20zM436.80 712.22h3.20v1.32h-3.20zM436.80 745.22h3.20v1.32h-3.20zM436.80 749.18h3.20v2.64h-3.20zM436.80 753.14h3.20v1.32h-3.20zM436.80 758.42h3.20v1.32h-3.20zM440.00 672.62h3.20v1.32h-3.20zM440.00 685.82h3.20v3.96h-3.20zM440.00 702.98h3.20v1.32h-3.20zM440.00 705.62h3.20v6.60h-3.20zM440.00 713.54h3.20v1.32h-3.20zM440.00 716.18h3.20v6.60h-3.20zM440.00 724.10h3.20v1.32h-3.20zM440.00 726.74h3.20v1.32h-3.20zM440.00 729.38h3.20v5.28h-3.20zM440.00 738.62h3.20v1.32h-3.20zM440.00 742.58h3.20v1.32h-3.20zM440.00 745.22h3.20v5.28h-3.20zM440.00 751.82h3.20v2.64h-3.20zM440.00 757.10h3.20v6.60h-3.20zM440.00 765.02h3.20v1.32h-3.20zM440.00 767.66h3.20v4.64h-3.20zM443.20 672.62h3.20v1.32h-3.20zM443.20 679.22h3.20v1.32h-3.20zM443.20 681.86h3.20v3.96h-3.20zM443.20 689.78h3.20v1.32h-3.20zM443.20 692.42h3.20v1.32h-3.20zM443.20 697.70h3.20v1.32h-3.20zM443.20 700.34h3.20v1.32h-3.20zM443.20 702.98h3.20v1.32h-3.20zM443.20 708.26h3.20v1.32h-3.20zM443.20 710.90h3.20v2.64h-3.20zM443.20 714.86h3.20v1.32h-3.20zM443.20 720.14h3.20v2.64h-3.20zM443.20 728.06h3.20v2.64h-3.20zM443.20 733.34h3.20v1.32h-3.20zM443.20 745.22h3.20v1.32h-3.20zM443.20 754.46h3.20v1.32h-3.20zM443.20 757.10h3.20v2.64h-3.20zM443.20 763.70h3.20v2.64h-3.20zM446.40 672.62h3.20v1.32h-3.20zM446.40 675.26h3.20v3.96h-3.20zM446.40 681.86h3.20v1.32h-3.20zM446.40 699.02h3.20v1.32h-3.20zM446.40 702.98h3.20v1.32h-3.20zM446.40 734.66h3.20v1.32h-3.20zM446.40 761.06h3.20v1.32h-3.20zM449.60 671.30h3.20v1.32h-3.20zM449.60 677.90h3.20v1.32h-3.20zM449.60 689.78h3.20v1.32h-3.20zM449.60 704.30h3.20v1.32h-3.20zM449.60 742.58h3.20v1.32h-3.20zM452.80 693.74h3.20v1.32h-3.20zM452.80 701.66h3.20v1.32h-3.20zM452.80 724.10h3.20v1.32h-3.20zM452.80 726.74h3.20v1.32h-3.20zM452.80 741.26h3.20v1.32h-3.20zM452.80 754.46h3.20v1.32h-3.20zM452.80 763.70h3.20v1.32h-3.20zM452.80 766.34h3.20v1.32h-3.20zM452.80 771.62h3.20v0.68h-3.20zM456.00 700.34h3.20v1.32h-3.20zM456.00 705.62h3.20v5.28h-3.20zM456.00 721.46h3.20v1.32h-3.20zM456.00 724.10h3.20v1.32h-3.20zM456.00 730.70h3.20v1.32h-3.20zM456.00 733.34h3.20v1.32h-3.20zM456.00 738.62h3.20v1.32h-3.20zM456.00 742.58h3.20v1.32h-3.20zM456.00 749.18h3.20v2.64h-3.20zM456.00 759.74h3.20v1.32h-3.20zM456.00 766.34h3.20v1.32h-3.20zM456.00 771.62h3.20v0.68h-3.20zM459.20 676.58h3.20v1.32h-3.20zM459.20 688.46h3.20v1.32h-3.20zM459.20 691.10h3.20v2.64h-3.20zM459.20 695.06h3.20v1.32h-3.20zM459.20 701.66h3.20v1.32h-3.20zM459.20 705.62h3.20v2.64h-3.20zM459.20 709.58h3.20v1.32h-3.20zM459.20 712.22h3.20v2.64h-3.20zM459.20 717.50h3.20v1.32h-3.20zM459.20 720.14h3.20v2.64h-3.20zM459.20 726.74h3.20v2.64h-3.20zM459.20 730.70h3.20v1.32h-3.20zM459.20 733.34h3.20v2.64h-3.20zM459.20 737.30h3.20v2.64h-3.20zM459.20 742.58h3.20v2.64h-3.20zM459.20 746.54h3.20v1.32h-3.20zM459.20 749.18h3.20v1.32h-3.20zM459.20 754.46h3.20v5.28h-3.20zM459.20 761.06h3.20v5.28h-3.20zM459.20 767.66h3.20v1.32h-3.20zM459.20 770.30h3.20v1.32h-3.20zM462.40 685.82h3.20v3.96h-3.20zM462.40 695.06h3.20v1.32h-3.20zM462.40 697.70h3.20v2.64h-3.20zM462.40 701.66h3.20v1.32h-3.20zM462.40 705.62h3.20v1.32h-3.20zM462.40 725.42h3.20v2.64h-3.20zM462.40 733.34h3.20v1.32h-3.20zM462.40 735.98h3.20v1.32h-3.20zM462.40 739.94h3.20v1.32h-3.20zM462.40 757.10h3.20v2.64h-3.20zM462.40 762.38h3.20v1.32h-3.20zM462.40 767.66h3.20v2.64h-3.20zM465.60 685.82h3.20v1.32h-3.20zM465.60 688.46h3.20v1.32h-3.20zM465.60 758.42h3.20v1.32h-3.20zM475.20 706.94h3.20v1.32h-3.20zM475.20 709.58h3.20v2.64h-3.20zM475.20 714.86h3.20v1.32h-3.20zM475.20 717.50h3.20v1.32h-3.20zM475.20 734.66h3.20v1.32h-3.20zM475.20 738.62h3.20v1.32h-3.20zM475.20 749.18h3.20v1.32h-3.20zM475.20 759.74h3.20v1.32h-3.20zM481.60 673.94h3.20v1.32h-3.20zM481.60 677.90h3.20v1.32h-3.20zM481.60 684.50h3.20v1.32h-3.20zM481.60 691.10h3.20v1.32h-3.20zM481.60 693.74h3.20v1.32h-3.20zM481.60 696.38h3.20v1.32h-3.20zM481.60 699.02h3.20v1.32h-3.20zM511.34 708.26h1.58v1.32h-1.58zM511.34 712.22h1.58v1.32h-1.58zM511.34 716.18h1.58v1.32h-1.58zM525.56 691.10h1.58v1.32h-1.58zM525.56 693.74h1.58v1.32h-1.58zM531.88 718.82h1.58v1.32h-1.58zM531.88 722.78h1.58v1.32h-1.58zM531.88 733.34h1.58v1.32h-1.58zM531.88 741.26h1.58v1.32h-1.58zM531.88 765.02h1.58v1.32h-1.58zM531.88 767.66h1.58v1.32h-1.58zM546.10 685.82h1.58v1.32h-1.58zM552.20 684.50h1.61v3.96h-1.61zM552.20 689.78h1.61v2.64h-1.61zM552.20 696.38h1.61v3.96h-1.61zM552.20 701.66h1.61v3.96h-1.61zM552.20 706.94h1.61v1.32h-1.61zM557.03 691.10h1.61v1.32h-1.61zM557.03 702.98h1.61v1.32h-1.61zM558.64 672.62h1.61v3.96h-1.61zM558.64 679.22h1.61v1.32h-1.61zM558.64 683.18h1.61v1.32h-1.61zM558.64 687.14h1.61v1.32h-1.61zM558.64 693.74h1.61v6.60h-1.61zM558.64 702.98h1.61v2.64h-1.61zM560.25 675.26h1.61v2.64h-1.61zM560.25 683.18h1.61v1.32h-1.61zM560.25 687.14h1.61v2.64h-1.61zM560.25 691.10h1.61v1.32h-1.61zM560.25 696.38h1.61v1.32h-1.61zM561.86 697.70h1.61v1.32h-1.61zM561.86 701.66h1.61v1.32h-1.61zM561.86 708.26h1.61v1.32h-1.61zM561.86 718.82h1.61v1.32h-1.61zM563.47 706.94h1.61v1.32h-1.61zM565.08 695.06h1.61v1.32h-1.61zM565.08 699.02h1.61v1.32h-1.61zM566.69 697.70h1.61v3.96h-1.61zM566.69 712.22h1.61v1.32h-1.61zM568.30 709.58h1.61v1.32h-1.61zM568.30 717.50h1.61v1.32h-1.61zM568.30 722.78h1.61v1.32h-1.61zM569.91 680.54h1.61v2.64h-1.61zM569.91 695.06h1.61v1.32h-1.61zM569.91 701.66h1.61v1.32h-1.61zM569.91 709.58h1.61v2.64h-1.61zM569.91 720.14h1.61v1.32h-1.61zM571.52 680.54h1.61v1.32h-1.61zM571.52 696.38h1.61v1.32h-1.61zM571.52 705.62h1.61v1.32h-1.61zM571.52 720.14h1.61v1.32h-1.61zM571.52 725.42h1.61v1.32h-1.61zM573.13 706.94h1.61v1.32h-1.61zM573.13 718.82h1.61v1.32h-1.61zM574.74 692.42h1.61v1.32h-1.61zM574.74 701.66h1.61v1.32h-1.61zM574.74 704.30h1.61v1.32h-1.61zM574.74 724.10h1.61v1.32h-1.61zM574.74 726.74h1.61v1.32h-1.61zM576.35 693.74h1.61v1.32h-1.61zM576.35 697.70h1.61v1.32h-1.61zM576.35 709.58h1.61v1.32h-1.61zM576.35 714.86h1.61v1.32h-1.61zM576.35 721.46h1.61v1.32h-1.61zM576.35 728.06h1.61v1.32h-1.61zM577.96 673.94h1.61v2.64h-1.61zM577.96 679.22h1.61v1.32h-1.61zM577.96 699.02h1.61v1.32h-1.61zM579.57 712.22h1.61v1.32h-1.61zM579.57 714.86h1.61v1.32h-1.61zM579.57 717.50h1.61v2.64h-1.61zM579.57 724.10h1.61v1.32h-1.61zM579.57 729.38h1.61v1.32h-1.61zM579.57 732.02h1.61v1.32h-1.61zM581.18 704.30h1.61v2.64h-1.61zM581.18 708.26h1.61v1.32h-1.61zM581.18 710.90h1.61v1.32h-1.61zM581.18 716.18h1.61v1.32h-1.61zM581.18 724.10h1.61v1.32h-1.61zM581.18 728.06h1.61v1.32h-1.61zM582.79 689.78h1.61v1.32h-1.61zM582.79 697.70h1.61v1.32h-1.61zM582.79 701.66h1.61v1.32h-1.61zM584.40 688.46h1.61v2.64h-1.61zM584.40 692.42h1.61v6.60h-1.61zM584.40 700.34h1.61v1.32h-1.61zM584.40 702.98h1.61v2.64h-1.61zM584.40 706.94h1.61v1.32h-1.61zM584.40 712.22h1.61v1.32h-1.61zM584.40 720.14h1.61v2.64h-1.61zM586.01 696.38h1.61v1.32h-1.61zM586.01 699.02h1.61v1.32h-1.61zM586.01 702.98h1.61v3.96h-1.61zM586.01 710.90h1.61v1.32h-1.61zM587.62 701.66h1.61v1.32h-1.61zM589.23 672.62h1.61v2.64h-1.61zM589.23 676.58h1.61v3.96h-1.61zM589.23 683.18h1.61v1.32h-1.61zM589.23 685.82h1.61v1.32h-1.61zM589.23 688.46h1.61v1.32h-1.61zM589.23 692.42h1.61v1.32h-1.61zM589.23 695.06h1.61v1.32h-1.61zM589.23 697.70h1.61v2.64h-1.61zM589.23 701.66h1.61v3.96h-1.61zM589.23 706.94h1.61v1.32h-1.61zM589.23 714.86h1.61v1.32h-1.61zM590.84 687.14h1.61v1.32h-1.61zM590.84 691.10h1.61v1.32h-1.61zM590.84 696.38h1.61v1.32h-1.61zM592.45 705.62h1.61v1.32h-1.61zM592.45 724.10h1.61v2.64h-1.61zM592.45 730.70h1.61v1.32h-1.61zM592.45 734.66h1.61v1.32h-1.61zM592.45 741.26h1.61v1.32h-1.61zM592.45 743.90h1.61v1.32h-1.61zM594.06 679.22h1.61v1.32h-1.61zM594.06 700.34h1.61v1.32h-1.61zM594.06 706.94h1.61v1.32h-1.61zM594.06 718.82h1.61v1.32h-1.61zM595.67 697.70h1.61v1.32h-1.61zM595.67 700.34h1.61v1.32h-1.61zM595.67 702.98h1.61v1.32h-1.61zM595.67 705.62h1.61v1.32h-1.61zM595.67 713.54h1.61v1.32h-1.61zM595.67 721.46h1.61v5.28h-1.61zM595.67 728.06h1.61v1.32h-1.61zM595.67 730.70h1.61v1.32h-1.61zM595.67 738.62h1.61v2.64h-1.61zM595.67 742.58h1.61v2.64h-1.61zM595.67 749.18h1.61v1.32h-1.61zM597.28 687.14h1.61v1.32h-1.61zM597.28 691.10h1.61v1.32h-1.61zM597.28 693.74h1.61v1.32h-1.61zM597.28 701.66h1.61v2.64h-1.61zM597.28 706.94h1.61v1.32h-1.61zM597.28 720.14h1.61v1.32h-1.61zM597.28 725.42h1.61v1.32h-1.61zM597.28 734.66h1.61v2.64h-1.61zM597.28 742.58h1.61v1.32h-1.61zM597.28 747.86h1.61v1.32h-1.61zM598.89 691.10h1.61v2.64h-1.61zM598.89 695.06h1.61v3.96h-1.61zM598.89 702.98h1.61v1.32h-1.61zM598.89 712.22h1.61v5.28h-1.61zM598.89 718.82h1.61v1.32h-1.61zM598.89 721.46h1.61v2.64h-1.61zM598.89 725.42h1.61v2.64h-1.61zM598.89 729.38h1.61v3.96h-1.61zM598.89 735.98h1.61v1.32h-1.61zM598.89 738.62h1.61v1.32h-1.61zM598.89 741.26h1.61v3.96h-1.61zM598.89 747.86h1.61v1.32h-1.61zM598.89 750.50h1.61v2.64h-1.61zM598.89 755.78h1.61v1.32h-1.61zM600.50 708.26h1.61v1.32h-1.61zM600.50 710.90h1.61v1.32h-1.61zM600.50 721.46h1.61v1.32h-1.61zM600.50 724.10h1.61v1.32h-1.61zM600.50 738.62h1.61v1.32h-1.61zM600.50 743.90h1.61v1.32h-1.61zM600.50 746.54h1.61v1.32h-1.61zM600.50 755.78h1.61v1.32h-1.61zM602.11 697.70h1.61v1.32h-1.61zM602.11 701.66h1.61v1.32h-1.61zM602.11 710.90h1.61v1.32h-1.61zM602.11 716.18h1.61v1.32h-1.61zM602.11 722.78h1.61v1.32h-1.61zM602.11 725.42h1.61v2.64h-1.61zM602.11 742.58h1.61v1.32h-1.61zM602.11 749.18h1.61v1.32h-1.61zM602.11 753.14h1.61v1.32h-1.61zM602.11 758.42h1.61v1.32h-1.61zM602.11 761.06h1.61v1.32h-1.61zM603.72 677.90h1.61v2.64h-1.61zM603.72 693.74h1.61v1.32h-1.61zM603.72 696.38h1.61v1.32h-1.61zM603.72 701.66h1.61v1.32h-1.61zM603.72 713.54h1.61v2.64h-1.61zM603.72 729.38h1.61v1.32h-1.61zM603.72 738.62h1.61v1.32h-1.61zM603.72 746.54h1.61v1.32h-1.61zM603.72 749.18h1.61v1.32h-1.61zM603.72 758.42h1.61v1.32h-1.61zM605.33 718.82h1.61v1.32h-1.61zM605.33 734.66h1.61v1.32h-1.61zM605.33 746.54h1.61v2.64h-1.61zM605.33 759.74h1.61v1.32h-1.61zM605.33 762.38h1.61v1.32h-1.61zM605.33 766.34h1.61v1.32h-1.61zM606.94 697.70h1.61v5.28h-1.61zM606.94 720.14h1.61v1.32h-1.61zM606.94 745.22h1.61v1.32h-1.61zM606.94 747.86h1.61v2.64h-1.61zM606.94 753.14h1.61v1.32h-1.61zM606.94 762.38h1.61v1.32h-1.61zM606.94 767.66h1.61v1.32h-1.61zM606.94 770.30h1.61v2.00h-1.61zM608.55 685.82h1.61v1.32h-1.61zM608.55 693.74h1.61v1.32h-1.61zM608.55 706.94h1.61v1.32h-1.61zM608.55 714.86h1.61v1.32h-1.61zM608.55 720.14h1.61v1.32h-1.61zM608.55 722.78h1.61v1.32h-1.61zM608.55 732.02h1.61v1.32h-1.61zM608.55 743.90h1.61v1.32h-1.61zM608.55 747.86h1.61v1.32h-1.61zM608.55 751.82h1.61v1.32h-1.61zM608.55 765.02h1.61v2.64h-1.61zM608.55 771.62h1.61v0.68h-1.61zM610.16 684.50h1.61v1.32h-1.61zM610.16 688.46h1.61v1.32h-1.61zM610.16 691.10h1.61v2.64h-1.61zM610.16 695.06h1.61v1.32h-1.61zM610.16 700.34h1.61v1.32h-1.61zM610.16 705.62h1.61v1.32h-1.61zM610.16 710.90h1.61v5.28h-1.61zM610.16 717.50h1.61v2.64h-1.61zM610.16 724.10h1.61v3.96h-1.61zM610.16 729.38h1.61v6.60h-1.61zM610.16 738.62h1.61v1.32h-1.61zM610.16 745.22h1.61v1.32h-1.61zM610.16 747.86h1.61v1.32h-1.61zM610.16 753.14h1.61v2.64h-1.61zM610.16 757.10h1.61v1.32h-1.61zM610.16 761.06h1.61v11.24h-1.61zM611.77 693.74h1.61v1.32h-1.61zM611.77 704.30h1.61v1.32h-1.61zM611.77 725.42h1.61v1.32h-1.61zM611.77 729.38h1.61v1.32h-1.61zM611.77 733.34h1.61v1.32h-1.61zM611.77 745.22h1.61v1.32h-1.61zM611.77 753.14h1.61v1.32h-1.61zM611.77 755.78h1.61v2.64h-1.61zM611.77 765.02h1.61v1.32h-1.61zM611.77 771.62h1.61v0.68h-1.61zM613.38 696.38h1.61v1.32h-1.61zM613.38 699.02h1.61v2.64h-1.61zM613.38 702.98h1.61v1.32h-1.61zM613.38 708.26h1.61v1.32h-1.61zM613.38 717.50h1.61v1.32h-1.61zM613.38 720.14h1.61v1.32h-1.61zM613.38 732.02h1.61v1.32h-1.61zM613.38 742.58h1.61v1.32h-1.61zM613.38 761.06h1.61v1.32h-1.61zM613.38 763.70h1.61v1.32h-1.61zM613.38 767.66h1.61v3.96h-1.61zM614.99 709.58h1.61v1.32h-1.61zM614.99 739.94h1.61v2.64h-1.61zM614.99 745.22h1.61v2.64h-1.61zM614.99 753.14h1.61v2.64h-1.61zM614.99 771.62h1.61v0.68h-1.61zM616.60 675.26h1.61v1.32h-1.61zM616.60 681.86h1.61v1.32h-1.61zM616.60 685.82h1.61v1.32h-1.61zM616.60 695.06h1.61v1.32h-1.61zM616.60 700.34h1.61v1.32h-1.61zM616.60 716.18h1.61v2.64h-1.61zM616.60 721.46h1.61v1.32h-1.61zM616.60 738.62h1.61v1.32h-1.61zM616.60 746.54h1.61v2.64h-1.61zM616.60 767.66h1.61v1.32h-1.61zM618.21 693.74h1.61v2.64h-1.61zM618.21 704.30h1.61v5.28h-1.61zM618.21 712.22h1.61v3.96h-1.61zM618.21 717.50h1.61v1.32h-1.61zM618.21 722.78h1.61v7.92h-1.61zM618.21 732.02h1.61v1.32h-1.61zM618.21 737.30h1.61v1.32h-1.61zM618.21 739.94h1.61v1.32h-1.61zM618.21 745.22h1.61v5.28h-1.61zM618.21 751.82h1.61v5.28h-1.61zM618.21 758.42h1.61v1.32h-1.61zM618.21 766.34h1.61v3.96h-1.61zM619.82 676.58h1.61v1.32h-1.61zM619.82 695.06h1.61v1.32h-1.61zM619.82 697.70h1.61v1.32h-1.61zM619.82 704.30h1.61v1.32h-1.61zM619.82 706.94h1.61v1.32h-1.61zM619.82 716.18h1.61v2.64h-1.61zM619.82 720.14h1.61v1.32h-1.61zM619.82 725.42h1.61v1.32h-1.61zM619.82 741.26h1.61v1.32h-1.61zM619.82 757.10h1.61v1.32h-1.61zM619.82 766.34h1.61v3.96h-1.61zM621.43 705.62h1.61v1.32h-1.61zM621.43 724.10h1.61v1.32h-1.61zM621.43 737.30h1.61v3.96h-1.61zM621.43 745.22h1.61v1.32h-1.61zM621.43 747.86h1.61v1.32h-1.61zM621.43 753.14h1.61v2.64h-1.61zM621.43 757.10h1.61v1.32h-1.61zM623.04 706.94h1.61v2.64h-1.61zM623.04 716.18h1.61v1.32h-1.61zM623.04 720.14h1.61v1.32h-1.61zM623.04 724.10h1.61v5.28h-1.61zM623.04 730.70h1.61v5.28h-1.61zM623.04 737.30h1.61v7.92h-1.61zM623.04 747.86h1.61v1.32h-1.61zM623.04 750.50h1.61v2.64h-1.61zM623.04 755.78h1.61v5.28h-1.61zM623.04 763.70h1.61v6.60h-1.61zM623.04 771.62h1.61v0.68h-1.61zM624.65 680.54h1.61v2.64h-1.61zM624.65 684.50h1.61v2.64h-1.61zM624.65 689.78h1.61v6.60h-1.61zM624.65 697.70h1.61v3.96h-1.61zM624.65 725.42h1.61v1.32h-1.61zM624.65 728.06h1.61v1.32h-1.61zM624.65 730.70h1.61v1.32h-1.61zM624.65 739.94h1.61v1.32h-1.61zM624.65 742.58h1.61v1.32h-1.61zM624.65 755.78h1.61v2.64h-1.61zM624.65 762.38h1.61v1.32h-1.61zM624.65 766.34h1.61v1.32h-1.61zM626.26 680.54h1.61v1.32h-1.61zM626.26 692.42h1.61v3.96h-1.61zM626.26 699.02h1.61v1.32h-1.61zM626.26 704.30h1.61v1.32h-1.61zM626.26 714.86h1.61v1.32h-1.61zM626.26 720.14h1.61v1.32h-1.61zM626.26 728.06h1.61v1.32h-1.61zM626.26 739.94h1.61v1.32h-1.61zM626.26 742.58h1.61v1.32h-1.61zM627.87 671.30h1.61v1.32h-1.61zM627.87 673.94h1.61v1.32h-1.61zM627.87 679.22h1.61v6.60h-1.61zM627.87 687.14h1.61v2.64h-1.61zM627.87 692.42h1.61v5.28h-1.61zM627.87 701.66h1.61v3.96h-1.61zM627.87 710.90h1.61v1.32h-1.61zM627.87 714.86h1.61v1.32h-1.61zM627.87 721.46h1.61v1.32h-1.61zM627.87 729.38h1.61v1.32h-1.61zM627.87 737.30h1.61v1.32h-1.61zM627.87 750.50h1.61v1.32h-1.61zM627.87 765.02h1.61v1.32h-1.61zM629.48 685.82h1.61v6.60h-1.61zM629.48 693.74h1.61v11.88h-1.61zM631.09 689.78h1.61v1.32h-1.61zM631.09 702.98h1.61v2.64h-1.61zM631.09 743.90h1.61v1.32h-1.61zM631.09 766.34h1.61v1.32h-1.61z" shape-rendering="crispEdges"/>
<path fill="#bcd52c" d="M56.52 692.42h2.52v1.32h-2.52zM66.60 702.98h2.52v1.32h-2.52zM71.64 688.46h2.52v1.32h-2.52zM107.13 672.62h2.53v1.32h-2.53zM107.13 677.90h2.53v1.32h-2.53zM107.13 680.54h2.53v1.32h-2.53zM107.13 685.82h2.53v1.32h-2.53zM107.13 688.46h2.53v1.32h-2.53zM107.13 692.42h2.53v3.96h-2.53zM107.13 700.34h2.53v1.32h-2.53zM107.13 702.98h2.53v1.32h-2.53zM109.66 685.82h2.53v3.96h-2.53zM109.66 691.10h2.53v3.96h-2.53zM109.66 699.02h2.53v1.32h-2.53zM109.66 702.98h2.53v1.32h-2.53zM112.19 692.42h2.53v1.32h-2.53zM112.19 696.38h2.53v2.64h-2.53zM112.19 704.30h2.53v2.64h-2.53zM112.19 710.90h2.53v1.32h-2.53zM112.19 718.82h2.53v1.32h-2.53zM112.19 721.46h2.53v1.32h-2.53zM114.72 671.30h2.53v1.32h-2.53zM114.72 675.26h2.53v1.32h-2.53zM114.72 677.90h2.53v1.32h-2.53zM114.72 680.54h2.53v1.32h-2.53zM114.72 685.82h2.53v1.32h-2.53zM114.72 689.78h2.53v1.32h-2.53zM114.72 692.42h2.53v2.64h-2.53zM119.78 680.54h2.53v1.32h-2.53zM119.78 708.26h2.53v1.32h-2.53zM119.78 714.86h2.53v2.64h-2.53zM119.78 718.82h2.53v2.64h-2.53zM119.78 724.10h2.53v1.32h-2.53zM119.78 726.74h2.53v3.96h-2.53zM122.31 671.30h2.53v2.64h-2.53zM122.31 680.54h2.53v1.32h-2.53zM122.31 699.02h2.53v1.32h-2.53zM122.31 708.26h2.53v1.32h-2.53zM122.31 721.46h2.53v2.64h-2.53zM124.84 671.30h2.53v1.32h-2.53zM124.84 673.94h2.53v1.32h-2.53zM124.84 676.58h2.53v1.32h-2.53zM124.84 680.54h2.53v1.32h-2.53zM124.84 695.06h2.53v1.32h-2.53zM124.84 709.58h2.53v1.32h-2.53zM124.84 714.86h2.53v1.32h-2.53zM124.84 722.78h2.53v1.32h-2.53zM127.37 676.58h2.53v7.92h-2.53zM127.37 685.82h2.53v1.32h-2.53zM127.37 689.78h2.53v1.32h-2.53zM127.37 693.74h2.53v6.60h-2.53zM127.37 701.66h2.53v1.32h-2.53zM127.37 704.30h2.53v3.96h-2.53zM127.37 709.58h2.53v2.64h-2.53zM127.37 720.14h2.53v1.32h-2.53zM127.37 722.78h2.53v1.32h-2.53zM127.37 726.74h2.53v2.64h-2.53zM127.37 730.70h2.53v1.32h-2.53zM127.37 733.34h2.53v1.32h-2.53zM127.37 735.98h2.53v3.96h-2.53zM129.90 700.34h2.53v1.32h-2.53zM132.43 696.38h2.53v7.92h-2.53zM134.96 671.30h2.53v1.32h-2.53zM134.96 676.58h2.53v3.96h-2.53zM134.96 692.42h2.53v1.32h-2.53zM134.96 695.06h2.53v2.64h-2.53zM134.96 702.98h2.53v2.64h-2.53zM137.49 685.82h2.53v1.32h-2.53zM137.49 708.26h2.53v1.32h-2.53zM137.49 713.54h2.53v1.32h-2.53zM137.49 717.50h2.53v1.32h-2.53zM137.49 737.30h2.53v1.32h-2.53zM140.02 693.74h2.53v1.32h-2.53zM140.02 696.38h2.53v1.32h-2.53zM140.02 701.66h2.53v1.32h-2.53zM140.02 708.26h2.53v2.64h-2.53zM140.02 716.18h2.53v1.32h-2.53zM140.02 718.82h2.53v1.32h-2.53zM140.02 724.10h2.53v1.32h-2.53zM140.02 728.06h2.53v9.24h-2.53zM140.02 738.62h2.53v3.96h-2.53zM157.73 692.42h2.53v1.32h-2.53zM157.73 718.82h2.53v1.32h-2.53zM157.73 724.10h2.53v1.32h-2.53zM157.73 726.74h2.53v1.32h-2.53zM157.73 733.34h2.53v1.32h-2.53zM157.73 735.98h2.53v1.32h-2.53zM157.73 739.94h2.53v1.32h-2.53zM160.26 680.54h2.53v1.32h-2.53zM160.26 699.02h2.53v1.32h-2.53zM160.26 706.94h2.53v1.32h-2.53zM160.26 720.14h2.53v3.96h-2.53zM160.26 735.98h2.53v1.32h-2.53zM160.26 747.86h2.53v1.32h-2.53zM160.26 751.82h2.53v1.32h-2.53zM160.26 754.46h2.53v1.32h-2.53zM162.79 699.02h2.53v1.32h-2.53zM165.32 676.58h2.53v1.32h-2.53zM165.32 679.22h2.53v2.64h-2.53zM165.32 684.50h2.53v1.32h-2.53zM165.32 687.14h2.53v1.32h-2.53zM165.32 695.06h2.53v1.32h-2.53zM165.32 704.30h2.53v1.32h-2.53zM167.85 673.94h2.53v2.64h-2.53zM167.85 679.22h2.53v2.64h-2.53zM167.85 683.18h2.53v1.32h-2.53zM167.85 687.14h2.53v2.64h-2.53zM167.85 692.42h2.53v1.32h-2.53zM167.85 700.34h2.53v3.96h-2.53zM167.85 726.74h2.53v1.32h-2.53zM167.85 730.70h2.53v1.32h-2.53zM167.85 745.22h2.53v1.32h-2.53zM167.85 759.74h2.53v1.32h-2.53zM167.85 771.62h2.53v0.68h-2.53zM170.38 676.58h2.53v1.32h-2.53zM170.38 679.22h2.53v1.32h-2.53zM170.38 681.86h2.53v2.64h-2.53zM170.38 692.42h2.53v1.32h-2.53zM170.38 695.06h2.53v1.32h-2.53zM170.38 701.66h2.53v2.64h-2.53zM177.97 705.62h2.53v1.32h-2.53zM177.97 713.54h2.53v1.32h-2.53zM177.97 716.18h2.53v1.32h-2.53zM177.97 718.82h2.53v2.64h-2.53zM177.97 722.78h2.53v2.64h-2.53zM177.97 730.70h2.53v1.32h-2.53zM177.97 733.34h2.53v1.32h-2.53zM177.97 757.10h2.53v1.32h-2.53zM177.97 770.30h2.53v1.32h-2.53zM180.50 684.50h2.53v1.32h-2.53zM180.50 689.78h2.53v1.32h-2.53zM180.50 700.34h2.53v1.32h-2.53zM180.50 708.26h2.53v1.32h-2.53zM180.50 716.18h2.53v1.32h-2.53zM180.50 728.06h2.53v1.32h-2.53zM180.50 735.98h2.53v1.32h-2.53zM180.50 738.62h2.53v1.32h-2.53zM180.50 749.18h2.53v2.64h-2.53zM180.50 761.06h2.53v2.64h-2.53zM183.03 687.14h2.53v1.32h-2.53zM183.03 692.42h2.53v1.32h-2.53zM183.03 695.06h2.53v2.64h-2.53zM183.03 700.34h2.53v2.64h-2.53zM183.03 704.30h2.53v1.32h-2.53zM183.03 710.90h2.53v1.32h-2.53zM183.03 717.50h2.53v1.32h-2.53zM183.03 722.78h2.53v1.32h-2.53zM183.03 726.74h2.53v1.32h-2.53zM183.03 729.38h2.53v2.64h-2.53zM183.03 733.34h2.53v1.32h-2.53zM183.03 749.18h2.53v1.32h-2.53zM183.03 757.10h2.53v1.32h-2.53zM183.03 759.74h2.53v1.32h-2.53zM183.03 766.34h2.53v1.32h-2.53zM183.03 768.98h2.53v2.64h-2.53zM300.80 692.42h1.62v1.32h-1.62zM300.80 697.70h1.62v2.64h-1.62zM305.66 702.98h1.62v1.32h-1.62zM308.90 697.70h1.62v1.32h-1.62zM308.90 700.34h1.62v1.32h-1.62zM310.52 699.02h1.62v2.64h-1.62zM312.14 701.66h1.62v1.32h-1.62zM313.76 679.22h1.62v1.32h-1.62zM313.76 681.86h1.62v1.32h-1.62zM313.76 701.66h1.62v1.32h-1.62zM313.76 716.18h1.62v1.32h-1.62zM318.62 700.34h1.62v1.32h-1.62zM320.24 700.34h1.62v2.64h-1.62zM321.86 679.22h1.62v1.32h-1.62zM321.86 695.06h1.62v1.32h-1.62zM325.10 681.86h1.62v1.32h-1.62zM325.10 685.82h1.62v1.32h-1.62zM325.10 696.38h1.62v1.32h-1.62zM325.10 699.02h1.62v1.32h-1.62zM325.10 708.26h1.62v1.32h-1.62zM325.10 712.22h1.62v2.64h-1.62zM325.10 716.18h1.62v1.32h-1.62zM325.10 730.70h1.62v2.64h-1.62zM325.10 747.86h1.62v2.64h-1.62zM325.10 755.78h1.62v1.32h-1.62zM326.72 671.30h1.62v2.64h-1.62zM326.72 679.22h1.62v1.32h-1.62zM326.72 681.86h1.62v1.32h-1.62zM326.72 684.50h1.62v6.60h-1.62zM326.72 692.42h1.62v2.64h-1.62zM326.72 696.38h1.62v3.96h-1.62zM326.72 701.66h1.62v3.96h-1.62zM329.96 700.34h1.62v1.32h-1.62zM331.58 692.42h1.62v1.32h-1.62zM331.58 697.70h1.62v1.32h-1.62zM331.58 704.30h1.62v1.32h-1.62zM360.00 708.26h3.20v1.32h-3.20zM360.00 712.22h3.20v1.32h-3.20zM363.20 673.94h3.20v1.32h-3.20zM363.20 687.14h3.20v3.96h-3.20zM363.20 699.02h3.20v1.32h-3.20zM363.20 710.90h3.20v2.64h-3.20zM363.20 714.86h3.20v1.32h-3.20zM369.60 699.02h3.20v1.32h-3.20zM372.80 725.42h3.20v1.32h-3.20zM376.00 673.94h3.20v1.32h-3.20zM376.00 677.90h3.20v1.32h-3.20zM376.00 684.50h3.20v1.32h-3.20zM376.00 691.10h3.20v2.64h-3.20zM376.00 701.66h3.20v2.64h-3.20zM385.60 705.62h3.20v3.96h-3.20zM385.60 713.54h3.20v1.32h-3.20zM385.60 716.18h3.20v3.96h-3.20zM385.60 721.46h3.20v1.32h-3.20zM385.60 725.42h3.20v2.64h-3.20zM385.60 729.38h3.20v2.64h-3.20zM385.60 733.34h3.20v1.32h-3.20zM385.60 735.98h3.20v1.32h-3.20zM392.00 681.86h3.20v1.32h-3.20zM392.00 684.50h3.20v1.32h-3.20zM392.00 689.78h3.20v1.32h-3.20zM392.00 732.02h3.20v1.32h-3.20zM398.40 699.02h3.20v1.32h-3.20zM404.80 687.14h3.20v2.64h-3.20zM404.80 695.06h3.20v2.64h-3.20zM404.80 699.02h3.20v1.32h-3.20zM404.80 701.66h3.20v1.32h-3.20zM404.80 704.30h3.20v1.32h-3.20zM404.80 733.34h3.20v1.32h-3.20zM404.80 739.94h3.20v1.32h-3.20zM411.20 738.62h3.20v1.32h-3.20zM420.80 713.54h3.20v1.32h-3.20zM424.00 695.06h3.20v1.32h-3.20zM424.00 699.02h3.20v1.32h-3.20zM424.00 710.90h3.20v1.32h-3.20zM424.00 747.86h3.20v1.32h-3.20zM424.00 751.82h3.20v1.32h-3.20zM430.40 687.14h3.20v1.32h-3.20zM430.40 732.02h3.20v1.32h-3.20zM430.40 746.54h3.20v1.32h-3.20zM430.40 757.10h3.20v1.32h-3.20zM430.40 759.74h3.20v1.32h-3.20zM430.40 762.38h3.20v1.32h-3.20zM430.40 765.02h3.20v1.32h-3.20zM433.60 709.58h3.20v1.32h-3.20zM433.60 725.42h3.20v1.32h-3.20zM433.60 737.30h3.20v1.32h-3.20zM433.60 746.54h3.20v1.32h-3.20zM436.80 708.26h3.20v3.96h-3.20zM436.80 713.54h3.20v1.32h-3.20zM436.80 716.18h3.20v3.96h-3.20zM436.80 721.46h3.20v3.96h-3.20zM436.80 726.74h3.20v17.16h-3.20zM436.80 746.54h3.20v2.64h-3.20zM436.80 754.46h3.20v1.32h-3.20zM436.80 759.74h3.20v5.28h-3.20zM436.80 766.34h3.20v2.64h-3.20zM436.80 771.62h3.20v0.68h-3.20zM440.00 712.22h3.20v1.32h-3.20zM440.00 722.78h3.20v1.32h-3.20zM440.00 725.42h3.20v1.32h-3.20zM440.00 728.06h3.20v1.32h-3.20zM440.00 735.98h3.20v1.32h-3.20zM440.00 739.94h3.20v1.32h-3.20zM440.00 743.90h3.20v1.32h-3.20zM440.00 763.70h3.20v1.32h-3.20zM443.20 701.66h3.20v1.32h-3.20zM443.20 761.06h3.20v1.32h-3.20zM446.40 721.46h3.20v1.32h-3.20zM456.00 710.90h3.20v2.64h-3.20zM456.00 716.18h3.20v3.96h-3.20zM456.00 722.78h3.20v1.32h-3.20zM456.00 725.42h3.20v5.28h-3.20zM456.00 734.66h3.20v3.96h-3.20zM456.00 743.90h3.20v1.32h-3.20zM456.00 747.86h3.20v1.32h-3.20zM456.00 751.82h3.20v6.60h-3.20zM456.00 761.06h3.20v2.64h-3.20zM456.00 767.66h3.20v2.64h-3.20zM459.20 679.22h3.20v1.32h-3.20zM459.20 732.02h3.20v1.32h-3.20zM459.20 751.82h3.20v1.32h-3.20zM459.20 766.34h3.20v1.32h-3.20zM459.20 768.98h3.20v1.32h-3.20zM544.52 705.62h1.58v2.64h-1.58zM544.52 712.22h1.58v1.32h-1.58zM544.52 730.70h1.58v1.32h-1.58zM544.52 735.98h1.58v1.32h-1.58zM544.52 745.22h1.58v2.64h-1.58zM544.52 757.10h1.58v2.64h-1.58zM544.52 766.34h1.58v1.32h-1.58zM552.20 688.46h1.61v1.32h-1.61zM552.20 693.74h1.61v1.32h-1.61zM553.81 691.10h1.61v1.32h-1.61zM558.64 685.82h1.61v1.32h-1.61zM558.64 688.46h1.61v3.96h-1.61zM558.64 700.34h1.61v1.32h-1.61zM558.64 710.90h1.61v1.32h-1.61zM560.25 673.94h1.61v1.32h-1.61zM560.25 681.86h1.61v1.32h-1.61zM560.25 685.82h1.61v1.32h-1.61zM560.25 689.78h1.61v1.32h-1.61zM560.25 692.42h1.61v2.64h-1.61zM560.25 697.70h1.61v3.96h-1.61zM560.25 702.98h1.61v1.32h-1.61zM569.91 672.62h1.61v1.32h-1.61zM573.13 700.34h1.61v1.32h-1.61zM584.40 691.10h1.61v1.32h-1.61zM586.01 697.70h1.61v1.32h-1.61zM586.01 701.66h1.61v1.32h-1.61zM586.01 716.18h1.61v1.32h-1.61zM589.23 680.54h1.61v1.32h-1.61zM589.23 684.50h1.61v1.32h-1.61zM589.23 687.14h1.61v1.32h-1.61zM589.23 700.34h1.61v1.32h-1.61zM592.45 713.54h1.61v1.32h-1.61zM595.67 695.06h1.61v1.32h-1.61zM595.67 699.02h1.61v1.32h-1.61zM595.67 701.66h1.61v1.32h-1.61zM595.67 704.30h1.61v1.32h-1.61zM595.67 706.94h1.61v1.32h-1.61zM595.67 709.58h1.61v3.96h-1.61zM595.67 716.18h1.61v1.32h-1.61zM595.67 720.14h1.61v1.32h-1.61zM595.67 733.34h1.61v1.32h-1.61zM595.67 745.22h1.61v3.96h-1.61zM597.28 683.18h1.61v1.32h-1.61zM597.28 697.70h1.61v1.32h-1.61zM597.28 733.34h1.61v1.32h-1.61zM598.89 699.02h1.61v3.96h-1.61zM598.89 709.58h1.61v2.64h-1.61zM598.89 720.14h1.61v1.32h-1.61zM598.89 734.66h1.61v1.32h-1.61zM598.89 754.46h1.61v1.32h-1.61zM600.50 689.78h1.61v1.32h-1.61zM600.50 693.74h1.61v2.64h-1.61zM600.50 697.70h1.61v1.32h-1.61zM600.50 700.34h1.61v5.28h-1.61zM603.72 673.94h1.61v1.32h-1.61zM605.33 709.58h1.61v2.64h-1.61zM605.33 713.54h1.61v5.28h-1.61zM605.33 720.14h1.61v7.92h-1.61zM605.33 730.70h1.61v3.96h-1.61zM605.33 737.30h1.61v1.32h-1.61zM605.33 739.94h1.61v6.60h-1.61zM605.33 750.50h1.61v9.24h-1.61zM605.33 767.66h1.61v1.32h-1.61zM608.55 683.18h1.61v2.64h-1.61zM608.55 687.14h1.61v5.28h-1.61zM608.55 695.06h1.61v1.32h-1.61zM608.55 700.34h1.61v3.96h-1.61zM610.16 683.18h1.61v1.32h-1.61zM610.16 685.82h1.61v2.64h-1.61zM610.16 689.78h1.61v1.32h-1.61zM610.16 696.38h1.61v1.32h-1.61zM610.16 701.66h1.61v3.96h-1.61zM610.16 709.58h1.61v1.32h-1.61zM610.16 721.46h1.61v2.64h-1.61zM610.16 750.50h1.61v1.32h-1.61zM610.16 759.74h1.61v1.32h-1.61zM611.77 697.70h1.61v3.96h-1.61zM611.77 702.98h1.61v1.32h-1.61zM613.38 689.78h1.61v6.60h-1.61zM613.38 697.70h1.61v1.32h-1.61zM613.38 701.66h1.61v1.32h-1.61zM613.38 704.30h1.61v1.32h-1.61zM618.21 709.58h1.61v1.32h-1.61zM618.21 733.34h1.61v1.32h-1.61zM618.21 735.98h1.61v1.32h-1.61zM618.21 750.50h1.61v1.32h-1.61zM618.21 762.38h1.61v1.32h-1.61zM618.21 771.62h1.61v0.68h-1.61zM621.43 706.94h1.61v1.32h-1.61zM621.43 709.58h1.61v7.92h-1.61zM621.43 720.14h1.61v3.96h-1.61zM621.43 725.42h1.61v2.64h-1.61zM621.43 729.38h1.61v2.64h-1.61zM621.43 733.34h1.61v3.96h-1.61zM621.43 742.58h1.61v2.64h-1.61zM621.43 749.18h1.61v1.32h-1.61zM621.43 751.82h1.61v1.32h-1.61zM621.43 758.42h1.61v1.32h-1.61zM621.43 765.02h1.61v3.96h-1.61zM621.43 771.62h1.61v0.68h-1.61zM623.04 709.58h1.61v1.32h-1.61zM623.04 712.22h1.61v1.32h-1.61zM623.04 735.98h1.61v1.32h-1.61zM623.04 745.22h1.61v2.64h-1.61zM623.04 754.46h1.61v1.32h-1.61zM623.04 761.06h1.61v2.64h-1.61zM623.04 770.30h1.61v1.32h-1.61zM624.65 683.18h1.61v1.32h-1.61zM624.65 687.14h1.61v2.64h-1.61zM624.65 718.82h1.61v1.32h-1.61zM626.26 758.42h1.61v1.32h-1.61zM627.87 672.62h1.61v1.32h-1.61zM627.87 677.90h1.61v1.32h-1.61zM627.87 697.70h1.61v3.96h-1.61zM631.09 728.06h1.61v1.32h-1.61z" shape-rendering="crispEdges"/>
<path fill="#3e5a56" d="M66.60 671.30h2.52v1.32h-2.52zM66.60 673.94h2.52v1.32h-2.52zM66.60 683.18h2.52v1.32h-2.52zM66.60 692.42h2.52v1.32h-2.52zM66.60 695.06h2.52v1.32h-2.52zM66.60 729.38h2.52v1.32h-2.52zM69.12 691.10h2.52v2.64h-2.52zM69.12 697.70h2.52v1.32h-2.52zM69.12 700.34h2.52v2.64h-2.52zM69.12 704.30h2.52v1.32h-2.52zM74.16 687.14h2.52v5.28h-2.52zM74.16 696.38h2.52v1.32h-2.52zM74.16 699.02h2.52v1.32h-2.52zM74.16 701.66h2.52v1.32h-2.52zM74.16 704.30h2.52v1.32h-2.52zM74.16 706.94h2.52v1.32h-2.52zM74.16 720.14h2.52v2.64h-2.52zM74.16 726.74h2.52v1.32h-2.52zM74.16 734.66h2.52v1.32h-2.52zM76.68 688.46h2.52v1.32h-2.52zM76.68 692.42h2.52v1.32h-2.52zM76.68 695.06h2.52v10.56h-2.52zM76.68 730.70h2.52v1.32h-2.52zM76.68 733.34h2.52v1.32h-2.52zM79.20 713.54h2.52v1.32h-2.52zM79.20 720.14h2.52v1.32h-2.52zM79.20 722.78h2.52v1.32h-2.52zM79.20 734.66h2.52v2.64h-2.52zM81.72 680.54h2.52v1.32h-2.52zM81.72 685.82h2.52v1.32h-2.52zM81.72 726.74h2.52v1.32h-2.52zM84.24 724.10h2.52v1.32h-2.52zM89.28 739.94h2.52v1.32h-2.52zM91.80 671.30h2.52v1.32h-2.52zM91.80 675.26h2.52v1.32h-2.52zM91.80 689.78h2.52v2.64h-2.52zM94.32 687.14h2.52v1.32h-2.52zM94.32 691.10h2.52v1.32h-2.52zM94.32 701.66h2.52v1.32h-2.52zM94.32 720.14h2.52v1.32h-2.52zM94.32 726.74h2.52v1.32h-2.52zM99.36 754.46h2.52v1.32h-2.52zM99.36 766.34h2.52v1.32h-2.52zM104.60 684.50h2.53v1.32h-2.53zM104.60 688.46h2.53v1.32h-2.53zM104.60 693.74h2.53v1.32h-2.53zM104.60 696.38h2.53v1.32h-2.53zM104.60 702.98h2.53v1.32h-2.53zM104.60 716.18h2.53v1.32h-2.53zM107.13 705.62h2.53v3.96h-2.53zM107.13 710.90h2.53v1.32h-2.53zM107.13 713.54h2.53v1.32h-2.53zM107.13 717.50h2.53v2.64h-2.53zM109.66 706.94h2.53v1.32h-2.53zM109.66 709.58h2.53v1.32h-2.53zM109.66 713.54h2.53v2.64h-2.53zM109.66 717.50h2.53v2.64h-2.53zM117.25 677.90h2.53v1.32h-2.53zM117.25 697.70h2.53v1.32h-2.53zM132.43 706.94h2.53v1.32h-2.53zM132.43 710.90h2.53v2.64h-2.53zM132.43 714.86h2.53v2.64h-2.53zM132.43 718.82h2.53v1.32h-2.53zM132.43 721.46h2.53v1.32h-2.53zM132.43 726.74h2.53v1.32h-2.53zM132.43 735.98h2.53v2.64h-2.53zM134.96 705.62h2.53v3.96h-2.53zM134.96 710.90h2.53v6.60h-2.53zM134.96 718.82h2.53v1.32h-2.53zM134.96 721.46h2.53v1.32h-2.53zM134.96 724.10h2.53v1.32h-2.53zM134.96 726.74h2.53v2.64h-2.53zM134.96 733.34h2.53v3.96h-2.53zM134.96 739.94h2.53v2.64h-2.53zM142.55 728.06h2.53v1.32h-2.53zM142.55 737.30h2.53v1.32h-2.53zM145.08 673.94h2.53v1.32h-2.53zM145.08 676.58h2.53v1.32h-2.53zM145.08 687.14h2.53v2.64h-2.53zM145.08 730.70h2.53v1.32h-2.53zM147.61 739.94h2.53v1.32h-2.53zM150.14 708.26h2.53v3.96h-2.53zM150.14 743.90h2.53v1.32h-2.53zM155.20 706.94h2.53v1.32h-2.53zM155.20 709.58h2.53v2.64h-2.53zM155.20 716.18h2.53v5.28h-2.53zM155.20 733.34h2.53v2.64h-2.53zM155.20 737.30h2.53v3.96h-2.53zM155.20 742.58h2.53v1.32h-2.53zM155.20 746.54h2.53v2.64h-2.53zM162.79 705.62h2.53v5.28h-2.53zM162.79 712.22h2.53v3.96h-2.53zM162.79 717.50h2.53v2.64h-2.53zM162.79 721.46h2.53v1.32h-2.53zM162.79 725.42h2.53v6.60h-2.53zM162.79 733.34h2.53v1.32h-2.53zM162.79 735.98h2.53v2.64h-2.53zM162.79 741.26h2.53v2.64h-2.53zM162.79 745.22h2.53v5.28h-2.53zM162.79 751.82h2.53v1.32h-2.53zM162.79 754.46h2.53v2.64h-2.53zM162.79 758.42h2.53v1.32h-2.53zM165.32 706.94h2.53v1.32h-2.53zM165.32 709.58h2.53v1.32h-2.53zM165.32 714.86h2.53v2.64h-2.53zM165.32 728.06h2.53v1.32h-2.53zM165.32 746.54h2.53v1.32h-2.53zM165.32 755.78h2.53v1.32h-2.53zM172.91 692.42h2.53v1.32h-2.53zM172.91 702.98h2.53v1.32h-2.53zM172.91 733.34h2.53v1.32h-2.53zM172.91 755.78h2.53v1.32h-2.53zM175.44 672.62h2.53v1.32h-2.53zM175.44 702.98h2.53v1.32h-2.53zM175.44 758.42h2.53v1.32h-2.53zM177.97 762.38h2.53v1.32h-2.53zM185.56 672.62h2.53v2.64h-2.53zM185.56 676.58h2.53v1.32h-2.53zM185.56 679.22h2.53v2.64h-2.53zM185.56 684.50h2.53v3.96h-2.53zM185.56 689.78h2.53v1.32h-2.53zM185.56 695.06h2.53v10.56h-2.53zM185.56 726.74h2.53v1.32h-2.53zM185.56 733.34h2.53v1.32h-2.53zM185.56 759.74h2.53v1.32h-2.53zM204.60 673.94h1.60v2.64h-1.60zM204.60 679.22h1.60v1.32h-1.60zM204.60 689.78h1.60v1.32h-1.60zM207.81 705.62h1.60v2.64h-1.60zM207.81 709.58h1.60v1.32h-1.60zM207.81 712.22h1.60v5.28h-1.60zM207.81 718.82h1.60v1.32h-1.60zM209.41 679.22h1.60v1.32h-1.60zM209.41 699.02h1.60v1.32h-1.60zM212.62 705.62h1.60v2.64h-1.60zM212.62 709.58h1.60v2.64h-1.60zM212.62 713.54h1.60v1.32h-1.60zM212.62 716.18h1.60v1.32h-1.60zM212.62 718.82h1.60v1.32h-1.60zM214.22 688.46h1.60v1.32h-1.60zM214.22 691.10h1.60v3.96h-1.60zM214.22 696.38h1.60v3.96h-1.60zM214.22 701.66h1.60v1.32h-1.60zM215.82 706.94h1.60v1.32h-1.60zM222.24 689.78h1.60v1.32h-1.60zM225.44 708.26h1.60v1.32h-1.60zM225.44 712.22h1.60v2.64h-1.60zM225.44 718.82h1.60v2.64h-1.60zM225.44 724.10h1.60v1.32h-1.60zM227.04 705.62h1.60v2.64h-1.60zM227.04 717.50h1.60v1.32h-1.60zM227.04 721.46h1.60v2.64h-1.60zM228.65 692.42h1.60v9.24h-1.60zM233.46 680.54h1.60v1.32h-1.60zM233.46 687.14h1.60v1.32h-1.60zM236.66 691.10h1.60v1.32h-1.60zM238.27 705.62h1.60v1.32h-1.60zM238.27 717.50h1.60v1.32h-1.60zM238.27 721.46h1.60v1.32h-1.60zM238.27 726.74h1.60v1.32h-1.60zM239.87 701.66h1.60v1.32h-1.60zM243.07 676.58h1.60v1.32h-1.60zM243.07 689.78h1.60v2.64h-1.60zM243.07 695.06h1.60v1.32h-1.60zM243.07 726.74h1.60v1.32h-1.60zM244.68 691.10h1.60v1.32h-1.60zM244.68 695.06h1.60v1.32h-1.60zM244.68 699.02h1.60v1.32h-1.60zM244.68 702.98h1.60v1.32h-1.60zM244.68 721.46h1.60v1.32h-1.60zM244.68 725.42h1.60v3.96h-1.60zM244.68 730.70h1.60v1.32h-1.60zM246.28 673.94h1.60v1.32h-1.60zM246.28 679.22h1.60v1.32h-1.60zM246.28 697.70h1.60v1.32h-1.60zM246.28 700.34h1.60v1.32h-1.60zM246.28 702.98h1.60v1.32h-1.60zM249.49 706.94h1.60v6.60h-1.60zM249.49 716.18h1.60v2.64h-1.60zM249.49 721.46h1.60v1.32h-1.60zM249.49 724.10h1.60v3.96h-1.60zM249.49 729.38h1.60v1.32h-1.60zM249.49 732.02h1.60v3.96h-1.60zM251.09 732.02h1.60v2.64h-1.60zM254.30 697.70h1.60v1.32h-1.60zM254.30 705.62h1.60v1.32h-1.60zM254.30 726.74h1.60v1.32h-1.60zM255.90 701.66h1.60v1.32h-1.60zM255.90 704.30h1.60v1.32h-1.60zM259.11 721.46h1.60v1.32h-1.60zM260.71 709.58h1.60v1.32h-1.60zM260.71 737.30h1.60v1.32h-1.60zM262.31 679.22h1.60v1.32h-1.60zM263.91 735.98h1.60v1.32h-1.60zM265.52 687.14h1.60v1.32h-1.60zM265.52 716.18h1.60v1.32h-1.60zM265.52 742.58h1.60v1.32h-1.60zM267.12 671.30h1.60v1.32h-1.60zM267.12 753.14h1.60v1.32h-1.60zM268.72 688.46h1.60v1.32h-1.60zM271.93 689.78h1.60v1.32h-1.60zM273.53 696.38h1.60v6.60h-1.60zM273.53 704.30h1.60v1.32h-1.60zM273.53 709.58h1.60v1.32h-1.60zM273.53 712.22h1.60v1.32h-1.60zM273.53 730.70h1.60v1.32h-1.60zM273.53 733.34h1.60v1.32h-1.60zM273.53 735.98h1.60v1.32h-1.60zM273.53 742.58h1.60v2.64h-1.60zM273.53 757.10h1.60v1.32h-1.60zM273.53 765.02h1.60v1.32h-1.60zM273.53 767.66h1.60v1.32h-1.60zM275.13 697.70h1.60v2.64h-1.60zM276.74 738.62h1.60v1.32h-1.60zM276.74 754.46h1.60v1.32h-1.60zM279.94 702.98h1.60v1.32h-1.60zM279.94 705.62h1.60v2.64h-1.60zM279.94 709.58h1.60v2.64h-1.60zM279.94 717.50h1.60v5.28h-1.60zM279.94 724.10h1.60v2.64h-1.60zM279.94 728.06h1.60v2.64h-1.60zM279.94 732.02h1.60v1.32h-1.60zM279.94 735.98h1.60v1.32h-1.60zM279.94 738.62h1.60v1.32h-1.60zM279.94 746.54h1.60v1.32h-1.60zM279.94 749.18h1.60v1.32h-1.60zM279.94 753.14h1.60v1.32h-1.60zM279.94 761.06h1.60v3.96h-1.60zM279.94 766.34h1.60v5.96h-1.60zM283.15 704.30h1.60v1.32h-1.60zM283.15 741.26h1.60v1.32h-1.60zM284.75 680.54h1.60v2.64h-1.60zM284.75 684.50h1.60v1.32h-1.60zM284.75 691.10h1.60v1.32h-1.60zM284.75 695.06h1.60v2.64h-1.60zM284.75 704.30h1.60v1.32h-1.60zM286.36 742.58h1.60v1.32h-1.60zM286.36 771.62h1.60v0.68h-1.60zM287.96 689.78h1.60v2.64h-1.60zM287.96 695.06h1.60v1.32h-1.60zM287.96 704.30h1.60v1.32h-1.60zM287.96 709.58h1.60v1.32h-1.60zM289.56 725.42h1.60v1.32h-1.60zM289.56 729.38h1.60v1.32h-1.60zM291.16 683.18h1.60v1.32h-1.60zM291.16 730.70h1.60v1.32h-1.60zM291.16 733.34h1.60v1.32h-1.60zM291.16 750.50h1.60v1.32h-1.60zM291.16 758.42h1.60v2.64h-1.60zM292.77 692.42h1.60v1.32h-1.60zM292.77 734.66h1.60v1.32h-1.60zM295.97 721.46h1.60v1.32h-1.60zM295.97 725.42h1.60v1.32h-1.60zM305.66 713.54h1.62v1.32h-1.62zM305.66 717.50h1.62v1.32h-1.62zM307.28 693.74h1.62v1.32h-1.62zM307.28 697.70h1.62v1.32h-1.62zM307.28 702.98h1.62v1.32h-1.62zM307.28 710.90h1.62v2.64h-1.62zM308.90 706.94h1.62v2.64h-1.62zM308.90 716.18h1.62v1.32h-1.62zM308.90 720.14h1.62v1.32h-1.62zM310.52 705.62h1.62v1.32h-1.62zM310.52 714.86h1.62v1.32h-1.62zM310.52 718.82h1.62v1.32h-1.62zM312.14 706.94h1.62v3.96h-1.62zM312.14 718.82h1.62v1.32h-1.62zM312.14 722.78h1.62v1.32h-1.62zM315.38 721.46h1.62v1.32h-1.62zM317.00 697.70h1.62v1.32h-1.62zM317.00 700.34h1.62v1.32h-1.62zM317.00 702.98h1.62v1.32h-1.62zM317.00 705.62h1.62v1.32h-1.62zM317.00 712.22h1.62v1.32h-1.62zM317.00 717.50h1.62v1.32h-1.62zM317.00 722.78h1.62v1.32h-1.62zM318.62 710.90h1.62v1.32h-1.62zM320.24 705.62h1.62v1.32h-1.62zM320.24 708.26h1.62v1.32h-1.62zM320.24 712.22h1.62v1.32h-1.62zM320.24 720.14h1.62v1.32h-1.62zM320.24 729.38h1.62v1.32h-1.62zM321.86 713.54h1.62v1.32h-1.62zM323.48 729.38h1.62v1.32h-1.62zM323.48 739.94h1.62v1.32h-1.62zM325.10 721.46h1.62v1.32h-1.62zM325.10 726.74h1.62v1.32h-1.62zM326.72 754.46h1.62v1.32h-1.62zM328.34 710.90h1.62v1.32h-1.62zM329.96 713.54h1.62v1.32h-1.62zM331.58 708.26h1.62v1.32h-1.62zM331.58 712.22h1.62v1.32h-1.62zM331.58 716.18h1.62v2.64h-1.62zM331.58 720.14h1.62v1.32h-1.62zM331.58 724.10h1.62v1.32h-1.62zM331.58 729.38h1.62v1.32h-1.62zM331.58 738.62h1.62v1.32h-1.62zM331.58 741.26h1.62v1.32h-1.62zM331.58 750.50h1.62v2.64h-1.62zM331.58 758.42h1.62v1.32h-1.62zM331.58 767.66h1.62v1.32h-1.62zM333.20 713.54h1.62v1.32h-1.62zM333.20 716.18h1.62v1.32h-1.62zM333.20 729.38h1.62v2.64h-1.62zM333.20 739.94h1.62v3.96h-1.62zM333.20 750.50h1.62v2.64h-1.62zM333.20 757.10h1.62v1.32h-1.62zM333.20 763.70h1.62v1.32h-1.62zM333.20 766.34h1.62v1.32h-1.62zM334.82 705.62h1.62v3.96h-1.62zM334.82 710.90h1.62v3.96h-1.62zM334.82 716.18h1.62v1.32h-1.62zM334.82 720.14h1.62v2.64h-1.62zM334.82 726.74h1.62v1.32h-1.62zM334.82 730.70h1.62v2.64h-1.62zM334.82 738.62h1.62v2.64h-1.62zM334.82 745.22h1.62v1.32h-1.62zM334.82 750.50h1.62v1.32h-1.62zM334.82 758.42h1.62v2.64h-1.62zM334.82 765.02h1.62v2.64h-1.62zM334.82 770.30h1.62v2.00h-1.62zM350.60 705.62h3.10v1.32h-3.10zM350.60 716.18h3.10v1.32h-3.10zM350.60 718.82h3.10v2.64h-3.10zM350.60 722.78h3.10v1.32h-3.10zM350.60 729.38h3.10v1.32h-3.10zM350.60 735.98h3.10v1.32h-3.10zM360.00 671.30h3.20v3.96h-3.20zM360.00 684.50h3.20v1.32h-3.20zM360.00 687.14h3.20v1.32h-3.20zM360.00 692.42h3.20v1.32h-3.20zM360.00 695.06h3.20v2.64h-3.20zM360.00 699.02h3.20v3.96h-3.20zM369.60 676.58h3.20v1.32h-3.20zM369.60 680.54h3.20v1.32h-3.20zM369.60 687.14h3.20v1.32h-3.20zM369.60 693.74h3.20v3.96h-3.20zM369.60 700.34h3.20v1.32h-3.20zM369.60 705.62h3.20v1.32h-3.20zM369.60 712.22h3.20v1.32h-3.20zM369.60 720.14h3.20v1.32h-3.20zM376.00 706.94h3.20v1.32h-3.20zM376.00 714.86h3.20v1.32h-3.20zM376.00 717.50h3.20v1.32h-3.20zM376.00 721.46h3.20v2.64h-3.20zM385.60 693.74h3.20v1.32h-3.20zM408.00 721.46h3.20v1.32h-3.20zM408.00 725.42h3.20v1.32h-3.20zM408.00 733.34h3.20v1.32h-3.20zM408.00 739.94h3.20v2.64h-3.20zM411.20 741.26h3.20v1.32h-3.20zM414.40 700.34h3.20v2.64h-3.20zM414.40 704.30h3.20v1.32h-3.20zM420.80 683.18h3.20v1.32h-3.20zM420.80 697.70h3.20v2.64h-3.20zM420.80 702.98h3.20v2.64h-3.20zM427.20 741.26h3.20v1.32h-3.20zM433.60 766.34h3.20v1.32h-3.20zM443.20 688.46h3.20v1.32h-3.20zM446.40 706.94h3.20v1.32h-3.20zM446.40 730.70h3.20v1.32h-3.20zM446.40 733.34h3.20v1.32h-3.20zM446.40 735.98h3.20v1.32h-3.20zM446.40 739.94h3.20v2.64h-3.20zM446.40 750.50h3.20v1.32h-3.20zM446.40 753.14h3.20v2.64h-3.20zM446.40 759.74h3.20v1.32h-3.20zM446.40 767.66h3.20v1.32h-3.20zM449.60 709.58h3.20v2.64h-3.20zM449.60 722.78h3.20v1.32h-3.20zM449.60 732.02h3.20v1.32h-3.20zM449.60 738.62h3.20v1.32h-3.20zM449.60 741.26h3.20v1.32h-3.20zM449.60 743.90h3.20v1.32h-3.20zM449.60 749.18h3.20v1.32h-3.20zM449.60 751.82h3.20v1.32h-3.20zM449.60 758.42h3.20v2.64h-3.20zM449.60 765.02h3.20v1.32h-3.20zM449.60 768.98h3.20v1.32h-3.20zM449.60 771.62h3.20v0.68h-3.20zM452.80 733.34h3.20v1.32h-3.20zM459.20 684.50h3.20v1.32h-3.20zM462.40 708.26h3.20v1.32h-3.20zM462.40 738.62h3.20v1.32h-3.20zM465.60 705.62h3.20v1.32h-3.20zM465.60 708.26h3.20v1.32h-3.20zM465.60 714.86h3.20v1.32h-3.20zM465.60 717.50h3.20v1.32h-3.20zM465.60 725.42h3.20v1.32h-3.20zM465.60 729.38h3.20v2.64h-3.20zM465.60 734.66h3.20v2.64h-3.20zM465.60 738.62h3.20v1.32h-3.20zM465.60 745.22h3.20v3.96h-3.20zM472.00 718.82h3.20v1.32h-3.20zM472.00 741.26h3.20v1.32h-3.20zM472.00 747.86h3.20v1.32h-3.20zM472.00 757.10h3.20v1.32h-3.20zM472.00 765.02h3.20v1.32h-3.20zM472.00 767.66h3.20v1.32h-3.20zM475.20 704.30h3.20v1.32h-3.20zM475.20 708.26h3.20v1.32h-3.20zM475.20 768.98h3.20v1.32h-3.20zM478.40 692.42h3.20v3.96h-3.20zM478.40 697.70h3.20v3.96h-3.20zM478.40 739.94h3.20v1.32h-3.20zM481.60 706.94h3.20v2.64h-3.20zM481.60 712.22h3.20v1.32h-3.20zM481.60 714.86h3.20v5.28h-3.20zM481.60 721.46h3.20v3.96h-3.20zM481.60 726.74h3.20v6.60h-3.20zM481.60 734.66h3.20v2.64h-3.20zM481.60 743.90h3.20v1.32h-3.20zM481.60 746.54h3.20v1.32h-3.20zM481.60 750.50h3.20v3.96h-3.20zM481.60 755.78h3.20v1.32h-3.20zM481.60 759.74h3.20v1.32h-3.20zM481.60 766.34h3.20v3.96h-3.20zM481.60 771.62h3.20v0.68h-3.20zM498.70 699.02h1.58v1.32h-1.58zM498.70 708.26h1.58v1.32h-1.58zM498.70 710.90h1.58v1.32h-1.58zM500.28 693.74h1.58v1.32h-1.58zM501.86 710.90h1.58v2.64h-1.58zM503.44 699.02h1.58v1.32h-1.58zM509.76 693.74h1.58v3.96h-1.58zM509.76 700.34h1.58v2.64h-1.58zM509.76 713.54h1.58v1.32h-1.58zM511.34 704.30h1.58v1.32h-1.58zM511.34 714.86h1.58v1.32h-1.58zM512.92 705.62h1.58v5.28h-1.58zM512.92 712.22h1.58v3.96h-1.58zM512.92 718.82h1.58v3.96h-1.58zM519.24 671.30h1.58v2.64h-1.58zM519.24 676.58h1.58v2.64h-1.58zM519.24 681.86h1.58v3.96h-1.58zM519.24 687.14h1.58v2.64h-1.58zM519.24 695.06h1.58v1.32h-1.58zM519.24 699.02h1.58v1.32h-1.58zM519.24 701.66h1.58v3.96h-1.58zM520.82 696.38h1.58v1.32h-1.58zM523.98 708.26h1.58v1.32h-1.58zM523.98 722.78h1.58v1.32h-1.58zM523.98 725.42h1.58v1.32h-1.58zM523.98 728.06h1.58v2.64h-1.58zM523.98 749.18h1.58v2.64h-1.58zM525.56 728.06h1.58v1.32h-1.58zM527.14 697.70h1.58v1.32h-1.58zM527.14 700.34h1.58v2.64h-1.58zM527.14 705.62h1.58v2.64h-1.58zM527.14 709.58h1.58v1.32h-1.58zM527.14 716.18h1.58v1.32h-1.58zM527.14 718.82h1.58v1.32h-1.58zM527.14 721.46h1.58v1.32h-1.58zM527.14 726.74h1.58v1.32h-1.58zM527.14 734.66h1.58v1.32h-1.58zM527.14 738.62h1.58v2.64h-1.58zM527.14 747.86h1.58v1.32h-1.58zM527.14 751.82h1.58v3.96h-1.58zM527.14 759.74h1.58v1.32h-1.58zM527.14 762.38h1.58v3.96h-1.58zM527.14 770.30h1.58v2.00h-1.58zM528.72 681.86h1.58v1.32h-1.58zM528.72 705.62h1.58v2.64h-1.58zM528.72 714.86h1.58v3.96h-1.58zM528.72 720.14h1.58v3.96h-1.58zM528.72 725.42h1.58v1.32h-1.58zM528.72 729.38h1.58v1.32h-1.58zM528.72 732.02h1.58v2.64h-1.58zM528.72 735.98h1.58v6.60h-1.58zM528.72 743.90h1.58v1.32h-1.58zM528.72 746.54h1.58v5.28h-1.58zM528.72 753.14h1.58v2.64h-1.58zM528.72 757.10h1.58v2.64h-1.58zM528.72 763.70h1.58v3.96h-1.58zM528.72 768.98h1.58v3.32h-1.58zM531.88 705.62h1.58v1.32h-1.58zM533.46 708.26h1.58v1.32h-1.58zM533.46 724.10h1.58v1.32h-1.58zM533.46 732.02h1.58v2.64h-1.58zM533.46 735.98h1.58v1.32h-1.58zM533.46 743.90h1.58v2.64h-1.58zM536.62 712.22h1.58v1.32h-1.58zM536.62 730.70h1.58v1.32h-1.58zM536.62 735.98h1.58v1.32h-1.58zM536.62 742.58h1.58v1.32h-1.58zM536.62 759.74h1.58v1.32h-1.58zM536.62 771.62h1.58v0.68h-1.58zM538.20 709.58h1.58v1.32h-1.58zM538.20 758.42h1.58v1.32h-1.58zM539.78 680.54h1.58v1.32h-1.58zM539.78 759.74h1.58v1.32h-1.58zM541.36 724.10h1.58v1.32h-1.58zM542.94 683.18h1.58v5.28h-1.58zM542.94 692.42h1.58v3.96h-1.58zM542.94 697.70h1.58v3.96h-1.58zM542.94 702.98h1.58v2.64h-1.58zM546.10 675.26h1.58v1.32h-1.58zM546.10 720.14h1.58v1.32h-1.58zM546.10 733.34h1.58v2.64h-1.58zM546.10 739.94h1.58v1.32h-1.58zM546.10 753.14h1.58v1.32h-1.58zM546.10 755.78h1.58v1.32h-1.58zM546.10 770.30h1.58v1.32h-1.58zM547.68 672.62h1.58v1.32h-1.58zM547.68 680.54h1.58v1.32h-1.58zM547.68 702.98h1.58v1.32h-1.58zM547.68 734.66h1.58v1.32h-1.58zM555.42 695.06h1.61v1.32h-1.61zM557.03 689.78h1.61v1.32h-1.61zM557.03 695.06h1.61v1.32h-1.61zM557.03 704.30h1.61v1.32h-1.61zM557.03 716.18h1.61v1.32h-1.61zM558.64 712.22h1.61v2.64h-1.61zM558.64 717.50h1.61v1.32h-1.61zM563.47 687.14h1.61v1.32h-1.61zM563.47 699.02h1.61v1.32h-1.61zM563.47 701.66h1.61v1.32h-1.61zM563.47 704.30h1.61v1.32h-1.61zM563.47 708.26h1.61v1.32h-1.61zM563.47 713.54h1.61v1.32h-1.61zM563.47 720.14h1.61v1.32h-1.61zM565.08 721.46h1.61v1.32h-1.61zM576.35 702.98h1.61v1.32h-1.61zM577.96 705.62h1.61v2.64h-1.61zM577.96 716.18h1.61v2.64h-1.61zM577.96 720.14h1.61v2.64h-1.61zM577.96 724.10h1.61v5.28h-1.61zM579.57 681.86h1.61v1.32h-1.61zM579.57 688.46h1.61v1.32h-1.61zM579.57 693.74h1.61v1.32h-1.61zM579.57 702.98h1.61v1.32h-1.61zM582.79 708.26h1.61v2.64h-1.61zM582.79 712.22h1.61v1.32h-1.61zM582.79 716.18h1.61v1.32h-1.61zM582.79 724.10h1.61v1.32h-1.61zM582.79 728.06h1.61v1.32h-1.61zM582.79 730.70h1.61v1.32h-1.61zM582.79 733.34h1.61v1.32h-1.61zM587.62 720.14h1.61v3.96h-1.61zM587.62 729.38h1.61v1.32h-1.61zM587.62 735.98h1.61v2.64h-1.61zM590.84 709.58h1.61v2.64h-1.61zM590.84 714.86h1.61v3.96h-1.61zM590.84 721.46h1.61v5.28h-1.61zM590.84 729.38h1.61v1.32h-1.61zM590.84 732.02h1.61v1.32h-1.61zM590.84 734.66h1.61v3.96h-1.61zM590.84 741.26h1.61v1.32h-1.61zM592.45 697.70h1.61v2.64h-1.61zM594.06 716.18h1.61v1.32h-1.61zM594.06 722.78h1.61v1.32h-1.61zM594.06 728.06h1.61v1.32h-1.61zM594.06 735.98h1.61v1.32h-1.61zM602.11 705.62h1.61v1.32h-1.61zM605.33 693.74h1.61v1.32h-1.61zM605.33 697.70h1.61v1.32h-1.61zM605.33 702.98h1.61v2.64h-1.61zM611.77 720.14h1.61v1.32h-1.61zM611.77 766.34h1.61v1.32h-1.61zM616.60 722.78h1.61v1.32h-1.61zM616.60 751.82h1.61v1.32h-1.61zM619.82 762.38h1.61v1.32h-1.61zM621.43 671.30h1.61v1.32h-1.61zM621.43 675.26h1.61v1.32h-1.61zM621.43 680.54h1.61v1.32h-1.61zM621.43 685.82h1.61v1.32h-1.61zM621.43 691.10h1.61v3.96h-1.61zM621.43 704.30h1.61v1.32h-1.61zM624.65 716.18h1.61v1.32h-1.61zM626.26 729.38h1.61v1.32h-1.61zM629.48 708.26h1.61v1.32h-1.61zM629.48 712.22h1.61v1.32h-1.61zM629.48 717.50h1.61v1.32h-1.61zM629.48 720.14h1.61v1.32h-1.61zM629.48 729.38h1.61v1.32h-1.61zM629.48 735.98h1.61v1.32h-1.61zM629.48 739.94h1.61v1.32h-1.61zM629.48 753.14h1.61v1.32h-1.61zM629.48 759.74h1.61v1.32h-1.61zM631.09 693.74h1.61v1.32h-1.61zM631.09 712.22h1.61v1.32h-1.61zM631.09 717.50h1.61v1.32h-1.61zM631.09 724.10h1.61v1.32h-1.61zM631.09 726.74h1.61v1.32h-1.61zM631.09 749.18h1.61v1.32h-1.61zM631.09 758.42h1.61v1.32h-1.61zM631.09 770.30h1.61v1.32h-1.61z" shape-rendering="crispEdges"/>
<path fill="#f8e621" d="M71.64 699.02h2.52v1.32h-2.52zM79.20 681.86h2.52v1.32h-2.52zM109.66 689.78h2.53v1.32h-2.53zM109.66 695.06h2.53v1.32h-2.53zM109.66 700.34h2.53v2.64h-2.53zM112.19 688.46h2.53v3.96h-2.53zM112.19 693.74h2.53v2.64h-2.53zM112.19 699.02h2.53v5.28h-2.53zM112.19 706.94h2.53v3.96h-2.53zM112.19 712.22h2.53v6.60h-2.53zM112.19 720.14h2.53v1.32h-2.53zM112.19 722.78h2.53v2.64h-2.53zM114.72 672.62h2.53v2.64h-2.53zM114.72 676.58h2.53v1.32h-2.53zM114.72 679.22h2.53v1.32h-2.53zM114.72 681.86h2.53v3.96h-2.53zM114.72 687.14h2.53v2.64h-2.53zM114.72 691.10h2.53v1.32h-2.53zM114.72 695.06h2.53v10.56h-2.53zM117.25 691.10h2.53v1.32h-2.53zM119.78 672.62h2.53v7.92h-2.53zM119.78 681.86h2.53v1.32h-2.53zM119.78 684.50h2.53v9.24h-2.53zM119.78 697.70h2.53v7.92h-2.53zM119.78 706.94h2.53v1.32h-2.53zM119.78 709.58h2.53v5.28h-2.53zM119.78 721.46h2.53v2.64h-2.53zM119.78 730.70h2.53v1.32h-2.53zM122.31 673.94h2.53v6.60h-2.53zM122.31 681.86h2.53v17.16h-2.53zM122.31 700.34h2.53v3.96h-2.53zM122.31 705.62h2.53v2.64h-2.53zM122.31 709.58h2.53v11.88h-2.53zM122.31 724.10h2.53v10.56h-2.53zM124.84 672.62h2.53v1.32h-2.53zM124.84 675.26h2.53v1.32h-2.53zM124.84 677.90h2.53v2.64h-2.53zM124.84 681.86h2.53v13.20h-2.53zM124.84 696.38h2.53v13.20h-2.53zM124.84 710.90h2.53v3.96h-2.53zM124.84 716.18h2.53v6.60h-2.53zM124.84 724.10h2.53v14.52h-2.53zM127.37 672.62h2.53v2.64h-2.53zM127.37 684.50h2.53v1.32h-2.53zM127.37 688.46h2.53v1.32h-2.53zM127.37 692.42h2.53v1.32h-2.53zM127.37 700.34h2.53v1.32h-2.53zM127.37 713.54h2.53v1.32h-2.53zM127.37 725.42h2.53v1.32h-2.53zM127.37 729.38h2.53v1.32h-2.53zM127.37 732.02h2.53v1.32h-2.53zM134.96 681.86h2.53v1.32h-2.53zM137.49 680.54h2.53v5.28h-2.53zM137.49 687.14h2.53v21.12h-2.53zM137.49 709.58h2.53v3.96h-2.53zM137.49 714.86h2.53v2.64h-2.53zM137.49 718.82h2.53v18.48h-2.53zM137.49 738.62h2.53v3.96h-2.53zM140.02 705.62h2.53v1.32h-2.53zM140.02 714.86h2.53v1.32h-2.53zM140.02 717.50h2.53v1.32h-2.53zM140.02 721.46h2.53v1.32h-2.53zM157.73 687.14h2.53v5.28h-2.53zM157.73 693.74h2.53v15.84h-2.53zM157.73 710.90h2.53v7.92h-2.53zM157.73 720.14h2.53v3.96h-2.53zM157.73 725.42h2.53v1.32h-2.53zM157.73 728.06h2.53v5.28h-2.53zM157.73 734.66h2.53v1.32h-2.53zM157.73 737.30h2.53v2.64h-2.53zM157.73 741.26h2.53v1.32h-2.53zM157.73 743.90h2.53v6.60h-2.53zM160.26 671.30h2.53v5.28h-2.53zM160.26 677.90h2.53v2.64h-2.53zM160.26 681.86h2.53v17.16h-2.53zM160.26 700.34h2.53v6.60h-2.53zM160.26 708.26h2.53v11.88h-2.53zM160.26 724.10h2.53v11.88h-2.53zM160.26 737.30h2.53v10.56h-2.53zM160.26 749.18h2.53v2.64h-2.53zM160.26 753.14h2.53v1.32h-2.53zM167.85 671.30h2.53v1.32h-2.53zM167.85 676.58h2.53v2.64h-2.53zM167.85 684.50h2.53v2.64h-2.53zM167.85 689.78h2.53v2.64h-2.53zM167.85 693.74h2.53v5.28h-2.53zM167.85 704.30h2.53v7.92h-2.53zM167.85 713.54h2.53v13.20h-2.53zM167.85 728.06h2.53v2.64h-2.53zM167.85 732.02h2.53v13.20h-2.53zM167.85 746.54h2.53v13.20h-2.53zM167.85 761.06h2.53v10.56h-2.53zM177.97 734.66h2.53v1.32h-2.53zM180.50 671.30h2.53v13.20h-2.53zM180.50 685.82h2.53v3.96h-2.53zM180.50 691.10h2.53v5.28h-2.53zM180.50 697.70h2.53v2.64h-2.53zM180.50 701.66h2.53v6.60h-2.53zM180.50 709.58h2.53v6.60h-2.53zM180.50 717.50h2.53v10.56h-2.53zM180.50 729.38h2.53v6.60h-2.53zM180.50 737.30h2.53v1.32h-2.53zM180.50 739.94h2.53v9.24h-2.53zM180.50 751.82h2.53v9.24h-2.53zM180.50 763.70h2.53v8.60h-2.53zM183.03 691.10h2.53v1.32h-2.53zM183.03 693.74h2.53v1.32h-2.53zM183.03 697.70h2.53v1.32h-2.53zM183.03 702.98h2.53v1.32h-2.53zM183.03 705.62h2.53v5.28h-2.53zM183.03 712.22h2.53v5.28h-2.53zM183.03 718.82h2.53v3.96h-2.53zM183.03 724.10h2.53v2.64h-2.53zM183.03 728.06h2.53v1.32h-2.53zM183.03 732.02h2.53v1.32h-2.53zM183.03 734.66h2.53v14.52h-2.53zM183.03 750.50h2.53v6.60h-2.53zM183.03 758.42h2.53v1.32h-2.53zM183.03 761.06h2.53v5.28h-2.53zM183.03 767.66h2.53v1.32h-2.53zM183.03 771.62h2.53v0.68h-2.53zM300.80 693.74h1.62v3.96h-1.62zM300.80 700.34h1.62v3.96h-1.62zM312.14 702.98h1.62v1.32h-1.62zM313.76 671.30h1.62v7.92h-1.62zM313.76 680.54h1.62v1.32h-1.62zM313.76 683.18h1.62v18.48h-1.62zM313.76 702.98h1.62v2.64h-1.62zM315.38 702.98h1.62v1.32h-1.62zM321.86 671.30h1.62v7.92h-1.62zM321.86 680.54h1.62v2.64h-1.62zM321.86 684.50h1.62v2.64h-1.62zM321.86 688.46h1.62v6.60h-1.62zM321.86 696.38h1.62v9.24h-1.62zM325.10 677.90h1.62v3.96h-1.62zM325.10 683.18h1.62v2.64h-1.62zM325.10 687.14h1.62v9.24h-1.62zM325.10 697.70h1.62v1.32h-1.62zM325.10 700.34h1.62v5.28h-1.62zM326.72 673.94h1.62v1.32h-1.62zM326.72 677.90h1.62v1.32h-1.62zM326.72 680.54h1.62v1.32h-1.62zM326.72 691.10h1.62v1.32h-1.62zM329.96 693.74h1.62v6.60h-1.62zM329.96 701.66h1.62v3.96h-1.62zM331.58 681.86h1.62v1.32h-1.62zM331.58 684.50h1.62v7.92h-1.62zM331.58 693.74h1.62v3.96h-1.62zM331.58 699.02h1.62v5.28h-1.62zM360.00 705.62h3.20v2.64h-3.20zM360.00 709.58h3.20v2.64h-3.20zM360.00 714.86h3.20v1.32h-3.20zM385.60 714.86h3.20v1.32h-3.20zM385.60 720.14h3.20v1.32h-3.20zM385.60 732.02h3.20v1.32h-3.20zM404.80 689.78h3.20v3.96h-3.20zM404.80 702.98h3.20v1.32h-3.20zM424.00 730.70h3.20v1.32h-3.20zM436.80 706.94h3.20v1.32h-3.20zM436.80 714.86h3.20v1.32h-3.20zM436.80 743.90h3.20v1.32h-3.20zM436.80 751.82h3.20v1.32h-3.20zM456.00 713.54h3.20v1.32h-3.20zM456.00 720.14h3.20v1.32h-3.20zM456.00 732.02h3.20v1.32h-3.20zM456.00 739.94h3.20v2.64h-3.20zM456.00 746.54h3.20v1.32h-3.20zM456.00 758.42h3.20v1.32h-3.20zM456.00 770.30h3.20v1.32h-3.20zM544.52 708.26h1.58v3.96h-1.58zM544.52 713.54h1.58v17.16h-1.58zM544.52 732.02h1.58v3.96h-1.58zM544.52 737.30h1.58v7.92h-1.58zM544.52 747.86h1.58v9.24h-1.58zM544.52 759.74h1.58v6.60h-1.58zM544.52 767.66h1.58v4.64h-1.58zM560.25 680.54h1.61v1.32h-1.61zM560.25 684.50h1.61v1.32h-1.61zM560.25 704.30h1.61v1.32h-1.61zM573.13 691.10h1.61v9.24h-1.61zM573.13 701.66h1.61v3.96h-1.61zM595.67 693.74h1.61v1.32h-1.61zM595.67 696.38h1.61v1.32h-1.61zM600.50 688.46h1.61v1.32h-1.61zM600.50 691.10h1.61v1.32h-1.61zM600.50 696.38h1.61v1.32h-1.61zM600.50 699.02h1.61v1.32h-1.61zM605.33 705.62h1.61v1.32h-1.61zM605.33 712.22h1.61v1.32h-1.61zM605.33 728.06h1.61v2.64h-1.61zM605.33 735.98h1.61v1.32h-1.61zM605.33 738.62h1.61v1.32h-1.61zM605.33 768.98h1.61v1.32h-1.61zM608.55 692.42h1.61v1.32h-1.61zM608.55 696.38h1.61v3.96h-1.61zM608.55 704.30h1.61v1.32h-1.61zM610.16 693.74h1.61v1.32h-1.61zM610.16 699.02h1.61v1.32h-1.61zM611.77 695.06h1.61v2.64h-1.61zM611.77 701.66h1.61v1.32h-1.61zM621.43 717.50h1.61v2.64h-1.61zM621.43 732.02h1.61v1.32h-1.61zM621.43 741.26h1.61v1.32h-1.61zM621.43 746.54h1.61v1.32h-1.61zM621.43 750.50h1.61v1.32h-1.61zM621.43 755.78h1.61v1.32h-1.61zM621.43 761.06h1.61v3.96h-1.61zM621.43 768.98h1.61v1.32h-1.61z" shape-rendering="crispEdges"/>
<rect x="53.5" y="703.1" width="134.8" height="0.8" fill="#fff" opacity="0.75"/>
<rect x="53.5" y="705.1" width="134.8" height="0.8" fill="#fff" opacity="0.75"/>
<line x1="53.5" y1="671" x2="53.5" y2="772.6" stroke="#8a8a8a" stroke-width="0.8"/>
<line x1="188.3" y1="671" x2="188.3" y2="772.6" stroke="#8a8a8a" stroke-width="0.8"/>
<line x1="51.3" y1="672.2" x2="53.5" y2="672.2" stroke="#8a8a8a" stroke-width="0.8"/>
<line x1="51.3" y1="704.3" x2="53.5" y2="704.3" stroke="#8a8a8a" stroke-width="0.8"/>
<line x1="51.3" y1="738.7" x2="53.5" y2="738.7" stroke="#8a8a8a" stroke-width="0.8"/>
<line x1="51.3" y1="771.3" x2="53.5" y2="771.3" stroke="#8a8a8a" stroke-width="0.8"/>
<rect x="53.5" y="660.3" width="134.8" height="10.8" fill="#a8cf84" stroke="#6f7f6f" stroke-width="0.5"/>
<text x="123.5" y="668.9" font-size="8.7" text-anchor="middle" fill="#fff" textLength="72.7" lengthAdjust="spacingAndGlyphs">EEA1<tspan dy="-3" font-size="6" font-weight="bold">+/−</tspan><tspan dy="3"> mRNA-LNP</tspan></text>
<rect x="53.5" y="772.6" width="49.7" height="7.6" fill="#e3e3e3" stroke="#8a8a8a" stroke-width="0.6"/>
<rect x="103.2" y="772.6" width="85.1" height="7.6" fill="#8a9cab" stroke="#6a7a88" stroke-width="0.6"/>
<rect x="202.5" y="703.1" width="134.1" height="0.8" fill="#fff" opacity="0.75"/>
<rect x="202.5" y="705.1" width="134.1" height="0.8" fill="#fff" opacity="0.75"/>
<line x1="202.5" y1="671" x2="202.5" y2="772.6" stroke="#8a8a8a" stroke-width="0.8"/>
<line x1="336.6" y1="671" x2="336.6" y2="772.6" stroke="#8a8a8a" stroke-width="0.8"/>
<line x1="200.3" y1="672.2" x2="202.5" y2="672.2" stroke="#8a8a8a" stroke-width="0.8"/>
<line x1="200.3" y1="704.3" x2="202.5" y2="704.3" stroke="#8a8a8a" stroke-width="0.8"/>
<line x1="200.3" y1="738.7" x2="202.5" y2="738.7" stroke="#8a8a8a" stroke-width="0.8"/>
<line x1="200.3" y1="771.3" x2="202.5" y2="771.3" stroke="#8a8a8a" stroke-width="0.8"/>
<rect x="202.5" y="660.3" width="134.1" height="10.8" fill="#a8cf84" stroke="#6f7f6f" stroke-width="0.5"/>
<text x="272.4" y="668.9" font-size="8.7" text-anchor="middle" fill="#fff" textLength="71.2" lengthAdjust="spacingAndGlyphs">EEA1<tspan dy="-3" font-size="6" font-weight="bold">+/−</tspan><tspan dy="3"> siRNA-LNP</tspan></text>
<rect x="202.5" y="772.6" width="96.7" height="7.6" fill="#e3e3e3" stroke="#8a8a8a" stroke-width="0.6"/>
<rect x="299.2" y="772.6" width="37.4" height="7.6" fill="#8a9cab" stroke="#6a7a88" stroke-width="0.6"/>
<rect x="350.2" y="703.1" width="135.3" height="0.8" fill="#fff" opacity="0.75"/>
<rect x="350.2" y="705.1" width="135.3" height="0.8" fill="#fff" opacity="0.75"/>
<line x1="350.2" y1="671" x2="350.2" y2="772.6" stroke="#8a8a8a" stroke-width="0.8"/>
<line x1="485.5" y1="671" x2="485.5" y2="772.6" stroke="#8a8a8a" stroke-width="0.8"/>
<line x1="348.0" y1="672.2" x2="350.2" y2="672.2" stroke="#8a8a8a" stroke-width="0.8"/>
<line x1="348.0" y1="704.3" x2="350.2" y2="704.3" stroke="#8a8a8a" stroke-width="0.8"/>
<line x1="348.0" y1="738.7" x2="350.2" y2="738.7" stroke="#8a8a8a" stroke-width="0.8"/>
<line x1="348.0" y1="771.3" x2="350.2" y2="771.3" stroke="#8a8a8a" stroke-width="0.8"/>
<rect x="350.2" y="660.3" width="135.3" height="10.8" fill="#2778b5" stroke="#6f7f6f" stroke-width="0.5"/>
<text x="419.4" y="668.9" font-size="8.7" text-anchor="middle" fill="#fff" textLength="76.1" lengthAdjust="spacingAndGlyphs">Rab5<tspan dy="-3" font-size="6" font-weight="bold">+/−</tspan><tspan dy="3"> mRNA-LNP</tspan></text>
<rect x="350.2" y="772.6" width="7.4" height="7.6" fill="#e3e3e3" stroke="#8a8a8a" stroke-width="0.6"/>
<rect x="357.6" y="772.6" width="127.9" height="7.6" fill="#8a9cab" stroke="#6a7a88" stroke-width="0.6"/>
<rect x="498.6" y="703.1" width="134.4" height="0.8" fill="#fff" opacity="0.75"/>
<rect x="498.6" y="705.1" width="134.4" height="0.8" fill="#fff" opacity="0.75"/>
<line x1="498.6" y1="671" x2="498.6" y2="772.6" stroke="#8a8a8a" stroke-width="0.8"/>
<line x1="633.0" y1="671" x2="633.0" y2="772.6" stroke="#8a8a8a" stroke-width="0.8"/>
<line x1="496.40000000000003" y1="672.2" x2="498.6" y2="672.2" stroke="#8a8a8a" stroke-width="0.8"/>
<line x1="496.40000000000003" y1="704.3" x2="498.6" y2="704.3" stroke="#8a8a8a" stroke-width="0.8"/>
<line x1="496.40000000000003" y1="738.7" x2="498.6" y2="738.7" stroke="#8a8a8a" stroke-width="0.8"/>
<line x1="496.40000000000003" y1="771.3" x2="498.6" y2="771.3" stroke="#8a8a8a" stroke-width="0.8"/>
<rect x="498.6" y="660.3" width="134.4" height="10.8" fill="#2778b5" stroke="#6f7f6f" stroke-width="0.5"/>
<text x="567.7" y="668.9" font-size="8.7" text-anchor="middle" fill="#fff" textLength="71.4" lengthAdjust="spacingAndGlyphs">Rab5<tspan dy="-3" font-size="6" font-weight="bold">+/−</tspan><tspan dy="3"> siRNA-LNP</tspan></text>
<rect x="498.6" y="772.6" width="51.9" height="7.6" fill="#e3e3e3" stroke="#8a8a8a" stroke-width="0.6"/>
<rect x="550.5" y="772.6" width="82.5" height="7.6" fill="#8a9cab" stroke="#6a7a88" stroke-width="0.6"/>
<text x="49.4" y="675.0" font-size="8.7" text-anchor="end" fill="#222">−55</text>
<text x="49.4" y="707.1" font-size="8.7" text-anchor="end" fill="#222">0</text>
<text x="49.4" y="741.4" font-size="8.7" text-anchor="end" fill="#222">55</text>
<text x="49.4" y="772.0" font-size="8.7" text-anchor="end" fill="#222">110</text>
<text x="28.6" y="646.0" font-size="8.3" fill="#222">Vesicles</text>
<line x1="28.5" y1="651.5" x2="55" y2="651.5" stroke="#333" stroke-width="0.8"/>
<polygon points="57.2,651.5 53.2,649.7 53.2,653.3" fill="#333"/>
<line x1="28.5" y1="651.5" x2="28.5" y2="700" stroke="#333" stroke-width="0.8"/>
<polygon points="28.5,702.3 26.7,698.3 30.3,698.3" fill="#333"/>
<text transform="translate(22.2 677.1) rotate(-90)" font-size="8.5" text-anchor="middle" fill="#222">Time (s)</text>
<defs><linearGradient id="cbtop" x1="0" y1="1" x2="0" y2="0"><stop offset="0" stop-color="#3c8a3e"/><stop offset="0.35" stop-color="#6db33a"/><stop offset="0.7" stop-color="#b5d22d"/><stop offset="1" stop-color="#f6e522"/></linearGradient><linearGradient id="cbbot" x1="0" y1="1" x2="0" y2="0"><stop offset="0" stop-color="#48106a"/><stop offset="0.5" stop-color="#414848"/><stop offset="1" stop-color="#3c8a3e"/></linearGradient></defs>
<rect x="641.8" y="660.8" width="7.9" height="43.4" fill="url(#cbtop)"/>
<rect x="641.8" y="704.2" width="7.9" height="43.3" fill="url(#cbbot)"/>
<rect x="641.8" y="703.7" width="7.9" height="0.9" fill="#fff"/>
<text x="651.6" y="664.9" font-size="7.8" fill="#222">10.0</text>
<text x="651.6" y="686.2" font-size="7.8" fill="#222">5.0</text>
<text x="651.6" y="707.1" font-size="7.8" fill="#222">1.0</text>
<text x="651.6" y="728.7" font-size="7.8" fill="#222">0.5</text>
<text x="651.6" y="749.9" font-size="7.8" fill="#222">0.0</text>
<text transform="translate(676.2 705.4) rotate(-90)" font-size="8.5" text-anchor="middle" fill="#222">Norm. marker intensity</text>
<rect x="642.2" y="761.3" width="7.5" height="7" fill="#e3e3e3" stroke="#9a9a9a" stroke-width="0.5"/>
<rect x="642.2" y="772.2" width="7.5" height="7" fill="#8a9cab" stroke="#6a7a88" stroke-width="0.5"/>
<text x="655.8" y="768.0" font-size="8.3" fill="#222">Marker<tspan dy="-3" font-size="5.5">−</tspan></text>
<text x="655.8" y="779.0" font-size="8.3" fill="#222">Marker<tspan dy="-3" font-size="5.5">+</tspan></text>
</svg>
</body></html>
